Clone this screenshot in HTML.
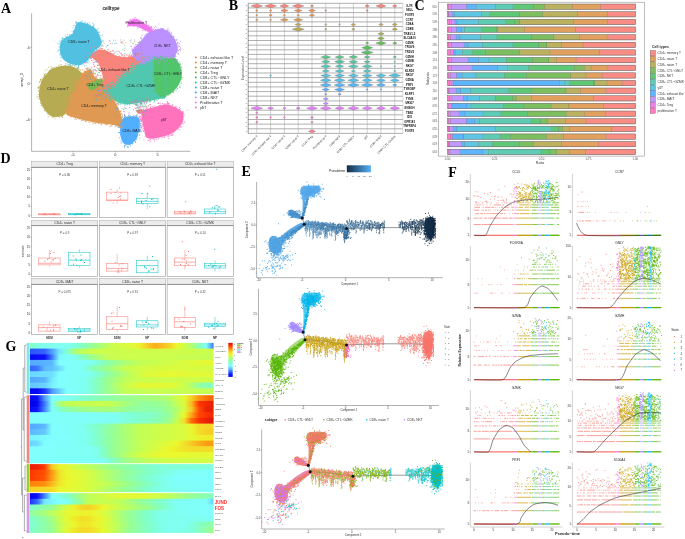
<!DOCTYPE html>
<html><head><meta charset="utf-8"><style>
html,body{margin:0;padding:0;background:#fff;width:685px;height:539px;overflow:hidden}
svg{display:block;will-change:transform}

</style></head><body>
<svg width="685" height="539" viewBox="0 0 685 539" font-family="'Liberation Sans', sans-serif" fill="#000">
<rect width="685" height="539" fill="#fff"/>
<text x="1.0" y="12.6" font-size="14" font-weight="bold" font-family="'Liberation Serif', serif">A</text>
<text x="111.0" y="10.3" font-size="4.6" text-anchor="middle" fill="#111" font-weight="bold">celltype</text>
<path d="M31.6 13.5L31.6 151.3" stroke="#555" stroke-width="0.45"/>
<path d="M31.6 151.3L190.3 151.3" stroke="#555" stroke-width="0.45"/>
<path d="M30.6 47.4L31.6 47.4" stroke="#555" stroke-width="0.4"/>
<text x="29.8" y="48.8" font-size="4" text-anchor="end" fill="#333">4</text>
<path d="M30.6 83.4L31.6 83.4" stroke="#555" stroke-width="0.4"/>
<text x="29.8" y="84.8" font-size="4" text-anchor="end" fill="#333">0</text>
<path d="M30.6 119.4L31.6 119.4" stroke="#555" stroke-width="0.4"/>
<text x="29.8" y="120.8" font-size="4" text-anchor="end" fill="#333">-4</text>
<path d="M73.0 151.3L73.0 152.3" stroke="#555" stroke-width="0.4"/>
<text x="73.0" y="156.3" font-size="3.9" text-anchor="middle" fill="#333">-5</text>
<path d="M115.3 151.3L115.3 152.3" stroke="#555" stroke-width="0.4"/>
<text x="115.3" y="156.3" font-size="3.9" text-anchor="middle" fill="#333">0</text>
<path d="M157.7 151.3L157.7 152.3" stroke="#555" stroke-width="0.4"/>
<text x="157.7" y="156.3" font-size="3.9" text-anchor="middle" fill="#333">5</text>
<text x="22.8" y="80.0" font-size="3.9" text-anchor="middle" fill="#333" transform="rotate(-90 22.8 80.0)">umap_2</text>
<path d="M65.60 113.20 C67.19 115.84 73.94 117.18 77.90 118.50 C81.86 119.82 88.03 121.20 92.00 122.00 C95.97 122.80 100.70 123.27 104.40 123.80 C108.11 124.33 114.06 124.97 116.70 125.50 C119.34 126.03 121.28 128.43 122.00 127.30 C122.72 126.17 121.77 120.11 121.50 118.00 C121.23 115.89 121.03 115.30 120.20 113.20 C119.38 111.10 117.05 106.11 116.00 104.00 C114.95 101.89 114.40 100.90 113.20 99.10 C112.00 97.30 109.32 93.59 108.00 92.00 C106.68 90.41 105.21 90.27 104.40 88.50 C103.59 86.73 103.56 81.62 102.60 80.20 C101.64 78.78 99.22 79.56 98.00 79.00 C96.78 78.44 95.33 77.47 94.50 76.50 C93.67 75.53 93.25 73.47 92.50 72.50 C91.75 71.53 90.55 70.22 89.50 70.00 C88.45 69.78 86.55 70.47 85.50 71.00 C84.45 71.53 83.11 72.99 82.50 73.50 C81.89 74.01 82.09 73.47 81.40 74.40 C80.71 75.33 79.22 77.31 77.90 79.70 C76.58 82.09 74.19 87.12 72.60 90.30 C71.01 93.48 68.35 97.47 67.30 100.90 C66.25 104.34 64.01 110.56 65.60 113.20Z" fill="#df9952"/>
<path d="M46.20 74.40 C47.62 72.77 49.38 70.33 51.50 69.10 C53.62 67.87 57.39 66.64 60.30 66.20 C63.21 65.77 68.26 65.70 70.90 66.20 C73.54 66.70 76.30 68.30 77.90 69.50 C79.51 70.70 81.58 72.48 81.60 74.20 C81.61 75.92 79.14 78.78 78.00 81.00 C76.86 83.22 75.12 86.60 74.00 89.00 C72.88 91.40 71.47 94.60 70.50 97.00 C69.53 99.40 68.23 102.84 67.50 105.00 C66.77 107.16 66.29 109.78 65.60 111.40 C64.91 113.02 64.62 114.97 62.90 115.80 C61.17 116.62 56.35 117.26 54.10 116.90 C51.85 116.54 49.62 114.99 47.90 113.40 C46.17 111.81 43.92 108.72 42.60 106.30 C41.28 103.88 39.55 100.05 39.10 97.30 C38.65 94.55 39.16 90.59 39.60 88.00 C40.04 85.41 41.01 82.04 42.00 80.00 C42.99 77.96 44.78 76.04 46.20 74.40Z" fill="#b6ab52"/>
<path d="M77.90 22.40 C79.39 21.93 82.86 22.42 85.30 23.20 C87.74 23.98 92.20 26.05 94.20 27.60 C96.20 29.15 97.53 31.46 98.60 33.50 C99.66 35.54 100.95 39.39 101.30 41.20 C101.64 43.02 101.62 44.43 100.90 45.60 C100.18 46.77 97.76 47.74 96.50 49.00 C95.24 50.26 93.55 52.58 92.50 54.00 C91.45 55.42 90.62 57.26 89.50 58.50 C88.38 59.74 86.53 61.29 85.00 62.30 C83.47 63.30 81.49 64.98 79.30 65.20 C77.11 65.42 72.84 64.73 70.40 63.80 C67.96 62.87 64.56 60.84 63.00 59.00 C61.44 57.16 60.36 53.96 60.00 51.50 C59.64 49.04 59.93 44.59 60.60 42.60 C61.27 40.61 63.03 39.31 64.50 38.20 C65.97 37.09 69.04 36.09 70.40 35.20 C71.77 34.32 72.85 33.63 73.60 32.30 C74.35 30.96 74.76 27.79 75.40 26.30 C76.05 24.82 76.42 22.86 77.90 22.40Z" fill="#52c1e1"/>
<path d="M103.00 90.00 C102.70 88.80 104.80 88.40 106.00 87.50 C107.20 86.60 109.42 85.28 111.00 84.00 C112.58 82.72 114.85 80.58 116.50 79.00 C118.15 77.42 120.42 75.08 122.00 73.50 C123.58 71.92 125.45 69.86 127.00 68.50 C128.55 67.14 130.80 65.45 132.30 64.40 C133.80 63.35 135.55 62.38 137.00 61.50 C138.45 60.62 140.35 59.10 142.00 58.50 C143.65 57.90 146.02 57.65 148.00 57.50 C149.98 57.35 152.65 57.35 155.20 57.50 C157.75 57.65 163.38 52.88 165.00 58.50 C166.62 64.12 166.56 89.05 166.00 95.00 C165.44 100.95 163.40 97.38 161.30 98.20 C159.20 99.03 154.62 99.94 152.00 100.50 C149.38 101.06 146.35 101.45 143.80 101.90 C141.25 102.35 137.62 103.17 135.00 103.50 C132.38 103.83 128.85 104.26 126.30 104.10 C123.75 103.94 120.06 103.17 118.00 102.40 C115.94 101.64 114.10 100.03 112.60 99.00 C111.10 97.97 109.44 96.85 108.00 95.50 C106.56 94.15 103.30 91.20 103.00 90.00Z" fill="#52c7b0"/>
<path d="M155.20 58.40 C156.82 57.14 162.16 57.72 165.00 57.60 C167.84 57.48 172.07 56.87 174.10 57.60 C176.12 58.34 177.44 60.64 178.50 62.50 C179.56 64.36 180.73 67.75 181.20 70.00 C181.66 72.25 181.96 75.34 181.60 77.50 C181.24 79.66 179.87 82.53 178.80 84.40 C177.74 86.28 175.97 88.48 174.50 90.00 C173.03 91.52 170.88 93.56 169.00 94.50 C167.12 95.44 163.80 96.45 162.00 96.30 C160.20 96.15 158.11 95.05 157.00 93.50 C155.89 91.95 155.08 88.59 154.60 86.00 C154.12 83.41 153.86 79.20 153.80 76.20 C153.74 73.20 153.99 68.67 154.20 66.00 C154.41 63.33 153.58 59.66 155.20 58.40Z" fill="#52c46c"/>
<path d="M90.80 56.00 C90.42 54.42 93.64 52.48 95.00 51.50 C96.36 50.52 98.40 49.68 99.90 49.50 C101.40 49.32 103.64 49.92 105.00 50.30 C106.36 50.67 107.65 51.30 109.00 52.00 C110.35 52.70 112.28 54.31 114.00 55.00 C115.72 55.69 118.70 56.27 120.50 56.60 C122.30 56.93 124.35 57.23 126.00 57.20 C127.65 57.17 130.00 56.79 131.50 56.40 C133.00 56.01 134.81 54.93 136.00 54.60 C137.19 54.27 138.40 54.05 139.40 54.20 C140.41 54.35 142.31 54.75 142.70 55.60 C143.09 56.45 142.85 58.71 142.00 59.90 C141.15 61.09 138.45 62.52 137.00 63.50 C135.55 64.47 133.80 65.35 132.30 66.40 C130.80 67.45 128.55 69.14 127.00 70.50 C125.45 71.86 123.58 73.92 122.00 75.50 C120.42 77.08 118.06 79.45 116.50 81.00 C114.94 82.55 113.17 84.60 111.60 85.80 C110.02 87.00 107.14 88.61 106.00 89.00 C104.86 89.39 104.38 89.45 104.00 88.40 C103.62 87.35 103.72 84.01 103.50 82.00 C103.28 79.99 102.95 77.10 102.50 75.00 C102.05 72.90 101.25 69.95 100.50 68.00 C99.75 66.05 98.95 63.80 97.50 62.00 C96.05 60.20 91.17 57.58 90.80 56.00Z" fill="#f9847c"/>
<path d="M147.30 33.50 C148.68 32.47 151.09 31.32 153.00 30.60 C154.91 29.88 158.12 28.82 160.00 28.70 C161.88 28.58 164.09 29.20 165.50 29.80 C166.91 30.40 168.20 31.62 169.40 32.70 C170.60 33.78 172.53 35.68 173.50 37.00 C174.47 38.32 175.30 40.08 175.90 41.50 C176.50 42.92 177.26 45.08 177.50 46.50 C177.74 47.92 177.78 49.73 177.50 51.00 C177.22 52.27 176.11 54.05 175.60 55.00 C175.09 55.95 175.69 56.91 174.10 57.30 C172.51 57.69 167.84 57.47 165.00 57.60 C162.16 57.73 157.75 57.77 155.20 58.20 C152.65 58.64 149.98 59.86 148.00 60.50 C146.02 61.14 143.57 62.50 142.00 62.50 C140.43 62.50 138.78 61.55 137.50 60.50 C136.22 59.45 134.32 56.92 133.50 55.50 C132.68 54.08 131.78 52.20 132.00 51.00 C132.22 49.80 133.88 48.77 135.00 47.50 C136.12 46.23 138.18 44.00 139.50 42.50 C140.82 41.00 142.63 38.85 143.80 37.50 C144.97 36.15 145.92 34.53 147.30 33.50Z" fill="#bb91ff"/>
<path d="M127.60 21.60 C128.02 20.79 129.69 20.54 131.00 20.20 C132.31 19.86 134.80 19.12 136.30 19.30 C137.80 19.48 139.77 20.77 141.00 21.40 C142.23 22.03 143.51 22.87 144.50 23.50 C145.49 24.13 146.59 24.90 147.60 25.60 C148.60 26.30 150.51 27.54 151.20 28.20 C151.89 28.86 152.47 29.52 152.20 30.00 C151.93 30.48 150.41 31.35 149.40 31.40 C148.40 31.45 146.55 30.68 145.50 30.30 C144.45 29.93 143.44 29.39 142.40 28.90 C141.37 28.40 139.62 27.41 138.60 27.00 C137.58 26.59 136.74 26.34 135.60 26.20 C134.46 26.06 132.11 26.19 131.00 26.10 C129.89 26.01 128.71 26.28 128.20 25.60 C127.69 24.93 127.18 22.41 127.60 21.60Z" fill="#f176ed"/>
<path d="M123.40 118.00 C124.45 117.23 126.97 116.66 128.50 116.40 C130.03 116.15 132.20 116.13 133.60 116.30 C135.00 116.47 136.90 116.87 137.80 117.50 C138.70 118.13 139.33 118.89 139.60 120.50 C139.87 122.11 139.81 126.17 139.60 128.20 C139.39 130.22 138.66 132.47 138.20 134.00 C137.73 135.53 137.16 137.20 136.50 138.40 C135.84 139.60 134.67 141.10 133.80 142.00 C132.93 142.90 131.66 144.00 130.70 144.40 C129.74 144.81 128.28 144.73 127.40 144.70 C126.52 144.67 125.55 144.68 124.80 144.20 C124.05 143.72 122.94 142.37 122.40 141.50 C121.86 140.63 121.53 139.68 121.20 138.40 C120.87 137.12 120.34 134.71 120.20 133.00 C120.06 131.29 120.11 128.72 120.30 127.00 C120.49 125.28 121.03 122.85 121.50 121.50 C121.97 120.15 122.35 118.77 123.40 118.00Z" fill="#52afff"/>
<path d="M142.30 110.70 C143.26 110.07 146.02 109.38 148.00 108.80 C149.98 108.22 153.55 107.33 155.50 106.80 C157.45 106.27 159.25 105.63 161.00 105.30 C162.75 104.97 165.40 104.42 167.20 104.60 C169.00 104.78 171.26 105.81 173.00 106.50 C174.74 107.19 177.45 108.42 178.80 109.20 C180.15 109.98 181.31 110.83 182.00 111.70 C182.69 112.57 183.24 113.83 183.40 115.00 C183.56 116.17 183.34 118.18 183.10 119.50 C182.86 120.82 182.56 122.47 181.80 123.80 C181.04 125.13 179.32 127.08 178.00 128.40 C176.68 129.72 174.57 131.56 173.00 132.60 C171.43 133.63 169.25 134.66 167.50 135.30 C165.75 135.95 163.13 136.45 161.30 136.90 C159.47 137.35 157.06 138.05 155.30 138.30 C153.55 138.56 150.92 138.75 149.60 138.60 C148.28 138.45 147.19 137.92 146.50 137.30 C145.81 136.69 145.38 135.75 145.00 134.50 C144.62 133.25 144.36 130.60 144.00 129.00 C143.64 127.39 142.93 125.60 142.60 123.80 C142.27 122.00 141.95 118.62 141.80 117.00 C141.65 115.38 141.53 113.94 141.60 113.00 C141.67 112.06 141.34 111.33 142.30 110.70Z" fill="#ff73bd"/>
<path d="M136.50 110.50 C136.72 109.90 138.63 109.45 139.50 109.50 C140.37 109.55 142.00 110.24 142.30 110.80 C142.60 111.36 142.15 112.80 141.50 113.20 C140.85 113.61 138.75 113.91 138.00 113.50 C137.25 113.09 136.28 111.10 136.50 110.50Z" fill="#f9847c"/>
<path d="M87.80 84.40 C88.40 83.61 91.47 83.07 93.00 82.50 C94.53 81.93 96.53 81.03 98.00 80.60 C99.47 80.16 102.26 79.27 102.80 79.60 C103.34 79.93 102.14 81.84 101.60 82.80 C101.06 83.76 100.12 85.17 99.20 86.00 C98.28 86.83 96.58 87.67 95.50 88.30 C94.42 88.93 92.97 90.28 92.00 90.20 C91.03 90.12 89.63 88.67 89.00 87.80 C88.37 86.93 87.20 85.20 87.80 84.40Z" fill="#74ba52"/>
<path transform="scale(.25)" d="M345 274h0m4 1h0m-19 4h0m7 7h0m1 1h0m10-7h0m0-2h0m5-1h0m6-1h0m1 5h0m0-3h0m1 1h0m2 4h0m1 0h0m2 2h0m3-5h0m-45 19h0m2-3h0m1-3h0m0 2h0m3-2h0m10-5h0m26 3h0m6 5h0m1-5h0m1 1h0m5 1h0m0 4h0m-60 4h0m62 5h0m4-3h0m1 8h0m3-2h0m3-8h0m-86 22h0m0-5h0m3 0h0m12 0h0m61-5h0m10 8h0m1-1h0m5-3h0m2-1h0m3 1h0m5-2h0m3 4h0m5 4h0m2-8h0m-128 20h0m8-8h0m6 7h0m5-7h0m102 3h0m1 0h0m3 1h0m-122 10h0m0 4h0m6-2h0m1 2h0m0-8h0m3-1h0m4 0h0m110 4h0m-130 10h0m4 5h0m5-7h0m122 1h0m3 3h0m0 1h0m0 6h0m1-9h0m5 6h0m1-7h0m-144 20h0m9-3h0m127 2h0m3-4h0m3-4h0m1 5h0m3-4h0m3 1h0m-155 14h0m5 4h0m0-5h0m2 8h0m149-11h0m1 3h0m0-3h0m1 6h0m1-5h0m3 3h0m0 2h0m6 0h0m-184 16h0m7-3h0m1-3h0m2 7h0m3-9h0m0 2h0m1 7h0m1-8h0m2-1h0m161-1h0m4 1h0m3 0h0m0 2h0m0 2h0m8-1h0m-191 17h0m1-5h0m2 1h0m1 1h0m0-7h0m4 2h0m178 1h0m5-1h0m1 5h0m3-3h0m-194 15h0m3-3h0m3 5h0m5-4h0m179-3h0m4 6h0m2-8h0m2 10h0m0-8h0m1 3h0m8 0h0m-213 15h0m6-4h0m5 2h0m197 1h0m0-7h0m2 1h0m2 9h0m-214 12h0m1-1h0m3-7h0m3 9h0m1-6h0m211 6h0m5 0h0m-230 12h0m4 0h0m7-8h0m1 4h0m0-1h0m10 4h0m203-9h0m1-1h0m1 2h0m3 8h0m1-10h0m0 11h0m1-9h0m0 3h0m-227 7h0m13 2h0m1 1h0m2-2h0m3 5h0m1-4h0m8 8h0m3-1h0m193 1h0m1-2h0m0-4h0m1 6h0m2-9h0m2-1h0m1 10h0m-204 2h0m11 1h0m5 7h0m2-6h0m1 2h0m1 0h0m2 6h0m2-10h0m3 5h0m1-2h0m5 1h0m2 4h0m5-1h0m19 2h0m138-8h0m3 2h0m2 1h0m1 5h0m4 0h0m-164 5h0m2 0h0m8 0h0m0-1h0m6 5h0m3 1h0m3-7h0m3 0h0m3 2h0m3 8h0m0-10h0m12 9h0m3-3h0m17 3h0m6-5h0m5 6h0m22 0h0m64-7h0m0 4h0m1 4h0m2-6h0m1-2h0m-118 12h0m5-3h0m5 0h0m1 2h0m10-1h0m1-1h0m5 1h0m5 6h0m2-6h0m0 5h0m14-2h0m3 1h0m4 3h0m2-2h0m2-2h0m13 4h0m1 2h0m5-3h0m3-3h0m12 6h0m8-1h0m0 2h0m1-1h0m1-1h0m0 2h0m11-1h0m-47 5h0m5-2h0m17 2h0m2-3h0m4 0h0m4 3h0m5 1h0m0 2h0m2-2h0m2-2h0m3 3h0m1 2h0m4-7h0m4 4h0m0-3h0m1 8h0" stroke="#df9952" stroke-width="3" stroke-linecap="square" fill="none"/>
<path transform="scale(.25)" d="M237 261h0m7-2h0m1 0h0m15 4h0m2-1h0m1 0h0m6-3h0m8 4h0m2-3h0m1-4h0m2 1h0m10 5h0m8 1h0m-105 6h0m9-2h0m1 7h0m2-2h0m5-1h0m5 0h0m8-4h0m11-3h0m9 10h0m17-6h0m16-1h0m9 2h0m2 5h0m1-5h0m3 1h0m0 2h0m6-1h0m6 4h0m4-1h0m1-3h0m5 3h0m0-3h0m-135 12h0m8-5h0m9 6h0m1-2h0m6 3h0m9-8h0m30-1h0m66 0h0m4 1h0m6 8h0m1-7h0m3 3h0m-145 17h0m1-2h0m3-1h0m15-7h0m2 1h0m119 5h0m0-5h0m3 0h0m4 7h0m0 2h0m1-5h0m1 0h0m-152 14h0m2-3h0m1-3h0m1 9h0m1-8h0m1 0h0m6 1h0m1-1h0m131 9h0m4-5h0m1-3h0m1-3h0m-163 23h0m0-6h0m1 1h0m2 1h0m4-7h0m3 11h0m3-10h0m137 10h0m0-8h0m1 1h0m3 0h0m2-4h0m1 0h0m-161 18h0m1-4h0m6-1h0m1 3h0m145 7h0m1-6h0m2 3h0m-158 12h0m4 1h0m136-1h0m4-1h0m5 1h0m-153 6h0m1 4h0m1-4h0m3-1h0m2 3h0m7-3h0m131 2h0m0 2h0m2 2h0m1-1h0m2-5h0m0 6h0m1-7h0m0 9h0m1-7h0m-150 12h0m2 1h0m0 4h0m2 2h0m3-1h0m4-6h0m125 8h0m1 0h0m3-10h0m0 2h0m1-1h0m3 0h0m-145 17h0m6-6h0m135 4h0m-146 13h0m4-4h0m5-1h0m2 11h0m120-11h0m1 10h0m3-10h0m6 3h0m-136 9h0m14 9h0m112 2h0m4-2h0m2-6h0m-123 13h0m2 2h0m5 1h0m100 0h0m2 1h0m2-3h0m0 4h0m1-7h0m-109 12h0m1-2h0m5 9h0m4-9h0m91 10h0m2-10h0m0 9h0m4-1h0m0-8h0m2 0h0m-97 12h0m0 11h0m0-5h0m3 4h0m0-5h0m85-4h0m0 1h0m2 8h0m4-7h0m-87 11h0m3-1h0m2 7h0m0-3h0m8 6h0m5-3h0m58-8h0m0 3h0m3 7h0m-71 5h0m6 0h0m1-1h0m5 6h0m5 3h0m17-2h0m2 1h0m2-2h0m2-2h0m1 3h0m1 1h0m12 0h0m3-8h0m1 7h0m4-8h0m1 0h0m0 1h0m3-2h0m-65 12h0m17 0h0m5 1h0m5 6h0m18-6h0m12 1h0" stroke="#b6ab52" stroke-width="3" stroke-linecap="square" fill="none"/>
<path transform="scale(.25)" d="M329 83h0m-26 5h0m1 3h0m0 2h0m2-5h0m0 3h0m7-1h0m7-1h0m2-1h0m4 4h0m1-4h0m8 5h0m5-6h0m4 4h0m6 3h0m1-1h0m6-2h0m14 2h0m-77 9h0m6 1h0m4-1h0m30-4h0m8 0h0m8-2h0m2 2h0m0 2h0m6 0h0m0 2h0m3-2h0m10 5h0m3 0h0m1-3h0m1-4h0m-84 13h0m8 8h0m1-9h0m55-1h0m15-1h0m0 3h0m1 2h0m0-5h0m4 4h0m0 5h0m5 2h0m7-1h0m4-4h0m-104 13h0m5 1h0m1-2h0m0 4h0m0-7h0m1 3h0m1 3h0m1-6h0m3-3h0m1 0h0m74 7h0m14-4h0m6 6h0m1 1h0m0-1h0m-135 14h0m9-5h0m8 2h0m2-2h0m5 0h0m101 4h0m2-6h0m2 7h0m7-5h0m6 5h0m6-2h0m-160 12h0m0-1h0m4 2h0m7 0h0m4-6h0m3 1h0m1-2h0m5-2h0m0 2h0m126 4h0m1 1h0m-163 13h0m7-2h0m1 4h0m3-4h0m1-7h0m1 0h0m5 10h0m5-7h0m136 3h0m6-3h0m2 1h0m2 5h0m2-1h0m4 1h0m1-4h0m-181 13h0m5 2h0m7-5h0m6 1h0m149 5h0m2-5h0m2-4h0m3 3h0m-169 17h0m3 0h0m3-3h0m2-4h0m2 4h0m140 6h0m1-1h0m1-1h0m5 0h0m1-4h0m2 0h0m9-1h0m5-1h0m-177 18h0m3-2h0m6-4h0m2 4h0m134 1h0m0-5h0m7 6h0m0-5h0m0 2h0m4-3h0m8 5h0m4-8h0m-171 13h0m9 10h0m1-1h0m7-7h0m7 8h0m116-8h0m0 6h0m0-1h0m1 3h0m4-6h0m5-3h0m0 3h0m2-3h0m-143 15h0m4-5h0m3 1h0m3 9h0m2-2h0m108 1h0m19-8h0m1 6h0m1 2h0m-140 5h0m7-1h0m7 5h0m1-1h0m0 4h0m7-1h0m2-1h0m86 3h0m1-6h0m5-4h0m0 2h0m3 1h0m3 4h0m1-6h0m0 4h0m-121 11h0m25-1h0m2 8h0m3-6h0m0-2h0m2-2h0m1 4h0m30 3h0m22 3h0m1-7h0m1 7h0m8-6h0m1 6h0m2-4h0m1-6h0m1 4h0m0-1h0m0 2h0m2 3h0m3-7h0m4 0h0m0 8h0m4-5h0m-93 9h0m12 4h0m6-2h0m0 7h0m1-10h0m1 8h0m3 2h0m5-5h0m8 5h0m4-10h0m1 5h0m0 2h0m10 3h0m0-1h0m4-7h0m9 0h0m1-1h0m0 2h0m0 3h0m2-7h0m5 4h0m10 7h0m-41 2h0m5 5h0m4 0h0m1-4h0m24-2h0" stroke="#52c1e1" stroke-width="3" stroke-linecap="square" fill="none"/>
<path transform="scale(.25)" d="M579 225h0m18 2h0m0-7h0m17 5h0m15-2h0m-72 12h0m6-2h0m5-4h0m1 4h0m4 1h0m2 2h0m5-3h0m0 5h0m13-7h0m0-3h0m11 3h0m7-2h0m1 1h0m6 4h0m1-4h0m1 3h0m8-3h0m11-2h0m2 0h0m3 1h0m0 4h0m6 1h0m7 3h0m1 0h0m2-1h0m-114 7h0m3 3h0m2-1h0m4-5h0m105 4h0m-145 19h0m7-1h0m8-1h0m0-6h0m4-2h0m9 2h0m110 4h0m6-5h0m2 6h0m-133 6h0m127 3h0m3-1h0m7 4h0m0-1h0m-179 14h0m5 2h0m5-8h0m3 3h0m1 1h0m9-6h0m150 10h0m3-11h0m7 8h0m-182 7h0m2 6h0m4-1h0m2-2h0m3-6h0m164 6h0m-196 10h0m4-2h0m0 7h0m4 0h0m1-2h0m3-4h0m3 0h0m11-3h0m168 7h0m3-3h0m1 1h0m0 2h0m1-3h0m-212 19h0m9-5h0m1-5h0m4 0h0m196 9h0m3-3h0m3 3h0m-229 10h0m2 1h0m1-1h0m4 3h0m0-5h0m1 0h0m2 0h0m3-4h0m0 1h0m1-1h0m1 5h0m204-7h0m4 6h0m1 3h0m3 2h0m-240 12h0m1-8h0m0 8h0m7-7h0m9 2h0m218-5h0m4 9h0m1-6h0m-246 10h0m3 2h0m2-3h0m243-1h0m3 1h0m6 5h0m-274 6h0m3 4h0m7 6h0m0-9h0m249 0h0m1 2h0m2 5h0m-244 15h0m2-10h0m2 2h0m235 1h0m1-3h0m2-1h0m4 0h0m-243 17h0m11 5h0m1-9h0m0 4h0m2 1h0m1 2h0m5-1h0m10 4h0m176-4h0m13-3h0m2 5h0m4-1h0m0 2h0m0-1h0m1 0h0m2-6h0m1-3h0m8 1h0m5 0h0m-225 11h0m2 6h0m17-1h0m47 4h0m32 1h0m28-1h0m8 0h0m0 2h0m8-8h0m17 2h0m2 4h0m15-4h0m0 4h0m3-4h0m7 1h0m6-5h0m-163 17h0m5-2h0m2-3h0m1 7h0m0-7h0m3 6h0m1 1h0m5 0h0m9 3h0m8-5h0m2 5h0m2-3h0m0-3h0m7 2h0m2 4h0m1-4h0m4 1h0m9 0h0m7 1h0m2-9h0m3 9h0m0-1h0m10-6h0m8 5h0m2-6h0m0 2h0m2 3h0m1 2h0m11 0h0m7-1h0m0-3h0m4-3h0m11-1h0m16 0h0m-143 12h0m28 0h0" stroke="#52c7b0" stroke-width="3" stroke-linecap="square" fill="none"/>
<path transform="scale(.25)" d="M624 225h0m18-1h0m6 3h0m7-1h0m6-1h0m10 0h0m8 2h0m4-1h0m9-4h0m10 2h0m-85 4h0m1 7h0m2 3h0m0-3h0m1 4h0m2-1h0m1-6h0m3 3h0m2-7h0m1 1h0m10-1h0m1 7h0m1-7h0m4 5h0m5-2h0m6 1h0m1-1h0m1 4h0m0-4h0m3 1h0m4-3h0m3 5h0m7 4h0m14-2h0m4-2h0m5-3h0m6 8h0m4-1h0m-89 4h0m0 4h0m1-1h0m5-5h0m1 10h0m76-9h0m0 4h0m1 5h0m4-9h0m11 7h0m-102 10h0m0-5h0m1 8h0m0-7h0m1-1h0m92 8h0m7-5h0m1 2h0m1-3h0m0 5h0m1-1h0m-107 5h0m1 8h0m5-1h0m2 2h0m100-6h0m4 5h0m0-3h0m-117 18h0m5-6h0m3 1h0m105-6h0m1 3h0m2 2h0m1 2h0m-114 8h0m1-1h0m-5 17h0m1-1h0m1-3h0m5 1h0m2 0h0m109 7h0m5 0h0m-116 4h0m1 8h0m102-1h0m5-8h0m4 5h0m-112 6h0m3 2h0m1 7h0m95-7h0m0 2h0m1 3h0m9-5h0m1 7h0m-103 8h0m79 3h0m1-7h0m2 3h0m1 4h0m7-8h0m1-1h0m7 4h0m-107 9h0m8 8h0m1 2h0m1-6h0m78-2h0m4 8h0m2-11h0m2 6h0m1 0h0m9-6h0m1 1h0m-102 16h0m1-1h0m2 0h0m5-3h0m52 5h0m3 1h0m11 2h0m1 0h0m0-1h0m2-7h0m4 2h0m-71 12h0m3 5h0m2-4h0m8 5h0m4 0h0m7-2h0m9 0h0m8 1h0m6 1h0m2-5h0m3-3h0m2 2h0m-43 13h0m2-4h0m0 1h0m1 0h0m0 6h0m14-6h0m1-1h0m0 4h0m0-3h0m4 0h0" stroke="#52c46c" stroke-width="3" stroke-linecap="square" fill="none"/>
<path transform="scale(.25)" d="M363 190h0m16-4h0m16 5h0m-36 3h0m15 0h0m16 7h0m4-1h0m0 2h0m5-10h0m0 3h0m3 7h0m5-1h0m1-7h0m0-1h0m0 8h0m10-2h0m2 2h0m1 1h0m10-4h0m5 2h0m14 3h0m-98 12h0m16-5h0m5 4h0m2 0h0m1-5h0m3 2h0m11-4h0m6 1h0m6 0h0m11 5h0m2-3h0m0-5h0m2-1h0m6 1h0m7 7h0m1-2h0m9-2h0m5-3h0m1 10h0m10-2h0m25 0h0m73 2h0m4-1h0m5 0h0m3-3h0m2 1h0m-209 13h0m8-4h0m1 2h0m3 0h0m1-1h0m1 1h0m2 3h0m8 0h0m57-4h0m0-1h0m7 1h0m1-5h0m2 4h0m1-5h0m2 5h0m0-5h0m1 4h0m3-4h0m4 11h0m17-3h0m1 2h0m8-5h0m0-2h0m8 5h0m10-5h0m2 1h0m5 1h0m1 6h0m1-2h0m4-2h0m0-5h0m3 5h0m2 4h0m1-1h0m2-4h0m6 5h0m0-10h0m1 6h0m7-3h0m3-1h0m0-1h0m1 3h0m0-1h0m3-4h0m3 5h0m2 2h0m1-5h0m3-2h0m11 7h0m3 4h0m1-2h0m-213 4h0m4 0h0m1 2h0m0 4h0m3-2h0m9 6h0m1-10h0m4 10h0m2-1h0m75-9h0m7 5h0m17-1h0m3 3h0m4-2h0m4 5h0m3-10h0m1 10h0m0-10h0m1 4h0m5-5h0m1 2h0m1 3h0m1-3h0m8-1h0m6-1h0m2 1h0m8 0h0m33 5h0m2-2h0m1-1h0m1 5h0m1-1h0m4 2h0m1-1h0m6-6h0m10 1h0m-216 12h0m9 2h0m4-4h0m3 8h0m4-2h0m1 0h0m3-2h0m2 3h0m75-5h0m76 5h0m3-2h0m1 3h0m2-4h0m1 4h0m1-4h0m3 1h0m1-1h0m0-1h0m0 7h0m1-6h0m5-4h0m3 10h0m1-11h0m1 7h0m3-6h0m-198 22h0m14-2h0m4-4h0m4 3h0m4-6h0m1 7h0m8-6h0m101 8h0m21-1h0m1-5h0m4 2h0m1-1h0m3-2h0m1 0h0m0 7h0m1-6h0m1-2h0m4-3h0m3 0h0m4 1h0m-180 13h0m22 4h0m14-1h0m92 6h0m2-9h0m4 9h0m1-6h0m2-1h0m10-3h0m3 5h0m5 2h0m4 2h0m1-9h0m1 2h0m1 1h0m2 4h0m-156 13h0m13-6h0m0 2h0m4 4h0m0-2h0m0-1h0m5 5h0m0-10h0m10 10h0m77-8h0m6 4h0m4-3h0m1-2h0m1 3h0m2 4h0m6 1h0m1-8h0m1 3h0m2-5h0m4 3h0m7 2h0m-120 12h0m6-1h0m7 6h0m60-7h0m2 5h0m14-7h0m2 5h0m2-4h0m1 4h0m11-2h0m4-3h0m6 0h0m11-1h0m-134 14h0m0 8h0m2-8h0m10 2h0m6-4h0m5 7h0m46 3h0m2 0h0m4-10h0m2 11h0m4-4h0m2 1h0m15-6h0m0 2h0m4 2h0m-95 11h0m1-4h0m1 4h0m0-1h0m5 5h0m13 1h0m32-5h0m5 3h0m4 0h0m1-1h0m7 2h0m1 0h0m1-4h0m14-5h0m-92 20h0m6 2h0m2-7h0m2 4h0m1 1h0m1-4h0m2-3h0m0 4h0m1 4h0m5-3h0m8 3h0m8 0h0m8-1h0m1-6h0m1 6h0m9 1h0m2-5h0m2 0h0m0-1h0m1 8h0m0-5h0m2-6h0m0 9h0m2-9h0m0 9h0m3 0h0m3-9h0m2 6h0m0-6h0m-63 14h0m2 2h0m0-1h0m1-3h0m13 11h0m6-6h0m10 2h0m6-6h0m1 10h0m2-8h0m7 4h0m0-1h0m3-1h0m0-5h0m8 0h0m-60 15h0m3 6h0m7-1h0m4 0h0m1 1h0m0-1h0m8 2h0m9-6h0m2 2h0m14-4h0m-50 17h0m14-1h0m-5 11h0m8 2h0" stroke="#f9847c" stroke-width="3" stroke-linecap="square" fill="none"/>
<path transform="scale(.25)" d="M622 106h0m13-10h0m-29 13h0m12 2h0m4 7h0m2 0h0m2-9h0m6 3h0m6 7h0m5-6h0m2 2h0m2 1h0m2-1h0m1-1h0m4 1h0m16 2h0m3-3h0m-76 14h0m1-3h0m3 6h0m1-8h0m1-1h0m3 0h0m1 1h0m4 3h0m0 2h0m9-3h0m7 3h0m13-7h0m0 1h0m8 0h0m0-1h0m20 10h0m0-9h0m1 8h0m1-3h0m1-6h0m1 2h0m1 0h0m4 6h0m2 1h0m0-5h0m7 6h0m-118 11h0m9-1h0m6-2h0m3-4h0m9-2h0m3 3h0m1 0h0m11 4h0m57-8h0m14 6h0m3-4h0m3 2h0m-126 15h0m4 2h0m0 2h0m1-3h0m11-4h0m105 3h0m7-4h0m5-1h0m1 3h0m0-5h0m-137 21h0m1 2h0m8-1h0m2-5h0m0-4h0m6 1h0m116 8h0m1-7h0m2 7h0m1-1h0m5-6h0m0 2h0m7-3h0m0 4h0m0-3h0m15 6h0m-189 8h0m17 6h0m4-9h0m5 1h0m2 0h0m4-3h0m5 4h0m135 4h0m4-1h0m2-6h0m0 2h0m0 4h0m1-2h0m6 1h0m-179 14h0m0-3h0m1 4h0m5 1h0m5-3h0m1-2h0m153 6h0m7-2h0m0-7h0m3 3h0m4 1h0m4 5h0m-194 10h0m1-5h0m0 1h0m4 0h0m2 0h0m3 4h0m0-8h0m167 8h0m1 1h0m1-8h0m2 3h0m4 5h0m1-1h0m4-3h0m2 0h0m2 5h0m1-7h0m-190 15h0m0-5h0m6 3h0m160 3h0m11 0h0m3-8h0m1 10h0m-184 12h0m3-8h0m1 0h0m9 7h0m110 0h0m9-3h0m4 2h0m6 3h0m17-11h0m8 11h0m6-1h0m10-9h0m-178 13h0m0 3h0m9 4h0m4-9h0m5 9h0m8 2h0m1-6h0m8 6h0m25-5h0m30 1h0m0-3h0m1 5h0m7-7h0m1 1h0m0-3h0m0 2h0m7 7h0m1-3h0m4-2h0m3-4h0m6 6h0m1-5h0m2-1h0m1 5h0m1-5h0m12 5h0m2-1h0m3 0h0m1-1h0m2 0h0m2-3h0m6 5h0m2-1h0m6-1h0m1-3h0m-154 13h0m8 5h0m12 2h0m1-8h0m1 5h0m0 3h0m1-2h0m1 1h0m1 1h0m1-3h0m7-1h0m5 5h0m5-1h0m6 0h0m3-6h0m0-1h0m2 1h0m0 3h0m1-1h0m4 2h0m19-6h0m14 8h0m4-7h0m5 0h0m13 4h0m11-4h0m38 3h0m-152 13h0m8-2h0m3-3h0m6 2h0m1-2h0m4 3h0m1 1h0m1-4h0m5 0h0m13 6h0m37-3h0" stroke="#bb91ff" stroke-width="3" stroke-linecap="square" fill="none"/>
<path transform="scale(.25)" d="M541 71h0m-20 9h0m0-2h0m7-2h0m3 2h0m2 2h0m3-7h0m0 6h0m1-3h0m1 1h0m5 2h0m3 0h0m0-3h0m6 3h0m5 4h0m-50 11h0m3-4h0m4 0h0m2-3h0m41-3h0m6 0h0m1 4h0m1-4h0m5 3h0m1 4h0m3-1h0m2 4h0m8-5h0m-75 11h0m1 7h0m1-4h0m2 1h0m1-1h0m3-3h0m3 1h0m0 3h0m1-2h0m2 2h0m11-2h0m2 4h0m3-3h0m6-1h0m4 4h0m37-7h0m1-3h0m6 7h0m2 1h0m0-3h0m10 6h0m-54 4h0m1 1h0m8-3h0m1 1h0m14 4h0m1 4h0m0-1h0m2 2h0m21-11h0m1 1h0m2-1h0m3 2h0m1 2h0m1-4h0m0 11h0m4-4h0m1 4h0m1-2h0m2 1h0m-45 4h0m6-1h0m6 0h0m0 2h0m7 3h0m1-5h0m2 4h0m2-3h0m1 1h0m0 2h0m3-2h0m0 2h0m1 2h0m2 0h0m1-1h0m3-1h0m3-1h0m1-2h0m0 4h0" stroke="#f176ed" stroke-width="3" stroke-linecap="square" fill="none"/>
<path transform="scale(.25)" d="M491 467h0m6-2h0m1-7h0m0 4h0m2 1h0m1 2h0m10 2h0m4-5h0m0 1h0m3 4h0m2-6h0m26 6h0m0-5h0m3 2h0m-62 10h0m2 5h0m5-4h0m4-5h0m5-1h0m0-1h0m17 0h0m4 5h0m14-1h0m10 0h0m0 1h0m1 0h0m2-3h0m3 5h0m1-1h0m1 2h0m3-7h0m-78 15h0m11-1h0m1 0h0m56 3h0m2-5h0m4-1h0m2 7h0m2-4h0m1-2h0m4 4h0m-92 15h0m9-4h0m1 1h0m2 3h0m1-3h0m76 5h0m0-5h0m2-3h0m0 9h0m2-8h0m-90 15h0m1-2h0m77-4h0m7 6h0m0 1h0m6 0h0m-84 8h0m2 3h0m6-5h0m64 3h0m4 6h0m3-2h0m0-7h0m0 6h0m3 2h0m1 0h0m-91 6h0m3-1h0m0 1h0m3-1h0m2 6h0m1 3h0m2-4h0m67-7h0m6 11h0m1-10h0m-81 22h0m6-7h0m1-3h0m2 0h0m1 10h0m53-6h0m8 1h0m0-5h0m8 0h0m-68 17h0m49 0h0m1 5h0m0-4h0m6-2h0m0 2h0m3-6h0m11-1h0m-76 12h0m2 8h0m3-3h0m6 1h0m12-2h0m9 2h0m3 4h0m11-2h0m2 2h0m11-8h0m0 4h0m-44 12h0m0 4h0m2-4h0m2-2h0m7 6h0m8-9h0m1 1h0m4 5h0m7-7h0m-31 14h0m13 0h0m3-2h0" stroke="#52afff" stroke-width="3" stroke-linecap="square" fill="none"/>
<path transform="scale(.25)" d="M669 406h0m-70 13h0m3-1h0m29-4h0m3 0h0m0-2h0m7 0h0m9 2h0m3 2h0m5 3h0m2-5h0m1 5h0m6-3h0m2-1h0m1-6h0m1 7h0m0-3h0m2-1h0m1 2h0m2 4h0m0-4h0m15 5h0m-108 8h0m19 3h0m1-5h0m7 2h0m7-3h0m4 4h0m6 2h0m3 1h0m4-6h0m4-3h0m4-2h0m7 4h0m16-2h0m1 2h0m22-3h0m2 1h0m3 9h0m4-2h0m2 2h0m2-6h0m1 6h0m1-1h0m4-3h0m10 2h0m1 1h0m-159 6h0m9 4h0m8-4h0m5 5h0m3-9h0m3 11h0m0-10h0m8 3h0m4 0h0m3-3h0m87 1h0m15-1h0m12 7h0m1-2h0m3 2h0m1-6h0m28 7h0m-189 13h0m4-6h0m8 6h0m2-10h0m12 6h0m7-4h0m115-2h0m20 8h0m1-2h0m0-4h0m1 9h0m1-8h0m1 4h0m1-3h0m1 7h0m-171 10h0m4-5h0m5-1h0m153 3h0m2 3h0m3-7h0m0 9h0m1-8h0m1-3h0m4 11h0m1-9h0m-180 21h0m1-11h0m4 10h0m0-1h0m1-4h0m1-2h0m0-3h0m2 11h0m1-2h0m1-4h0m3-2h0m1 2h0m158-2h0m2-2h0m1 10h0m-169 6h0m2-3h0m1 2h0m1 3h0m0-5h0m154 7h0m3-9h0m4 6h0m7 1h0m3 3h0m-169 9h0m135 1h0m15 1h0m0-1h0m10-7h0m2 1h0m-168 11h0m0-1h0m3 3h0m1 5h0m2-8h0m3 10h0m139-5h0m1 5h0m6-5h0m2-4h0m2 5h0m4-3h0m-157 13h0m3 2h0m1 4h0m4-6h0m0-3h0m0-1h0m1 1h0m2 3h0m94 5h0m28-4h0m8-3h0m8 1h0m-133 14h0m54 4h0m27-7h0m6 6h0m0 2h0m9-7h0m0 8h0m3-9h0m2 6h0m2-7h0m0 7h0m2-4h0m1 6h0m1-10h0m4 0h0m-117 18h0m7 3h0m18-7h0m14 2h0m3 3h0m11 2h0m12-5h0m1-4h0m2 3h0m0 3h0m4 3h0m6 1h0m1-3h0m1-5h0m9 3h0m4-4h0m1 4h0m3-2h0m9-1h0m3 0h0m-113 18h0m16 2h0m3-10h0m1 10h0m3-10h0m0 11h0m3-5h0m10-1h0m0-4h0m4 2h0m3 4h0m8-1h0m8-3h0m12-3h0m27 2h0m-71 13h0m15-3h0" stroke="#ff73bd" stroke-width="3" stroke-linecap="square" fill="none"/>
<path transform="scale(.25)" d="M544 443h0m13-2h0m0 1h0m2-2h0m6 3h0m2-3h0m6 1h0m4 1h0m-29 3h0m1 3h0m4 4h0m4 1h0m1-9h0m4 7h0m0-4h0m5-2h0m9 1h0m-27 12h0m20 0h0" stroke="#f9847c" stroke-width="3" stroke-linecap="square" fill="none"/>
<path transform="scale(.25)" d="M382 322h0m2 0h0m5-1h0m3 0h0m3-1h0m8-3h0m0 3h0m1-3h0m1 4h0m4 0h0m1 2h0m8-8h0m-56 18h0m8-6h0m1 0h0m0 1h0m9 7h0m1-9h0m2 1h0m1-2h0m1 3h0m1-4h0m0 3h0m20 0h0m0 3h0m5 2h0m3-4h0m-60 8h0m3 8h0m1 1h0m0-2h0m50-7h0m-53 16h0m16 5h0m0-1h0m8 0h0m1-3h0m9-2h0m9 3h0m-37 10h0" stroke="#74ba52" stroke-width="3" stroke-linecap="square" fill="none"/>
<path transform="scale(.25)" d="M340 231h0m42 5h0m10-8h0m-42 23h0m34-4h0m-19 22h0m13-2h0m-10 19h0m7-6h0m-38 23h0" stroke="#f8766d" stroke-width="2.8" stroke-linecap="square" fill="none"/>
<path transform="scale(.25)" d="M384 234h0m-41 18h0m1 21h0m9-2h0m34 0h0m-24 12h0m-26 19h0m26 9h0m-13 1h0m11 5h0" stroke="#db8e3f" stroke-width="2.8" stroke-linecap="square" fill="none"/>
<path transform="scale(.25)" d="M347 246h0m40 2h0m-30 29h0m18 15h0m15 7h0m-34 3h0m36-1h0m-30 16h0m20 3h0m2-2h0" stroke="#3fbade" stroke-width="2.8" stroke-linecap="square" fill="none"/>
<path transform="scale(.25)" d="M350 236h0m16 6h0m25 19h0m-24 12h0m24 1h0m-18 7h0m-18 11h0m40-2h0m-48 16h0m45 13h0" stroke="#3fc1a7" stroke-width="2.8" stroke-linecap="square" fill="none"/>
<path transform="scale(.25)" d="M342 226h0m24 5h0m13 18h0m8-4h0m-13 13h0m5 8h0m-28 14h0m28-1h0m-29 13h0m40 5h0" stroke="#b385ff" stroke-width="2.8" stroke-linecap="square" fill="none"/>
<path transform="scale(.25)" d="M363 225h0m18 0h0m-20 3h0m25 9h0m11-5h0m2 29h0m-63 19h0m46 1h0m5 1h0m10 37h0" stroke="#aea23f" stroke-width="2.8" stroke-linecap="square" fill="none"/>
<path transform="scale(.25)" d="M338 247h0m37 3h0m14-6h0m-40 28h0m12 7h0m19 0h0m-16 11h0m18 4h0m-23 13h0m-18 6h0" stroke="#3fa6ff" stroke-width="2.8" stroke-linecap="square" fill="none"/>
<path transform="scale(.25)" d="M344 230h0m26 0h0m-32 21h0m34 1h0m20 10h0m-19 24h0m25 5h0m-54 9h0m4 6h0m37 1h0" stroke="#ff63b6" stroke-width="2.8" stroke-linecap="square" fill="none"/>
<path transform="scale(.25)" d="M441 174h0m42-4h0m20 1h0m-91 13h0m154 16h0m-141 7h0m7 4h0m22-6h0m3 18h0m14-6h0" stroke="#f8766d" stroke-width="2.8" stroke-linecap="square" fill="none"/>
<path transform="scale(.25)" d="M454 161h0m66 2h0m-30 5h0m41 6h0m-123 20h0m90 7h0m-56 6h0m19 2h0m91 3h0m-142 11h0" stroke="#db8e3f" stroke-width="2.8" stroke-linecap="square" fill="none"/>
<path transform="scale(.25)" d="M439 163h0m86-3h0m-76 13h0m12 1h0m6-1h0m19-1h0m37-4h0m25 9h0m-70 31h0m44 4h0" stroke="#3fbade" stroke-width="2.8" stroke-linecap="square" fill="none"/>
<path transform="scale(.25)" d="M463 161h0m79 18h0m-134 1h0m17 8h0m74-5h0m-8 16h0m9-6h0m-14 22h0m13 8h0m44-2h0" stroke="#3fc1a7" stroke-width="2.8" stroke-linecap="square" fill="none"/>
<path transform="scale(.25)" d="M538 160h0m-14 26h0m24-5h0m-10 20h0m-108 4h0m9 9h0m5 0h0m96-1h0m-8 10h0m9-7h0" stroke="#b385ff" stroke-width="2.8" stroke-linecap="square" fill="none"/>
<path transform="scale(.25)" d="M496 161h0m43 5h0m-123 6h0m76 3h0m61-5h0m8 2h0m-133 38h0m-14 7h0m50 4h0m33-1h0" stroke="#aea23f" stroke-width="2.8" stroke-linecap="square" fill="none"/>
<path transform="scale(.25)" d="M483 160h0m-52 22h0m36 23h0m33 9h0m44-2h0m-96 4h0m79 3h0m14 1h0m11-4h0m15 2h0" stroke="#3fa6ff" stroke-width="2.8" stroke-linecap="square" fill="none"/>
<path transform="scale(.25)" d="M439 164h0m48 3h0m-57 15h0m96 4h0m11 3h0m27 2h0m-112 11h0m-11 11h0m32-7h0m17 14h0" stroke="#ff63b6" stroke-width="2.8" stroke-linecap="square" fill="none"/>
<path transform="scale(.25)" d="M547 404h0m25 3h0m-9 19h0m-89 11h0m20 8h0m69 5h0m-83 7h0m19 3h0m1 7h0m-32 4h0" stroke="#f8766d" stroke-width="2.8" stroke-linecap="square" fill="none"/>
<path transform="scale(.25)" d="M511 402h0m10 7h0m14 1h0m17 5h0m13-2h0m10 15h0m-105 36h0m20-1h0m44-1h0m6 5h0" stroke="#db8e3f" stroke-width="2.8" stroke-linecap="square" fill="none"/>
<path transform="scale(.25)" d="M486 403h0m42 0h0m-27 13h0m10 3h0m50-4h0m-95 24h0m7-4h0m31-1h0m50 1h0m23 9h0" stroke="#3fbade" stroke-width="2.8" stroke-linecap="square" fill="none"/>
<path transform="scale(.25)" d="M497 405h0m47-1h0m-74 26h0m101-8h0m-83 12h0m7 2h0m6-3h0m73 4h0m5 23h0m-90 10h0" stroke="#3fc1a7" stroke-width="2.8" stroke-linecap="square" fill="none"/>
<path transform="scale(.25)" d="M531 406h0m-63 8h0m73 4h0m11 9h0m-86 14h0m50 10h0m23 15h0m2-3h0m16 2h0m-1 3h0" stroke="#b385ff" stroke-width="2.8" stroke-linecap="square" fill="none"/>
<path transform="scale(.25)" d="M539 404h0m-66 13h0m79 5h0m-81 10h0m85 11h0m-5 1h0m-82 19h0m22-6h0m79 0h0m-56 13h0" stroke="#aea23f" stroke-width="2.8" stroke-linecap="square" fill="none"/>
<path transform="scale(.25)" d="M500 402h0m55 2h0m-37 26h0m-50 2h0m26 6h0m40 1h0m30 15h0m-103 8h0m86 2h0m28-6h0" stroke="#3fa6ff" stroke-width="2.8" stroke-linecap="square" fill="none"/>
<path transform="scale(.25)" d="M465 418h0m66-7h0m3 1h0m-35 17h0m48 14h0m0-10h0m20 4h0m-69 10h0m64 4h0m-46 5h0" stroke="#ff63b6" stroke-width="2.8" stroke-linecap="square" fill="none"/>
<path transform="scale(.25)" d="M583 394h0m-38 7h0m38 5h0m0-8h0m-42 11h0m8-1h0m11 21h0m-20 3h0m23 5h0m4 6h0" stroke="#f8766d" stroke-width="2.8" stroke-linecap="square" fill="none"/>
<path transform="scale(.25)" d="M572 395h0m22 5h0m-47 18h0m13-3h0m16-2h0m-11 14h0m30-3h0m-53 10h0m18 2h0m21 3h0" stroke="#db8e3f" stroke-width="2.8" stroke-linecap="square" fill="none"/>
<path transform="scale(.25)" d="M555 404h0m-3 13h0m13-6h0m3 3h0m-23 8h0m2 8h0m4 3h0m7 8h0m18 1h0m14-1h0" stroke="#3fbade" stroke-width="2.8" stroke-linecap="square" fill="none"/>
<path transform="scale(.25)" d="M545 403h0m25-7h0m-26 16h0m22 7h0m-20 2h0m15 1h0m10 6h0m7-2h0m-31 15h0m5 6h0" stroke="#3fc1a7" stroke-width="2.8" stroke-linecap="square" fill="none"/>
<path transform="scale(.25)" d="M555 405h0m33 1h0m-10 5h0m8 0h0m-43 10h0m8 9h0m20-4h0m17 6h0m-7 15h0" stroke="#b385ff" stroke-width="2.8" stroke-linecap="square" fill="none"/>
<path transform="scale(.25)" d="M585 393h0m12 13h0m-20 2h0m-31 13h0m26-1h0m10 1h0m4 7h0m7-6h0m-26 18h0m7 0h0" stroke="#aea23f" stroke-width="2.8" stroke-linecap="square" fill="none"/>
<path transform="scale(.25)" d="M553 395h0m-5 5h0m25-3h0m-28 20h0m16 0h0m-10 4h0m5 7h0m9 11h0m3 6h0m20 0h0" stroke="#3fa6ff" stroke-width="2.8" stroke-linecap="square" fill="none"/>
<path transform="scale(.25)" d="M596 393h0m-49 9h0m16 4h0m6-2h0m16 2h0m14-2h0m-46 24h0m5 0h0m2 1h0m29-4h0" stroke="#ff63b6" stroke-width="2.8" stroke-linecap="square" fill="none"/>
<path transform="scale(.25)" d="M388 342h0m44 0h0m-17 11h0m-21 13h0m2-3h0m51-1h0m-48 12h0m45 8h0m-22 5h0m-11 10h0" stroke="#f8766d" stroke-width="2.8" stroke-linecap="square" fill="none"/>
<path transform="scale(.25)" d="M421 343h0m20-2h0m-41 8h0m0 21h0m26-1h0m6-8h0m-23 15h0m-22 9h0m22 8h0m15 2h0" stroke="#db8e3f" stroke-width="2.8" stroke-linecap="square" fill="none"/>
<path transform="scale(.25)" d="M410 346h0m27-5h0m-25 9h0m-19 12h0m15-1h0m26 1h0m11 8h0m-41 8h0m7 6h0m-26 16h0" stroke="#3fbade" stroke-width="2.8" stroke-linecap="square" fill="none"/>
<path transform="scale(.25)" d="M426 341h0m9-1h0m1 5h0m10-1h0m-33 16h0m8 9h0m-38 24h0m16-9h0m3 14h0m41 1h0" stroke="#3fc1a7" stroke-width="2.8" stroke-linecap="square" fill="none"/>
<path transform="scale(.25)" d="M396 345h0m6 19h0m-12 9h0m16 2h0m8 1h0m13 0h0m9 6h0m10-2h0m-37 5h0m7 9h0" stroke="#b385ff" stroke-width="2.8" stroke-linecap="square" fill="none"/>
<path transform="scale(.25)" d="M410 342h0m32 11h0m-12 11h0m8-4h0m-42 20h0m11 2h0m3-10h0m-26 16h0m19 10h0m13-2h0" stroke="#aea23f" stroke-width="2.8" stroke-linecap="square" fill="none"/>
<path transform="scale(.25)" d="M446 346h0m-32 3h0m-25 12h0m5 2h0m22 5h0m-35 14h0m15-2h0m39-6h0m-11 15h0m-39 9h0" stroke="#3fa6ff" stroke-width="2.8" stroke-linecap="square" fill="none"/>
<path transform="scale(.25)" d="M415 347h0m6-2h0m-32 10h0m13 5h0m-15 19h0m4 2h0m14-1h0m-16 5h0m58 4h0" stroke="#ff63b6" stroke-width="2.8" stroke-linecap="square" fill="none"/>
<text x="79.0" y="42.6" font-size="3.5" text-anchor="middle" fill="#1a1a1a">CD8+ naive T</text>
<text x="58.0" y="89.5" font-size="3.5" text-anchor="middle" fill="#1a1a1a">CD4+ naive T</text>
<text x="94.0" y="107.0" font-size="3.5" text-anchor="middle" fill="#1a1a1a">CD4+ memory T</text>
<text x="95.0" y="86.3" font-size="3.5" text-anchor="middle" fill="#1a1a1a">CD4+ Treg</text>
<text x="114.0" y="71.3" font-size="3.5" text-anchor="middle" fill="#1a1a1a">CD4+ exhaust like T</text>
<text x="141.0" y="86.7" font-size="3.5" text-anchor="middle" fill="#1a1a1a">CD8+ CTL−GZMK</text>
<text x="168.0" y="75.4" font-size="3.5" text-anchor="middle" fill="#1a1a1a">CD8+ CTL−GNLY</text>
<text x="162.3" y="46.5" font-size="3.5" text-anchor="middle" fill="#1a1a1a">CD8+ NKT</text>
<text x="136.3" y="24.3" font-size="3.5" text-anchor="middle" fill="#1a1a1a">Proliferative T</text>
<text x="131.6" y="131.8" font-size="3.5" text-anchor="middle" fill="#1a1a1a">CD8+ MAIT</text>
<text x="164.0" y="121.1" font-size="3.5" text-anchor="middle" fill="#1a1a1a">γδT</text>
<circle cx="195.8" cy="57.40" r="0.95" fill="#f8766d"/>
<text x="200.0" y="58.7" font-size="3.7" fill="#222">CD4+ exhaust like T</text>
<circle cx="195.8" cy="62.40" r="0.95" fill="#db8e00"/>
<text x="200.0" y="63.7" font-size="3.7" fill="#222">CD4+ memory T</text>
<circle cx="195.8" cy="67.40" r="0.95" fill="#aea200"/>
<text x="200.0" y="68.7" font-size="3.7" fill="#222">CD4+ naive T</text>
<circle cx="195.8" cy="72.40" r="0.95" fill="#64b200"/>
<text x="200.0" y="73.7" font-size="3.7" fill="#222">CD4+ Treg</text>
<circle cx="195.8" cy="77.40" r="0.95" fill="#00bd5c"/>
<text x="200.0" y="78.7" font-size="3.7" fill="#222">CD8+ CTL−GNLY</text>
<circle cx="195.8" cy="82.40" r="0.95" fill="#00c1a7"/>
<text x="200.0" y="83.7" font-size="3.7" fill="#222">CD8+ CTL−GZMK</text>
<circle cx="195.8" cy="87.40" r="0.95" fill="#00bade"/>
<text x="200.0" y="88.7" font-size="3.7" fill="#222">CD8+ naive T</text>
<circle cx="195.8" cy="92.40" r="0.95" fill="#00a6ff"/>
<text x="200.0" y="93.7" font-size="3.7" fill="#222">CD8+ MAIT</text>
<circle cx="195.8" cy="97.40" r="0.95" fill="#b385ff"/>
<text x="200.0" y="98.7" font-size="3.7" fill="#222">CD8+ NKT</text>
<circle cx="195.8" cy="102.40" r="0.95" fill="#ef67eb"/>
<text x="200.0" y="103.7" font-size="3.7" fill="#222">Proliferative T</text>
<circle cx="195.8" cy="107.40" r="0.95" fill="#ff63b6"/>
<text x="200.0" y="108.7" font-size="3.7" fill="#222">γδT</text>
<text x="228.8" y="9.7" font-size="14" font-weight="bold" font-family="'Liberation Serif', serif">B</text>
<path d="M256.8 3.3L256.8 133.4" stroke="#b4b4b4" stroke-width="0.6"/>
<path d="M270.6 3.3L270.6 133.4" stroke="#b4b4b4" stroke-width="0.6"/>
<path d="M284.4 3.3L284.4 133.4" stroke="#b4b4b4" stroke-width="0.6"/>
<path d="M298.2 3.3L298.2 133.4" stroke="#b4b4b4" stroke-width="0.6"/>
<path d="M312.0 3.3L312.0 133.4" stroke="#b4b4b4" stroke-width="0.6"/>
<path d="M325.8 3.3L325.8 133.4" stroke="#b4b4b4" stroke-width="0.6"/>
<path d="M339.6 3.3L339.6 133.4" stroke="#b4b4b4" stroke-width="0.6"/>
<path d="M353.4 3.3L353.4 133.4" stroke="#b4b4b4" stroke-width="0.6"/>
<path d="M367.2 3.3L367.2 133.4" stroke="#b4b4b4" stroke-width="0.6"/>
<path d="M381.0 3.3L381.0 133.4" stroke="#b4b4b4" stroke-width="0.6"/>
<path d="M394.8 3.3L394.8 133.4" stroke="#b4b4b4" stroke-width="0.6"/>
<path d="M248.2 3.3L402.8 3.3" stroke="#8e8e8e" stroke-width="0.7"/>
<path d="M248.2 7.9L402.8 7.9" stroke="#8e8e8e" stroke-width="0.7"/>
<path d="M248.2 12.6L402.8 12.6" stroke="#8e8e8e" stroke-width="0.7"/>
<path d="M248.2 17.2L402.8 17.2" stroke="#8e8e8e" stroke-width="0.7"/>
<path d="M248.2 21.9L402.8 21.9" stroke="#8e8e8e" stroke-width="0.7"/>
<path d="M248.2 26.5L402.8 26.5" stroke="#8e8e8e" stroke-width="0.7"/>
<path d="M248.2 31.2L402.8 31.2" stroke="#8e8e8e" stroke-width="0.7"/>
<path d="M248.2 35.8L402.8 35.8" stroke="#8e8e8e" stroke-width="0.7"/>
<path d="M248.2 40.5L402.8 40.5" stroke="#8e8e8e" stroke-width="0.7"/>
<path d="M248.2 45.1L402.8 45.1" stroke="#8e8e8e" stroke-width="0.7"/>
<path d="M248.2 49.8L402.8 49.8" stroke="#8e8e8e" stroke-width="0.7"/>
<path d="M248.2 54.4L402.8 54.4" stroke="#8e8e8e" stroke-width="0.7"/>
<path d="M248.2 59.1L402.8 59.1" stroke="#8e8e8e" stroke-width="0.7"/>
<path d="M248.2 63.7L402.8 63.7" stroke="#8e8e8e" stroke-width="0.7"/>
<path d="M248.2 68.3L402.8 68.3" stroke="#8e8e8e" stroke-width="0.7"/>
<path d="M248.2 73.0L402.8 73.0" stroke="#8e8e8e" stroke-width="0.7"/>
<path d="M248.2 77.6L402.8 77.6" stroke="#8e8e8e" stroke-width="0.7"/>
<path d="M248.2 82.3L402.8 82.3" stroke="#8e8e8e" stroke-width="0.7"/>
<path d="M248.2 86.9L402.8 86.9" stroke="#8e8e8e" stroke-width="0.7"/>
<path d="M248.2 91.6L402.8 91.6" stroke="#8e8e8e" stroke-width="0.7"/>
<path d="M248.2 96.2L402.8 96.2" stroke="#8e8e8e" stroke-width="0.7"/>
<path d="M248.2 100.9L402.8 100.9" stroke="#8e8e8e" stroke-width="0.7"/>
<path d="M248.2 105.5L402.8 105.5" stroke="#8e8e8e" stroke-width="0.7"/>
<path d="M248.2 110.2L402.8 110.2" stroke="#8e8e8e" stroke-width="0.7"/>
<path d="M248.2 114.8L402.8 114.8" stroke="#8e8e8e" stroke-width="0.7"/>
<path d="M248.2 119.5L402.8 119.5" stroke="#8e8e8e" stroke-width="0.7"/>
<path d="M248.2 124.1L402.8 124.1" stroke="#8e8e8e" stroke-width="0.7"/>
<path d="M248.2 128.8L402.8 128.8" stroke="#8e8e8e" stroke-width="0.7"/>
<path d="M248.2 133.4L402.8 133.4" stroke="#8e8e8e" stroke-width="0.7"/>
<path d="M250.80 5.92Q253.80 4.92 256.80 3.92Q259.80 4.92 262.80 5.92Q259.80 6.92 256.80 7.92Q253.80 6.92 250.80 5.92Z" fill="#f9867f" stroke="#555" stroke-width="0.25"/>
<path d="M264.60 5.92Q267.60 4.92 270.60 3.92Q273.60 4.92 276.60 5.92Q273.60 6.92 270.60 7.92Q267.60 6.92 264.60 5.92Z" fill="#f9867f" stroke="#555" stroke-width="0.25"/>
<path d="M279.90 5.92Q282.15 5.02 284.40 4.12Q286.65 5.02 288.90 5.92Q286.65 6.82 284.40 7.72Q282.15 6.82 279.90 5.92Z" fill="#f9867f" stroke="#555" stroke-width="0.25"/>
<path d="M292.40 5.92Q295.30 4.92 298.20 3.92Q301.10 4.92 304.00 5.92Q301.10 6.92 298.20 7.92Q295.30 6.92 292.40 5.92Z" fill="#f9867f" stroke="#555" stroke-width="0.25"/>
<path d="M310.40 5.92Q311.20 5.31 312.00 4.70Q312.80 5.31 313.60 5.92Q312.80 6.53 312.00 7.14Q311.20 6.53 310.40 5.92Z" fill="#f9867f" stroke="#555" stroke-width="0.25"/>
<path d="M365.00 5.92Q366.10 5.25 367.20 4.58Q368.30 5.25 369.40 5.92Q368.30 6.59 367.20 7.26Q366.10 6.59 365.00 5.92Z" fill="#f9867f" stroke="#555" stroke-width="0.25"/>
<path d="M376.00 5.92Q378.50 4.97 381.00 4.02Q383.50 4.97 386.00 5.92Q383.50 6.87 381.00 7.82Q378.50 6.87 376.00 5.92Z" fill="#f9867f" stroke="#555" stroke-width="0.25"/>
<path d="M392.60 5.92Q393.70 5.25 394.80 4.58Q395.90 5.25 397.00 5.92Q395.90 6.59 394.80 7.26Q393.70 6.59 392.60 5.92Z" fill="#f9867f" stroke="#555" stroke-width="0.25"/>
<path d="M255.50 10.57Q256.15 9.99 256.80 9.41Q257.45 9.99 258.10 10.57Q257.45 11.15 256.80 11.73Q256.15 11.15 255.50 10.57Z" fill="#f18e5c" stroke="#555" stroke-width="0.25"/>
<path d="M269.30 10.57Q269.95 9.99 270.60 9.41Q271.25 9.99 271.90 10.57Q271.25 11.15 270.60 11.73Q269.95 11.15 269.30 10.57Z" fill="#f18e5c" stroke="#555" stroke-width="0.25"/>
<path d="M280.80 10.57Q282.60 9.76 284.40 8.95Q286.20 9.76 288.00 10.57Q286.20 11.38 284.40 12.19Q282.60 11.38 280.80 10.57Z" fill="#f18e5c" stroke="#555" stroke-width="0.25"/>
<path d="M294.40 10.57Q296.30 9.74 298.20 8.91Q300.10 9.74 302.00 10.57Q300.10 11.40 298.20 12.23Q296.30 11.40 294.40 10.57Z" fill="#f18e5c" stroke="#555" stroke-width="0.25"/>
<path d="M308.60 10.57Q310.30 9.78 312.00 8.99Q313.70 9.78 315.40 10.57Q313.70 11.36 312.00 12.15Q310.30 11.36 308.60 10.57Z" fill="#f18e5c" stroke="#555" stroke-width="0.25"/>
<path d="M324.80 10.57Q325.30 10.02 325.80 9.47Q326.30 10.02 326.80 10.57Q326.30 11.12 325.80 11.67Q325.30 11.12 324.80 10.57Z" fill="#f18e5c" stroke="#555" stroke-width="0.25"/>
<path d="M366.00 10.57Q366.60 10.00 367.20 9.43Q367.80 10.00 368.40 10.57Q367.80 11.14 367.20 11.71Q366.60 11.14 366.00 10.57Z" fill="#f18e5c" stroke="#555" stroke-width="0.25"/>
<path d="M255.90 15.22Q256.35 14.68 256.80 14.14Q257.25 14.68 257.70 15.22Q257.25 15.76 256.80 16.30Q256.35 15.76 255.90 15.22Z" fill="#e69756" stroke="#555" stroke-width="0.25"/>
<path d="M269.00 15.22Q269.80 14.61 270.60 14.00Q271.40 14.61 272.20 15.22Q271.40 15.83 270.60 16.44Q269.80 15.83 269.00 15.22Z" fill="#e69756" stroke="#555" stroke-width="0.25"/>
<path d="M283.30 15.22Q283.85 14.66 284.40 14.10Q284.95 14.66 285.50 15.22Q284.95 15.78 284.40 16.34Q283.85 15.78 283.30 15.22Z" fill="#e69756" stroke="#555" stroke-width="0.25"/>
<path d="M297.10 15.22Q297.65 14.66 298.20 14.10Q298.75 14.66 299.30 15.22Q298.75 15.78 298.20 16.34Q297.65 15.78 297.10 15.22Z" fill="#e69756" stroke="#555" stroke-width="0.25"/>
<path d="M309.40 15.22Q310.70 14.51 312.00 13.80Q313.30 14.51 314.60 15.22Q313.30 15.93 312.00 16.64Q310.70 15.93 309.40 15.22Z" fill="#e69756" stroke="#555" stroke-width="0.25"/>
<path d="M255.50 19.86Q256.15 19.28 256.80 18.70Q257.45 19.28 258.10 19.86Q257.45 20.44 256.80 21.02Q256.15 20.44 255.50 19.86Z" fill="#da9e56" stroke="#555" stroke-width="0.25"/>
<path d="M269.60 19.86Q270.10 19.31 270.60 18.76Q271.10 19.31 271.60 19.86Q271.10 20.41 270.60 20.96Q270.10 20.41 269.60 19.86Z" fill="#da9e56" stroke="#555" stroke-width="0.25"/>
<path d="M280.40 19.86Q282.40 19.01 284.40 18.16Q286.40 19.01 288.40 19.86Q286.40 20.71 284.40 21.56Q282.40 20.71 280.40 19.86Z" fill="#da9e56" stroke="#555" stroke-width="0.25"/>
<path d="M293.60 19.86Q295.90 18.95 298.20 18.04Q300.50 18.95 302.80 19.86Q300.50 20.77 298.20 21.68Q295.90 20.77 293.60 19.86Z" fill="#da9e56" stroke="#555" stroke-width="0.25"/>
<path d="M295.00 24.51Q296.60 23.74 298.20 22.97Q299.80 23.74 301.40 24.51Q299.80 25.28 298.20 26.05Q296.60 25.28 295.00 24.51Z" fill="#cba656" stroke="#555" stroke-width="0.25"/>
<path d="M324.70 24.51Q325.25 23.95 325.80 23.39Q326.35 23.95 326.90 24.51Q326.35 25.07 325.80 25.63Q325.25 25.07 324.70 24.51Z" fill="#cba656" stroke="#555" stroke-width="0.25"/>
<path d="M338.80 24.51Q339.20 23.98 339.60 23.45Q340.00 23.98 340.40 24.51Q340.00 25.04 339.60 25.57Q339.20 25.04 338.80 24.51Z" fill="#cba656" stroke="#555" stroke-width="0.25"/>
<path d="M351.00 24.51Q352.20 23.82 353.40 23.13Q354.60 23.82 355.80 24.51Q354.60 25.20 353.40 25.89Q352.20 25.20 351.00 24.51Z" fill="#cba656" stroke="#555" stroke-width="0.25"/>
<path d="M378.70 24.51Q379.85 23.83 381.00 23.15Q382.15 23.83 383.30 24.51Q382.15 25.19 381.00 25.87Q379.85 25.19 378.70 24.51Z" fill="#cba656" stroke="#555" stroke-width="0.25"/>
<path d="M392.30 24.51Q393.55 23.81 394.80 23.11Q396.05 23.81 397.30 24.51Q396.05 25.21 394.80 25.91Q393.55 25.21 392.30 24.51Z" fill="#cba656" stroke="#555" stroke-width="0.25"/>
<path d="M292.20 29.16Q295.20 28.16 298.20 27.16Q301.20 28.16 304.20 29.16Q301.20 30.16 298.20 31.16Q295.20 30.16 292.20 29.16Z" fill="#b9ac56" stroke="#555" stroke-width="0.25"/>
<path d="M324.80 29.16Q325.30 28.61 325.80 28.06Q326.30 28.61 326.80 29.16Q326.30 29.71 325.80 30.26Q325.30 29.71 324.80 29.16Z" fill="#b9ac56" stroke="#555" stroke-width="0.25"/>
<path d="M351.80 29.16Q352.60 28.55 353.40 27.94Q354.20 28.55 355.00 29.16Q354.20 29.77 353.40 30.38Q352.60 29.77 351.80 29.16Z" fill="#b9ac56" stroke="#555" stroke-width="0.25"/>
<path d="M392.20 29.16Q393.50 28.45 394.80 27.74Q396.10 28.45 397.40 29.16Q396.10 29.87 394.80 30.58Q393.50 29.87 392.20 29.16Z" fill="#b9ac56" stroke="#555" stroke-width="0.25"/>
<path d="M377.80 33.80Q379.40 33.03 381.00 32.26Q382.60 33.03 384.20 33.80Q382.60 34.57 381.00 35.34Q379.40 34.57 377.80 33.80Z" fill="#a5b256" stroke="#555" stroke-width="0.25"/>
<path d="M377.50 38.45Q379.25 37.65 381.00 36.85Q382.75 37.65 384.50 38.45Q382.75 39.25 381.00 40.05Q379.25 39.25 377.50 38.45Z" fill="#8cb856" stroke="#555" stroke-width="0.25"/>
<path d="M365.60 43.09Q366.40 42.48 367.20 41.87Q368.00 42.48 368.80 43.09Q368.00 43.70 367.20 44.31Q366.40 43.70 365.60 43.09Z" fill="#68bd56" stroke="#555" stroke-width="0.25"/>
<path d="M375.80 43.09Q378.40 42.12 381.00 41.15Q383.60 42.12 386.20 43.09Q383.60 44.06 381.00 45.03Q378.40 44.06 375.80 43.09Z" fill="#68bd56" stroke="#555" stroke-width="0.25"/>
<path d="M392.60 43.09Q393.70 42.42 394.80 41.75Q395.90 42.42 397.00 43.09Q395.90 43.76 394.80 44.43Q393.70 43.76 392.60 43.09Z" fill="#68bd56" stroke="#555" stroke-width="0.25"/>
<path d="M361.70 47.74Q364.45 46.74 367.20 45.74Q369.95 46.74 372.70 47.74Q369.95 48.74 367.20 49.74Q364.45 48.74 361.70 47.74Z" fill="#56c159" stroke="#555" stroke-width="0.25"/>
<path d="M361.20 52.39Q364.20 51.39 367.20 50.39Q370.20 51.39 373.20 52.39Q370.20 53.39 367.20 54.39Q364.20 53.39 361.20 52.39Z" fill="#56c46a" stroke="#555" stroke-width="0.25"/>
<path d="M320.80 57.03Q323.30 56.08 325.80 55.13Q328.30 56.08 330.80 57.03Q328.30 57.98 325.80 58.93Q323.30 57.98 320.80 57.03Z" fill="#56c787" stroke="#555" stroke-width="0.25"/>
<path d="M335.10 57.03Q337.35 56.13 339.60 55.23Q341.85 56.13 344.10 57.03Q341.85 57.93 339.60 58.83Q337.35 57.93 335.10 57.03Z" fill="#56c787" stroke="#555" stroke-width="0.25"/>
<path d="M349.20 57.03Q351.30 56.16 353.40 55.29Q355.50 56.16 357.60 57.03Q355.50 57.90 353.40 58.77Q351.30 57.90 349.20 57.03Z" fill="#56c787" stroke="#555" stroke-width="0.25"/>
<path d="M364.20 57.03Q365.70 56.28 367.20 55.53Q368.70 56.28 370.20 57.03Q368.70 57.78 367.20 58.53Q365.70 57.78 364.20 57.03Z" fill="#56c787" stroke="#555" stroke-width="0.25"/>
<path d="M393.20 57.03Q394.00 56.42 394.80 55.81Q395.60 56.42 396.40 57.03Q395.60 57.64 394.80 58.25Q394.00 57.64 393.20 57.03Z" fill="#56c787" stroke="#555" stroke-width="0.25"/>
<path d="M321.60 61.68Q323.70 60.81 325.80 59.94Q327.90 60.81 330.00 61.68Q327.90 62.55 325.80 63.42Q323.70 62.55 321.60 61.68Z" fill="#56c8a1" stroke="#555" stroke-width="0.25"/>
<path d="M334.60 61.68Q337.10 60.73 339.60 59.78Q342.10 60.73 344.60 61.68Q342.10 62.63 339.60 63.58Q337.10 62.63 334.60 61.68Z" fill="#56c8a1" stroke="#555" stroke-width="0.25"/>
<path d="M348.90 61.68Q351.15 60.78 353.40 59.88Q355.65 60.78 357.90 61.68Q355.65 62.58 353.40 63.48Q351.15 62.58 348.90 61.68Z" fill="#56c8a1" stroke="#555" stroke-width="0.25"/>
<path d="M364.20 61.68Q365.70 60.93 367.20 60.18Q368.70 60.93 370.20 61.68Q368.70 62.43 367.20 63.18Q365.70 62.43 364.20 61.68Z" fill="#56c8a1" stroke="#555" stroke-width="0.25"/>
<path d="M394.20 61.68Q394.50 61.17 394.80 60.66Q395.10 61.17 395.40 61.68Q395.10 62.19 394.80 62.70Q394.50 62.19 394.20 61.68Z" fill="#56c8a1" stroke="#555" stroke-width="0.25"/>
<path d="M320.80 66.33Q323.30 65.38 325.80 64.43Q328.30 65.38 330.80 66.33Q328.30 67.28 325.80 68.23Q323.30 67.28 320.80 66.33Z" fill="#56c8b7" stroke="#555" stroke-width="0.25"/>
<path d="M335.40 66.33Q337.50 65.46 339.60 64.59Q341.70 65.46 343.80 66.33Q341.70 67.20 339.60 68.07Q337.50 67.20 335.40 66.33Z" fill="#56c8b7" stroke="#555" stroke-width="0.25"/>
<path d="M348.40 66.33Q350.90 65.38 353.40 64.43Q355.90 65.38 358.40 66.33Q355.90 67.28 353.40 68.23Q350.90 67.28 348.40 66.33Z" fill="#56c8b7" stroke="#555" stroke-width="0.25"/>
<path d="M362.20 66.33Q364.70 65.38 367.20 64.43Q369.70 65.38 372.20 66.33Q369.70 67.28 367.20 68.23Q364.70 67.28 362.20 66.33Z" fill="#56c8b7" stroke="#555" stroke-width="0.25"/>
<path d="M380.40 66.33Q380.70 65.82 381.00 65.31Q381.30 65.82 381.60 66.33Q381.30 66.84 381.00 67.35Q380.70 66.84 380.40 66.33Z" fill="#56c8b7" stroke="#555" stroke-width="0.25"/>
<path d="M394.20 66.33Q394.50 65.82 394.80 65.31Q395.10 65.82 395.40 66.33Q395.10 66.84 394.80 67.35Q394.50 66.84 394.20 66.33Z" fill="#56c8b7" stroke="#555" stroke-width="0.25"/>
<path d="M322.20 70.97Q324.00 70.16 325.80 69.35Q327.60 70.16 329.40 70.97Q327.60 71.78 325.80 72.59Q324.00 71.78 322.20 70.97Z" fill="#56c7cb" stroke="#555" stroke-width="0.25"/>
<path d="M335.10 70.97Q337.35 70.07 339.60 69.17Q341.85 70.07 344.10 70.97Q341.85 71.87 339.60 72.77Q337.35 71.87 335.10 70.97Z" fill="#56c7cb" stroke="#555" stroke-width="0.25"/>
<path d="M351.20 70.97Q352.30 70.30 353.40 69.63Q354.50 70.30 355.60 70.97Q354.50 71.64 353.40 72.31Q352.30 71.64 351.20 70.97Z" fill="#56c7cb" stroke="#555" stroke-width="0.25"/>
<path d="M363.20 70.97Q365.20 70.12 367.20 69.27Q369.20 70.12 371.20 70.97Q369.20 71.82 367.20 72.67Q365.20 71.82 363.20 70.97Z" fill="#56c7cb" stroke="#555" stroke-width="0.25"/>
<path d="M393.80 70.97Q394.30 70.42 394.80 69.87Q395.30 70.42 395.80 70.97Q395.30 71.52 394.80 72.07Q394.30 71.52 393.80 70.97Z" fill="#56c7cb" stroke="#555" stroke-width="0.25"/>
<path d="M269.60 75.62Q270.10 75.07 270.60 74.52Q271.10 75.07 271.60 75.62Q271.10 76.17 270.60 76.72Q270.10 76.17 269.60 75.62Z" fill="#56c4de" stroke="#555" stroke-width="0.25"/>
<path d="M320.80 75.62Q323.30 74.67 325.80 73.72Q328.30 74.67 330.80 75.62Q328.30 76.57 325.80 77.52Q323.30 76.57 320.80 75.62Z" fill="#56c4de" stroke="#555" stroke-width="0.25"/>
<path d="M334.60 75.62Q337.10 74.67 339.60 73.72Q342.10 74.67 344.60 75.62Q342.10 76.57 339.60 77.52Q337.10 76.57 334.60 75.62Z" fill="#56c4de" stroke="#555" stroke-width="0.25"/>
<path d="M348.40 75.62Q350.90 74.67 353.40 73.72Q355.90 74.67 358.40 75.62Q355.90 76.57 353.40 77.52Q350.90 76.57 348.40 75.62Z" fill="#56c4de" stroke="#555" stroke-width="0.25"/>
<path d="M362.20 75.62Q364.70 74.67 367.20 73.72Q369.70 74.67 372.20 75.62Q369.70 76.57 367.20 77.52Q364.70 76.57 362.20 75.62Z" fill="#56c4de" stroke="#555" stroke-width="0.25"/>
<path d="M376.00 75.62Q378.50 74.67 381.00 73.72Q383.50 74.67 386.00 75.62Q383.50 76.57 381.00 77.52Q378.50 76.57 376.00 75.62Z" fill="#56c4de" stroke="#555" stroke-width="0.25"/>
<path d="M388.80 75.62Q391.80 74.62 394.80 73.62Q397.80 74.62 400.80 75.62Q397.80 76.62 394.80 77.62Q391.80 76.62 388.80 75.62Z" fill="#56c4de" stroke="#555" stroke-width="0.25"/>
<path d="M320.30 80.27Q323.05 79.27 325.80 78.27Q328.55 79.27 331.30 80.27Q328.55 81.27 325.80 82.27Q323.05 81.27 320.30 80.27Z" fill="#56bfed" stroke="#555" stroke-width="0.25"/>
<path d="M334.10 80.27Q336.85 79.27 339.60 78.27Q342.35 79.27 345.10 80.27Q342.35 81.27 339.60 82.27Q336.85 81.27 334.10 80.27Z" fill="#56bfed" stroke="#555" stroke-width="0.25"/>
<path d="M347.90 80.27Q350.65 79.27 353.40 78.27Q356.15 79.27 358.90 80.27Q356.15 81.27 353.40 82.27Q350.65 81.27 347.90 80.27Z" fill="#56bfed" stroke="#555" stroke-width="0.25"/>
<path d="M362.20 80.27Q364.70 79.32 367.20 78.37Q369.70 79.32 372.20 80.27Q369.70 81.22 367.20 82.17Q364.70 81.22 362.20 80.27Z" fill="#56bfed" stroke="#555" stroke-width="0.25"/>
<path d="M376.50 80.27Q378.75 79.37 381.00 78.47Q383.25 79.37 385.50 80.27Q383.25 81.17 381.00 82.07Q378.75 81.17 376.50 80.27Z" fill="#56bfed" stroke="#555" stroke-width="0.25"/>
<path d="M390.30 80.27Q392.55 79.37 394.80 78.47Q397.05 79.37 399.30 80.27Q397.05 81.17 394.80 82.07Q392.55 81.17 390.30 80.27Z" fill="#56bfed" stroke="#555" stroke-width="0.25"/>
<path d="M320.30 84.91Q323.05 83.91 325.80 82.91Q328.55 83.91 331.30 84.91Q328.55 85.91 325.80 86.91Q323.05 85.91 320.30 84.91Z" fill="#56b8fa" stroke="#555" stroke-width="0.25"/>
<path d="M334.10 84.91Q336.85 83.91 339.60 82.91Q342.35 83.91 345.10 84.91Q342.35 85.91 339.60 86.91Q336.85 85.91 334.10 84.91Z" fill="#56b8fa" stroke="#555" stroke-width="0.25"/>
<path d="M347.40 84.91Q350.40 83.91 353.40 82.91Q356.40 83.91 359.40 84.91Q356.40 85.91 353.40 86.91Q350.40 85.91 347.40 84.91Z" fill="#56b8fa" stroke="#555" stroke-width="0.25"/>
<path d="M361.20 84.91Q364.20 83.91 367.20 82.91Q370.20 83.91 373.20 84.91Q370.20 85.91 367.20 86.91Q364.20 85.91 361.20 84.91Z" fill="#56b8fa" stroke="#555" stroke-width="0.25"/>
<path d="M376.50 84.91Q378.75 84.01 381.00 83.11Q383.25 84.01 385.50 84.91Q383.25 85.81 381.00 86.71Q378.75 85.81 376.50 84.91Z" fill="#56b8fa" stroke="#555" stroke-width="0.25"/>
<path d="M392.60 84.91Q393.70 84.24 394.80 83.57Q395.90 84.24 397.00 84.91Q395.90 85.58 394.80 86.25Q393.70 85.58 392.60 84.91Z" fill="#56b8fa" stroke="#555" stroke-width="0.25"/>
<path d="M322.20 89.56Q324.00 88.75 325.80 87.94Q327.60 88.75 329.40 89.56Q327.60 90.37 325.80 91.18Q324.00 90.37 322.20 89.56Z" fill="#57afff" stroke="#555" stroke-width="0.25"/>
<path d="M334.60 89.56Q337.10 88.61 339.60 87.66Q342.10 88.61 344.60 89.56Q342.10 90.51 339.60 91.46Q337.10 90.51 334.60 89.56Z" fill="#57afff" stroke="#555" stroke-width="0.25"/>
<path d="M366.20 89.56Q366.70 89.01 367.20 88.46Q367.70 89.01 368.20 89.56Q367.70 90.11 367.20 90.66Q366.70 90.11 366.20 89.56Z" fill="#57afff" stroke="#555" stroke-width="0.25"/>
<path d="M380.20 89.56Q380.60 89.03 381.00 88.50Q381.40 89.03 381.80 89.56Q381.40 90.09 381.00 90.62Q380.60 90.09 380.20 89.56Z" fill="#57afff" stroke="#555" stroke-width="0.25"/>
<path d="M324.60 94.21Q325.20 93.64 325.80 93.07Q326.40 93.64 327.00 94.21Q326.40 94.78 325.80 95.35Q325.20 94.78 324.60 94.21Z" fill="#86a4ff" stroke="#555" stroke-width="0.25"/>
<path d="M338.00 94.21Q338.80 93.60 339.60 92.99Q340.40 93.60 341.20 94.21Q340.40 94.82 339.60 95.43Q338.80 94.82 338.00 94.21Z" fill="#86a4ff" stroke="#555" stroke-width="0.25"/>
<path d="M323.20 98.85Q324.50 98.14 325.80 97.43Q327.10 98.14 328.40 98.85Q327.10 99.56 325.80 100.27Q324.50 99.56 323.20 98.85Z" fill="#b098ff" stroke="#555" stroke-width="0.25"/>
<path d="M323.20 103.50Q324.50 102.79 325.80 102.08Q327.10 102.79 328.40 103.50Q327.10 104.21 325.80 104.92Q324.50 104.21 323.20 103.50Z" fill="#ce8cff" stroke="#555" stroke-width="0.25"/>
<path d="M250.80 108.14Q253.80 107.14 256.80 106.14Q259.80 107.14 262.80 108.14Q259.80 109.14 256.80 110.14Q253.80 109.14 250.80 108.14Z" fill="#e381f9" stroke="#555" stroke-width="0.25"/>
<path d="M267.60 108.14Q269.10 107.39 270.60 106.64Q272.10 107.39 273.60 108.14Q272.10 108.89 270.60 109.64Q269.10 108.89 267.60 108.14Z" fill="#e381f9" stroke="#555" stroke-width="0.25"/>
<path d="M282.80 108.14Q283.60 107.53 284.40 106.92Q285.20 107.53 286.00 108.14Q285.20 108.75 284.40 109.36Q283.60 108.75 282.80 108.14Z" fill="#e381f9" stroke="#555" stroke-width="0.25"/>
<path d="M296.20 108.14Q297.20 107.49 298.20 106.84Q299.20 107.49 300.20 108.14Q299.20 108.79 298.20 109.44Q297.20 108.79 296.20 108.14Z" fill="#e381f9" stroke="#555" stroke-width="0.25"/>
<path d="M306.50 108.14Q309.25 107.14 312.00 106.14Q314.75 107.14 317.50 108.14Q314.75 109.14 312.00 110.14Q309.25 109.14 306.50 108.14Z" fill="#e381f9" stroke="#555" stroke-width="0.25"/>
<path d="M320.30 108.14Q323.05 107.14 325.80 106.14Q328.55 107.14 331.30 108.14Q328.55 109.14 325.80 110.14Q323.05 109.14 320.30 108.14Z" fill="#e381f9" stroke="#555" stroke-width="0.25"/>
<path d="M335.10 108.14Q337.35 107.24 339.60 106.34Q341.85 107.24 344.10 108.14Q341.85 109.04 339.60 109.94Q337.35 109.04 335.10 108.14Z" fill="#e381f9" stroke="#555" stroke-width="0.25"/>
<path d="M347.90 108.14Q350.65 107.14 353.40 106.14Q356.15 107.14 358.90 108.14Q356.15 109.14 353.40 110.14Q350.65 109.14 347.90 108.14Z" fill="#e381f9" stroke="#555" stroke-width="0.25"/>
<path d="M362.20 108.14Q364.70 107.19 367.20 106.24Q369.70 107.19 372.20 108.14Q369.70 109.09 367.20 110.04Q364.70 109.09 362.20 108.14Z" fill="#e381f9" stroke="#555" stroke-width="0.25"/>
<path d="M376.50 108.14Q378.75 107.24 381.00 106.34Q383.25 107.24 385.50 108.14Q383.25 109.04 381.00 109.94Q378.75 109.04 376.50 108.14Z" fill="#e381f9" stroke="#555" stroke-width="0.25"/>
<path d="M389.80 108.14Q392.30 107.19 394.80 106.24Q397.30 107.19 399.80 108.14Q397.30 109.09 394.80 110.04Q392.30 109.09 389.80 108.14Z" fill="#e381f9" stroke="#555" stroke-width="0.25"/>
<path d="M255.60 112.79Q256.20 112.22 256.80 111.65Q257.40 112.22 258.00 112.79Q257.40 113.36 256.80 113.93Q256.20 113.36 255.60 112.79Z" fill="#f378ec" stroke="#555" stroke-width="0.25"/>
<path d="M255.60 117.44Q256.20 116.87 256.80 116.30Q257.40 116.87 258.00 117.44Q257.40 118.01 256.80 118.58Q256.20 118.01 255.60 117.44Z" fill="#fb74dc" stroke="#555" stroke-width="0.25"/>
<path d="M269.70 117.44Q270.15 116.90 270.60 116.36Q271.05 116.90 271.50 117.44Q271.05 117.98 270.60 118.52Q270.15 117.98 269.70 117.44Z" fill="#fb74dc" stroke="#555" stroke-width="0.25"/>
<path d="M283.50 117.44Q283.95 116.90 284.40 116.36Q284.85 116.90 285.30 117.44Q284.85 117.98 284.40 118.52Q283.95 117.98 283.50 117.44Z" fill="#fb74dc" stroke="#555" stroke-width="0.25"/>
<path d="M310.50 117.44Q311.25 116.84 312.00 116.24Q312.75 116.84 313.50 117.44Q312.75 118.04 312.00 118.64Q311.25 118.04 310.50 117.44Z" fill="#fb74dc" stroke="#555" stroke-width="0.25"/>
<path d="M255.60 122.08Q256.20 121.51 256.80 120.94Q257.40 121.51 258.00 122.08Q257.40 122.65 256.80 123.22Q256.20 122.65 255.60 122.08Z" fill="#ff75c8" stroke="#555" stroke-width="0.25"/>
<path d="M310.80 122.08Q311.40 121.51 312.00 120.94Q312.60 121.51 313.20 122.08Q312.60 122.65 312.00 123.22Q311.40 122.65 310.80 122.08Z" fill="#ff75c8" stroke="#555" stroke-width="0.25"/>
<path d="M308.40 131.38Q310.20 130.57 312.00 129.76Q313.80 130.57 315.60 131.38Q313.80 132.19 312.00 133.00Q310.20 132.19 308.40 131.38Z" fill="#fe7f9a" stroke="#555" stroke-width="0.25"/>
<path d="M248.2 3.3L248.2 133.4" stroke="#333" stroke-width="0.5"/>
<path d="M402.8 3.3L402.8 133.4" stroke="#bbb" stroke-width="0.5"/>
<text x="246.8" y="6.4" font-size="2.2" text-anchor="end" fill="#666">2</text>
<text x="409.6" y="6.6" font-size="2.8" text-anchor="middle" fill="#111" font-weight="bold">IL7R</text>
<text x="246.8" y="11.1" font-size="2.2" text-anchor="end" fill="#666">2</text>
<text x="409.6" y="11.3" font-size="2.8" text-anchor="middle" fill="#111" font-weight="bold">SELL</text>
<text x="246.8" y="15.7" font-size="2.2" text-anchor="end" fill="#666">2</text>
<text x="409.6" y="15.9" font-size="2.8" text-anchor="middle" fill="#111" font-weight="bold">FOXP3</text>
<text x="246.8" y="20.4" font-size="2.2" text-anchor="end" fill="#666">2</text>
<text x="409.6" y="20.6" font-size="2.8" text-anchor="middle" fill="#111" font-weight="bold">CCR7</text>
<text x="246.8" y="25.0" font-size="2.2" text-anchor="end" fill="#666">2</text>
<text x="409.6" y="25.2" font-size="2.8" text-anchor="middle" fill="#111" font-weight="bold">CD8A</text>
<text x="246.8" y="29.7" font-size="2.2" text-anchor="end" fill="#666">2</text>
<text x="409.6" y="29.9" font-size="2.8" text-anchor="middle" fill="#111" font-weight="bold">CD8B</text>
<text x="246.8" y="34.3" font-size="2.2" text-anchor="end" fill="#666">2</text>
<text x="409.6" y="34.5" font-size="2.8" text-anchor="middle" fill="#111" font-weight="bold">TRAV1-2</text>
<text x="246.8" y="38.9" font-size="2.2" text-anchor="end" fill="#666">2</text>
<text x="409.6" y="39.1" font-size="2.8" text-anchor="middle" fill="#111" font-weight="bold">SLC4A10</text>
<text x="246.8" y="43.6" font-size="2.2" text-anchor="end" fill="#666">2</text>
<text x="409.6" y="43.8" font-size="2.8" text-anchor="middle" fill="#111" font-weight="bold">GZMK</text>
<text x="246.8" y="48.2" font-size="2.2" text-anchor="end" fill="#666">2</text>
<text x="409.6" y="48.4" font-size="2.8" text-anchor="middle" fill="#111" font-weight="bold">TRGV9</text>
<text x="246.8" y="52.9" font-size="2.2" text-anchor="end" fill="#666">2</text>
<text x="409.6" y="53.1" font-size="2.8" text-anchor="middle" fill="#111" font-weight="bold">TRDV2</text>
<text x="246.8" y="57.5" font-size="2.2" text-anchor="end" fill="#666">2</text>
<text x="409.6" y="57.7" font-size="2.8" text-anchor="middle" fill="#111" font-weight="bold">GZMH</text>
<text x="246.8" y="62.2" font-size="2.2" text-anchor="end" fill="#666">2</text>
<text x="409.6" y="62.4" font-size="2.8" text-anchor="middle" fill="#111" font-weight="bold">GZMB</text>
<text x="246.8" y="66.8" font-size="2.2" text-anchor="end" fill="#666">2</text>
<text x="409.6" y="67.0" font-size="2.8" text-anchor="middle" fill="#111" font-weight="bold">NKG7</text>
<text x="246.8" y="71.5" font-size="2.2" text-anchor="end" fill="#666">2</text>
<text x="409.6" y="71.7" font-size="2.8" text-anchor="middle" fill="#111" font-weight="bold">KLRD1</text>
<text x="246.8" y="76.1" font-size="2.2" text-anchor="end" fill="#666">2</text>
<text x="409.6" y="76.3" font-size="2.8" text-anchor="middle" fill="#111" font-weight="bold">NKG7</text>
<text x="246.8" y="80.8" font-size="2.2" text-anchor="end" fill="#666">2</text>
<text x="409.6" y="81.0" font-size="2.8" text-anchor="middle" fill="#111" font-weight="bold">GZMA</text>
<text x="246.8" y="85.4" font-size="2.2" text-anchor="end" fill="#666">2</text>
<text x="409.6" y="85.6" font-size="2.8" text-anchor="middle" fill="#111" font-weight="bold">PRF1</text>
<text x="246.8" y="90.1" font-size="2.2" text-anchor="end" fill="#666">2</text>
<text x="409.6" y="90.3" font-size="2.8" text-anchor="middle" fill="#111" font-weight="bold">TYROBP</text>
<text x="246.8" y="94.7" font-size="2.2" text-anchor="end" fill="#666">2</text>
<text x="409.6" y="94.9" font-size="2.8" text-anchor="middle" fill="#111" font-weight="bold">KLRF1</text>
<text x="246.8" y="99.4" font-size="2.2" text-anchor="end" fill="#666">2</text>
<text x="409.6" y="99.6" font-size="2.8" text-anchor="middle" fill="#111" font-weight="bold">TYMS</text>
<text x="246.8" y="104.0" font-size="2.2" text-anchor="end" fill="#666">2</text>
<text x="409.6" y="104.2" font-size="2.8" text-anchor="middle" fill="#111" font-weight="bold">MKI67</text>
<text x="246.8" y="108.6" font-size="2.2" text-anchor="end" fill="#666">2</text>
<text x="409.6" y="108.8" font-size="2.8" text-anchor="middle" fill="#111" font-weight="bold">ENSGH</text>
<text x="246.8" y="113.3" font-size="2.2" text-anchor="end" fill="#666">2</text>
<text x="409.6" y="113.5" font-size="2.8" text-anchor="middle" fill="#111" font-weight="bold">TBN1</text>
<text x="246.8" y="117.9" font-size="2.2" text-anchor="end" fill="#666">2</text>
<text x="409.6" y="118.1" font-size="2.8" text-anchor="middle" fill="#111" font-weight="bold">IDI1</text>
<text x="246.8" y="122.6" font-size="2.2" text-anchor="end" fill="#666">2</text>
<text x="409.6" y="122.8" font-size="2.8" text-anchor="middle" fill="#111" font-weight="bold">GPR183</text>
<text x="246.8" y="127.2" font-size="2.2" text-anchor="end" fill="#666">2</text>
<text x="409.6" y="127.4" font-size="2.8" text-anchor="middle" fill="#111" font-weight="bold">TNFRSF4</text>
<text x="246.8" y="131.9" font-size="2.2" text-anchor="end" fill="#666">2</text>
<text x="409.6" y="132.1" font-size="2.8" text-anchor="middle" fill="#111" font-weight="bold">FOXP3</text>
<text x="244.2" y="68.0" font-size="3.2" text-anchor="middle" fill="#444" transform="rotate(-90 244.2 68.0)">Expression Level</text>
<text x="258.0" y="136.5" font-size="3" text-anchor="end" fill="#333" transform="rotate(-45 258.0 136.5)">CD4+ memory T</text>
<text x="271.8" y="136.5" font-size="3" text-anchor="end" fill="#333" transform="rotate(-45 271.8 136.5)">CD4+ exhaust like T</text>
<text x="285.6" y="136.5" font-size="3" text-anchor="end" fill="#333" transform="rotate(-45 285.6 136.5)">CD4+ naive T</text>
<text x="299.4" y="136.5" font-size="3" text-anchor="end" fill="#333" transform="rotate(-45 299.4 136.5)">CD8+ naive T</text>
<text x="313.2" y="136.5" font-size="3" text-anchor="end" fill="#333" transform="rotate(-45 313.2 136.5)">CD4+ Treg</text>
<text x="327.0" y="136.5" font-size="3" text-anchor="end" fill="#333" transform="rotate(-45 327.0 136.5)">Proliferative T</text>
<text x="340.8" y="136.5" font-size="3" text-anchor="end" fill="#333" transform="rotate(-45 340.8 136.5)">CD8+ NKT</text>
<text x="354.6" y="136.5" font-size="3" text-anchor="end" fill="#333" transform="rotate(-45 354.6 136.5)">CD8+ CTL−GNLY</text>
<text x="368.4" y="136.5" font-size="3" text-anchor="end" fill="#333" transform="rotate(-45 368.4 136.5)">γδT</text>
<text x="382.2" y="136.5" font-size="3" text-anchor="end" fill="#333" transform="rotate(-45 382.2 136.5)">CD8+ MAIT</text>
<text x="396.0" y="136.5" font-size="3" text-anchor="end" fill="#333" transform="rotate(-45 396.0 136.5)">CD8+ CTL−GZMK</text>
<text x="414.6" y="9.8" font-size="14" font-weight="bold" font-family="'Liberation Serif', serif">C</text>
<rect x="438.5" y="2.2" width="206.0" height="153.9" fill="none" stroke="#888" stroke-width="0.55"/>
<rect x="447.9" y="4.4" width="187.8" height="5.3" fill="#d0d0d0"/>
<rect x="447.6" y="4.0" width="1.0" height="5.3" fill="#ff7cc2"/>
<path d="M448.6 4.0L448.6 9.3" stroke="#444" stroke-width="0.4"/>
<rect x="448.6" y="4.0" width="3.0" height="5.3" fill="#f27fee"/>
<path d="M451.6 4.0L451.6 9.3" stroke="#444" stroke-width="0.4"/>
<rect x="451.6" y="4.0" width="15.0" height="5.3" fill="#bf99ff"/>
<path d="M466.6 4.0L466.6 9.3" stroke="#444" stroke-width="0.4"/>
<rect x="466.6" y="4.0" width="9.8" height="5.3" fill="#5eb4ff"/>
<path d="M476.4 4.0L476.4 9.3" stroke="#444" stroke-width="0.4"/>
<rect x="476.4" y="4.0" width="19.3" height="5.3" fill="#5ec5e3"/>
<path d="M495.7 4.0L495.7 9.3" stroke="#444" stroke-width="0.4"/>
<rect x="495.7" y="4.0" width="17.6" height="5.3" fill="#5ecbb5"/>
<path d="M513.3 4.0L513.3 9.3" stroke="#444" stroke-width="0.4"/>
<rect x="513.3" y="4.0" width="20.3" height="5.3" fill="#5ec876"/>
<path d="M533.6 4.0L533.6 9.3" stroke="#444" stroke-width="0.4"/>
<rect x="533.6" y="4.0" width="11.1" height="5.3" fill="#7dbe5e"/>
<path d="M544.7 4.0L544.7 9.3" stroke="#444" stroke-width="0.4"/>
<rect x="544.7" y="4.0" width="27.9" height="5.3" fill="#bbb15e"/>
<path d="M572.6 4.0L572.6 9.3" stroke="#444" stroke-width="0.4"/>
<rect x="572.6" y="4.0" width="28.0" height="5.3" fill="#e1a05e"/>
<path d="M600.6 4.0L600.6 9.3" stroke="#444" stroke-width="0.4"/>
<rect x="600.6" y="4.0" width="34.8" height="5.3" fill="#f98c84"/>
<rect x="447.6" y="4.0" width="187.8" height="5.3" fill="none" stroke="#555" stroke-width="0.45"/>
<rect x="447.9" y="12.0" width="187.8" height="5.3" fill="#d0d0d0"/>
<rect x="447.6" y="11.6" width="0.9" height="5.3" fill="#ff7cc2"/>
<path d="M448.5 11.6L448.5 16.9" stroke="#444" stroke-width="0.4"/>
<rect x="448.5" y="11.6" width="0.6" height="5.3" fill="#f27fee"/>
<path d="M449.1 11.6L449.1 16.9" stroke="#444" stroke-width="0.4"/>
<rect x="449.1" y="11.6" width="3.2" height="5.3" fill="#bf99ff"/>
<path d="M452.3 11.6L452.3 16.9" stroke="#444" stroke-width="0.4"/>
<rect x="452.3" y="11.6" width="2.2" height="5.3" fill="#5eb4ff"/>
<path d="M454.5 11.6L454.5 16.9" stroke="#444" stroke-width="0.4"/>
<rect x="454.5" y="11.6" width="27.0" height="5.3" fill="#5ec5e3"/>
<path d="M481.5 11.6L481.5 16.9" stroke="#444" stroke-width="0.4"/>
<rect x="481.5" y="11.6" width="8.8" height="5.3" fill="#5ecbb5"/>
<path d="M490.3 11.6L490.3 16.9" stroke="#444" stroke-width="0.4"/>
<rect x="490.3" y="11.6" width="29.4" height="5.3" fill="#5ec876"/>
<path d="M519.7 11.6L519.7 16.9" stroke="#444" stroke-width="0.4"/>
<rect x="519.7" y="11.6" width="23.0" height="5.3" fill="#7dbe5e"/>
<path d="M542.7 11.6L542.7 16.9" stroke="#444" stroke-width="0.4"/>
<rect x="542.7" y="11.6" width="34.9" height="5.3" fill="#bbb15e"/>
<path d="M577.6 11.6L577.6 16.9" stroke="#444" stroke-width="0.4"/>
<rect x="577.6" y="11.6" width="29.9" height="5.3" fill="#e1a05e"/>
<path d="M607.5 11.6L607.5 16.9" stroke="#444" stroke-width="0.4"/>
<rect x="607.5" y="11.6" width="27.9" height="5.3" fill="#f98c84"/>
<rect x="447.6" y="11.6" width="187.8" height="5.3" fill="none" stroke="#555" stroke-width="0.45"/>
<rect x="447.9" y="19.7" width="187.8" height="5.3" fill="#d0d0d0"/>
<rect x="447.6" y="19.3" width="2.0" height="5.3" fill="#ff7cc2"/>
<path d="M449.6 19.3L449.6 24.6" stroke="#444" stroke-width="0.4"/>
<rect x="449.6" y="19.3" width="2.0" height="5.3" fill="#f27fee"/>
<path d="M451.6 19.3L451.6 24.6" stroke="#444" stroke-width="0.4"/>
<rect x="451.6" y="19.3" width="3.6" height="5.3" fill="#bf99ff"/>
<path d="M455.2 19.3L455.2 24.6" stroke="#444" stroke-width="0.4"/>
<rect x="455.2" y="19.3" width="2.2" height="5.3" fill="#5eb4ff"/>
<path d="M457.4 19.3L457.4 24.6" stroke="#444" stroke-width="0.4"/>
<rect x="457.4" y="19.3" width="21.2" height="5.3" fill="#5ec5e3"/>
<path d="M478.6 19.3L478.6 24.6" stroke="#444" stroke-width="0.4"/>
<rect x="478.6" y="19.3" width="27.7" height="5.3" fill="#5ecbb5"/>
<path d="M506.3 19.3L506.3 24.6" stroke="#444" stroke-width="0.4"/>
<rect x="506.3" y="19.3" width="8.8" height="5.3" fill="#5ec876"/>
<path d="M515.1 19.3L515.1 24.6" stroke="#444" stroke-width="0.4"/>
<rect x="515.1" y="19.3" width="5.1" height="5.3" fill="#7dbe5e"/>
<path d="M520.2 19.3L520.2 24.6" stroke="#444" stroke-width="0.4"/>
<rect x="520.2" y="19.3" width="53.4" height="5.3" fill="#bbb15e"/>
<path d="M573.6 19.3L573.6 24.6" stroke="#444" stroke-width="0.4"/>
<rect x="573.6" y="19.3" width="33.9" height="5.3" fill="#e1a05e"/>
<path d="M607.5 19.3L607.5 24.6" stroke="#444" stroke-width="0.4"/>
<rect x="607.5" y="19.3" width="27.9" height="5.3" fill="#f98c84"/>
<rect x="447.6" y="19.3" width="187.8" height="5.3" fill="none" stroke="#555" stroke-width="0.45"/>
<rect x="447.9" y="27.3" width="187.8" height="5.3" fill="#d0d0d0"/>
<rect x="447.6" y="26.9" width="1.5" height="5.3" fill="#ff7cc2"/>
<path d="M449.1 26.9L449.1 32.2" stroke="#444" stroke-width="0.4"/>
<rect x="449.1" y="26.9" width="2.5" height="5.3" fill="#f27fee"/>
<path d="M451.6 26.9L451.6 32.2" stroke="#444" stroke-width="0.4"/>
<rect x="451.6" y="26.9" width="5.1" height="5.3" fill="#bf99ff"/>
<path d="M456.7 26.9L456.7 32.2" stroke="#444" stroke-width="0.4"/>
<rect x="456.7" y="26.9" width="5.5" height="5.3" fill="#5eb4ff"/>
<path d="M462.2 26.9L462.2 32.2" stroke="#444" stroke-width="0.4"/>
<rect x="462.2" y="26.9" width="2.5" height="5.3" fill="#5ec5e3"/>
<path d="M464.7 26.9L464.7 32.2" stroke="#444" stroke-width="0.4"/>
<rect x="464.7" y="26.9" width="17.5" height="5.3" fill="#5ecbb5"/>
<path d="M482.2 26.9L482.2 32.2" stroke="#444" stroke-width="0.4"/>
<rect x="482.2" y="26.9" width="14.6" height="5.3" fill="#5ec876"/>
<path d="M496.8 26.9L496.8 32.2" stroke="#444" stroke-width="0.4"/>
<rect x="496.8" y="26.9" width="0.8" height="5.3" fill="#7dbe5e"/>
<path d="M497.6 26.9L497.6 32.2" stroke="#444" stroke-width="0.4"/>
<rect x="497.6" y="26.9" width="27.0" height="5.3" fill="#bbb15e"/>
<path d="M524.6 26.9L524.6 32.2" stroke="#444" stroke-width="0.4"/>
<rect x="524.6" y="26.9" width="51.0" height="5.3" fill="#e1a05e"/>
<path d="M575.6 26.9L575.6 32.2" stroke="#444" stroke-width="0.4"/>
<rect x="575.6" y="26.9" width="59.8" height="5.3" fill="#f98c84"/>
<rect x="447.6" y="26.9" width="187.8" height="5.3" fill="none" stroke="#555" stroke-width="0.45"/>
<rect x="447.9" y="35.0" width="187.8" height="5.3" fill="#d0d0d0"/>
<rect x="447.6" y="34.6" width="1.4" height="5.3" fill="#ff7cc2"/>
<path d="M449.0 34.6L449.0 39.9" stroke="#444" stroke-width="0.4"/>
<rect x="449.0" y="34.6" width="1.8" height="5.3" fill="#f27fee"/>
<path d="M450.8 34.6L450.8 39.9" stroke="#444" stroke-width="0.4"/>
<rect x="450.8" y="34.6" width="5.6" height="5.3" fill="#bf99ff"/>
<path d="M456.4 34.6L456.4 39.9" stroke="#444" stroke-width="0.4"/>
<rect x="456.4" y="34.6" width="3.9" height="5.3" fill="#5eb4ff"/>
<path d="M460.3 34.6L460.3 39.9" stroke="#444" stroke-width="0.4"/>
<rect x="460.3" y="34.6" width="20.2" height="5.3" fill="#5ec5e3"/>
<path d="M480.5 34.6L480.5 39.9" stroke="#444" stroke-width="0.4"/>
<rect x="480.5" y="34.6" width="16.8" height="5.3" fill="#5ecbb5"/>
<path d="M497.3 34.6L497.3 39.9" stroke="#444" stroke-width="0.4"/>
<rect x="497.3" y="34.6" width="34.3" height="5.3" fill="#5ec876"/>
<path d="M531.6 34.6L531.6 39.9" stroke="#444" stroke-width="0.4"/>
<rect x="531.6" y="34.6" width="22.6" height="5.3" fill="#7dbe5e"/>
<path d="M554.2 34.6L554.2 39.9" stroke="#444" stroke-width="0.4"/>
<rect x="554.2" y="34.6" width="25.3" height="5.3" fill="#bbb15e"/>
<path d="M579.5 34.6L579.5 39.9" stroke="#444" stroke-width="0.4"/>
<rect x="579.5" y="34.6" width="28.8" height="5.3" fill="#e1a05e"/>
<path d="M608.3 34.6L608.3 39.9" stroke="#444" stroke-width="0.4"/>
<rect x="608.3" y="34.6" width="27.1" height="5.3" fill="#f98c84"/>
<rect x="447.6" y="34.6" width="187.8" height="5.3" fill="none" stroke="#555" stroke-width="0.45"/>
<rect x="447.9" y="42.6" width="187.8" height="5.3" fill="#d0d0d0"/>
<rect x="447.6" y="42.2" width="1.5" height="5.3" fill="#ff7cc2"/>
<path d="M449.1 42.2L449.1 47.5" stroke="#444" stroke-width="0.4"/>
<rect x="449.1" y="42.2" width="2.5" height="5.3" fill="#f27fee"/>
<path d="M451.6 42.2L451.6 47.5" stroke="#444" stroke-width="0.4"/>
<rect x="451.6" y="42.2" width="12.8" height="5.3" fill="#bf99ff"/>
<path d="M464.4 42.2L464.4 47.5" stroke="#444" stroke-width="0.4"/>
<rect x="464.4" y="42.2" width="4.0" height="5.3" fill="#5eb4ff"/>
<path d="M468.4 42.2L468.4 47.5" stroke="#444" stroke-width="0.4"/>
<rect x="468.4" y="42.2" width="14.3" height="5.3" fill="#5ec5e3"/>
<path d="M482.7 42.2L482.7 47.5" stroke="#444" stroke-width="0.4"/>
<rect x="482.7" y="42.2" width="30.6" height="5.3" fill="#5ecbb5"/>
<path d="M513.3 42.2L513.3 47.5" stroke="#444" stroke-width="0.4"/>
<rect x="513.3" y="42.2" width="25.5" height="5.3" fill="#5ec876"/>
<path d="M538.8 42.2L538.8 47.5" stroke="#444" stroke-width="0.4"/>
<rect x="538.8" y="42.2" width="8.2" height="5.3" fill="#7dbe5e"/>
<path d="M547.0 42.2L547.0 47.5" stroke="#444" stroke-width="0.4"/>
<rect x="547.0" y="42.2" width="14.5" height="5.3" fill="#bbb15e"/>
<path d="M561.5 42.2L561.5 47.5" stroke="#444" stroke-width="0.4"/>
<rect x="561.5" y="42.2" width="21.9" height="5.3" fill="#e1a05e"/>
<path d="M583.4 42.2L583.4 47.5" stroke="#444" stroke-width="0.4"/>
<rect x="583.4" y="42.2" width="52.0" height="5.3" fill="#f98c84"/>
<rect x="447.6" y="42.2" width="187.8" height="5.3" fill="none" stroke="#555" stroke-width="0.45"/>
<rect x="447.9" y="50.2" width="187.8" height="5.3" fill="#d0d0d0"/>
<rect x="447.6" y="49.8" width="2.9" height="5.3" fill="#ff7cc2"/>
<path d="M450.5 49.8L450.5 55.1" stroke="#444" stroke-width="0.4"/>
<rect x="450.5" y="49.8" width="3.3" height="5.3" fill="#f27fee"/>
<path d="M453.8 49.8L453.8 55.1" stroke="#444" stroke-width="0.4"/>
<rect x="453.8" y="49.8" width="1.7" height="5.3" fill="#5eb4ff"/>
<path d="M455.5 49.8L455.5 55.1" stroke="#444" stroke-width="0.4"/>
<rect x="455.5" y="49.8" width="7.0" height="5.3" fill="#5ec5e3"/>
<path d="M462.5 49.8L462.5 55.1" stroke="#444" stroke-width="0.4"/>
<rect x="462.5" y="49.8" width="9.9" height="5.3" fill="#5ecbb5"/>
<path d="M472.4 49.8L472.4 55.1" stroke="#444" stroke-width="0.4"/>
<rect x="472.4" y="49.8" width="13.2" height="5.3" fill="#5ec876"/>
<path d="M485.6 49.8L485.6 55.1" stroke="#444" stroke-width="0.4"/>
<rect x="485.6" y="49.8" width="34.1" height="5.3" fill="#7dbe5e"/>
<path d="M519.7 49.8L519.7 55.1" stroke="#444" stroke-width="0.4"/>
<rect x="519.7" y="49.8" width="30.6" height="5.3" fill="#bbb15e"/>
<path d="M550.3 49.8L550.3 55.1" stroke="#444" stroke-width="0.4"/>
<rect x="550.3" y="49.8" width="49.8" height="5.3" fill="#e1a05e"/>
<path d="M600.1 49.8L600.1 55.1" stroke="#444" stroke-width="0.4"/>
<rect x="600.1" y="49.8" width="35.3" height="5.3" fill="#f98c84"/>
<rect x="447.6" y="49.8" width="187.8" height="5.3" fill="none" stroke="#555" stroke-width="0.45"/>
<rect x="447.9" y="57.9" width="187.8" height="5.3" fill="#d0d0d0"/>
<rect x="447.6" y="57.5" width="1.7" height="5.3" fill="#ff7cc2"/>
<path d="M449.3 57.5L449.3 62.8" stroke="#444" stroke-width="0.4"/>
<rect x="449.3" y="57.5" width="2.3" height="5.3" fill="#f27fee"/>
<path d="M451.6 57.5L451.6 62.8" stroke="#444" stroke-width="0.4"/>
<rect x="451.6" y="57.5" width="16.8" height="5.3" fill="#bf99ff"/>
<path d="M468.4 57.5L468.4 62.8" stroke="#444" stroke-width="0.4"/>
<rect x="468.4" y="57.5" width="10.2" height="5.3" fill="#5eb4ff"/>
<path d="M478.6 57.5L478.6 62.8" stroke="#444" stroke-width="0.4"/>
<rect x="478.6" y="57.5" width="10.6" height="5.3" fill="#5ec5e3"/>
<path d="M489.2 57.5L489.2 62.8" stroke="#444" stroke-width="0.4"/>
<rect x="489.2" y="57.5" width="17.4" height="5.3" fill="#5ecbb5"/>
<path d="M506.6 57.5L506.6 62.8" stroke="#444" stroke-width="0.4"/>
<rect x="506.6" y="57.5" width="26.0" height="5.3" fill="#5ec876"/>
<path d="M532.6 57.5L532.6 62.8" stroke="#444" stroke-width="0.4"/>
<rect x="532.6" y="57.5" width="16.5" height="5.3" fill="#7dbe5e"/>
<path d="M549.1 57.5L549.1 62.8" stroke="#444" stroke-width="0.4"/>
<rect x="549.1" y="57.5" width="7.4" height="5.3" fill="#bbb15e"/>
<path d="M556.5 57.5L556.5 62.8" stroke="#444" stroke-width="0.4"/>
<rect x="556.5" y="57.5" width="19.9" height="5.3" fill="#e1a05e"/>
<path d="M576.4 57.5L576.4 62.8" stroke="#444" stroke-width="0.4"/>
<rect x="576.4" y="57.5" width="59.0" height="5.3" fill="#f98c84"/>
<rect x="447.6" y="57.5" width="187.8" height="5.3" fill="none" stroke="#555" stroke-width="0.45"/>
<rect x="447.9" y="65.5" width="187.8" height="5.3" fill="#d0d0d0"/>
<rect x="447.6" y="65.1" width="1.0" height="5.3" fill="#ff7cc2"/>
<path d="M448.6 65.1L448.6 70.4" stroke="#444" stroke-width="0.4"/>
<rect x="448.6" y="65.1" width="3.0" height="5.3" fill="#f27fee"/>
<path d="M451.6 65.1L451.6 70.4" stroke="#444" stroke-width="0.4"/>
<rect x="451.6" y="65.1" width="20.8" height="5.3" fill="#bf99ff"/>
<path d="M472.4 65.1L472.4 70.4" stroke="#444" stroke-width="0.4"/>
<rect x="472.4" y="65.1" width="25.2" height="5.3" fill="#5eb4ff"/>
<path d="M497.6 65.1L497.6 70.4" stroke="#444" stroke-width="0.4"/>
<rect x="497.6" y="65.1" width="9.9" height="5.3" fill="#5ec5e3"/>
<path d="M507.5 65.1L507.5 70.4" stroke="#444" stroke-width="0.4"/>
<rect x="507.5" y="65.1" width="21.1" height="5.3" fill="#5ecbb5"/>
<path d="M528.6 65.1L528.6 70.4" stroke="#444" stroke-width="0.4"/>
<rect x="528.6" y="65.1" width="45.9" height="5.3" fill="#5ec876"/>
<path d="M574.5 65.1L574.5 70.4" stroke="#444" stroke-width="0.4"/>
<rect x="574.5" y="65.1" width="10.0" height="5.3" fill="#7dbe5e"/>
<path d="M584.5 65.1L584.5 70.4" stroke="#444" stroke-width="0.4"/>
<rect x="584.5" y="65.1" width="6.9" height="5.3" fill="#bbb15e"/>
<path d="M591.4 65.1L591.4 70.4" stroke="#444" stroke-width="0.4"/>
<rect x="591.4" y="65.1" width="16.9" height="5.3" fill="#e1a05e"/>
<path d="M608.3 65.1L608.3 70.4" stroke="#444" stroke-width="0.4"/>
<rect x="608.3" y="65.1" width="27.1" height="5.3" fill="#f98c84"/>
<rect x="447.6" y="65.1" width="187.8" height="5.3" fill="none" stroke="#555" stroke-width="0.45"/>
<rect x="447.9" y="73.2" width="187.8" height="5.3" fill="#d0d0d0"/>
<rect x="447.6" y="72.8" width="1.0" height="5.3" fill="#ff7cc2"/>
<path d="M448.6 72.8L448.6 78.1" stroke="#444" stroke-width="0.4"/>
<rect x="448.6" y="72.8" width="2.2" height="5.3" fill="#f27fee"/>
<path d="M450.8 72.8L450.8 78.1" stroke="#444" stroke-width="0.4"/>
<rect x="450.8" y="72.8" width="5.9" height="5.3" fill="#bf99ff"/>
<path d="M456.7 72.8L456.7 78.1" stroke="#444" stroke-width="0.4"/>
<rect x="456.7" y="72.8" width="5.8" height="5.3" fill="#5eb4ff"/>
<path d="M462.5 72.8L462.5 78.1" stroke="#444" stroke-width="0.4"/>
<rect x="462.5" y="72.8" width="13.9" height="5.3" fill="#5ec5e3"/>
<path d="M476.4 72.8L476.4 78.1" stroke="#444" stroke-width="0.4"/>
<rect x="476.4" y="72.8" width="28.2" height="5.3" fill="#5ecbb5"/>
<path d="M504.6 72.8L504.6 78.1" stroke="#444" stroke-width="0.4"/>
<rect x="504.6" y="72.8" width="21.9" height="5.3" fill="#5ec876"/>
<path d="M526.5 72.8L526.5 78.1" stroke="#444" stroke-width="0.4"/>
<rect x="526.5" y="72.8" width="44.2" height="5.3" fill="#7dbe5e"/>
<path d="M570.7 72.8L570.7 78.1" stroke="#444" stroke-width="0.4"/>
<rect x="570.7" y="72.8" width="15.6" height="5.3" fill="#bbb15e"/>
<path d="M586.3 72.8L586.3 78.1" stroke="#444" stroke-width="0.4"/>
<rect x="586.3" y="72.8" width="16.1" height="5.3" fill="#e1a05e"/>
<path d="M602.4 72.8L602.4 78.1" stroke="#444" stroke-width="0.4"/>
<rect x="602.4" y="72.8" width="33.0" height="5.3" fill="#f98c84"/>
<rect x="447.6" y="72.8" width="187.8" height="5.3" fill="none" stroke="#555" stroke-width="0.45"/>
<rect x="447.9" y="80.8" width="187.8" height="5.3" fill="#d0d0d0"/>
<rect x="447.6" y="80.4" width="2.5" height="5.3" fill="#ff7cc2"/>
<path d="M450.1 80.4L450.1 85.7" stroke="#444" stroke-width="0.4"/>
<rect x="450.1" y="80.4" width="2.2" height="5.3" fill="#f27fee"/>
<path d="M452.3 80.4L452.3 85.7" stroke="#444" stroke-width="0.4"/>
<rect x="452.3" y="80.4" width="1.7" height="5.3" fill="#bf99ff"/>
<path d="M454.0 80.4L454.0 85.7" stroke="#444" stroke-width="0.4"/>
<rect x="454.0" y="80.4" width="105.5" height="5.3" fill="#5eb4ff"/>
<path d="M559.5 80.4L559.5 85.7" stroke="#444" stroke-width="0.4"/>
<rect x="559.5" y="80.4" width="5.7" height="5.3" fill="#5ec5e3"/>
<path d="M565.2 80.4L565.2 85.7" stroke="#444" stroke-width="0.4"/>
<rect x="565.2" y="80.4" width="5.1" height="5.3" fill="#5ecbb5"/>
<path d="M570.3 80.4L570.3 85.7" stroke="#444" stroke-width="0.4"/>
<rect x="570.3" y="80.4" width="23.4" height="5.3" fill="#5ec876"/>
<path d="M593.7 80.4L593.7 85.7" stroke="#444" stroke-width="0.4"/>
<rect x="593.7" y="80.4" width="1.5" height="5.3" fill="#7dbe5e"/>
<path d="M595.2 80.4L595.2 85.7" stroke="#444" stroke-width="0.4"/>
<rect x="595.2" y="80.4" width="12.1" height="5.3" fill="#bbb15e"/>
<path d="M607.3 80.4L607.3 85.7" stroke="#444" stroke-width="0.4"/>
<rect x="607.3" y="80.4" width="15.1" height="5.3" fill="#e1a05e"/>
<path d="M622.4 80.4L622.4 85.7" stroke="#444" stroke-width="0.4"/>
<rect x="622.4" y="80.4" width="13.0" height="5.3" fill="#f98c84"/>
<rect x="447.6" y="80.4" width="187.8" height="5.3" fill="none" stroke="#555" stroke-width="0.45"/>
<rect x="447.9" y="88.4" width="187.8" height="5.3" fill="#d0d0d0"/>
<rect x="447.6" y="88.0" width="1.0" height="5.3" fill="#ff7cc2"/>
<path d="M448.6 88.0L448.6 93.3" stroke="#444" stroke-width="0.4"/>
<rect x="448.6" y="88.0" width="0.8" height="5.3" fill="#f27fee"/>
<path d="M449.4 88.0L449.4 93.3" stroke="#444" stroke-width="0.4"/>
<rect x="449.4" y="88.0" width="7.0" height="5.3" fill="#bf99ff"/>
<path d="M456.4 88.0L456.4 93.3" stroke="#444" stroke-width="0.4"/>
<rect x="456.4" y="88.0" width="4.4" height="5.3" fill="#5eb4ff"/>
<path d="M460.8 88.0L460.8 93.3" stroke="#444" stroke-width="0.4"/>
<rect x="460.8" y="88.0" width="10.2" height="5.3" fill="#5ec5e3"/>
<path d="M471.0 88.0L471.0 93.3" stroke="#444" stroke-width="0.4"/>
<rect x="471.0" y="88.0" width="38.2" height="5.3" fill="#5ecbb5"/>
<path d="M509.2 88.0L509.2 93.3" stroke="#444" stroke-width="0.4"/>
<rect x="509.2" y="88.0" width="22.2" height="5.3" fill="#5ec876"/>
<path d="M531.4 88.0L531.4 93.3" stroke="#444" stroke-width="0.4"/>
<rect x="531.4" y="88.0" width="35.0" height="5.3" fill="#7dbe5e"/>
<path d="M566.4 88.0L566.4 93.3" stroke="#444" stroke-width="0.4"/>
<rect x="566.4" y="88.0" width="14.1" height="5.3" fill="#bbb15e"/>
<path d="M580.5 88.0L580.5 93.3" stroke="#444" stroke-width="0.4"/>
<rect x="580.5" y="88.0" width="25.8" height="5.3" fill="#e1a05e"/>
<path d="M606.3 88.0L606.3 93.3" stroke="#444" stroke-width="0.4"/>
<rect x="606.3" y="88.0" width="29.1" height="5.3" fill="#f98c84"/>
<rect x="447.6" y="88.0" width="187.8" height="5.3" fill="none" stroke="#555" stroke-width="0.45"/>
<rect x="447.9" y="96.1" width="187.8" height="5.3" fill="#d0d0d0"/>
<rect x="447.6" y="95.7" width="2.5" height="5.3" fill="#ff7cc2"/>
<path d="M450.1 95.7L450.1 101.0" stroke="#444" stroke-width="0.4"/>
<rect x="450.1" y="95.7" width="2.2" height="5.3" fill="#f27fee"/>
<path d="M452.3 95.7L452.3 101.0" stroke="#444" stroke-width="0.4"/>
<rect x="452.3" y="95.7" width="11.4" height="5.3" fill="#bf99ff"/>
<path d="M463.7 95.7L463.7 101.0" stroke="#444" stroke-width="0.4"/>
<rect x="463.7" y="95.7" width="3.9" height="5.3" fill="#5eb4ff"/>
<path d="M467.6 95.7L467.6 101.0" stroke="#444" stroke-width="0.4"/>
<rect x="467.6" y="95.7" width="12.1" height="5.3" fill="#5ec5e3"/>
<path d="M479.7 95.7L479.7 101.0" stroke="#444" stroke-width="0.4"/>
<rect x="479.7" y="95.7" width="16.1" height="5.3" fill="#5ecbb5"/>
<path d="M495.8 95.7L495.8 101.0" stroke="#444" stroke-width="0.4"/>
<rect x="495.8" y="95.7" width="16.8" height="5.3" fill="#5ec876"/>
<path d="M512.6 95.7L512.6 101.0" stroke="#444" stroke-width="0.4"/>
<rect x="512.6" y="95.7" width="3.9" height="5.3" fill="#7dbe5e"/>
<path d="M516.5 95.7L516.5 101.0" stroke="#444" stroke-width="0.4"/>
<rect x="516.5" y="95.7" width="15.1" height="5.3" fill="#bbb15e"/>
<path d="M531.6 95.7L531.6 101.0" stroke="#444" stroke-width="0.4"/>
<rect x="531.6" y="95.7" width="62.0" height="5.3" fill="#e1a05e"/>
<path d="M593.6 95.7L593.6 101.0" stroke="#444" stroke-width="0.4"/>
<rect x="593.6" y="95.7" width="41.8" height="5.3" fill="#f98c84"/>
<rect x="447.6" y="95.7" width="187.8" height="5.3" fill="none" stroke="#555" stroke-width="0.45"/>
<rect x="447.9" y="103.7" width="187.8" height="5.3" fill="#d0d0d0"/>
<rect x="447.6" y="103.3" width="1.0" height="5.3" fill="#ff7cc2"/>
<path d="M448.6 103.3L448.6 108.6" stroke="#444" stroke-width="0.4"/>
<rect x="448.6" y="103.3" width="3.4" height="5.3" fill="#f27fee"/>
<path d="M452.0 103.3L452.0 108.6" stroke="#444" stroke-width="0.4"/>
<rect x="452.0" y="103.3" width="15.3" height="5.3" fill="#5eb4ff"/>
<path d="M467.3 103.3L467.3 108.6" stroke="#444" stroke-width="0.4"/>
<rect x="467.3" y="103.3" width="4.0" height="5.3" fill="#5ec5e3"/>
<path d="M471.3 103.3L471.3 108.6" stroke="#444" stroke-width="0.4"/>
<rect x="471.3" y="103.3" width="32.8" height="5.3" fill="#5ecbb5"/>
<path d="M504.1 103.3L504.1 108.6" stroke="#444" stroke-width="0.4"/>
<rect x="504.1" y="103.3" width="20.2" height="5.3" fill="#5ec876"/>
<path d="M524.3 103.3L524.3 108.6" stroke="#444" stroke-width="0.4"/>
<rect x="524.3" y="103.3" width="27.1" height="5.3" fill="#7dbe5e"/>
<path d="M551.4 103.3L551.4 108.6" stroke="#444" stroke-width="0.4"/>
<rect x="551.4" y="103.3" width="17.6" height="5.3" fill="#bbb15e"/>
<path d="M569.0 103.3L569.0 108.6" stroke="#444" stroke-width="0.4"/>
<rect x="569.0" y="103.3" width="34.5" height="5.3" fill="#e1a05e"/>
<path d="M603.5 103.3L603.5 108.6" stroke="#444" stroke-width="0.4"/>
<rect x="603.5" y="103.3" width="31.9" height="5.3" fill="#f98c84"/>
<rect x="447.6" y="103.3" width="187.8" height="5.3" fill="none" stroke="#555" stroke-width="0.45"/>
<rect x="447.9" y="111.4" width="187.8" height="5.3" fill="#d0d0d0"/>
<rect x="447.6" y="111.0" width="1.0" height="5.3" fill="#ff7cc2"/>
<path d="M448.6 111.0L448.6 116.3" stroke="#444" stroke-width="0.4"/>
<rect x="448.6" y="111.0" width="1.9" height="5.3" fill="#f27fee"/>
<path d="M450.5 111.0L450.5 116.3" stroke="#444" stroke-width="0.4"/>
<rect x="450.5" y="111.0" width="8.8" height="5.3" fill="#bf99ff"/>
<path d="M459.3 111.0L459.3 116.3" stroke="#444" stroke-width="0.4"/>
<rect x="459.3" y="111.0" width="6.1" height="5.3" fill="#5eb4ff"/>
<path d="M465.4 111.0L465.4 116.3" stroke="#444" stroke-width="0.4"/>
<rect x="465.4" y="111.0" width="18.0" height="5.3" fill="#5ec5e3"/>
<path d="M483.4 111.0L483.4 116.3" stroke="#444" stroke-width="0.4"/>
<rect x="483.4" y="111.0" width="17.8" height="5.3" fill="#5ecbb5"/>
<path d="M501.2 111.0L501.2 116.3" stroke="#444" stroke-width="0.4"/>
<rect x="501.2" y="111.0" width="26.3" height="5.3" fill="#5ec876"/>
<path d="M527.5 111.0L527.5 116.3" stroke="#444" stroke-width="0.4"/>
<rect x="527.5" y="111.0" width="38.9" height="5.3" fill="#7dbe5e"/>
<path d="M566.4 111.0L566.4 116.3" stroke="#444" stroke-width="0.4"/>
<rect x="566.4" y="111.0" width="18.1" height="5.3" fill="#bbb15e"/>
<path d="M584.5 111.0L584.5 116.3" stroke="#444" stroke-width="0.4"/>
<rect x="584.5" y="111.0" width="21.0" height="5.3" fill="#e1a05e"/>
<path d="M605.5 111.0L605.5 116.3" stroke="#444" stroke-width="0.4"/>
<rect x="605.5" y="111.0" width="29.9" height="5.3" fill="#f98c84"/>
<rect x="447.6" y="111.0" width="187.8" height="5.3" fill="none" stroke="#555" stroke-width="0.45"/>
<rect x="447.9" y="119.0" width="187.8" height="5.3" fill="#d0d0d0"/>
<rect x="447.6" y="118.6" width="1.0" height="5.3" fill="#ff7cc2"/>
<path d="M448.6 118.6L448.6 123.9" stroke="#444" stroke-width="0.4"/>
<rect x="448.6" y="118.6" width="2.2" height="5.3" fill="#f27fee"/>
<path d="M450.8 118.6L450.8 123.9" stroke="#444" stroke-width="0.4"/>
<rect x="450.8" y="118.6" width="15.8" height="5.3" fill="#bf99ff"/>
<path d="M466.6 118.6L466.6 123.9" stroke="#444" stroke-width="0.4"/>
<rect x="466.6" y="118.6" width="8.0" height="5.3" fill="#5eb4ff"/>
<path d="M474.6 118.6L474.6 123.9" stroke="#444" stroke-width="0.4"/>
<rect x="474.6" y="118.6" width="5.0" height="5.3" fill="#5ec5e3"/>
<path d="M479.6 118.6L479.6 123.9" stroke="#444" stroke-width="0.4"/>
<rect x="479.6" y="118.6" width="51.8" height="5.3" fill="#5ecbb5"/>
<path d="M531.4 118.6L531.4 123.9" stroke="#444" stroke-width="0.4"/>
<rect x="531.4" y="118.6" width="9.4" height="5.3" fill="#5ec876"/>
<path d="M540.8 118.6L540.8 123.9" stroke="#444" stroke-width="0.4"/>
<rect x="540.8" y="118.6" width="6.8" height="5.3" fill="#7dbe5e"/>
<path d="M547.6 118.6L547.6 123.9" stroke="#444" stroke-width="0.4"/>
<rect x="547.6" y="118.6" width="18.1" height="5.3" fill="#bbb15e"/>
<path d="M565.7 118.6L565.7 123.9" stroke="#444" stroke-width="0.4"/>
<rect x="565.7" y="118.6" width="20.6" height="5.3" fill="#e1a05e"/>
<path d="M586.3 118.6L586.3 123.9" stroke="#444" stroke-width="0.4"/>
<rect x="586.3" y="118.6" width="49.1" height="5.3" fill="#f98c84"/>
<rect x="447.6" y="118.6" width="187.8" height="5.3" fill="none" stroke="#555" stroke-width="0.45"/>
<rect x="447.9" y="126.6" width="187.8" height="5.3" fill="#d0d0d0"/>
<rect x="447.6" y="126.2" width="1.4" height="5.3" fill="#ff7cc2"/>
<path d="M449.0 126.2L449.0 131.5" stroke="#444" stroke-width="0.4"/>
<rect x="449.0" y="126.2" width="0.7" height="5.3" fill="#f27fee"/>
<path d="M449.7 126.2L449.7 131.5" stroke="#444" stroke-width="0.4"/>
<rect x="449.7" y="126.2" width="3.6" height="5.3" fill="#bf99ff"/>
<path d="M453.3 126.2L453.3 131.5" stroke="#444" stroke-width="0.4"/>
<rect x="453.3" y="126.2" width="3.4" height="5.3" fill="#5eb4ff"/>
<path d="M456.7 126.2L456.7 131.5" stroke="#444" stroke-width="0.4"/>
<rect x="456.7" y="126.2" width="39.0" height="5.3" fill="#5ec5e3"/>
<path d="M495.7 126.2L495.7 131.5" stroke="#444" stroke-width="0.4"/>
<rect x="495.7" y="126.2" width="56.5" height="5.3" fill="#5ecbb5"/>
<path d="M552.2 126.2L552.2 131.5" stroke="#444" stroke-width="0.4"/>
<rect x="552.2" y="126.2" width="6.6" height="5.3" fill="#5ec876"/>
<path d="M558.8 126.2L558.8 131.5" stroke="#444" stroke-width="0.4"/>
<rect x="558.8" y="126.2" width="3.8" height="5.3" fill="#7dbe5e"/>
<path d="M562.6 126.2L562.6 131.5" stroke="#444" stroke-width="0.4"/>
<rect x="562.6" y="126.2" width="6.9" height="5.3" fill="#bbb15e"/>
<path d="M569.5 126.2L569.5 131.5" stroke="#444" stroke-width="0.4"/>
<rect x="569.5" y="126.2" width="42.1" height="5.3" fill="#e1a05e"/>
<path d="M611.6 126.2L611.6 131.5" stroke="#444" stroke-width="0.4"/>
<rect x="611.6" y="126.2" width="23.8" height="5.3" fill="#f98c84"/>
<rect x="447.6" y="126.2" width="187.8" height="5.3" fill="none" stroke="#555" stroke-width="0.45"/>
<rect x="447.9" y="134.3" width="187.8" height="5.3" fill="#d0d0d0"/>
<rect x="447.6" y="133.9" width="3.4" height="5.3" fill="#ff7cc2"/>
<path d="M451.0 133.9L451.0 139.2" stroke="#444" stroke-width="0.4"/>
<rect x="451.0" y="133.9" width="1.6" height="5.3" fill="#f27fee"/>
<path d="M452.6 133.9L452.6 139.2" stroke="#444" stroke-width="0.4"/>
<rect x="452.6" y="133.9" width="11.4" height="5.3" fill="#5eb4ff"/>
<path d="M464.0 133.9L464.0 139.2" stroke="#444" stroke-width="0.4"/>
<rect x="464.0" y="133.9" width="19.4" height="5.3" fill="#5ec5e3"/>
<path d="M483.4 133.9L483.4 139.2" stroke="#444" stroke-width="0.4"/>
<rect x="483.4" y="133.9" width="17.4" height="5.3" fill="#5ecbb5"/>
<path d="M500.8 133.9L500.8 139.2" stroke="#444" stroke-width="0.4"/>
<rect x="500.8" y="133.9" width="9.9" height="5.3" fill="#5ec876"/>
<path d="M510.7 133.9L510.7 139.2" stroke="#444" stroke-width="0.4"/>
<rect x="510.7" y="133.9" width="35.8" height="5.3" fill="#7dbe5e"/>
<path d="M546.5 133.9L546.5 139.2" stroke="#444" stroke-width="0.4"/>
<rect x="546.5" y="133.9" width="17.2" height="5.3" fill="#bbb15e"/>
<path d="M563.7 133.9L563.7 139.2" stroke="#444" stroke-width="0.4"/>
<rect x="563.7" y="133.9" width="42.6" height="5.3" fill="#e1a05e"/>
<path d="M606.3 133.9L606.3 139.2" stroke="#444" stroke-width="0.4"/>
<rect x="606.3" y="133.9" width="29.1" height="5.3" fill="#f98c84"/>
<rect x="447.6" y="133.9" width="187.8" height="5.3" fill="none" stroke="#555" stroke-width="0.45"/>
<rect x="447.9" y="141.9" width="187.8" height="5.3" fill="#d0d0d0"/>
<rect x="447.6" y="141.5" width="1.4" height="5.3" fill="#ff7cc2"/>
<path d="M449.0 141.5L449.0 146.8" stroke="#444" stroke-width="0.4"/>
<rect x="449.0" y="141.5" width="0.8" height="5.3" fill="#f27fee"/>
<path d="M449.8 141.5L449.8 146.8" stroke="#444" stroke-width="0.4"/>
<rect x="449.8" y="141.5" width="12.4" height="5.3" fill="#bf99ff"/>
<path d="M462.2 141.5L462.2 146.8" stroke="#444" stroke-width="0.4"/>
<rect x="462.2" y="141.5" width="2.5" height="5.3" fill="#5eb4ff"/>
<path d="M464.7 141.5L464.7 146.8" stroke="#444" stroke-width="0.4"/>
<rect x="464.7" y="141.5" width="13.9" height="5.3" fill="#5ec5e3"/>
<path d="M478.6 141.5L478.6 146.8" stroke="#444" stroke-width="0.4"/>
<rect x="478.6" y="141.5" width="14.1" height="5.3" fill="#5ecbb5"/>
<path d="M492.7 141.5L492.7 146.8" stroke="#444" stroke-width="0.4"/>
<rect x="492.7" y="141.5" width="27.5" height="5.3" fill="#5ec876"/>
<path d="M520.2 141.5L520.2 146.8" stroke="#444" stroke-width="0.4"/>
<rect x="520.2" y="141.5" width="13.4" height="5.3" fill="#7dbe5e"/>
<path d="M533.6 141.5L533.6 146.8" stroke="#444" stroke-width="0.4"/>
<rect x="533.6" y="141.5" width="27.9" height="5.3" fill="#bbb15e"/>
<path d="M561.5 141.5L561.5 146.8" stroke="#444" stroke-width="0.4"/>
<rect x="561.5" y="141.5" width="37.1" height="5.3" fill="#e1a05e"/>
<path d="M598.6 141.5L598.6 146.8" stroke="#444" stroke-width="0.4"/>
<rect x="598.6" y="141.5" width="36.8" height="5.3" fill="#f98c84"/>
<rect x="447.6" y="141.5" width="187.8" height="5.3" fill="none" stroke="#555" stroke-width="0.45"/>
<rect x="447.9" y="149.6" width="187.8" height="5.3" fill="#d0d0d0"/>
<rect x="447.6" y="149.2" width="1.0" height="5.3" fill="#ff7cc2"/>
<path d="M448.6 149.2L448.6 154.5" stroke="#444" stroke-width="0.4"/>
<rect x="448.6" y="149.2" width="1.8" height="5.3" fill="#f27fee"/>
<path d="M450.4 149.2L450.4 154.5" stroke="#444" stroke-width="0.4"/>
<rect x="450.4" y="149.2" width="9.9" height="5.3" fill="#bf99ff"/>
<path d="M460.3 149.2L460.3 154.5" stroke="#444" stroke-width="0.4"/>
<rect x="460.3" y="149.2" width="22.9" height="5.3" fill="#5eb4ff"/>
<path d="M483.2 149.2L483.2 154.5" stroke="#444" stroke-width="0.4"/>
<rect x="483.2" y="149.2" width="5.3" height="5.3" fill="#5ec5e3"/>
<path d="M488.5 149.2L488.5 154.5" stroke="#444" stroke-width="0.4"/>
<rect x="488.5" y="149.2" width="52.9" height="5.3" fill="#5ecbb5"/>
<path d="M541.4 149.2L541.4 154.5" stroke="#444" stroke-width="0.4"/>
<rect x="541.4" y="149.2" width="8.2" height="5.3" fill="#5ec876"/>
<path d="M549.6 149.2L549.6 154.5" stroke="#444" stroke-width="0.4"/>
<rect x="549.6" y="149.2" width="7.6" height="5.3" fill="#7dbe5e"/>
<path d="M557.2 149.2L557.2 154.5" stroke="#444" stroke-width="0.4"/>
<rect x="557.2" y="149.2" width="12.3" height="5.3" fill="#bbb15e"/>
<path d="M569.5 149.2L569.5 154.5" stroke="#444" stroke-width="0.4"/>
<rect x="569.5" y="149.2" width="16.1" height="5.3" fill="#e1a05e"/>
<path d="M585.6 149.2L585.6 154.5" stroke="#444" stroke-width="0.4"/>
<rect x="585.6" y="149.2" width="49.8" height="5.3" fill="#f98c84"/>
<rect x="447.6" y="149.2" width="187.8" height="5.3" fill="none" stroke="#555" stroke-width="0.45"/>
<text x="437.0" y="7.8" font-size="2.7" text-anchor="end" fill="#555">610</text>
<path d="M437.6 6.7L438.5 6.7" stroke="#777" stroke-width="0.35"/>
<text x="437.0" y="15.4" font-size="2.7" text-anchor="end" fill="#555">535</text>
<path d="M437.6 14.3L438.5 14.3" stroke="#777" stroke-width="0.35"/>
<text x="437.0" y="23.1" font-size="2.7" text-anchor="end" fill="#555">509</text>
<path d="M437.6 22.0L438.5 22.0" stroke="#777" stroke-width="0.35"/>
<text x="437.0" y="30.7" font-size="2.7" text-anchor="end" fill="#555">288</text>
<path d="M437.6 29.6L438.5 29.6" stroke="#777" stroke-width="0.35"/>
<text x="437.0" y="38.4" font-size="2.7" text-anchor="end" fill="#555">280</text>
<path d="M437.6 37.3L438.5 37.3" stroke="#777" stroke-width="0.35"/>
<text x="437.0" y="46.0" font-size="2.7" text-anchor="end" fill="#555">265</text>
<path d="M437.6 44.9L438.5 44.9" stroke="#777" stroke-width="0.35"/>
<text x="437.0" y="53.6" font-size="2.7" text-anchor="end" fill="#555">248</text>
<path d="M437.6 52.5L438.5 52.5" stroke="#777" stroke-width="0.35"/>
<text x="437.0" y="61.3" font-size="2.7" text-anchor="end" fill="#555">151</text>
<path d="M437.6 60.2L438.5 60.2" stroke="#777" stroke-width="0.35"/>
<text x="437.0" y="68.9" font-size="2.7" text-anchor="end" fill="#555">145</text>
<path d="M437.6 67.8L438.5 67.8" stroke="#777" stroke-width="0.35"/>
<text x="437.0" y="76.6" font-size="2.7" text-anchor="end" fill="#555">127</text>
<path d="M437.6 75.5L438.5 75.5" stroke="#777" stroke-width="0.35"/>
<text x="437.0" y="84.2" font-size="2.7" text-anchor="end" fill="#555">103</text>
<path d="M437.6 83.1L438.5 83.1" stroke="#777" stroke-width="0.35"/>
<text x="437.0" y="91.8" font-size="2.7" text-anchor="end" fill="#555">110</text>
<path d="M437.6 90.7L438.5 90.7" stroke="#777" stroke-width="0.35"/>
<text x="437.0" y="99.5" font-size="2.7" text-anchor="end" fill="#555">089</text>
<path d="M437.6 98.4L438.5 98.4" stroke="#777" stroke-width="0.35"/>
<text x="437.0" y="107.1" font-size="2.7" text-anchor="end" fill="#555">076</text>
<path d="M437.6 106.0L438.5 106.0" stroke="#777" stroke-width="0.35"/>
<text x="437.0" y="114.8" font-size="2.7" text-anchor="end" fill="#555">072</text>
<path d="M437.6 113.7L438.5 113.7" stroke="#777" stroke-width="0.35"/>
<text x="437.0" y="122.4" font-size="2.7" text-anchor="end" fill="#555">063</text>
<path d="M437.6 121.3L438.5 121.3" stroke="#777" stroke-width="0.35"/>
<text x="437.0" y="130.0" font-size="2.7" text-anchor="end" fill="#555">055</text>
<path d="M437.6 128.9L438.5 128.9" stroke="#777" stroke-width="0.35"/>
<text x="437.0" y="137.7" font-size="2.7" text-anchor="end" fill="#555">028</text>
<path d="M437.6 136.6L438.5 136.6" stroke="#777" stroke-width="0.35"/>
<text x="437.0" y="145.3" font-size="2.7" text-anchor="end" fill="#555">019</text>
<path d="M437.6 144.2L438.5 144.2" stroke="#777" stroke-width="0.35"/>
<text x="437.0" y="153.0" font-size="2.7" text-anchor="end" fill="#555">016</text>
<path d="M437.6 151.9L438.5 151.9" stroke="#777" stroke-width="0.35"/>
<text x="428.6" y="78.5" font-size="3.4" text-anchor="middle" fill="#333" transform="rotate(-90 428.6 78.5)">Subjects</text>
<path d="M447.6 156.1L447.6 157.1" stroke="#777" stroke-width="0.35"/>
<text x="447.6" y="160.3" font-size="2.9" text-anchor="middle" fill="#555">0.00</text>
<path d="M494.6 156.1L494.6 157.1" stroke="#777" stroke-width="0.35"/>
<text x="494.6" y="160.3" font-size="2.9" text-anchor="middle" fill="#555">0.25</text>
<path d="M541.5 156.1L541.5 157.1" stroke="#777" stroke-width="0.35"/>
<text x="541.5" y="160.3" font-size="2.9" text-anchor="middle" fill="#555">0.50</text>
<path d="M588.5 156.1L588.5 157.1" stroke="#777" stroke-width="0.35"/>
<text x="588.5" y="160.3" font-size="2.9" text-anchor="middle" fill="#555">0.75</text>
<path d="M635.4 156.1L635.4 157.1" stroke="#777" stroke-width="0.35"/>
<text x="635.4" y="160.3" font-size="2.9" text-anchor="middle" fill="#555">1.00</text>
<text x="540.0" y="164.4" font-size="3.6" text-anchor="middle" fill="#333">Ratio</text>
<text x="652.0" y="47.6" font-size="3.6" fill="#222" font-weight="bold">Cell types</text>
<rect x="650.2" y="50.4" width="5.3" height="5.5" fill="#f98c84" stroke="#555" stroke-width="0.3"/>
<text x="657.6" y="54.3" font-size="3.2" fill="#333">CD4+ memory T</text>
<rect x="650.2" y="56.2" width="5.3" height="5.5" fill="#e1a05e" stroke="#555" stroke-width="0.3"/>
<text x="657.6" y="60.1" font-size="3.2" fill="#333">CD4+ naive T</text>
<rect x="650.2" y="61.9" width="5.3" height="5.5" fill="#bbb15e" stroke="#555" stroke-width="0.3"/>
<text x="657.6" y="65.8" font-size="3.2" fill="#333">CD8+ naive T</text>
<rect x="650.2" y="67.7" width="5.3" height="5.5" fill="#7dbe5e" stroke="#555" stroke-width="0.3"/>
<text x="657.6" y="71.6" font-size="3.2" fill="#333">CD8+ CTL−GNLY</text>
<rect x="650.2" y="73.4" width="5.3" height="5.5" fill="#5ec876" stroke="#555" stroke-width="0.3"/>
<text x="657.6" y="77.3" font-size="3.2" fill="#333">CD8+ NKT</text>
<rect x="650.2" y="79.2" width="5.3" height="5.5" fill="#5ecbb5" stroke="#555" stroke-width="0.3"/>
<text x="657.6" y="83.1" font-size="3.2" fill="#333">CD8+ CTL−GZMK</text>
<rect x="650.2" y="85.0" width="5.3" height="5.5" fill="#5ec5e3" stroke="#555" stroke-width="0.3"/>
<text x="657.6" y="88.9" font-size="3.2" fill="#333">γδT</text>
<rect x="650.2" y="90.7" width="5.3" height="5.5" fill="#5eb4ff" stroke="#555" stroke-width="0.3"/>
<text x="657.6" y="94.6" font-size="3.2" fill="#333">CD4+ exhaust like T</text>
<rect x="650.2" y="96.5" width="5.3" height="5.5" fill="#bf99ff" stroke="#555" stroke-width="0.3"/>
<text x="657.6" y="100.4" font-size="3.2" fill="#333">CD8+ MAIT</text>
<rect x="650.2" y="102.2" width="5.3" height="5.5" fill="#f27fee" stroke="#555" stroke-width="0.3"/>
<text x="657.6" y="106.1" font-size="3.2" fill="#333">CD4+ Treg</text>
<rect x="650.2" y="108.0" width="5.3" height="5.5" fill="#ff7cc2" stroke="#555" stroke-width="0.3"/>
<text x="657.6" y="111.9" font-size="3.2" fill="#333">proliferative T</text>
<text x="0.4" y="163.4" font-size="14" font-weight="bold" font-family="'Liberation Serif', serif">D</text>
<rect x="31.6" y="161.2" width="66.1" height="6.1" fill="#ececec" stroke="#a0a0a0" stroke-width="0.45"/>
<path d="M31.6 167.3L97.7 167.3" stroke="#8a8a8a" stroke-width="0.7"/>
<text x="64.7" y="165.4" font-size="3.4" text-anchor="middle" fill="#333">CD4+ Treg</text>
<rect x="31.6" y="167.3" width="66.1" height="50.1" fill="none" stroke="#8c8c8c" stroke-width="0.55"/>
<text x="64.7" y="175.6" font-size="2.9" text-anchor="middle" fill="#444">P = 0.86</text>
<path d="M49.4 213.8L49.4 213.6" stroke="#f8766d" stroke-width="0.45"/>
<path d="M49.4 214.9L49.4 215.0" stroke="#f8766d" stroke-width="0.45"/>
<rect x="38.7" y="213.8" width="21.4" height="1.1" fill="none" stroke="#f8766d" stroke-width="0.5"/>
<path d="M38.7 214.4L60.1 214.4" stroke="#f8766d" stroke-width="0.6"/>
<path transform="scale(.25)" d="M172 859h0m6-4h0m1 0h0m4 4h0m17-1h0m11-3h0m2 1h0m6 0h0m1 1h0" stroke="#f8766d" stroke-width="4" stroke-linecap="square" fill="none"/>
<path d="M79.3 213.7L79.3 213.4" stroke="#00bfc4" stroke-width="0.45"/>
<path d="M79.3 214.8L79.3 215.0" stroke="#00bfc4" stroke-width="0.45"/>
<rect x="68.6" y="213.7" width="21.4" height="1.1" fill="none" stroke="#00bfc4" stroke-width="0.5"/>
<path d="M68.6 214.3L90.0 214.3" stroke="#00bfc4" stroke-width="0.6"/>
<path transform="scale(.25)" d="M299 859h0m4-1h0m4-3h0m2 1h0m7-1h0m7 3h0m3-1h0m1-3h0" stroke="#00bfc4" stroke-width="4" stroke-linecap="square" fill="none"/>
<path d="M30.8 215.4L31.6 215.4" stroke="#666" stroke-width="0.35"/>
<text x="30.3" y="216.5" font-size="3.1" text-anchor="end" fill="#333">0</text>
<path d="M30.8 206.2L31.6 206.2" stroke="#666" stroke-width="0.35"/>
<text x="30.3" y="207.3" font-size="3.1" text-anchor="end" fill="#333">5</text>
<path d="M30.8 197.1L31.6 197.1" stroke="#666" stroke-width="0.35"/>
<text x="30.3" y="198.2" font-size="3.1" text-anchor="end" fill="#333">10</text>
<path d="M30.8 187.9L31.6 187.9" stroke="#666" stroke-width="0.35"/>
<text x="30.3" y="189.0" font-size="3.1" text-anchor="end" fill="#333">15</text>
<path d="M30.8 178.8L31.6 178.8" stroke="#666" stroke-width="0.35"/>
<text x="30.3" y="179.9" font-size="3.1" text-anchor="end" fill="#333">20</text>
<path d="M30.8 169.6L31.6 169.6" stroke="#666" stroke-width="0.35"/>
<text x="30.3" y="170.7" font-size="3.1" text-anchor="end" fill="#333">25</text>
<rect x="99.4" y="161.2" width="66.3" height="6.1" fill="#ececec" stroke="#a0a0a0" stroke-width="0.45"/>
<path d="M99.4 167.3L165.7 167.3" stroke="#8a8a8a" stroke-width="0.7"/>
<text x="132.6" y="165.4" font-size="3.4" text-anchor="middle" fill="#333">CD4+ memory T</text>
<rect x="99.4" y="167.3" width="66.3" height="50.1" fill="none" stroke="#8c8c8c" stroke-width="0.55"/>
<text x="132.6" y="175.6" font-size="2.9" text-anchor="middle" fill="#444">P = 0.39</text>
<path d="M117.2 192.1L117.2 189.0" stroke="#f8766d" stroke-width="0.45"/>
<path d="M117.2 200.6L117.2 203.7" stroke="#f8766d" stroke-width="0.45"/>
<rect x="106.5" y="192.1" width="21.4" height="8.5" fill="none" stroke="#f8766d" stroke-width="0.5"/>
<path d="M106.5 200.0L127.9 200.0" stroke="#f8766d" stroke-width="0.6"/>
<path transform="scale(.25)" d="M478 752h0m-34 6h0m0 16h0m17-3h0m23 0h0m-11 19h0m6-4h0m4-2h0m-1 12h0m-29 16h0" stroke="#f8766d" stroke-width="4" stroke-linecap="square" fill="none"/>
<path d="M147.3 198.2L147.3 192.5" stroke="#00bfc4" stroke-width="0.45"/>
<path d="M147.3 203.3L147.3 209.2" stroke="#00bfc4" stroke-width="0.45"/>
<rect x="136.6" y="198.2" width="21.4" height="5.1" fill="none" stroke="#00bfc4" stroke-width="0.5"/>
<path d="M136.6 201.3L158.0 201.3" stroke="#00bfc4" stroke-width="0.6"/>
<path transform="scale(.25)" d="M599 744h0m-31 30h0m23 1h0m-7 27h0m22-5h0m5-1h0m-45 14h0m0-5h0m6 11h0m27 11h0" stroke="#00bfc4" stroke-width="4" stroke-linecap="square" fill="none"/>
<rect x="167.1" y="161.2" width="66.3" height="6.1" fill="#ececec" stroke="#a0a0a0" stroke-width="0.45"/>
<path d="M167.1 167.3L233.4 167.3" stroke="#8a8a8a" stroke-width="0.7"/>
<text x="200.2" y="165.4" font-size="3.4" text-anchor="middle" fill="#333">CD4+ exhaust like T</text>
<rect x="167.1" y="167.3" width="66.3" height="50.1" fill="none" stroke="#8c8c8c" stroke-width="0.55"/>
<text x="200.2" y="175.6" font-size="2.9" text-anchor="middle" fill="#444">P = 0.51</text>
<path d="M184.9 211.2L184.9 210.6" stroke="#f8766d" stroke-width="0.45"/>
<path d="M184.9 214.0L184.9 214.5" stroke="#f8766d" stroke-width="0.45"/>
<rect x="174.2" y="211.2" width="21.4" height="2.8" fill="none" stroke="#f8766d" stroke-width="0.5"/>
<path d="M174.2 213.0L195.6 213.0" stroke="#f8766d" stroke-width="0.6"/>
<path transform="scale(.25)" d="M743 807h0m-23 40h0m17-2h0m2 3h0m18 2h0m6-7h0m0 4h0m2 4h0m-43 1h0m35 2h0" stroke="#f8766d" stroke-width="4" stroke-linecap="square" fill="none"/>
<path d="M215.0 209.0L215.0 205.0" stroke="#00bfc4" stroke-width="0.45"/>
<path d="M215.0 213.8L215.0 214.3" stroke="#00bfc4" stroke-width="0.45"/>
<rect x="204.3" y="209.0" width="21.4" height="4.8" fill="none" stroke="#00bfc4" stroke-width="0.5"/>
<path d="M204.3 211.7L225.7 211.7" stroke="#00bfc4" stroke-width="0.6"/>
<path transform="scale(.25)" d="M867 677h0m1 145h0m-19 9h0m9 1h0m16-4h0m5 0h0m-40 21h0m31-9h0m3 2h0m-11 13h0" stroke="#00bfc4" stroke-width="4" stroke-linecap="square" fill="none"/>
<rect x="31.6" y="220.2" width="66.1" height="5.4" fill="#ececec" stroke="#a0a0a0" stroke-width="0.45"/>
<path d="M31.6 225.6L97.7 225.6" stroke="#8a8a8a" stroke-width="0.7"/>
<text x="64.7" y="224.1" font-size="3.4" text-anchor="middle" fill="#333">CD4+ naive T</text>
<rect x="31.6" y="225.6" width="66.1" height="50.7" fill="none" stroke="#8c8c8c" stroke-width="0.55"/>
<text x="64.7" y="233.9" font-size="2.9" text-anchor="middle" fill="#444">P = 0.9</text>
<path d="M49.4 258.0L49.4 250.0" stroke="#f8766d" stroke-width="0.45"/>
<path d="M49.4 264.8L49.4 266.5" stroke="#f8766d" stroke-width="0.45"/>
<rect x="38.7" y="258.0" width="21.4" height="6.9" fill="none" stroke="#f8766d" stroke-width="0.5"/>
<path d="M38.7 263.3L60.1 263.3" stroke="#f8766d" stroke-width="0.6"/>
<path transform="scale(.25)" d="M204 1004h0m-2 10h0m14-4h0m-26 27h0m6-3h0m13 6h0m5-1h0m7-6h0m-41 12h0m24 3h0" stroke="#f8766d" stroke-width="4" stroke-linecap="square" fill="none"/>
<path d="M79.3 252.2L79.3 249.2" stroke="#00bfc4" stroke-width="0.45"/>
<path d="M79.3 265.8L79.3 267.8" stroke="#00bfc4" stroke-width="0.45"/>
<rect x="68.6" y="252.2" width="21.4" height="13.5" fill="none" stroke="#00bfc4" stroke-width="0.5"/>
<path d="M68.6 260.2L90.0 260.2" stroke="#00bfc4" stroke-width="0.6"/>
<path transform="scale(.25)" d="M293 1024h0m31-4h0m-21 16h0m3 5h0m17 1h0m2-4h0m13 12h0m-44 7h0m14 4h0" stroke="#00bfc4" stroke-width="4" stroke-linecap="square" fill="none"/>
<path d="M30.8 274.3L31.6 274.3" stroke="#666" stroke-width="0.35"/>
<text x="30.3" y="275.4" font-size="3.1" text-anchor="end" fill="#333">0</text>
<path d="M30.8 265.0L31.6 265.0" stroke="#666" stroke-width="0.35"/>
<text x="30.3" y="266.1" font-size="3.1" text-anchor="end" fill="#333">5</text>
<path d="M30.8 255.7L31.6 255.7" stroke="#666" stroke-width="0.35"/>
<text x="30.3" y="256.8" font-size="3.1" text-anchor="end" fill="#333">10</text>
<path d="M30.8 246.5L31.6 246.5" stroke="#666" stroke-width="0.35"/>
<text x="30.3" y="247.6" font-size="3.1" text-anchor="end" fill="#333">15</text>
<path d="M30.8 237.2L31.6 237.2" stroke="#666" stroke-width="0.35"/>
<text x="30.3" y="238.3" font-size="3.1" text-anchor="end" fill="#333">20</text>
<path d="M30.8 227.9L31.6 227.9" stroke="#666" stroke-width="0.35"/>
<text x="30.3" y="229.0" font-size="3.1" text-anchor="end" fill="#333">25</text>
<rect x="99.4" y="220.2" width="66.3" height="5.4" fill="#ececec" stroke="#a0a0a0" stroke-width="0.45"/>
<path d="M99.4 225.6L165.7 225.6" stroke="#8a8a8a" stroke-width="0.7"/>
<text x="132.6" y="224.1" font-size="3.4" text-anchor="middle" fill="#333">CD8+ CTL−GNLY</text>
<rect x="99.4" y="225.6" width="66.3" height="50.7" fill="none" stroke="#8c8c8c" stroke-width="0.55"/>
<text x="132.6" y="233.9" font-size="2.9" text-anchor="middle" fill="#444">P = 0.97</text>
<path d="M117.2 263.5L117.2 253.9" stroke="#f8766d" stroke-width="0.45"/>
<path d="M117.2 271.1L117.2 272.8" stroke="#f8766d" stroke-width="0.45"/>
<rect x="106.5" y="263.5" width="21.4" height="7.6" fill="none" stroke="#f8766d" stroke-width="0.5"/>
<path d="M106.5 268.4L127.9 268.4" stroke="#f8766d" stroke-width="0.6"/>
<path transform="scale(.25)" d="M461 1050h0m24 5h0m8 0h0m-17 5h0m13 14h0m-17 9h0m2-3h0m1 9h0m11-8h0" stroke="#f8766d" stroke-width="4" stroke-linecap="square" fill="none"/>
<path d="M147.3 260.4L147.3 255.7" stroke="#00bfc4" stroke-width="0.45"/>
<path d="M147.3 272.8L147.3 273.7" stroke="#00bfc4" stroke-width="0.45"/>
<rect x="136.6" y="260.4" width="21.4" height="12.4" fill="none" stroke="#00bfc4" stroke-width="0.5"/>
<path d="M136.6 265.6L158.0 265.6" stroke="#00bfc4" stroke-width="0.6"/>
<path transform="scale(.25)" d="M610 1026h0m-32 41h0m2 4h0m6 2h0m18 4h0m9-3h0m1 4h0m-19 7h0m1-1h0" stroke="#00bfc4" stroke-width="4" stroke-linecap="square" fill="none"/>
<rect x="167.1" y="220.2" width="66.3" height="5.4" fill="#ececec" stroke="#a0a0a0" stroke-width="0.45"/>
<path d="M167.1 225.6L233.4 225.6" stroke="#8a8a8a" stroke-width="0.7"/>
<text x="200.2" y="224.1" font-size="3.4" text-anchor="middle" fill="#333">CD8+ CTL−GZMK</text>
<rect x="167.1" y="225.6" width="66.3" height="50.7" fill="none" stroke="#8c8c8c" stroke-width="0.55"/>
<text x="200.2" y="233.9" font-size="2.9" text-anchor="middle" fill="#444">P = 0.14</text>
<path d="M184.9 258.0L184.9 250.2" stroke="#f8766d" stroke-width="0.45"/>
<path d="M184.9 265.8L184.9 269.7" stroke="#f8766d" stroke-width="0.45"/>
<rect x="174.2" y="258.0" width="21.4" height="7.8" fill="none" stroke="#f8766d" stroke-width="0.5"/>
<path d="M174.2 262.2L195.6 262.2" stroke="#f8766d" stroke-width="0.6"/>
<path transform="scale(.25)" d="M729 967h0m25 39h0m-10 15h0m-13 16h0m7 0h0m7 6h0m0 11h0m-23 4h0m19 5h0m12-4h0" stroke="#f8766d" stroke-width="4" stroke-linecap="square" fill="none"/>
<path d="M215.0 263.5L215.0 260.4" stroke="#00bfc4" stroke-width="0.45"/>
<path d="M215.0 268.0L215.0 271.5" stroke="#00bfc4" stroke-width="0.45"/>
<rect x="204.3" y="263.5" width="21.4" height="4.5" fill="none" stroke="#00bfc4" stroke-width="0.5"/>
<path d="M204.3 265.8L225.7 265.8" stroke="#00bfc4" stroke-width="0.6"/>
<path transform="scale(.25)" d="M859 997h0m-24 65h0m7-6h0m7 8h0m5 1h0m5-4h0m5 3h0m17 2h0m-32 2h0m28 3h0" stroke="#00bfc4" stroke-width="4" stroke-linecap="square" fill="none"/>
<rect x="31.6" y="278.4" width="66.1" height="6.0" fill="#ececec" stroke="#a0a0a0" stroke-width="0.45"/>
<path d="M31.6 284.4L97.7 284.4" stroke="#8a8a8a" stroke-width="0.7"/>
<text x="64.7" y="282.6" font-size="3.4" text-anchor="middle" fill="#333">CD8+ MAIT</text>
<rect x="31.6" y="284.4" width="66.1" height="50.2" fill="none" stroke="#8c8c8c" stroke-width="0.55"/>
<text x="64.7" y="292.7" font-size="2.9" text-anchor="middle" fill="#444">P = 0.075</text>
<path d="M49.4 324.9L49.4 321.6" stroke="#f8766d" stroke-width="0.45"/>
<path d="M49.4 331.1L49.4 332.0" stroke="#f8766d" stroke-width="0.45"/>
<rect x="38.7" y="324.9" width="21.4" height="6.2" fill="none" stroke="#f8766d" stroke-width="0.5"/>
<path d="M38.7 327.6L60.1 327.6" stroke="#f8766d" stroke-width="0.6"/>
<path transform="scale(.25)" d="M214 1304h0m7-3h0m2-1h0m-50 8h0m16 4h0m25 7h0m-27 2h0m16 0h0m12 2h0" stroke="#f8766d" stroke-width="4" stroke-linecap="square" fill="none"/>
<path d="M79.3 328.6L79.3 326.5" stroke="#00bfc4" stroke-width="0.45"/>
<path d="M79.3 331.7L79.3 332.6" stroke="#00bfc4" stroke-width="0.45"/>
<rect x="68.6" y="328.6" width="21.4" height="3.1" fill="none" stroke="#00bfc4" stroke-width="0.5"/>
<path d="M68.6 330.0L90.0 330.0" stroke="#00bfc4" stroke-width="0.6"/>
<path transform="scale(.25)" d="M299 1314h0m0 2h0m6 3h0m6-4h0m0 13h0m10 1h0m1-6h0m2 2h0m14-5h0" stroke="#00bfc4" stroke-width="4" stroke-linecap="square" fill="none"/>
<path d="M30.8 332.6L31.6 332.6" stroke="#666" stroke-width="0.35"/>
<text x="30.3" y="333.7" font-size="3.1" text-anchor="end" fill="#333">0</text>
<path d="M30.8 323.4L31.6 323.4" stroke="#666" stroke-width="0.35"/>
<text x="30.3" y="324.5" font-size="3.1" text-anchor="end" fill="#333">5</text>
<path d="M30.8 314.2L31.6 314.2" stroke="#666" stroke-width="0.35"/>
<text x="30.3" y="315.3" font-size="3.1" text-anchor="end" fill="#333">10</text>
<path d="M30.8 305.1L31.6 305.1" stroke="#666" stroke-width="0.35"/>
<text x="30.3" y="306.2" font-size="3.1" text-anchor="end" fill="#333">15</text>
<path d="M30.8 295.9L31.6 295.9" stroke="#666" stroke-width="0.35"/>
<text x="30.3" y="297.0" font-size="3.1" text-anchor="end" fill="#333">20</text>
<path d="M30.8 286.7L31.6 286.7" stroke="#666" stroke-width="0.35"/>
<text x="30.3" y="287.8" font-size="3.1" text-anchor="end" fill="#333">25</text>
<path d="M49.4 334.6L49.4 335.4" stroke="#666" stroke-width="0.35"/>
<text x="49.4" y="339.3" font-size="3" text-anchor="middle" fill="#333" font-weight="bold">SDM</text>
<path d="M79.3 334.6L79.3 335.4" stroke="#666" stroke-width="0.35"/>
<text x="79.3" y="339.3" font-size="3" text-anchor="middle" fill="#333" font-weight="bold">NP</text>
<rect x="99.4" y="278.4" width="66.3" height="6.0" fill="#ececec" stroke="#a0a0a0" stroke-width="0.45"/>
<path d="M99.4 284.4L165.7 284.4" stroke="#8a8a8a" stroke-width="0.7"/>
<text x="132.6" y="282.6" font-size="3.4" text-anchor="middle" fill="#333">CD8+ naive T</text>
<rect x="99.4" y="284.4" width="66.3" height="50.2" fill="none" stroke="#8c8c8c" stroke-width="0.55"/>
<text x="132.6" y="292.7" font-size="2.9" text-anchor="middle" fill="#444">P = 0.91</text>
<path d="M117.2 316.8L117.2 306.2" stroke="#f8766d" stroke-width="0.45"/>
<path d="M117.2 329.5L117.2 331.7" stroke="#f8766d" stroke-width="0.45"/>
<rect x="106.5" y="316.8" width="21.4" height="12.7" fill="none" stroke="#f8766d" stroke-width="0.5"/>
<path d="M106.5 323.8L127.9 323.8" stroke="#f8766d" stroke-width="0.6"/>
<path transform="scale(.25)" d="M478 1230h0m-32 23h0m6-1h0m-4 33h0m34 20h0m2-3h0m4 4h0m-38 7h0m5-2h0" stroke="#f8766d" stroke-width="4" stroke-linecap="square" fill="none"/>
<path d="M147.3 320.8L147.3 317.0" stroke="#00bfc4" stroke-width="0.45"/>
<path d="M147.3 327.1L147.3 329.8" stroke="#00bfc4" stroke-width="0.45"/>
<rect x="136.6" y="320.8" width="21.4" height="6.2" fill="none" stroke="#00bfc4" stroke-width="0.5"/>
<path d="M136.6 324.9L158.0 324.9" stroke="#00bfc4" stroke-width="0.6"/>
<path transform="scale(.25)" d="M571 1288h0m10 0h0m3 2h0m2-2h0m8 7h0m-19 5h0m-1 18h0m32-6h0m7 1h0" stroke="#00bfc4" stroke-width="4" stroke-linecap="square" fill="none"/>
<path d="M117.2 334.6L117.2 335.4" stroke="#666" stroke-width="0.35"/>
<text x="117.2" y="339.3" font-size="3" text-anchor="middle" fill="#333" font-weight="bold">SDM</text>
<path d="M147.3 334.6L147.3 335.4" stroke="#666" stroke-width="0.35"/>
<text x="147.3" y="339.3" font-size="3" text-anchor="middle" fill="#333" font-weight="bold">NP</text>
<rect x="167.1" y="278.4" width="66.3" height="6.0" fill="#ececec" stroke="#a0a0a0" stroke-width="0.45"/>
<path d="M167.1 284.4L233.4 284.4" stroke="#8a8a8a" stroke-width="0.7"/>
<text x="200.2" y="282.6" font-size="3.4" text-anchor="middle" fill="#333">CD8+ NKT</text>
<rect x="167.1" y="284.4" width="66.3" height="50.2" fill="none" stroke="#8c8c8c" stroke-width="0.55"/>
<text x="200.2" y="292.7" font-size="2.9" text-anchor="middle" fill="#444">P = 0.32</text>
<path d="M184.9 317.7L184.9 306.2" stroke="#f8766d" stroke-width="0.45"/>
<path d="M184.9 327.6L184.9 330.8" stroke="#f8766d" stroke-width="0.45"/>
<rect x="174.2" y="317.7" width="21.4" height="9.9" fill="none" stroke="#f8766d" stroke-width="0.5"/>
<path d="M174.2 321.8L195.6 321.8" stroke="#f8766d" stroke-width="0.6"/>
<path transform="scale(.25)" d="M739 1236h0m-23 40h0m18 10h0m2 0h0m-14 21h0m5-2h0m2 2h0m33-11h0m-24 15h0" stroke="#f8766d" stroke-width="4" stroke-linecap="square" fill="none"/>
<path d="M215.0 323.2L215.0 317.0" stroke="#00bfc4" stroke-width="0.45"/>
<path d="M215.0 326.4L215.0 329.8" stroke="#00bfc4" stroke-width="0.45"/>
<rect x="204.3" y="323.2" width="21.4" height="3.1" fill="none" stroke="#00bfc4" stroke-width="0.5"/>
<path d="M204.3 324.9L225.7 324.9" stroke="#00bfc4" stroke-width="0.6"/>
<path transform="scale(.25)" d="M867 1294h0m5-9h0m-25 18h0m3-2h0m8-4h0m11 7h0m3-2h0m-37 7h0m20 6h0" stroke="#00bfc4" stroke-width="4" stroke-linecap="square" fill="none"/>
<path d="M184.9 334.6L184.9 335.4" stroke="#666" stroke-width="0.35"/>
<text x="184.9" y="339.3" font-size="3" text-anchor="middle" fill="#333" font-weight="bold">SDM</text>
<path d="M215.0 334.6L215.0 335.4" stroke="#666" stroke-width="0.35"/>
<text x="215.0" y="339.3" font-size="3" text-anchor="middle" fill="#333" font-weight="bold">NP</text>
<text x="23.9" y="251.2" font-size="3.2" text-anchor="middle" fill="#444" transform="rotate(-90 23.9 251.2)">estimate</text>
<text x="241.6" y="175.6" font-size="14" font-weight="bold" font-family="'Liberation Serif', serif">E</text>
<path d="M256.6 182.0L256.6 277.7" stroke="#555" stroke-width="0.45"/>
<path d="M256.6 277.7L442.8 277.7" stroke="#555" stroke-width="0.45"/>
<path d="M258.7 277.7L258.7 278.6" stroke="#555" stroke-width="0.35"/>
<text x="258.7" y="281.3" font-size="2.8" text-anchor="middle" fill="#444">-10</text>
<path d="M302.1 277.7L302.1 278.6" stroke="#555" stroke-width="0.35"/>
<text x="302.1" y="281.3" font-size="2.8" text-anchor="middle" fill="#444">-5</text>
<path d="M345.5 277.7L345.5 278.6" stroke="#555" stroke-width="0.35"/>
<text x="345.5" y="281.3" font-size="2.8" text-anchor="middle" fill="#444">0</text>
<path d="M388.9 277.7L388.9 278.6" stroke="#555" stroke-width="0.35"/>
<text x="388.9" y="281.3" font-size="2.8" text-anchor="middle" fill="#444">5</text>
<path d="M432.3 277.7L432.3 278.6" stroke="#555" stroke-width="0.35"/>
<text x="432.3" y="281.3" font-size="2.8" text-anchor="middle" fill="#444">10</text>
<path d="M255.7 203.2L256.6 203.2" stroke="#555" stroke-width="0.35"/>
<text x="255.2" y="204.2" font-size="2.8" text-anchor="end" fill="#444">2.5</text>
<path d="M255.7 225.0L256.6 225.0" stroke="#555" stroke-width="0.35"/>
<text x="255.2" y="226.0" font-size="2.8" text-anchor="end" fill="#444">0.0</text>
<path d="M255.7 246.8L256.6 246.8" stroke="#555" stroke-width="0.35"/>
<text x="255.2" y="247.8" font-size="2.8" text-anchor="end" fill="#444">-2.5</text>
<path d="M255.7 268.5L256.6 268.5" stroke="#555" stroke-width="0.35"/>
<text x="255.2" y="269.5" font-size="2.8" text-anchor="end" fill="#444">-5.0</text>
<text x="349.7" y="285.3" font-size="2.8" text-anchor="middle" fill="#333">Component 1</text>
<text x="247.6" y="229.8" font-size="2.8" text-anchor="middle" fill="#333" transform="rotate(-90 247.6 229.8)">Component 2</text>
<path d="M309.0 191.1L306.9 202.4" stroke="#444" stroke-width="0.55"/>
<path d="M306.9 202.4L302.3 218.0" stroke="#444" stroke-width="0.55"/>
<path d="M291.7 213.3L302.3 218.0" stroke="#444" stroke-width="0.55"/>
<path d="M302.3 218.0L304.2 224.2" stroke="#444" stroke-width="0.55"/>
<path d="M304.2 224.2L290.8 234.6" stroke="#444" stroke-width="0.55"/>
<path d="M290.8 234.6L276.1 245.0" stroke="#444" stroke-width="0.55"/>
<path d="M304.2 224.2L323.8 225.4" stroke="#444" stroke-width="0.55"/>
<path d="M323.8 225.4L346.5 228.6" stroke="#444" stroke-width="0.55"/>
<path d="M346.5 228.6L378.5 227.6" stroke="#444" stroke-width="0.55"/>
<path d="M378.5 227.6L410.6 227.6" stroke="#444" stroke-width="0.55"/>
<path d="M410.6 227.6L428.8 228.0" stroke="#444" stroke-width="0.55"/>
<path d="M301.50 187.00 C302.22 186.31 304.87 186.00 306.00 185.80 C307.13 185.60 308.80 185.53 310.00 185.50 C311.20 185.47 313.67 185.47 315.00 185.60 C316.33 185.73 319.27 185.98 320.00 186.50 C320.73 187.02 320.63 188.70 320.50 189.50 C320.37 190.30 320.13 191.77 319.00 192.50 C317.87 193.23 313.60 194.40 312.00 195.00 C310.40 195.60 307.91 196.07 307.00 197.00 C306.09 197.93 305.60 200.27 305.20 202.00 C304.80 203.73 304.27 207.87 304.00 210.00 C303.73 212.13 303.45 216.93 303.20 218.00 C302.95 219.07 302.19 219.07 302.10 218.00 C302.01 216.93 302.43 212.13 302.50 210.00 C302.57 207.87 302.72 203.87 302.60 202.00 C302.48 200.13 301.87 197.47 301.60 196.00 C301.33 194.53 300.61 192.20 300.60 191.00 C300.59 189.80 300.78 187.69 301.50 187.00Z" fill="#65b0ea"/>
<path d="M288.50 211.00 C288.63 210.33 289.53 210.00 290.00 209.80 C290.47 209.60 291.20 209.21 292.00 209.50 C292.80 209.79 295.07 211.33 296.00 212.00 C296.93 212.67 298.27 213.90 299.00 214.50 C299.73 215.10 301.03 215.97 301.50 216.50 C301.97 217.03 302.83 218.19 302.50 218.50 C302.17 218.81 300.40 218.97 299.00 218.80 C297.60 218.63 293.33 217.73 292.00 217.20 C290.67 216.67 289.47 215.63 289.00 214.80 C288.53 213.97 288.37 211.67 288.50 211.00Z" fill="#5da0d4"/>
<path d="M305.50 223.00 C306.17 223.37 306.40 224.67 305.00 226.00 C303.60 227.33 297.60 231.20 295.00 233.00 C292.40 234.80 287.17 238.10 285.50 239.50 C283.83 240.90 282.99 242.23 282.50 243.50 C282.01 244.77 282.13 247.80 281.80 249.00 C281.47 250.20 280.77 251.93 280.00 252.50 C279.23 253.07 277.07 253.30 276.00 253.30 C274.93 253.30 272.91 253.14 272.00 252.50 C271.09 251.86 269.65 249.77 269.20 248.50 C268.75 247.23 268.56 244.33 268.60 243.00 C268.64 241.67 269.05 239.39 269.50 238.50 C269.95 237.61 271.20 236.61 272.00 236.30 C272.80 235.99 274.57 236.00 275.50 236.20 C276.43 236.40 277.13 238.72 279.00 237.80 C280.87 236.88 286.70 231.25 289.50 229.30 C292.30 227.35 297.87 224.04 300.00 223.20 C302.13 222.36 304.83 222.63 305.50 223.00Z" fill="#62abe2"/>
<path d="M425.00 220.00 C425.51 219.13 427.07 217.90 428.00 217.50 C428.93 217.10 431.16 216.87 432.00 217.00 C432.84 217.13 433.93 217.70 434.30 218.50 C434.67 219.30 434.76 221.47 434.80 223.00 C434.84 224.53 434.76 228.27 434.60 230.00 C434.44 231.73 434.01 234.73 433.60 236.00 C433.19 237.27 432.11 239.10 431.50 239.50 C430.89 239.90 429.60 239.60 429.00 239.00 C428.40 238.40 427.53 236.33 427.00 235.00 C426.47 233.67 425.37 230.47 425.00 229.00 C424.63 227.53 424.20 225.20 424.20 224.00 C424.20 222.80 424.49 220.87 425.00 220.00Z" fill="#152e47"/>
<path transform="scale(.25)" d="M1714 852h0m4 9h0m-9 6h0m9 7h0m0-2h0m2-4h0m2 0h0m1 0h0m-14 8h0m2 9h0m1 0h0m1 2h0m1 0h0m1-8h0m1-1h0m1 0h0m0 6h0m1-2h0m1 0h0m1 5h0m0-3h0m2-5h0m0-1h0m0 9h0m1-9h0m0 5h0m1 1h0m0-5h0m1 3h0m0-5h0m3 8h0m1 2h0m0-10h0m0 9h0m-21 6h0m1 0h0m0 2h0m0-5h0m1 0h0m0 9h0m0-5h0m0 3h0m0-2h0m1 5h0m0-2h0m0-2h0m1 3h0m1-5h0m1 6h0m0-5h0m1 1h0m0 3h0m0-5h0m0 4h0m1-8h0m1 7h0m0-1h0m1 3h0m1-2h0m0-5h0m1 7h0m0-5h0m3-2h0m0 8h0m0-7h0m1-4h0m0 9h0m0-2h0m1 4h0m0-10h0m0 9h0m0-10h0m0 9h0m1-6h0m0 6h0m1-4h0m0-1h0m0-2h0m2 5h0m0 4h0m-20 6h0m0 4h0m1 2h0m0-1h0m0-2h0m1-6h0m0-1h0m0 3h0m0 5h0m1 0h0m0-5h0m0-1h0m0 4h0m1 1h0m0-2h0m0-5h0m0 4h0m0-1h0m1 4h0m0-1h0m0-5h0m1 8h0m0-10h0m1 7h0m0-2h0m1 1h0m0 4h0m0-5h0m0-2h0m1 5h0m1 3h0m0-10h0m0 8h0m1-3h0m0-5h0m0 9h0m0-5h0m0 4h0m0-1h0m0-5h0m0 4h0m0-5h0m1 1h0m0 3h0m1 2h0m0-1h0m0-6h0m0 9h0m0-10h0m0 4h0m1 6h0m0-6h0m1 1h0m1 1h0m0-5h0m0 4h0m0 3h0m0-5h0m1-2h0m0 8h0m0-2h0m1-4h0m0-1h0m0 4h0m0-5h0m0 3h0m1 6h0m0-5h0m0-1h0m0 3h0m1 0h0m0-7h0m0 8h0m-21 10h0m1-3h0m0 4h0m0-5h0m0 4h0m0-5h0m0-1h0m1 4h0m0-1h0m0 4h0m0 2h0m2-1h0m0 2h0m1-7h0m0 8h0m0-5h0m1 0h0m0 3h0m0-6h0m0 4h0m0-5h0m1 6h0m0-5h0m0 3h0m0-1h0m0-5h0m1 9h0m0-6h0m1 4h0m1-4h0m0 8h0m0-2h0m1-5h0m0 3h0m1-4h0m0-2h0m0 3h0m1-4h0m0 2h0m0 8h0m1 0h0m0-1h0m0-5h0m1 4h0m0 1h0m1-8h0m0 9h0m0-6h0m0-1h0m0 4h0m0-5h0m1 0h0m0 8h0m0-1h0m1 1h0m0-10h0m1 1h0m0 6h0m1-5h0m0 9h0m0-5h0m0-1h0m0-5h0m0 9h0m1-3h0m-21 17h0m0-5h0m0-5h0m1 8h0m0-1h0m0 2h0m0-5h0m1-4h0m0 9h0m0-10h0m1 11h0m0-6h0m1-1h0m0-1h0m0 4h0m1-6h0m0 4h0m0-2h0m1 5h0m0-1h0m0-5h0m0-1h0m0 4h0m1-4h0m0 4h0m0 4h0m0-5h0m0 3h0m1 1h0m0-1h0m0-1h0m1 2h0m0 3h0m1-1h0m0-2h0m0-5h0m1-2h0m0 8h0m0-5h0m1-1h0m0 4h0m0-1h0m1 4h0m0-5h0m0-1h0m0 3h0m1 4h0m0-1h0m0-1h0m1 1h0m0-6h0m0-2h0m0 9h0m0-5h0m1 0h0m0-5h0m1-1h0m0 3h0m0 4h0m0-5h0m1-2h0m0 9h0m0-5h0m0 4h0m0-5h0m0 3h0m1-4h0m1 3h0m0-5h0m0 11h0m-19 11h0m0-3h0m1 2h0m0-5h0m1 5h0m0-1h0m0-6h0m1-1h0m1 10h0m1-10h0m0 3h0m0-1h0m0-1h0m1 9h0m0-5h0m0-5h0m0 3h0m1 4h0m0-5h0m0-1h0m0 4h0m0-5h0m1 5h0m0-5h0m0 6h0m1-6h0m0 3h0m1 6h0m0-8h0m1 1h0m0-1h0m1-2h0m0 4h0m1-2h0m1-2h0m1 4h0m0 4h0m1-7h0m1 6h0m1-7h0m0 11h0m1-4h0m-18 6h0m1 2h0m1 5h0m0-1h0m1 3h0m4-3h0m0-5h0m1 2h0m1 1h0m0-1h0m2 6h0m1-5h0m0-2h0m1 2h0m0 4h0m1-7h0m1 4h0m0 4h0m2-3h0m0-6h0m-18 13h0m3 0h0m8 2h0m1-4h0m2 2h0m1 2h0m4-4h0m-17 22h0m5-10h0m3 2h0m8-2h0" stroke="#152f48" stroke-width="3.4" stroke-linecap="square" fill="none"/>
<path transform="scale(.25)" d="M1730 872h0m1-7h0m8 8h0m2 2h0m-11 7h0m2 1h0m0-3h0m3 2h0m2 0h0m0 3h0m1-4h0m1 0h0m2 0h0m0 1h0m-11 7h0m0 9h0m0 1h0m1-6h0m0 3h0m1-5h0m1 4h0m2-4h0m0-2h0m1 9h0m2-5h0m1 4h0m0 2h0m0-1h0m1-5h0m1 0h0m0 2h0m0-7h0m0 6h0m0 2h0m-12 9h0m1 0h0m0 3h0m1-8h0m0 9h0m0-6h0m1 0h0m0 2h0m0 4h0m1-9h0m0 9h0m0 1h0m1-7h0m0 8h0m1 0h0m0-3h0m0-7h0m1 5h0m1 4h0m1-9h0m2 2h0m0-3h0m1 7h0m-12 14h0m0-7h0m0 2h0m0-1h0m1 7h0m0-7h0m0 4h0m0-7h0m0 4h0m1 0h0m0 4h0m0-5h0m0 2h0m0 4h0m1 1h0m0-3h0m0-7h0m0 9h0m1-8h0m0 6h0m0 2h0m0-7h0m1 5h0m0-5h0m1 2h0m0-3h0m0 4h0m0 6h0m2-1h0m0-10h0m2 4h0m1 7h0m1-3h0m0-7h0m0 1h0m0 4h0m-12 16h0m1-10h0m0 8h0m1 0h0m0 3h0m1-11h0m0 3h0m1 0h0m2 1h0m1 3h0m1-2h0m3-5h0m1 1h0m0 9h0m0-3h0m0-5h0m-11 12h0m1 6h0m0-7h0m1 4h0m1 2h0m1 0h0m1-4h0m1 3h0m0-3h0m0 2h0m1 0h0m1-3h0m3 3h0m0-5h0m0 9h0m0-8h0m-10 11h0m2 2h0m1 3h0m5-5h0m2 0h0m0 4h0m-8 13h0" stroke="#132b43" stroke-width="3.4" stroke-linecap="square" fill="none"/>
<path transform="scale(.25)" d="M1702 854h0m-8 21h0m8 0h0m0-3h0m5 0h0m-24 9h0m1 4h0m3-5h0m0 1h0m1 4h0m3-5h0m1 4h0m1 1h0m8 0h0m2 1h0m2 1h0m0-1h0m1-10h0m1 6h0m-25 9h0m2 2h0m1-4h0m0 8h0m2-4h0m2 4h0m1-9h0m1 4h0m0 4h0m1-7h0m1 0h0m1 8h0m0-4h0m2 5h0m3-4h0m2 1h0m0-3h0m1-1h0m1 3h0m0 4h0m1 1h0m0-2h0m1-5h0m0 2h0m0 2h0m0 2h0m0-7h0m1 5h0m0-3h0m2 6h0m0-7h0m0 2h0m-24 7h0m1 8h0m1-8h0m0 4h0m1 4h0m3-9h0m3 3h0m1-2h0m3 9h0m1-5h0m0 4h0m1-6h0m1 5h0m0 2h0m1 1h0m0-8h0m1-2h0m0-1h0m0 2h0m1-2h0m0 2h0m0 2h0m1 4h0m0-5h0m0 6h0m0-7h0m1 5h0m2 2h0m1-6h0m0 4h0m0 2h0m-23 4h0m1 0h0m1 3h0m1 1h0m4-4h0m0-1h0m3 10h0m1-10h0m1 9h0m1 2h0m1-9h0m0 1h0m0 6h0m1-1h0m1 1h0m0 2h0m1-2h0m0-7h0m1 6h0m0-3h0m0-1h0m1-1h0m1 4h0m0 2h0m0-5h0m1 1h0m0 6h0m0-5h0m0 4h0m0-7h0m1-1h0m1 9h0m0-3h0m0-7h0m-16 12h0m4 6h0m0 2h0m2 0h0m0 1h0m0-7h0m1 0h0m1-3h0m1 9h0m1-7h0m1-1h0m0 10h0m2-8h0m0 6h0m0-5h0m0 2h0m1-6h0m0 9h0m1-2h0m0-5h0m1 0h0m0 3h0m-12 10h0m3-1h0m1-2h0m1 0h0m1 9h0m0-7h0m0 9h0m1-8h0m0 6h0m1-3h0m2-5h0m1 3h0m0-1h0m1 0h0m-16 17h0m5 1h0m2-1h0m1-4h0m4-3h0m1 7h0m1-7h0m1 4h0m-3 12h0m1-1h0m2 1h0m-7 10h0" stroke="#17334e" stroke-width="3.4" stroke-linecap="square" fill="none"/>
<path transform="scale(.25)" d="M1659 887h0m6-3h0m0-4h0m4 3h0m1 4h0m5-1h0m3-1h0m2-6h0m1 4h0m-22 8h0m0 4h0m0 4h0m3-9h0m1 4h0m2-2h0m4 7h0m1 0h0m2-8h0m0 4h0m3-1h0m0 4h0m1-8h0m1 3h0m0 4h0m3-8h0m1 10h0m0-4h0m6-4h0m-28 20h0m0-8h0m2-1h0m0 4h0m1 4h0m3-10h0m1 4h0m0 4h0m2-5h0m0 4h0m0 4h0m2 0h0m3-4h0m1 3h0m1-8h0m0 4h0m3 3h0m1-8h0m1 2h0m4 3h0m-25 17h0m0-4h0m1-4h0m2-1h0m0 4h0m2-6h0m0 10h0m1-6h0m0 4h0m4-5h0m0 4h0m2 4h0m0-4h0m3 3h0m1-8h0m1 4h0m2-5h0m0 4h0m7 3h0m-26 7h0m3-1h0m0 4h0m0 4h0m2-6h0m1 4h0m3-1h0m1-4h0m2 0h0m0 4h0m1 4h0m3-9h0m2 3h0m2-4h0m5 7h0m1-1h0m-25 8h0m2-1h0m0 4h0m19-4h0m-1 12h0" stroke="#193753" stroke-width="3.4" stroke-linecap="square" fill="none"/>
<path transform="scale(.25)" d="M1387 886h0m1-4h0m2 5h0m7-10h0m1 8h0m0-4h0m5 6h0m-15 3h0m2 1h0m0 8h0m1-4h0m2-2h0m3-4h0m1 6h0m2 4h0m2-4h0m1 4h0m0-4h0m2-4h0m-14 20h0m1-4h0m2-2h0m0 4h0m1-8h0m5 2h0m1 4h0m0 4h0m2-4h0m1 4h0m-13 4h0m4-2h0m0 4h0m-1 12h0m0-4h0" stroke="#316895" stroke-width="3.4" stroke-linecap="square" fill="none"/>
<path transform="scale(.25)" d="M1406 887h0m0-4h0m3 1h0m12 2h0m1-4h0m-17 9h0m1 4h0m1 4h0m1-11h0m1 8h0m3-5h0m0 4h0m2 2h0m1-4h0m0-4h0m3 7h0m3-2h0m1-4h0m1 8h0m2-2h0m1-7h0m-21 14h0m1 8h0m3-7h0m1-4h0m1 3h0m1 8h0m0-4h0m3-2h0m0 4h0m1-8h0m1 7h0m1-8h0m1 4h0m2 2h0m0 4h0m2-8h0m2-2h0m0 4h0m1 4h0m-21 11h0m1-4h0m6 4h0m0-4h0m2 2h0m2-4h0m2 3h0m0-4h0m6 8h0m-1 12h0m2-4h0m0-4h0" stroke="#2f648f" stroke-width="3.4" stroke-linecap="square" fill="none"/>
<path transform="scale(.25)" d="M1428 885h0m13 0h0m1 1h0m1-4h0m-12 16h0m0-8h0m1 4h0m1-4h0m1 8h0m4-2h0m2-7h0m1 4h0m3-3h0m0 4h0m5 3h0m1-4h0m-22 16h0m0-4h0m0-4h0m4 5h0m0 4h0m2-8h0m2 6h0m1-8h0m4 9h0m0-8h0m5 5h0m1 4h0m0-8h0m2 3h0m-9 12h0m1 4h0m0-8h0m6 5h0m1-4h0" stroke="#2d608a" stroke-width="3.4" stroke-linecap="square" fill="none"/>
<path transform="scale(.25)" d="M1452 885h0m13-1h0m6 3h0m2-4h0m-23 6h0m3 0h0m0 8h0m0-4h0m3 3h0m4 3h0m2-7h0m2 4h0m1-8h0m0 4h0m2 2h0m2-4h0m2 5h0m-21 6h0m5-1h0m1 8h0m1-4h0m1-1h0m1 4h0m1 4h0m2-7h0m1-4h0m2 0h0m0 8h0m0-4h0m3 6h0m1-4h0m0-4h0m2 5h0m0 4h0m-16 9h0m1-4h0m0-4h0m3 7h0m0-4h0m7-3h0m2 10h0m3-7h0m-16 13h0m1 4h0m1-8h0" stroke="#2b5c84" stroke-width="3.4" stroke-linecap="square" fill="none"/>
<path transform="scale(.25)" d="M1475 883h0m8 3h0m0-4h0m4 5h0m-13 8h0m1 4h0m1-8h0m2 3h0m0 4h0m3-5h0m0 4h0m3 1h0m3 1h0m0-4h0m1-4h0m1 1h0m3 4h0m1 1h0m4-6h0m-23 12h0m1 4h0m0 4h0m3-1h0m0-4h0m0-4h0m2 3h0m1-4h0m0 8h0m7-2h0m0-4h0m1 8h0m0-3h0m1-8h0m1 4h0m2 1h0m0-4h0m1 8h0m-19 6h0m3 3h0m0-4h0m3-1h0m3 6h0m2 4h0m1-8h0m1 4h0m3-7h0" stroke="#29587f" stroke-width="3.4" stroke-linecap="square" fill="none"/>
<path transform="scale(.25)" d="M1499 886h0m-2 13h0m2-9h0m1 8h0m1-4h0m2 2h0m1-4h0m4 7h0m0-4h0m0-4h0m3 1h0m2 4h0m2-7h0m1 4h0m1 4h0m2 2h0m-21 4h0m2-1h0m2 2h0m4 5h0m0-4h0m1-4h0m3 6h0m0-4h0m2 5h0m1-4h0m0-4h0m2 1h0m0 8h0m1-4h0m2-2h0m1 4h0m0 4h0m-19 3h0m2-2h0m4 1h0m0 8h0m2-6h0m4 1h0m0-4h0m3 1h0m1 4h0m2-2h0m0 4h0m1 4h0m-13 6h0m9 3h0m3-1h0m1 4h0m0-8h0" stroke="#27547a" stroke-width="3.4" stroke-linecap="square" fill="none"/>
<path transform="scale(.25)" d="M1537 884h0m-15 14h0m3 0h0m1-4h0m2 4h0m0-4h0m3-1h0m0-4h0m2 6h0m2 4h0m1-7h0m1 4h0m1-8h0m-18 22h0m2-4h0m0-4h0m2 8h0m1-8h0m2 0h0m4 7h0m0-4h0m0-4h0m4 6h0m0 4h0m2-11h0m1 8h0m0-4h0m-17 10h0m11-1h0m2 6h0m1 4h0m2-11h0m-2 19h0" stroke="#255074" stroke-width="3.4" stroke-linecap="square" fill="none"/>
<path transform="scale(.25)" d="M1607 884h0m1 2h0m-12 3h0m1 8h0m3 2h0m2-6h0m0-4h0m0 8h0m3-5h0m1 4h0m1-8h0m2 10h0m0-4h0m1-4h0m-14 11h0m1 4h0m3 6h0m0-4h0m2-2h0m0-4h0m7 1h0m1 4h0m0 4h0m-1 4h0m3-2h0m-3 20h0" stroke="#1f4364" stroke-width="3.4" stroke-linecap="square" fill="none"/>
<path transform="scale(.25)" d="M1612 892h0m0 4h0m4-2h0m0-4h0m1 8h0m1-3h0m1-4h0m0 8h0m2-7h0m1-4h0m1 10h0m1-8h0m2 4h0m2-4h0m0 8h0m3-1h0m1-4h0m3 3h0m-23 12h0m4 2h0m0-4h0m2-3h0m1 8h0m0-4h0m3 1h0m0-4h0m3-2h0m1 4h0m1-4h0m2 4h0m2 3h0m1-4h0m2-1h0m0-4h0m1 8h0m-22 12h0m0-4h0m1 2h0m2-4h0m2 5h0m2-4h0m2 1h0m2 6h0m1-4h0m1-4h0m5-1h0m3-1h0m0 8h0m1-4h0m-23 12h0m1-4h0m11 2h0" stroke="#1d3f5e" stroke-width="3.4" stroke-linecap="square" fill="none"/>
<path transform="scale(.25)" d="M1637 885h0m6-7h0m1 8h0m6 0h0m4-1h0m2-2h0m1 4h0m0-8h0m-20 18h0m0-4h0m1-4h0m2 7h0m3 2h0m1-8h0m0 4h0m3-6h0m0 8h0m1-4h0m2-2h0m0 8h0m1-4h0m1 3h0m0-4h0m0-4h0m3 6h0m1-4h0m0 8h0m-18 2h0m1 3h0m1-4h0m2 10h0m0-2h0m1-2h0m0-4h0m3 6h0m1-8h0m1 4h0m2 2h0m0 4h0m3-1h0m5-2h0m-15 7h0m1 4h0m2-6h0m0 8h0m4-4h0m2 1h0m1 4h0m-17 3h0m9 4h0m2 4h0m6-3h0m0-4h0m5 6h0m-12 5h0m1 4h0" stroke="#1b3b59" stroke-width="3.4" stroke-linecap="square" fill="none"/>
<path transform="scale(.25)" d="M1369 896h0m2 3h0m8-3h0m-10 8h0m0 4h0m0-8h0m1 7h0m2 4h0m1-2h0m1-4h0m0 4h0m1-8h0m0 4h0m1 5h0m1-4h0m2-6h0m1 9h0m1-8h0m2-1h0m0 4h0m0 4h0m2-3h0m0 4h0m1-8h0m-17 15h0m0-4h0m1 7h0m0 4h0m1-8h0m1 1h0m1-3h0m1 4h0m2 3h0m0-7h0m0 9h0m0-5h0m1 1h0m0 1h0m0-5h0m1-2h0m1 4h0m0 4h0m1-3h0m1-4h0m1 3h0m0-4h0m1 8h0m1-3h0m2 0h0m1 6h0m3-2h0m1 2h0m0-3h0m1 1h0m1-1h0m1 0h0m1 3h0m0-6h0m-30 7h0m5 3h0m1-3h0m1 1h0m1 4h0m0 4h0m1 2h0m2-9h0m2 2h0m0 2h0m0 2h0m1-8h0m1 8h0m0 2h0m0-3h0m0-3h0m1 3h0m0-6h0m1 1h0m1 1h0m1 2h0m0-5h0m1 4h0m0 3h0m1 1h0m0-8h0m0 9h0m3-3h0m0 1h0m1-7h0m0 9h0m0 2h0m0-3h0m1-6h0m1 0h0m0-1h0m0 2h0m2-2h0m3-1h0m1 8h0m2-2h0m-26 7h0m1 7h0m1 3h0m0-5h0m1 3h0m0-7h0m0 8h0m1-2h0m1 2h0m0-7h0m0 4h0m0-7h0m1 2h0m0 2h0m1-3h0m0 4h0m0 6h0m1-9h0m1 5h0m1 2h0m0-1h0m0-7h0m1 4h0m0 2h0m0 2h0m0-7h0m0 2h0m1-2h0m0 8h0m1-5h0m1 3h0m1-3h0m0-5h0m1 0h0m0 6h0m2-5h0m1 8h0m1-9h0m2 1h0m-22 14h0m2-1h0m0 8h0m2-7h0m0-3h0m0 4h0m0 2h0m1-4h0m0 2h0m0 4h0m3-5h0m1 2h0m0 1h0m1 1h0m1-6h0m0 4h0m0 2h0m0-3h0m1 3h0m0-7h0m0 1h0m0 4h0m1-4h0m0-1h0m1 5h0m1-2h0m0-1h0m0 2h0m3-3h0m2 1h0m1 2h0m0-3h0m7 5h0m2-4h0m-27 12h0m1 4h0m0 4h0m2-10h0" stroke="#336c9a" stroke-width="3.4" stroke-linecap="square" fill="none"/>
<path transform="scale(.25)" d="M1221 886h0m7-4h0m0 3h0m5 2h0m1-4h0m2 4h0m-16 3h0m1 8h0m0-4h0m1 3h0m2-4h0m0-4h0m0-1h0m1 8h0m0-4h0m1 6h0m0-4h0m3 3h0m0-4h0m2-5h0m0 8h0m1-4h0m2-1h0m0 8h0m0-4h0m1 0h0m0-4h0m0 8h0m1-3h0m2-4h0m-17 14h0m1-5h0m0 8h0m1-4h0m1-1h0m1-4h0m1 10h0m1-4h0m0-4h0m2 3h0m0-4h0m3 3h0m1 3h0m0-4h0m0 8h0m1-8h0m2 1h0m1-4h0m1 8h0m-18 6h0m1-1h0m0 9h0m0-4h0m3-2h0m0-4h0m1 8h0m2-6h0m1-1h0m2 4h0m1-1h0m0 4h0m0-8h0m6 8h0m0-4h0m1-4h0m-14 12h0m1 8h0m0-4h0m5-4h0m8 0h0m-14 12h0m1 8h0" stroke="#4084bb" stroke-width="3.4" stroke-linecap="square" fill="none"/>
<path transform="scale(.25)" d="M1241 887h0m5 0h0m4-2h0m2 2h0m7-1h0m3-2h0m-22 4h0m0 4h0m1-1h0m1 4h0m0 4h0m1-6h0m2 4h0m0 2h0m0-4h0m1 1h0m0-5h0m2 1h0m2 1h0m0 4h0m1-8h0m1 10h0m0-8h0m1 4h0m1-3h0m1 4h0m3-6h0m0 4h0m2 5h0m0-8h0m0 4h0m2-3h0m0-4h0m1 11h0m0-3h0m-23 8h0m0 4h0m1-5h0m1 6h0m1-8h0m1 4h0m2 2h0m0 4h0m0-8h0m2 5h0m1-8h0m0 9h0m1-4h0m2-2h0m0 4h0m1 4h0m1-7h0m0 4h0m0-8h0m2 2h0m0 8h0m2-4h0m1-4h0m0 8h0m3-10h0m1 4h0m0 4h0m1 3h0m-25 9h0m0-8h0m1 4h0m3-3h0m3 7h0m2-4h0m1 1h0m3 6h0m1-7h0m0-1h0m2 5h0m1-2h0m0 4h0m0-8h0m5 6h0m1-8h0m0 4h0m1-1h0m-24 13h0m1 4h0m11-1h0m0-4h0m1 8h0m1-11h0m1 4h0m0 4h0m3-6h0m0 4h0m4-2h0m1-4h0m0 8h0m2-5h0m-26 17h0m1-8h0m0 4h0m13 3h0m0 4h0m0-8h0m2-3h0m0 4h0m9 0h0m-12 15h0m2-4h0m0-3h0" stroke="#3e80b6" stroke-width="3.4" stroke-linecap="square" fill="none"/>
<path transform="scale(.25)" d="M1269 887h0m5 0h0m-10 4h0m1 4h0m1 2h0m2-6h0m1 8h0m1-1h0m0-3h0m1-5h0m1 4h0m1 1h0m0 4h0m0-8h0m1 4h0m1 4h0m1-8h0m1 1h0m0 4h0m1 0h0m3 2h0m1-4h0m1-1h0m2-3h0m1 8h0m0-4h0m4-1h0m0 4h0m-26 10h0m1-4h0m1-2h0m1 8h0m1-6h0m0 4h0m1-5h0m1 8h0m2 1h0m1-4h0m0-4h0m2 4h0m0 4h0m1-3h0m0-5h0m1 1h0m1-4h0m1 8h0m2-2h0m1 4h0m1-8h0m0-1h0m1 8h0m0-4h0m1 5h0m1-4h0m1-4h0m0 4h0m1 3h0m1-4h0m0 5h0m-24 3h0m0 6h0m1 2h0m1-4h0m2 2h0m0 4h0m1-5h0m0-3h0m2-1h0m3 1h0m0 4h0m1-3h0m2-4h0m2 8h0m0-8h0m1 6h0m1-4h0m1-1h0m0 4h0m2 1h0m0 4h0m1-8h0m2-1h0m0 1h0m1 7h0m-24 10h0m4-4h0m0 4h0m0 4h0m5 0h0m1-4h0m0-4h0m3 5h0m2-2h0m0-6h0m0 2h0m1 8h0m4-4h0m0 4h0m3-9h0m-23 14h0m3 8h0m0-4h0m1-4h0m6 0h0m0 4h0m3-7h0m2 2h0m4 0h0m-16 13h0m13-1h0" stroke="#3c7cb0" stroke-width="3.4" stroke-linecap="square" fill="none"/>
<path transform="scale(.25)" d="M1290 889h0m1 5h0m0 4h0m1-8h0m2 4h0m0 4h0m3-4h0m0 2h0m2 2h0m1-5h0m0 4h0m1-7h0m0 8h0m3-4h0m1 5h0m0-1h0m1-7h0m1 5h0m2 1h0m1-4h0m3 4h0m2 0h0m0-2h0m-25 6h0m1 5h0m1 4h0m0-8h0m1 4h0m1-2h0m0 6h0m0-10h0m3 2h0m0 4h0m2-5h0m2 9h0m1-8h0m1 0h0m3 1h0m0 4h0m1 4h0m2-3h0m0-8h0m0 9h0m2-8h0m0 4h0m1 4h0m0-4h0m2 0h0m-24 12h0m2-3h0m1 4h0m1-4h0m2-2h0m0 4h0m0 2h0m1 4h0m0-8h0m4 4h0m1-4h0m0 8h0m1-8h0m1 4h0m0 4h0m1-7h0m1 8h0m1-4h0m1-7h0m1 4h0m1 4h0m0-3h0m1-4h0m1 4h0m1 4h0m1-8h0m0 4h0m0 4h0m-19 7h0m0 4h0m0-8h0m4 1h0m1 8h0m1-4h0m1-3h0m0 4h0m0 4h0m3-7h0m1 4h0m1 4h0m1-3h0m0-8h0m1 4h0m2-3h0m2 0h0m-15 20h0m1-8h0m0 4h0m2-3h0m1 4h0m2 4h0m3-7h0m1 5h0m1-4h0m0-4h0m-9 13h0m0 4h0m8-1h0m1-4h0" stroke="#3a78ab" stroke-width="3.4" stroke-linecap="square" fill="none"/>
<path transform="scale(.25)" d="M1317 899h0m3-1h0m1-8h0m0 4h0m2 5h0m1 0h0m1-4h0m4 2h0m1-4h0m1 4h0m2 0h0m1-4h0m1 4h0m0-4h0m2 5h0m4-1h0m-25 12h0m0-6h0m1 8h0m1-11h0m1 4h0m0 4h0m1-2h0m1 4h0m1-2h0m1-5h0m2 4h0m0 4h0m0-8h0m3 5h0m0-3h0m0-5h0m1 1h0m1 8h0m1 0h0m1-4h0m0 4h0m1-8h0m2 8h0m0-8h0m0 4h0m1 1h0m1 4h0m1-6h0m0 4h0m1-8h0m1 9h0m1-8h0m-23 19h0m1-8h0m0 4h0m1 2h0m1-4h0m0 8h0m4-7h0m1 4h0m0 1h0m1-4h0m0-4h0m1 9h0m1-8h0m1 4h0m1 4h0m0-8h0m0 4h0m1-4h0m1 4h0m0 4h0m2-8h0m2 5h0m0-4h0m1 2h0m2-4h0m-22 20h0m0-8h0m8 0h0m0 4h0m5 1h0m2-4h0m5-1h0m1 4h0m1 4h0m-21 4h0m1 4h0m6-4h0m1 8h0m0-4h0m14 1h0m0 4h0m-1 16h0" stroke="#3874a5" stroke-width="3.4" stroke-linecap="square" fill="none"/>
<path transform="scale(.25)" d="M1343 899h0m8-1h0m2-1h0m1 0h0m2 2h0m1 0h0m2-4h0m3 3h0m-20 9h0m3 4h0m1-2h0m0-4h0m2-2h0m1 3h0m1-4h0m1-1h0m1 8h0m0-8h0m0 4h0m2 0h0m1-2h0m0 8h0m1-4h0m2 4h0m0-4h0m2-2h0m0 4h0m1-8h0m1 5h0m0 4h0m1-8h0m1 2h0m1-4h0m0 8h0m1-4h0m1 4h0m0-8h0m-26 13h0m0 4h0m0 4h0m3-2h0m1-6h0m0 2h0m0 2h0m1 4h0m1 2h0m0-8h0m3-1h0m1 7h0m0-8h0m1 4h0m1-4h0m1 8h0m1-6h0m2 4h0m0 4h0m1-4h0m1 4h0m0-2h0m1-8h0m0 2h0m1 7h0m1-8h0m1 4h0m2-6h0m1 8h0m1-4h0m-25 9h0m0 4h0m0 4h0m4-8h0m0 4h0m0 4h0m2-6h0m1-1h0m0 8h0m1-4h0m2-5h0m0 4h0m0 4h0m3-6h0m1 4h0m7-5h0m3 2h0m0 4h0m-23 5h0m3 0h0m5 4h0m-9 16h0m0-8h0m1 4h0" stroke="#3670a0" stroke-width="3.4" stroke-linecap="square" fill="none"/>
<path transform="scale(.25)" d="M1221 798h0m5 5h0m0-1h0m0-5h0m1 4h0m0 2h0m1-7h0m0-1h0m1-3h0m0 9h0m0-5h0m0 2h0m0-3h0m1 5h0m1-3h0m0 4h0m0-3h0m-9 9h0m2 2h0m1 3h0m0-5h0m0 2h0m1-5h0m0 4h0m1-4h0m1 3h0m0 2h0m1-1h0m0-1h0m0 2h0m1-5h0m1 9h0m0-5h0m-6 11h0m1 0h0m2 0h0m0-1h0m2-1h0m-70 29h0m6-3h0m6 8h0m9-2h0m2 0h0m7-2h0m4-3h0m-59 16h0m13-5h0m7-3h0m5 2h0m2 4h0m3-6h0m0 3h0m0 2h0m4 1h0m3 1h0m2-2h0m0-4h0m4-1h0m9 3h0m4-3h0m-8 12h0m1 5h0m12 2h0m0-5h0m4 4h0m3-1h0m2 1h0m0-1h0m1 2h0m0-4h0m2 7h0m-94 21h0m15 47h0m-32 17h0m9-1h0m12-7h0m2-1h0m1 2h0m5-1h0m4 5h0m19-6h0m-59 16h0m9-5h0m3 0h0m4 3h0m1 1h0m2 4h0m1-8h0m1 6h0m5 4h0m5-9h0m6 9h0m1-3h0m3 0h0m1-5h0m1 0h0m1 2h0m0 3h0m0-5h0m1 8h0m5-1h0m1-8h0m-49 10h0m1 1h0m1 10h0m6-1h0m4 1h0m2-1h0m3-8h0m5 3h0m2 4h0m1-5h0m1 0h0m2 0h0m2 7h0m9-7h0m2 4h0m3-8h0m-59 13h0m11-1h0m4 9h0m0-4h0m10 2h0m20-6h0m10 10h0m-47 3h0m2 8h0m2-8h0m25 4h0m1-6h0m7 0h0m-37 18h0m10-5h0m2 2h0m4 1h0m3 2h0m11 4h0m-23 12h0" stroke="#4a99d6" stroke-width="3.4" stroke-linecap="square" fill="none"/>
<path transform="scale(.25)" d="M1216 837h0m1-6h0m0 6h0m1 1h0m0-3h0m0-3h0m1-1h0m1 3h0m0 2h0m0-1h0m1-3h0m0 4h0m0 2h0m0-7h0m2-1h0m-63 17h0m9 4h0m6-1h0m1 0h0m12-5h0m12 4h0m4-2h0m11-7h0m1 7h0m1 1h0m0-7h0m0 3h0m1 3h0m0-7h0m0 8h0m1-5h0m0-1h0m1 3h0m0 2h0m0-3h0m0 4h0m-67 15h0m1-5h0m0-1h0m8 0h0m4-2h0m1 5h0m3-5h0m2 0h0m0 2h0m0-3h0m1 5h0m8-4h0m0-3h0m2 1h0m9-1h0m2 6h0m2 4h0m6-6h0m9-1h0m2 2h0m4-5h0m-51 18h0m11-5h0m12-1h0m4 0h0m3 5h0m1 0h0m2-4h0m1 9h0m4-8h0m1-2h0m2 8h0m-34 51h0m2-1h0m-26 10h0m0 2h0m2 0h0m9-7h0m2 5h0m1 3h0m1-4h0m2-5h0m0 1h0m1 8h0m0-5h0m1-6h0m1 0h0m0 11h0m0-5h0m2-2h0m1 4h0m0-6h0m1 5h0m3-6h0m5 0h0m0 9h0m-35 5h0m2 5h0m2-2h0m1 4h0m1 1h0m0-5h0m3-1h0m2 1h0m1-5h0m2 3h0m2 1h0m0-3h0m1-2h0m0 4h0m0 2h0m0-5h0m2 3h0m1 2h0m0 3h0m1-7h0m2 0h0m2 2h0m1 3h0m1-4h0m-23 19h0m4-5h0m0-3h0m3 8h0m0-5h0m0-3h0m9 2h0m3-1h0m-11 15h0" stroke="#4691cb" stroke-width="3.4" stroke-linecap="square" fill="none"/>
<path transform="scale(.25)" d="M1220 814h0m1-1h0m2 2h0m0-3h0m1 0h0m2-4h0m-8 10h0m1 3h0m1 4h0m0 1h0m1-8h0m0 8h0m1-8h0m1 0h0m0 6h0m0 2h0m1-2h0m0-5h0m0 1h0m1 2h0m0-6h0m0 2h0m-7 13h0m1 7h0m1-5h0m3 2h0m0-5h0m1 1h0m1-1h0m-76 20h0m7-6h0m0 3h0m8 1h0m6 3h0m4-3h0m1 1h0m3 1h0m3-3h0m4-4h0m-30 13h0m4 6h0m4-4h0m2 3h0m1-7h0m0 4h0m3 1h0m0 1h0m1 3h0m0-5h0m2-6h0m1 4h0m0 4h0m2-6h0m1-2h0m2 3h0m0 1h0m1-3h0m0 4h0m2 0h0m1-5h0m1 5h0m3 4h0m1 0h0m3-3h0m18-3h0m-31 9h0m9 0h0m4 4h0m5-4h0m1 0h0m1 9h0m4-7h0m1 4h0m4-4h0m0 6h0m3-3h0m1-1h0m-4 8h0m-67 58h0m16-3h0m1-5h0m5 7h0m-34 8h0m10 1h0m2 0h0m1 4h0m6 0h0m0-4h0m0 2h0m2-7h0m2 0h0m3 5h0m8 3h0m4-8h0m-56 22h0m4-8h0m17 6h0m2-5h0m2-4h0m3 3h0m1 0h0m1-3h0m2 6h0m2-6h0m2 9h0m1-7h0m2-1h0m2 6h0m1 0h0m1-3h0m2-1h0m0 4h0m9 0h0m7-6h0m-44 15h0m4-4h0m0 4h0m4 3h0m2-5h0m2 1h0m2 4h0m1-6h0m3-1h0m-1 13h0m12 0h0" stroke="#4895d1" stroke-width="3.4" stroke-linecap="square" fill="none"/>
<path transform="scale(.25)" d="M1207 874h0m1 1h0m2-6h0m0-2h0m0 3h0m1-5h0m1 6h0m0 28h0m1-1h0m1-1h0m0 2h0m1-3h0m0 1h0m1 1h0m-24 11h0m2 2h0m1-3h0m2 0h0m3-1h0m0-1h0m0 3h0m2 1h0m1-7h0m0 7h0m2-1h0m0-5h0m0 3h0m1-3h0m0 6h0m0-4h0m1-2h0m0-1h0m0 2h0m1 0h0m0-1h0m1-3h0m0 3h0m0-1h0m2-2h0m0-1h0m1 0h0m0 2h0m0-1h0m0 3h0m2-4h0m-18 16h0m1-2h0m1 4h0m0-4h0m2-2h0m0 3h0m1-2h0" stroke="#4288c0" stroke-width="3.4" stroke-linecap="square" fill="none"/>
<path transform="scale(.25)" d="M1159 842h0m3 6h0m6-5h0m13 3h0m16-5h0m2 6h0m15 3h0m-56 5h0m5 0h0m1 2h0m4 0h0m6 5h0m4-8h0m3 2h0m4 7h0m2 0h0m0-7h0m2 1h0m1-2h0m1 4h0m0-4h0m6 2h0m2 1h0m10-1h0m1 6h0m2-3h0m0-1h0m0 2h0m1-4h0m0-3h0m1 7h0m1-5h0m0 5h0m2 1h0m0-8h0m0 2h0m-56 15h0m9-1h0m0-5h0m11 0h0m17 5h0m1-5h0m4 8h0m7-7h0m2-2h0m0 4h0m1 7h0m-19 35h0m-22 11h0m3-2h0m3 2h0m3 2h0m0-3h0m1 3h0m0-7h0m1 7h0m1 0h0m2-8h0m1 1h0m0-3h0m0 9h0m3-3h0m0-3h0m1 2h0m0-6h0m0 2h0m1 3h0m0-4h0m1 8h0m1-5h0m3 1h0m-30 13h0m1-3h0m2 1h0m1-2h0m0-1h0m4 2h0m0 3h0m2 5h0m1-8h0m1 0h0m1 4h0m1-5h0m0-1h0m1-1h0m1 0h0m0 6h0m2-4h0m1-1h0m2 3h0" stroke="#448cc6" stroke-width="3.4" stroke-linecap="square" fill="none"/>
<path transform="scale(.25)" d="M1229 791h0m1 0h0m2-3h0m-4 12h0m0-7h0m3 6h0m2-1h0m1-2h0m-144 150h0m-7 13h0m1-3h0m15 1h0m2-2h0m0 2h0m5 1h0m1-4h0m8 1h0m3 0h0m11 3h0m-61 13h0m13-11h0m6 11h0m0-1h0m7-5h0m3 5h0m2 1h0m3-2h0m3 2h0m5-4h0m8 0h0m-38 12h0m15-4h0m4 7h0m2-8h0m2 9h0m1-8h0m1-1h0m4 5h0m6 3h0m7-1h0m6-5h0m1 0h0m-45 19h0m2-11h0m3 9h0m0-7h0m1 2h0m4 7h0m1-8h0m5 3h0m0-5h0m4 4h0m6 3h0m0-7h0m3 1h0m2 6h0m2-1h0m0-5h0m3 3h0m18 5h0m-60 11h0m7-6h0m4 0h0m6 0h0m4 2h0m1 5h0m0-6h0m3 5h0m17 2h0m11-2h0m-38 8h0m2 4h0m3-6h0m0 1h0m1 7h0m1-6h0m7-4h0m1 6h0m2-1h0m5 1h0m-20 9h0m2-1h0m5 8h0m14-10h0m12 1h0m-51 20h0" stroke="#4c9ddc" stroke-width="3.4" stroke-linecap="square" fill="none"/>
<path transform="scale(.25)" d="M1219 748h0m10 6h0m4-7h0m10 2h0m1 3h0m20-6h0m-42 20h0m2-7h0m0 3h0m5 1h0m1 1h0m0 2h0m1-6h0m7 6h0m2-6h0m2 2h0m1-1h0m1 4h0m2-3h0m2-3h0m5 0h0m2 7h0m1-7h0m4 6h0m2 1h0m13-7h0m6 5h0m-80 4h0m4 2h0m4 4h0m9-6h0m4 9h0m1-2h0m2-4h0m2-3h0m4 5h0m4-1h0m1-4h0m3 5h0m13-3h0m3-1h0m1 0h0m7 2h0m6-3h0m3 8h0m-69 15h0m24-2h0m1-1h0m19-7h0m1-1h0m6 6h0m4 2h0m8-4h0m-60 10h0" stroke="#56b1f7" stroke-width="3.4" stroke-linecap="square" fill="none"/>
<path transform="scale(.25)" d="M1228 729h0m47 13h0m-47 11h0m0 1h0m2 1h0m4-5h0m14 3h0m4 2h0m2 0h0m5-8h0m6 4h0m1-5h0m0 9h0m5-4h0m1-3h0m-70 12h0m7 2h0m12 3h0m7 0h0m0 1h0m2-7h0m7 4h0m1-3h0m2-3h0m1 10h0m0-7h0m1-2h0m1 7h0m2-8h0m1 0h0m0 2h0m4 8h0m0-6h0m1 2h0m1 2h0m0-5h0m1-2h0m1 9h0m0-4h0m1-5h0m0 9h0m15-1h0m-67 8h0m4-3h0m3 2h0m2 3h0m1-7h0m1 4h0m4-3h0m4 9h0m4-2h0m1-2h0m0 3h0m1-2h0m2-2h0m1 0h0m1 2h0m1 2h0m0-4h0m3-1h0m1-3h0m1 1h0m3 5h0m1-7h0m3 3h0m7-3h0m5 3h0m5 1h0m1-5h0m-43 18h0m4-5h0m10 1h0m0-1h0m1-1h0m2 5h0m4 3h0m4-5h0m7-3h0m0 6h0m4-3h0m0-1h0m-28 11h0m-122 164h0m-31 12h0m8-1h0m6-2h0m8-3h0m1 8h0m2 0h0m4 0h0m0-1h0m1-10h0m0 6h0m6 5h0m4-4h0m1 1h0m3 2h0m16-3h0m-56 8h0m6-1h0m3 1h0m0-1h0m2 1h0m1 0h0m2 5h0m8 0h0m1-7h0m6 9h0m4-8h0m1 6h0m2-4h0m3-4h0m7 4h0m2 0h0m-47 9h0m9 4h0m0 2h0m1-2h0m1-4h0m1 9h0m3-5h0m0 5h0m2-3h0m2 2h0m0-8h0m3 6h0m2 0h0m1 4h0m0-3h0m2-3h0m0 4h0m2 1h0m0-5h0m1 6h0m2-8h0m5 6h0m4-6h0m13 7h0m14-7h0m-63 13h0m4-1h0m9-1h0m2-2h0m3 1h0m2 9h0m5-5h0m1 4h0m5-7h0m0 5h0m2-6h0m1 1h0m1 5h0m4 0h0m4-7h0m-35 12h0m4 9h0m6 0h0m7 1h0m16-10h0m-34 16h0m1-1h0m14 1h0m16 4h0m-28 10h0" stroke="#4ea1e1" stroke-width="3.4" stroke-linecap="square" fill="none"/>
<path transform="scale(.25)" d="M1234 741h0m0-2h0m20-3h0m-39 12h0m7 5h0m3-4h0m14 4h0m10 2h0m1-2h0m6-8h0m2 9h0m5-1h0m7 1h0m4-5h0m15 6h0m-63 4h0m0-3h0m4 10h0m0-5h0m9 3h0m0-1h0m2-7h0m2 10h0m1-2h0m3 0h0m1 0h0m9 2h0m2-5h0m10-1h0m2 5h0m1-4h0m3-3h0m19-1h0m-80 14h0m0 7h0m6-10h0m1 2h0m1 9h0m3-10h0m1 6h0m1 4h0m4 0h0m2-11h0m1 3h0m2-3h0m1 10h0m0-1h0m3-2h0m1-3h0m5-2h0m0 4h0m1-6h0m2 0h0m2 2h0m0 8h0m1-10h0m1 5h0m1 0h0m1 0h0m1 0h0m2 5h0m1-1h0m12-7h0m1 5h0m4 2h0m4-3h0m-63 12h0m7 1h0m7-4h0m3 0h0m10 1h0m4-2h0m11 0h0m5 1h0m20 5h0m-39 4h0m53 6h0m-213 150h0m2 8h0m18 1h0m15-3h0m-61 13h0m25-3h0m3-4h0m1 5h0m1-5h0m2 9h0m0-7h0m1 5h0m0 2h0m1 1h0m2-9h0m3 2h0m1 6h0m1-3h0m8 3h0m1-4h0m11-5h0m-43 23h0m2-3h0m5-4h0m2 6h0m5-3h0m0-7h0m1 6h0m7 3h0m1-9h0m2 5h0m2 2h0m1-7h0m0 4h0m1 1h0m0 2h0m1-2h0m1 3h0m1-2h0m4-4h0m1-1h0m8-1h0m4 7h0m-49 14h0m9-9h0m3 5h0m7-3h0m7 0h0m0 8h0m1-3h0m0 2h0m2-9h0m3 4h0m0 1h0m2-5h0m3 7h0m3-7h0m0 6h0m10 2h0m-49 11h0m6 1h0m12-3h0m0 2h0m1-7h0m4 1h0m1-1h0m0 11h0m26-4h0m-62 10h0m19 5h0m18-5h0m10-4h0m2 8h0m4-7h0m-17 19h0" stroke="#52a9ec" stroke-width="3.4" stroke-linecap="square" fill="none"/>
<path transform="scale(.25)" d="M1220 745h0m3 8h0m4-1h0m6 3h0m2-3h0m1 3h0m6-1h0m1-4h0m1-2h0m13 5h0m-64 10h0m13 1h0m10 0h0m2 1h0m5 0h0m1 0h0m8-7h0m6 5h0m1 2h0m2 0h0m1-7h0m1-1h0m1 8h0m1-6h0m0 2h0m1 6h0m0-6h0m2 1h0m2 2h0m1-7h0m1 2h0m1 5h0m0-5h0m1 7h0m0-3h0m6 2h0m1 2h0m4 0h0m3-9h0m1 0h0m9 4h0m4-3h0m5 7h0m-86 10h0m9-6h0m6-1h0m8 6h0m0-5h0m3 4h0m3 0h0m1-2h0m2-3h0m0 2h0m1 4h0m1 3h0m3-8h0m0 9h0m0-8h0m2 4h0m0-3h0m0 4h0m1 0h0m2-1h0m3-3h0m0 3h0m1-3h0m4-1h0m1-2h0m0 8h0m0-7h0m1 1h0m3-3h0m1 4h0m2 1h0m-49 11h0m14 1h0m5-4h0m0 2h0m1-3h0m7 0h0m1 1h0m1 2h0m10 1h0m2 4h0m7-8h0m-24 13h0m-113 212h0m39 0h0m-76 9h0m23 5h0m3-1h0m10 1h0m2-8h0m2 3h0m28 3h0m18 2h0m12-5h0m-97 8h0m10 4h0m8 4h0m4 0h0m2-10h0m13 10h0m10-3h0m2-5h0m1 6h0m3 1h0m4-2h0m1-1h0m1-4h0m0 4h0m4-5h0m0 9h0m0-6h0m2-1h0m1 7h0m2-5h0m8-2h0m-103 20h0m31-1h0m0-7h0m8 6h0m2-7h0m4 8h0m12-6h0m2-3h0m1 7h0m0 2h0m3-7h0m5 0h0m2 2h0m3-5h0m0 9h0m4-4h0m0 5h0m1-9h0m0 1h0m1 1h0m1 0h0m4 0h0m1 1h0m7 6h0m4-5h0m5 5h0m3-2h0m10-2h0m-122 6h0m20 10h0m4-6h0m7-1h0m10 5h0m12 0h0m1-2h0m5 2h0m3-3h0m4-5h0m11 9h0m6-6h0m-93 13h0m30 6h0m14-5h0m3 4h0m0-5h0m6 5h0m1-8h0m3 7h0m5 3h0m5-1h0m1-2h0m1 1h0m2-4h0m0 2h0m8 1h0m1 2h0m0-7h0m1 4h0m19-5h0m3 1h0m23 1h0m-130 14h0m17 1h0m9-4h0m2 2h0m2-3h0m0 9h0m6-2h0m5-3h0m11-1h0m1-5h0m1 4h0m2-2h0m1-1h0m3 6h0m2 1h0m20 0h0m3-2h0m1-2h0m6 1h0m2-3h0m-85 21h0m2-9h0m3 0h0m20 5h0m19-1h0m0-5h0m10 8h0m2-8h0m1 5h0m-77 6h0m25 7h0m41-4h0m6-2h0m8 8h0" stroke="#54adf2" stroke-width="3.4" stroke-linecap="square" fill="none"/>
<path transform="scale(.25)" d="M1289 737h0m-74 7h0m1 9h0m1 2h0m10-1h0m8-1h0m11 1h0m6 0h0m6 1h0m3-5h0m1 2h0m33 1h0m-92 14h0m13-4h0m14 1h0m1 2h0m1-9h0m3 6h0m2 3h0m1-4h0m1-3h0m3 5h0m0 2h0m4-9h0m2 6h0m1 0h0m1-6h0m2 6h0m8-3h0m0 1h0m3-3h0m10 6h0m12-8h0m-71 12h0m2 0h0m6 7h0m2 1h0m1-1h0m2 2h0m1-7h0m2 5h0m0-7h0m5 6h0m2-6h0m0 4h0m1 6h0m1-4h0m1 3h0m0 1h0m0-7h0m6 0h0m1 2h0m3-4h0m2 1h0m5 4h0m11-2h0m5 7h0m5-7h0m-57 9h0m0 1h0m1 6h0m2-2h0m2-6h0m9 5h0m0 4h0m5-9h0m1 1h0m3 1h0m7 2h0m1-2h0m5 5h0m23-2h0m-187 160h0m11 0h0m-19 14h0m26-7h0m6 6h0m6-1h0m3-3h0m4-3h0m-67 12h0m17-3h0m2 1h0m0 2h0m6 8h0m1-10h0m3 6h0m1 4h0m1-9h0m2 7h0m8-2h0m4 1h0m3 0h0m4-7h0m2 2h0m-45 14h0m9-2h0m2 5h0m2 3h0m1-11h0m7 11h0m1-6h0m3-1h0m7 3h0m0-5h0m2 8h0m5-2h0m2-7h0m1 6h0m2 4h0m3-5h0m10-4h0m7 5h0m-57 8h0m0 4h0m3 4h0m4-2h0m4-6h0m5 8h0m0-1h0m1 0h0m0-3h0m11 0h0m6-7h0m2 4h0m3-2h0m4 1h0m1 3h0m16-3h0m-70 10h0m7 9h0m6-1h0m2-1h0m5-4h0m4 7h0m3-4h0m2 1h0m2 2h0m0-4h0m8-1h0m8-3h0m3 8h0m2-2h0m3-7h0m6 8h0m-60 10h0m1-3h0m15 2h0m13 0h0m7 4h0m5-9h0m0 2h0m-26 18h0m11-7h0m16 7h0m0-5h0" stroke="#50a5e7" stroke-width="3.4" stroke-linecap="square" fill="none"/>
<circle cx="302.27" cy="218.04" r="1.5" fill="#111"/>
<circle cx="304.18" cy="224.22" r="1.5" fill="#111"/>
<circle cx="346.54" cy="228.57" r="1.5" fill="#111"/>
<defs><linearGradient id="ptg" x1="0" x2="1" y1="0" y2="0"><stop offset="0" stop-color="#132b43"/><stop offset="1" stop-color="#56b1f7"/></linearGradient></defs>
<rect x="346.8" y="165.3" width="24.1" height="7.0" fill="url(#ptg)"/>
<text x="345.2" y="172.0" font-size="3" text-anchor="end" fill="#222">Pseudotime</text>
<text x="347.2" y="176.6" font-size="2.3" text-anchor="middle" fill="#333">0</text>
<text x="353.0" y="176.6" font-size="2.3" text-anchor="middle" fill="#333">5</text>
<text x="358.8" y="176.6" font-size="2.3" text-anchor="middle" fill="#333">10</text>
<text x="364.6" y="176.6" font-size="2.3" text-anchor="middle" fill="#333">15</text>
<text x="370.4" y="176.6" font-size="2.3" text-anchor="middle" fill="#333">20</text>
<path d="M258.5 288.8L258.5 405.5" stroke="#555" stroke-width="0.45"/>
<path d="M258.5 405.5L439.0 405.5" stroke="#555" stroke-width="0.45"/>
<path d="M260.5 405.5L260.5 406.4" stroke="#555" stroke-width="0.35"/>
<text x="260.5" y="409.1" font-size="2.8" text-anchor="middle" fill="#444">-10</text>
<path d="M303.0 405.5L303.0 406.4" stroke="#555" stroke-width="0.35"/>
<text x="303.0" y="409.1" font-size="2.8" text-anchor="middle" fill="#444">-5</text>
<path d="M345.5 405.5L345.5 406.4" stroke="#555" stroke-width="0.35"/>
<text x="345.5" y="409.1" font-size="2.8" text-anchor="middle" fill="#444">0</text>
<path d="M388.0 405.5L388.0 406.4" stroke="#555" stroke-width="0.35"/>
<text x="388.0" y="409.1" font-size="2.8" text-anchor="middle" fill="#444">5</text>
<path d="M430.5 405.5L430.5 406.4" stroke="#555" stroke-width="0.35"/>
<text x="430.5" y="409.1" font-size="2.8" text-anchor="middle" fill="#444">10</text>
<path d="M257.6 314.1L258.5 314.1" stroke="#555" stroke-width="0.35"/>
<text x="257.1" y="315.1" font-size="2.8" text-anchor="end" fill="#444">2.5</text>
<path d="M257.6 340.6L258.5 340.6" stroke="#555" stroke-width="0.35"/>
<text x="257.1" y="341.6" font-size="2.8" text-anchor="end" fill="#444">0.0</text>
<path d="M257.6 367.1L258.5 367.1" stroke="#555" stroke-width="0.35"/>
<text x="257.1" y="368.1" font-size="2.8" text-anchor="end" fill="#444">-2.5</text>
<path d="M257.6 393.6L258.5 393.6" stroke="#555" stroke-width="0.35"/>
<text x="257.1" y="394.6" font-size="2.8" text-anchor="end" fill="#444">-5.0</text>
<text x="348.8" y="410.5" font-size="2.8" text-anchor="middle" fill="#333">Component 1</text>
<text x="252.3" y="347.1" font-size="2.8" text-anchor="middle" fill="#333" transform="rotate(-90 252.3 347.1)">Component 2</text>
<path d="M309.8 299.3L307.7 313.0" stroke="#444" stroke-width="0.55"/>
<path d="M307.7 313.0L303.2 332.1" stroke="#444" stroke-width="0.55"/>
<path d="M292.8 326.3L303.2 332.1" stroke="#444" stroke-width="0.55"/>
<path d="M303.2 332.1L305.0 339.6" stroke="#444" stroke-width="0.55"/>
<path d="M305.0 339.6L291.9 352.3" stroke="#444" stroke-width="0.55"/>
<path d="M291.9 352.3L277.5 365.0" stroke="#444" stroke-width="0.55"/>
<path d="M305.0 339.6L324.2 341.1" stroke="#444" stroke-width="0.55"/>
<path d="M324.2 341.1L346.5 344.9" stroke="#444" stroke-width="0.55"/>
<path d="M346.5 344.9L377.8 343.8" stroke="#444" stroke-width="0.55"/>
<path d="M377.8 343.8L409.2 343.8" stroke="#444" stroke-width="0.55"/>
<path d="M409.2 343.8L427.1 344.3" stroke="#444" stroke-width="0.55"/>
<path d="M302.41 294.30 C303.12 293.46 305.71 293.08 306.82 292.84 C307.93 292.60 309.56 292.51 310.74 292.47 C311.91 292.44 314.33 292.43 315.63 292.60 C316.94 292.76 319.81 293.06 320.53 293.69 C321.25 294.33 321.15 296.37 321.02 297.35 C320.89 298.32 320.66 300.11 319.55 301.00 C318.44 301.90 314.26 303.32 312.69 304.05 C311.13 304.78 308.69 305.35 307.80 306.49 C306.91 307.62 306.43 310.47 306.04 312.58 C305.64 314.69 305.12 319.72 304.86 322.32 C304.60 324.92 304.33 330.77 304.08 332.07 C303.83 333.37 303.09 333.37 303.00 332.07 C302.91 330.77 303.33 324.92 303.39 322.32 C303.46 319.72 303.61 314.85 303.49 312.58 C303.37 310.30 302.77 307.05 302.51 305.27 C302.25 303.48 301.54 300.64 301.53 299.17 C301.52 297.71 301.71 295.15 302.41 294.30Z" fill="#4cccf1"/>
<path d="M289.68 323.54 C289.81 322.73 290.69 322.32 291.15 322.08 C291.61 321.84 292.33 321.36 293.11 321.71 C293.89 322.07 296.11 323.95 297.03 324.76 C297.94 325.57 299.25 327.08 299.96 327.81 C300.68 328.54 301.96 329.59 302.41 330.24 C302.87 330.89 303.72 332.31 303.39 332.68 C303.07 333.05 301.34 333.26 299.96 333.05 C298.59 332.83 294.42 331.75 293.11 331.10 C291.80 330.45 290.63 329.18 290.17 328.17 C289.71 327.17 289.55 324.35 289.68 323.54Z" fill="#b7a1ff"/>
<path d="M306.33 338.16 C306.98 338.62 307.21 340.19 305.84 341.82 C304.47 343.44 298.59 348.15 296.05 350.35 C293.50 352.54 288.38 356.56 286.74 358.27 C285.11 359.97 284.29 361.60 283.81 363.14 C283.32 364.68 283.45 368.38 283.12 369.84 C282.79 371.30 282.12 373.41 281.36 374.11 C280.60 374.80 278.49 375.08 277.44 375.08 C276.40 375.08 274.41 374.89 273.52 374.11 C272.64 373.33 271.23 370.78 270.78 369.23 C270.34 367.69 270.16 364.16 270.19 362.53 C270.23 360.91 270.63 358.14 271.08 357.05 C271.52 355.96 272.74 354.74 273.52 354.37 C274.31 353.99 276.04 354.00 276.95 354.25 C277.87 354.49 278.55 357.32 280.38 356.20 C282.21 355.07 287.92 348.21 290.66 345.84 C293.40 343.47 298.85 339.43 300.94 338.41 C303.03 337.38 305.68 337.71 306.33 338.16Z" fill="#a9da80"/>
<path d="M423.35 334.51 C423.85 333.45 425.38 331.95 426.29 331.46 C427.20 330.97 429.38 330.69 430.21 330.85 C431.03 331.02 432.09 331.71 432.46 332.68 C432.82 333.66 432.91 336.30 432.95 338.16 C432.99 340.03 432.91 344.58 432.75 346.69 C432.60 348.80 432.18 352.46 431.77 354.00 C431.37 355.55 430.32 357.78 429.72 358.27 C429.12 358.75 427.86 358.39 427.27 357.66 C426.68 356.93 425.83 354.41 425.31 352.78 C424.79 351.16 423.72 347.26 423.35 345.47 C422.99 343.69 422.57 340.84 422.57 339.38 C422.57 337.92 422.86 335.56 423.35 334.51Z" fill="#f9847c"/>
<path transform="scale(.25)" d="M1696 1306h0m11-2h0m4 11h0m-15 13h0m5 1h0m1-7h0m9 9h0m0-2h0m2-6h0m2 0h0m1 0h0m6 5h0m2-8h0m8 9h0m-345 11h0m9-6h0m2 5h0m7 3h0m3 1h0m13-2h0m20 0h0m22 2h0m8-1h0m2 0h0m8-1h0m52 2h0m69 0h0m35-7h0m13 6h0m1-5h0m8 6h0m0-5h0m4 3h0m11-4h0m1 5h0m1-3h0m5 0h0m0-1h0m3 0h0m2 5h0m1-11h0m9 0h0m4 1h0m1 8h0m1-8h0m6 3h0m1-1h0m1 7h0m1-1h0m0-5h0m1 4h0m1 3h0m2-6h0m0-1h0m1 0h0m0 6h0m1 0h0m1-1h0m0-6h0m3 0h0m2 6h0m1-3h0m1 3h0m2 0h0m3 0h0m0-2h0m2 0h0m2 0h0m0-7h0m0 8h0m-347 10h0m0-5h0m2 2h0m1 5h0m3 2h0m2-5h0m3-5h0m5 7h0m0-5h0m2 6h0m1-5h0m2 1h0m4 4h0m3-3h0m0 5h0m5-9h0m1 10h0m0-5h0m5-1h0m1-5h0m3 7h0m2-1h0m7 0h0m0-5h0m1 9h0m1-8h0m1 5h0m6 3h0m1-5h0m2-5h0m1 10h0m0-5h0m9 3h0m2 1h0m1-5h0m3 3h0m2-4h0m5 5h0m2 3h0m3-1h0m2-9h0m4 2h0m1 4h0m1 2h0m7-1h0m2-7h0m1 5h0m1 5h0m3-2h0m5-1h0m3 1h0m3-4h0m1 4h0m10 2h0m2 0h0m3-2h0m0-5h0m5 4h0m2-5h0m57 3h0m5-1h0m1 5h0m2-2h0m2-4h0m2-3h0m1 10h0m0-5h0m3 2h0m3 3h0m0-5h0m3 1h0m2 1h0m1-5h0m2 3h0m2 5h0m2-4h0m4 3h0m4 0h0m0-10h0m2 5h0m5 6h0m0-5h0m1-4h0m2 2h0m1 5h0m2-3h0m0-5h0m1 10h0m1-6h0m1 5h0m1-10h0m2 8h0m1-5h0m2 5h0m0-5h0m3 3h0m1 5h0m2-2h0m5-7h0m2 5h0m2-6h0m1 10h0m0-5h0m2 4h0m1-10h0m2 5h0m2 3h0m1-8h0m1 10h0m1-5h0m1 5h0m1-10h0m0 8h0m2-4h0m1 5h0m1-3h0m1-6h0m1 6h0m0-5h0m1 9h0m4 1h0m3-4h0m0-7h0m0 9h0m1-7h0m0 9h0m2-4h0m0-5h0m0 7h0m1 0h0m2 2h0m0-2h0m1-4h0m0 3h0m1 3h0m0-1h0m0-5h0m1-5h0m1 0h0m1 2h0m0 8h0m1-8h0m0 9h0m1-1h0m1-5h0m3 2h0m1-5h0m0 8h0m2-8h0m1 5h0m0 1h0m1-4h0m1 4h0m0-5h0m0 2h0m1 1h0m1 4h0m0-10h0m0 9h0m1-6h0m0-2h0m1 4h0m2 5h0m0-2h0m3 0h0m1-3h0m2 5h0m0-10h0m2 10h0m2-6h0m0 7h0m0-1h0m-345 8h0m2-5h0m2 6h0m3-6h0m2 9h0m1-5h0m2-5h0m1 5h0m0-5h0m3 11h0m1-10h0m1 5h0m1-5h0m1 10h0m0-5h0m1 4h0m1-10h0m3 3h0m1 5h0m2-2h0m0-5h0m1 10h0m4-2h0m0-5h0m2 7h0m0-5h0m1-5h0m2 6h0m3-2h0m1-5h0m2 9h0m0-5h0m2 2h0m2-5h0m3 7h0m3-8h0m3 8h0m2-6h0m1 5h0m3-4h0m2 3h0m1-4h0m0 9h0m2-1h0m1-5h0m3 1h0m0 5h0m2-4h0m0-5h0m2-2h0m2 9h0m2-9h0m3 10h0m0-10h0m2 5h0m2 3h0m0-5h0m3 5h0m0-5h0m3 1h0m3 1h0m0-5h0m1 10h0m2-3h0m1 4h0m1-4h0m0-5h0m1 0h0m4 8h0m0-5h0m2-1h0m0 4h0m2 3h0m1-9h0m4 5h0m2-2h0m0-5h0m1 10h0m3 1h0m0-5h0m0-5h0m3 6h0m1-5h0m1 8h0m1-5h0m3 4h0m0-5h0m3 5h0m0-5h0m2 5h0m1-5h0m3 3h0m2-7h0m2 5h0m1-4h0m1 10h0m0-5h0m58 2h0m1-5h0m2 2h0m2-2h0m1 5h0m4-7h0m2 3h0m1 5h0m3-8h0m4 3h0m1-4h0m0 10h0m1-5h0m3 6h0m1-7h0m2 5h0m2 0h0m1-4h0m3-2h0m3 4h0m1-5h0m1 1h0m1 5h0m2 3h0m0-5h0m1-5h0m2 8h0m1-5h0m3-2h0m1 5h0m0 4h0m2-7h0m3-1h0m3 3h0m0-5h0m3 9h0m0-5h0m0-5h0m2 9h0m4-2h0m3 3h0m1-5h0m1 0h0m2-5h0m2 9h0m1-5h0m2-1h0m2 4h0m1 3h0m1-4h0m0-5h0m3 6h0m1-4h0m1 5h0m2-5h0m2 4h0m1-5h0m2 8h0m1-7h0m0 5h0m1-4h0m4 6h0m1 0h0m1-1h0m0-2h0m0-6h0m1 10h0m0-5h0m0-2h0m0 4h0m1-5h0m0 3h0m0 4h0m1-1h0m0-6h0m1-1h0m0-2h0m2 10h0m0-5h0m2-5h0m0 4h0m0-3h0m1 6h0m0-5h0m0 9h0m0-6h0m0-5h0m0 8h0m1 3h0m0-1h0m0-6h0m1 3h0m0 4h0m1-6h0m1 4h0m0-5h0m0-1h0m0 4h0m0-6h0m2 1h0m0-1h0m0 9h0m0-10h0m1 4h0m1-3h0m0 6h0m1 3h0m0-5h0m0 4h0m0-1h0m1-1h0m0 3h0m1 1h0m0-3h0m1 3h0m0-6h0m1 5h0m0-6h0m0-1h0m0-2h0m1 1h0m0 3h0m0-2h0m0 4h0m1-4h0m0 4h0m0 4h0m1-2h0m0-1h0m0 3h0m1 0h0m1-5h0m0-1h0m0-5h0m1 5h0m0-1h0m1-2h0m0 4h0m0 4h0m1-4h0m1-6h0m1 8h0m0 2h0m2-6h0m2 4h0m1-1h0m0-5h0m0 4h0m0 4h0m0-5h0m0-1h0m2-3h0m-344 19h0m1-5h0m2 7h0m0-5h0m0-5h0m7 8h0m0-5h0m1 0h0m2 5h0m2 0h0m6 0h0m0-5h0m3 3h0m0-5h0m1 9h0m1-6h0m2 5h0m2-2h0m0-5h0m5 2h0m2 1h0m0-5h0m4 7h0m0-5h0m4 2h0m5 7h0m0-5h0m5 0h0m0-5h0m1 10h0m2-11h0m6 9h0m1-5h0m3 3h0m0-4h0m5-3h0m0 4h0m1 5h0m3-2h0m0-5h0m2 6h0m0-5h0m4 5h0m0-5h0m3-2h0m0 10h0m0-5h0m2-5h0m1 5h0m0 5h0m7-3h0m0-5h0m1 1h0m2 5h0m2-9h0m1 5h0m6 6h0m2-2h0m3 1h0m0-5h0m1-5h0m3 3h0m2 6h0m1-5h0m2 6h0m0-5h0m1-5h0m3 8h0m0-5h0m2 4h0m1-5h0m2 5h0m7-2h0m0-5h0m1 10h0m3-7h0m0 4h0m2 2h0m1-5h0m58-3h0m2 7h0m1-5h0m1-3h0m7 11h0m1-9h0m0 4h0m2 3h0m1-5h0m3 7h0m0-5h0m0-5h0m3 2h0m1 5h0m2-4h0m4-2h0m3 0h0m2 9h0m0-5h0m0-5h0m3-1h0m0 9h0m1-4h0m7-1h0m0 3h0m1-5h0m3 7h0m0-5h0m3-2h0m0 4h0m3-1h0m5-2h0m2 5h0m1-6h0m1 5h0m3 2h0m1-9h0m0 4h0m2 3h0m0-5h0m2 6h0m3-5h0m1 4h0m1-5h0m3 3h0m0 5h0m6-9h0m1 9h0m0-5h0m1-4h0m0 9h0m0-4h0m5 4h0m0-1h0m5 0h0m1-3h0m1 5h0m0-10h0m2 3h0m0 4h0m0-2h0m1 5h0m2-7h0m1 1h0m0-2h0m2 8h0m0-5h0m1 4h0m0-5h0m0-2h0m1-3h0m0 9h0m0 2h0m0-1h0m1-3h0m0-2h0m0-1h0m0 4h0m1-8h0m0 6h0m1-6h0m0 3h0m0 3h0m1-5h0m0 3h0m1 0h0m0-1h0m1 3h0m0 4h0m1-8h0m0-2h0m1 0h0m0 2h0m0 4h0m1-2h0m1 2h0m0 2h0m1-4h0m0-1h0m0 4h0m0 4h0m0-5h0m0-5h0m0 4h0m1-3h0m0 9h0m0-5h0m0 3h0m1-9h0m0 4h0m0-1h0m1 4h0m1 3h0m0-10h0m1 4h0m0 7h0m0-10h0m0-1h0m1 6h0m0 3h0m0-6h0m1-1h0m0 8h0m1-1h0m0-6h0m0 8h0m0-5h0m0-5h0m1 10h0m0-10h0m0 3h0m0 4h0m0-5h0m1 1h0m0-4h0m1 5h0m1 1h0m0-5h0m0 8h0m1-2h0m0-1h0m0 4h0m1-2h0m1-6h0m0 8h0m0-5h0m0 3h0m1 1h0m1-1h0m0-1h0m4-4h0m0 8h0m-344 2h0m3 2h0m12 3h0m1-5h0m5 5h0m0-5h0m3 2h0m3-1h0m6 5h0m1 4h0m15-2h0m0-5h0m7 0h0m8 3h0m0-5h0m3 3h0m1-5h0m9 10h0m2-9h0m4 0h0m3 3h0m6 2h0m2 4h0m1-4h0m0-5h0m18 7h0m2-7h0m4 1h0m4 1h0m2-3h0m1 10h0m0-5h0m2-5h0m13 5h0m1 5h0m76-9h0m0 10h0m0-5h0m1-2h0m4 1h0m2-4h0m2 0h0m2 8h0m1-4h0m1-5h0m8 7h0m1-5h0m8 3h0m0-5h0m3 7h0m3-5h0m3 6h0m0-5h0m6 8h0m1-5h0m0-5h0m2 4h0m0-5h0m2 9h0m1-7h0m1 5h0m3-7h0m0 5h0m2 0h0m0 5h0m3-1h0m1-9h0m1 4h0m2-1h0m7 4h0m2-4h0m0-1h0m8 7h0m1-1h0m2 0h0m0 3h0m0-10h0m1 10h0m1-5h0m1 2h0m0 3h0m1-9h0m0 2h0m0 3h0m2-1h0m0-5h0m1 9h0m0-5h0m0-5h0m0 4h0m0 4h0m1-4h0m1 3h0m0 3h0m1-4h0m0-6h0m0 4h0m1-2h0m0 4h0m0-5h0m0 4h0m1 2h0m1 2h0m1-5h0m0 3h0m0 4h0m0-10h0m1 0h0m0 4h0m0-5h0m0 4h0m0 4h0m1-5h0m0 4h0m0-6h0m0 3h0m1 4h0m0-7h0m1 5h0m0-1h0m1 3h0m0 2h0m0-10h0m1 2h0m0 3h0m1-4h0m0 1h0m1 7h0m1-8h0m0 9h0m0-2h0m0-6h0m1 4h0m0 2h0m1-8h0m0 9h0m0-2h0m0-5h0m0-1h0m0 4h0m1 6h0m0-2h0m1 0h0m1 0h0m0-4h0m1 6h0m0-1h0m0-6h0m0-1h0m1 1h0m0 4h0m0 3h0m0-10h0m0-1h0m1 1h0m0 4h0m0 4h0m0-2h0m0-5h0m1 0h0m0 4h0m0-5h0m0 2h0m1 5h0m0-1h0m0 4h0m0-5h0m0 4h0m0-10h0m1 6h0m0 2h0m1-6h0m0 4h0m0-6h0m1 3h0m0 7h0m1-1h0m3-7h0m0 9h0m1-1h0m0-5h0m1-5h0m0 7h0m-341 6h0m0 4h0m29 4h0m2-5h0m30 1h0m1-5h0m0 9h0m48-3h0m10 4h0m2-2h0m1-5h0m16 5h0m72 2h0m4-6h0m11-2h0m11-2h0m10 5h0m2 5h0m6-4h0m0-5h0m5 7h0m0-5h0m3 4h0m0-5h0m2 3h0m1 5h0m3-2h0m1-5h0m2 5h0m0-5h0m3-1h0m3 4h0m2-5h0m5 9h0m1-1h0m7-8h0m3 7h0m1 2h0m1-6h0m0 6h0m1-7h0m2 7h0m2-8h0m0-1h0m2 9h0m0-6h0m0 4h0m0-5h0m1 8h0m0-11h0m1 8h0m1-2h0m0-5h0m0 1h0m1 5h0m0 4h0m0-5h0m0 4h0m1-9h0m0-1h0m1 6h0m0-6h0m1 9h0m0-5h0m0 4h0m0-5h0m1 3h0m0-5h0m0 2h0m1 5h0m0-6h0m0 4h0m0-5h0m0-1h0m1 8h0m0 3h0m0-5h0m0-5h0m0 9h0m0-5h0m1 4h0m0-1h0m0-1h0m1 2h0m0 1h0m1-1h0m0-6h0m1 8h0m0-10h0m0 3h0m1 4h0m0-5h0m0 4h0m0-1h0m1-1h0m0-1h0m0 4h0m1 2h0m1-3h0m0-5h0m0 3h0m1-5h0m1 4h0m0 4h0m0-5h0m0-1h0m0-2h0m1 9h0m0-5h0m0 3h0m0 4h0m1-9h0m0 4h0m2 4h0m1-1h0m2-9h0m0 4h0m1-1h0m1 2h0m1 3h0m1-2h0m5-4h0m0 9h0m0-11h0m0 8h0m0-5h0m-218 10h0m124 1h0m2 5h0m12-1h0m2 4h0m0-5h0m0-5h0m10 1h0m8 3h0m16 2h0m2-6h0m1 2h0m0 3h0m1-3h0m2 3h0m0 1h0m0-5h0m1 5h0m0 3h0m3-3h0m0-1h0m0-2h0m1 5h0m0-2h0m0-5h0m2 9h0m0-10h0m1 0h0m0 7h0m0-6h0m0 4h0m2-2h0m1 2h0m0-1h0m0 4h0m0-2h0m1 3h0m0-6h0m0 4h0m1 2h0m0-5h0m0 2h0m1 5h0m0-10h0m0 8h0m0-5h0m1 3h0m0 3h0m0-10h0m0 4h0m1 1h0m1 1h0m0-1h0m1-2h0m0 4h0m0-7h0m1 0h0m0 4h0m0-3h0m1 0h0m0-1h0m0 3h0m1 4h0m1 3h0m0-6h0m2-2h0m1-1h0m0 9h0m1-5h0m0-5h0m2 2h0m0 1h0m1 6h0m0 1h0m2 1h0m1-2h0m0-2h0m0-1h0m2-1h0m0 3h0m4 0h0m0-5h0m0-1h0m0-2h0m-60 20h0m19 2h0m2-9h0m1 3h0m1 2h0m0-5h0m3 10h0m0-5h0m2-4h0m1 0h0m0 4h0m1-6h0m0 9h0m0-7h0m2 1h0m2 1h0m1-4h0m1 8h0m1 2h0m1 1h0m0-1h0m0-7h0m2 6h0m1 2h0m0-3h0m1 3h0m1-11h0m0 8h0m2-4h0m1 2h0m0-2h0m3 1h0m1-5h0m2 7h0m1 4h0m4-6h0m3 5h0m0-5h0m0-3h0m-48 13h0m5 0h0m2 0h0m5 0h0m4 7h0m3-9h0m0 8h0m0-7h0m1 3h0m4-4h0m4 4h0m0 2h0m2 2h0m0-5h0m2-3h0m0 4h0m1-4h0m2 6h0m-23 7h0m1-1h0m1 0h0m9 9h0m4-10h0m4 0h0m3 10h0m6-8h0m-32 12h0m10 8h0m8-9h0" stroke="#f8766d" stroke-width="3.4" stroke-linecap="square" fill="none"/>
<path transform="scale(.25)" d="M1365 1391h0m7-9h0m4 5h0m0-3h0m1 0h0m0 2h0m7 5h0m0-8h0m2 1h0m1 6h0m3-2h0m1 2h0m0-3h0m1 1h0m1-1h0m0-1h0m1 1h0m0 4h0m1-8h0m-23 9h0m8 4h0m0 4h0m0 2h0m1-1h0m1-7h0m1 2h0m2 0h0m0 4h0m0-3h0m1 6h0m0-1h0m0-10h0m2 9h0m1-2h0m0-7h0m0 9h0m1 1h0m0 1h0m1-9h0m1 0h0m0 2h0m0-3h0m1 0h0m3-1h0m2 9h0m2-2h0m-26 6h0m5 10h0m0-5h0m1 1h0m0-7h0m0 4h0m1 0h0m0 4h0m1-3h0m1 6h0m2-4h0m0 1h0m0 2h0m0-5h0m1 0h0m1 3h0m2-6h0m0 6h0m0-7h0m1 2h0m0 6h0m2-5h0m2-2h0m2 1h0m-22 17h0m1-8h0m1 4h0m1-3h0m1 4h0m0 4h0m1-2h0m0-5h0m2 2h0m1 5h0m1 2h0m1-10h0m1 0h0m0 9h0m0-3h0m1-2h0m0-3h0m0 9h0m0-5h0m1 0h0m0-1h0m0 6h0m1-4h0m0-7h0m1 9h0m3-3h0m1-5h0m1 7h0m1 2h0m0-4h0m9 1h0m-21 5h0m1 1h0m1 0h0m1 0h0m15 0h0" stroke="#fb61d7" stroke-width="3.4" stroke-linecap="square" fill="none"/>
<path transform="scale(.25)" d="M1231 1341h0m6 0h0m27 2h0m-41 8h0m1-5h0m3 7h0m0-6h0m0 2h0m1 3h0m3-8h0m1 10h0m2-6h0m1 5h0m1-7h0m1 5h0m1 0h0m1-5h0m2 6h0m1-4h0m1 5h0m1-1h0m0-5h0m2 7h0m3-2h0m0-5h0m2 6h0m2-8h0m0 9h0m1-3h0m0-2h0m1-3h0m2 7h0m4-7h0m0 9h0m0-4h0m1 0h0m3-3h0m0 5h0m2-2h0m3 1h0m1-5h0m2 3h0m1 5h0m2-3h0m0-5h0m2 5h0m2 0h0m4 3h0m1-1h0m2-4h0m1 5h0m4-1h0m0-5h0m1 6h0m0-5h0m2 5h0m4 0h0m3-1h0m1-4h0m4 1h0m4 3h0m11 1h0m0-5h0m9 4h0m4 0h0m1 0h0m-112 7h0m0-5h0m1 7h0m1-5h0m1 9h0m1-10h0m1-1h0m0 4h0m0 2h0m1 3h0m2-1h0m0-5h0m3-1h0m1 8h0m1-5h0m0-5h0m0 10h0m1-5h0m0-5h0m1 11h0m0-10h0m1 5h0m3 5h0m1-10h0m0 9h0m1-5h0m1 3h0m2-3h0m0-5h0m0 3h0m1-1h0m0 8h0m2-3h0m2-4h0m1 2h0m1 5h0m0-10h0m1 7h0m2-5h0m0 7h0m4-4h0m0 4h0m1-9h0m2 7h0m1-5h0m0 3h0m1 5h0m0-10h0m1 3h0m1 5h0m2 2h0m1-4h0m0-5h0m0 8h0m1-5h0m2-3h0m0 9h0m1-9h0m0 4h0m1 1h0m1 5h0m1 0h0m0-10h0m1 5h0m0-5h0m3 2h0m2 5h0m3-4h0m1 5h0m2-7h0m1 5h0m1-3h0m1 5h0m1-6h0m1 8h0m0-5h0m3-5h0m0 8h0m2-1h0m0-5h0m0 1h0m2 0h0m1 5h0m1 0h0m1-9h0m1 10h0m0-5h0m0-1h0m2-2h0m1 4h0m1-3h0m1 5h0m1-1h0m2-4h0m1 0h0m1-2h0m1 9h0m0-5h0m1 2h0m3-3h0m2 7h0m0-5h0m1-1h0m1 5h0m0-10h0m3 6h0m1 2h0m0-5h0m2 0h0m2 0h0m0 4h0m2 1h0m0-5h0m2 1h0m1 7h0m1-5h0m2-3h0m0 4h0m2-2h0m5 5h0m2-1h0m0-5h0m1 4h0m1-5h0m0 4h0m2-5h0m1 8h0m0-5h0m1 0h0m2-5h0m2 7h0m1-3h0m1 5h0m2 2h0m1 0h0m0-5h0m1 0h0m2-4h0m1 5h0m1-2h0m4 2h0m4-1h0m0-5h0m2 6h0m2 0h0m3 1h0m-162 6h0m1 8h0m0-5h0m1-5h0m1 9h0m2-2h0m1-5h0m2 9h0m0-10h0m2 9h0m1-10h0m1 7h0m0-5h0m5 2h0m0 4h0m1 1h0m1-5h0m2 2h0m1 4h0m1-9h0m1 7h0m1-5h0m1 2h0m2 1h0m1-5h0m2 2h0m1 5h0m1-3h0m0-5h0m1 11h0m1-5h0m2-4h0m1 5h0m3-2h0m0-5h0m0 9h0m1-6h0m0 4h0m2 4h0m1-5h0m2-3h0m1 4h0m2 4h0m1-3h0m0-5h0m2 5h0m1-5h0m1 1h0m1 5h0m1-5h0m1 5h0m1-8h0m1 10h0m0-5h0m1 5h0m1-5h0m0-5h0m1 6h0m1-5h0m1 0h0m1 8h0m0-5h0m1-5h0m0 7h0m2-5h0m1 5h0m1-1h0m0-5h0m1 10h0m1-2h0m2-7h0m4 4h0m1 5h0m3-8h0m1 4h0m2-2h0m0 4h0m0-5h0m2-3h0m0 9h0m1-5h0m1-5h0m1 1h0m1 10h0m1-5h0m1 2h0m2 2h0m0-5h0m0-5h0m2 2h0m0 9h0m0-5h0m1-2h0m3 4h0m0-5h0m2 6h0m1-9h0m0 4h0m1 6h0m1-5h0m1 1h0m0 4h0m1-9h0m0 9h0m0-5h0m0-5h0m3 6h0m0-5h0m0 9h0m1-8h0m1 5h0m1-3h0m2 1h0m0 4h0m1 1h0m1-7h0m2 5h0m1 3h0m1-5h0m0-5h0m3 1h0m1 8h0m1-4h0m1 4h0m0-9h0m2 7h0m0-8h0m1 3h0m2 0h0m1 5h0m1-8h0m1 10h0m0-5h0m1-3h0m0 9h0m1-5h0m2-2h0m0 4h0m2-4h0m2-4h0m0 9h0m0-5h0m1-1h0m2 5h0m1 2h0m1-5h0m0-5h0m1 0h0m1 7h0m0 3h0m1-8h0m0 9h0m1-2h0m2-4h0m1 5h0m1 0h0m1-10h0m0 5h0m2 0h0m0-5h0m-161 22h0m0-10h0m1 5h0m2 6h0m0-9h0m1 4h0m2-6h0m3 3h0m1 4h0m0-5h0m6 4h0m0-5h0m2 6h0m1-5h0m6 5h0m2-5h0m1 2h0m2 6h0m1-10h0m1 2h0m2 5h0m0 2h0m1-5h0m5 3h0m0-5h0m2-2h0m1 5h0m2 3h0m0-4h0m2 7h0m0-5h0m1-5h0m0 3h0m6-2h0m0 4h0m0-5h0m4 10h0m0-5h0m1-2h0m2 0h0m2 1h0m0 4h0m1-9h0m2 0h0m1 8h0m1-5h0m2-3h0m1 4h0m1 7h0m2-10h0m0 4h0m1-5h0m0 9h0m4-5h0m1-4h0m0 9h0m1 1h0m0-5h0m2 5h0m0-10h0m1 5h0m2-3h0m1 1h0m0 4h0m3 1h0m0-5h0m2 6h0m0-5h0m3 3h0m1-5h0m2 7h0m0-5h0m4-4h0m1 5h0m0 6h0m0-5h0m2-5h0m0 7h0m2-5h0m1 5h0m0-5h0m2 5h0m0-5h0m4-3h0m0 4h0m1-2h0m3 6h0m0-5h0m2 3h0m1-5h0m1 3h0m0 4h0m1 2h0m0-10h0m3 0h0m2 8h0m1-5h0m1 5h0m1-7h0m2 5h0m1 0h0m0 5h0m1 0h0m1-3h0m0-7h0m2 8h0m1-5h0m4 2h0m0-5h0m2 1h0m1 8h0m0-5h0m1-5h0m3 3h0m3 6h0m0-5h0m2 3h0m0-5h0m0 9h0m1-8h0m2-1h0m1 5h0m3-4h0m-158 18h0m0-5h0m5-4h0m8 0h0m1 4h0m1 5h0m10-6h0m1 5h0m2-8h0m1 10h0m0-5h0m2 2h0m0-5h0m5 8h0m0-5h0m0-5h0m2 3h0m1 5h0m4 1h0m0-5h0m6 5h0m0-5h0m4 5h0m1-2h0m1-5h0m0 9h0m4-4h0m3-6h0m7 8h0m0-5h0m4 7h0m0-10h0m2 5h0m1 1h0m0-5h0m2 1h0m2 5h0m1-8h0m0 9h0m2-4h0m1-4h0m3 0h0m4 9h0m0-10h0m9 4h0m4 2h0m2-5h0m5-1h0m1 9h0m0-5h0m2 2h0m0-5h0m1 9h0m3 1h0m0-5h0m1-5h0m1 2h0m2 0h0m1 4h0m2 4h0m0-5h0m0-5h0m3 3h0m1 4h0m6-6h0m3 7h0m0-5h0m4-1h0m3-2h0m0 9h0m0-5h0m3-3h0m2 2h0m0 3h0m1 2h0m2-9h0m3 6h0m0-6h0m-157 14h0m15 5h0m0-5h0m13 4h0m0-5h0m0 10h0m2-3h0m0-5h0m9 5h0m2-2h0m3 5h0m0-5h0m0-5h0m5 1h0m2 9h0m0-5h0m2-4h0m2 2h0m4 1h0m1-5h0m14 9h0m0-5h0m2 1h0m0-5h0m1 9h0m4-3h0m0-5h0m3 6h0m0-5h0m9 1h0m1 5h0m6-6h0m1 5h0m14 1h0m2-5h0m2 1h0m4-4h0m1 9h0m23-6h0m2 7h0m1-5h0m2-3h0m5 1h0m1 5h0m-156 4h0m12 0h0m14 3h0m1 2h0m0 3h0m14-4h0m1 5h0m12-2h0m17-5h0m1 5h0m5-5h0m4 3h0m0-5h0m0 10h0m18-10h0m14 6h0m0-5h0m1 10h0m33-4h0m1-5h0m1-2h0m0 5h0m1 5h0m6 1h0m0-5h0m0-5h0m-131 12h0m48-1h0m39 9h0m1-5h0m34 1h0m1 5h0m1-10h0m1 2h0m1 5h0m-2 13h0m0-5h0" stroke="#c49a00" stroke-width="3.4" stroke-linecap="square" fill="none"/>
<path transform="scale(.25)" d="M1231 1154h0m25 9h0m-38 9h0m6 2h0m13-6h0m0-2h0m21 7h0m9 2h0m1 0h0m9-5h0m14-6h0m-72 13h0m1 7h0m1 2h0m1-9h0m3 6h0m2 1h0m2-5h0m1 3h0m1 3h0m0-1h0m1 0h0m1 1h0m3 1h0m0-10h0m1 3h0m1 5h0m0-2h0m1 3h0m3-2h0m2 4h0m1-2h0m0-6h0m1-1h0m1 4h0m0-5h0m2 8h0m2-1h0m1 2h0m1-2h0m2 2h0m0-1h0m2 1h0m2-2h0m1 1h0m1-1h0m0-8h0m3 4h0m1 4h0m0-2h0m2-1h0m2 5h0m3-1h0m1-4h0m1-4h0m2 2h0m11 8h0m4-2h0m5-1h0m-99 12h0m9-4h0m4 4h0m3-2h0m6 2h0m1 0h0m1 2h0m3 0h0m1 1h0m1-2h0m1-6h0m1 3h0m0 4h0m1-10h0m0 2h0m3 8h0m0-1h0m0-2h0m1 1h0m0-5h0m0 8h0m0-5h0m0 3h0m1-6h0m1 8h0m0-10h0m0-1h0m4 7h0m1 0h0m0 4h0m1-4h0m0-1h0m0-2h0m1 4h0m0-6h0m0 8h0m1-10h0m0 4h0m1-1h0m0-1h0m0 7h0m1 2h0m0-5h0m0-5h0m0 8h0m1 2h0m0-1h0m0-5h0m0-5h0m1 8h0m0 2h0m0-5h0m1-4h0m0-1h0m0 4h0m0-2h0m1 1h0m0 4h0m0-6h0m1 7h0m1-2h0m0 3h0m0-2h0m0-5h0m1 6h0m0-8h0m1 5h0m0 4h0m0-2h0m1-6h0m0 7h0m1-5h0m0-1h0m0 8h0m0-6h0m1 5h0m1-2h0m0 4h0m1 0h0m0-10h0m1 2h0m1 8h0m1-6h0m1 5h0m1 0h0m0-5h0m0-1h0m1 7h0m1-9h0m5 0h0m1 2h0m1-3h0m1 10h0m0-1h0m2-1h0m0-3h0m2-3h0m0-1h0m3 4h0m3 2h0m2-6h0m4 9h0m7-11h0m-92 13h0m2-1h0m1 9h0m2-5h0m1 2h0m1-1h0m1 4h0m1-5h0m1 4h0m2-6h0m1 0h0m1 6h0m0-2h0m1-4h0m1 0h0m2 2h0m0-2h0m1-1h0m1 3h0m1 6h0m2 0h0m1 1h0m0-1h0m0-5h0m0-1h0m0-2h0m1 8h0m1-9h0m0 9h0m0-1h0m1 2h0m0-11h0m0 3h0m2 6h0m0-1h0m0-6h0m0 9h0m1-4h0m0 2h0m1 2h0m0-5h0m1-5h0m0 4h0m0 3h0m0-5h0m1 7h0m0-5h0m1 1h0m0 3h0m1-8h0m0 7h0m1-6h0m0 4h0m0-2h0m1-4h0m0 4h0m0 2h0m1 3h0m0-1h0m1-1h0m0 4h0m0-1h0m0-5h0m1-5h0m0 7h0m0 4h0m1-9h0m0-2h0m1 11h0m2-5h0m0 4h0m1-9h0m0 4h0m0-5h0m0 4h0m0 4h0m1-2h0m0 2h0m2-6h0m1 1h0m0-2h0m0 3h0m1 1h0m0-1h0m1 2h0m0-2h0m0-1h0m0-1h0m1 6h0m0-1h0m0-6h0m1 7h0m0-7h0m1 7h0m0-6h0m1 1h0m0-1h0m1 4h0m0 3h0m2-1h0m2-8h0m1 7h0m1-5h0m0 4h0m1-6h0m3 7h0m2-5h0m2 8h0m0-6h0m7 2h0m1 3h0m-77 3h0m8 9h0m3-9h0m2 2h0m3 9h0m3-5h0m1-4h0m0-1h0m1 2h0m2 7h0m0-5h0m1-4h0m0 3h0m1-3h0m0-1h0m0 3h0m2 5h0m1-3h0m0-1h0m1 4h0m0-5h0m2-2h0m1 7h0m0-2h0m1-5h0m0 9h0m0-6h0m0 3h0m2-6h0m0 4h0m0-3h0m0 9h0m1-9h0m0 3h0m0-2h0m1 5h0m1-2h0m0-5h0m0 3h0m0-2h0m3 4h0m1 2h0m1 0h0m2-3h0m1-1h0m0 3h0m1 2h0m2 1h0m0-8h0m1 4h0m0-6h0m0 4h0m2 7h0m1-4h0m1-1h0m1-4h0m1 2h0m0 2h0m1-6h0m4 8h0m3 1h0m6-9h0m0 2h0m3-1h0m4 10h0m-76 7h0m4 4h0m13-10h0m2 2h0m2-1h0m0-1h0m3 3h0m1 7h0m0-2h0m0-6h0m0 9h0m1-3h0m0-1h0m0 4h0m0-6h0m2 1h0m1-4h0m2 9h0m0-3h0m1-5h0m6-1h0m4 5h0m5-5h0m2-2h0m5 0h0m1 2h0m25 0h0m-61 13h0m4-3h0m0 9h0m0-2h0m0-6h0m0 9h0m1 0h0m0-2h0m0-2h0m1-1h0m1-5h0m0 2h0m0 4h0m1-6h0m0 9h0m0-5h0m1-1h0m0 3h0m0-5h0m2 2h0m63 0h0m-76 19h0m1-1h0m2-8h0m0 10h0m1-3h0m0-5h0m1 1h0m0 3h0m0-6h0m1 1h0m2 0h0m1 0h0m0 2h0m1-2h0m2 1h0m0 6h0m-14 5h0m1 4h0m1 4h0m1-8h0m2 1h0m1 7h0m0-5h0m0 4h0m0-5h0m0-1h0m1 0h0m0-3h0m1 3h0m0 1h0m0 4h0m2-5h0m0 1h0m2-2h0m-12 17h0m0 4h0m1-4h0m0-1h0m1 3h0m0-1h0m0 3h0m1-4h0m0-7h0m1 8h0m1-3h0m0-5h0m0 11h0m1-4h0m0-1h0m1-1h0m-9 13h0m1-4h0m0 4h0m0-5h0m0 9h0m1-7h0m0 7h0m0-5h0m1 5h0m0-2h0m1-5h0m1-2h0m0 9h0m1-10h0m0 2h0m-8 20h0m1-4h0m2-4h0m0 8h0m1-2h0m0-5h0m1-1h0m1 0h0m1-2h0m0 3h0m-12 11h0m2 8h0m1 1h0m0-5h0m0-6h0m1 2h0m0 4h0m0-2h0m1-2h0m0-1h0m1 5h0m1 1h0m0-6h0m1 7h0m1-8h0m-10 23h0m2-7h0m1-2h0m0 4h0m0-5h0m1-1h0m1 4h0m0 3h0m-4 5h0m5 1h0" stroke="#00b6eb" stroke-width="3.4" stroke-linecap="square" fill="none"/>
<path transform="scale(.25)" d="M1161 1294h0m3-2h0m7 1h0m2 0h0m16 0h0m9 1h0m2-3h0m-46 11h0m6 2h0m1-7h0m4 1h0m0 8h0m0-10h0m2 3h0m1 0h0m0 8h0m1-8h0m1 8h0m0-3h0m3-1h0m2 0h0m1-1h0m0 2h0m0 2h0m1 1h0m1-7h0m1 6h0m0-5h0m0 4h0m1-5h0m0 4h0m1-3h0m1 3h0m0 2h0m1-4h0m0 4h0m2-5h0m0-3h0m0 9h0m0-3h0m0-7h0m1 7h0m1 1h0m1-4h0m3 6h0m1-11h0m2 2h0m0 9h0m1 0h0m0-4h0m1 1h0m7-7h0m1 3h0m3-3h0m5 10h0m-72 7h0m13-6h0m5 10h0m1-9h0m0 2h0m0-3h0m4 0h0m0 8h0m3-6h0m1 1h0m1 0h0m1-3h0m0 2h0m1 1h0m0 4h0m0-7h0m0 2h0m1 4h0m2-1h0m0-4h0m1 3h0m0 2h0m0 4h0m0-7h0m0-3h0m2 1h0m1 4h0m0 1h0m0-5h0m2 1h0m0 6h0m2 3h0m1-10h0m0-1h0m1 2h0m2-2h0m0 2h0m0-1h0m1 0h0m1 10h0m0-9h0m2 7h0m1 1h0m0-4h0m1 4h0m0-3h0m0-7h0m2 10h0m0-8h0m1 2h0m1 1h0m1 6h0m2-8h0m1 7h0m1-8h0m0 6h0m0 2h0m3-7h0m3-2h0m2 9h0m-42 10h0m4-2h0m4 0h0m1-6h0m7 0h0m3 0h0m3 4h0m6 0h0m6-3h0m0 4h0m0 2h0m1 2h0m0-5h0m0 2h0m1-6h0m1 6h0m1-5h0m0 10h0m2-5h0m1-1h0m0 4h0m1-8h0m1 1h0m0 2h0m0 2h0m0 1h0m1-6h0m0 7h0m1 3h0m1-6h0m2-2h0m-4 11h0" stroke="#a58aff" stroke-width="3.4" stroke-linecap="square" fill="none"/>
<path transform="scale(.25)" d="M1119 1356h0m88 10h0m1 1h0m2-1h0m0 1h0m1 0h0m1-3h0m0 3h0m1 0h0m1-3h0m1 0h0m0-1h0m0 4h0m0-5h0m0-1h0m2 2h0m0-2h0m1 0h0m0-2h0m0-1h0m1 0h0m0 1h0m1 2h0m-29 17h0m4-1h0m0 2h0m1 0h0m0-5h0m2 2h0m0-1h0m1-3h0m2 7h0m0-7h0m3 1h0m0 4h0m0-6h0m0-1h0m1 8h0m1-3h0m1-1h0m2-1h0m0-2h0m0 4h0m1-5h0m0-2h0m1 0h0m-35 20h0m1 2h0m2-4h0m0 3h0m3-1h0m3-1h0m0 4h0m1-10h0m0 9h0m1 1h0m0-1h0m1 0h0m1 1h0m1-10h0m1 1h0m0 8h0m3-9h0m0 4h0m1-1h0m1-1h0m1 6h0m1-7h0m2 0h0m1 2h0m0-1h0m1-3h0m2 1h0m-60 22h0m10 0h0m0-2h0m6-1h0m1-5h0m4 0h0m0 7h0m1-1h0m3-1h0m1-5h0m1 3h0m0-4h0m1 5h0m1-4h0m0 4h0m0-7h0m1 5h0m1-3h0m0 3h0m0-5h0m2 10h0m0-8h0m1 6h0m1-5h0m0 4h0m1-6h0m2 2h0m1 0h0m1 5h0m1-7h0m1 1h0m0-2h0m1 0h0m0 7h0m2-5h0m1-1h0m2 3h0m-60 16h0m2 1h0m8 1h0m2 0h0m7-4h0m0 4h0m2-6h0m2-1h0m0 6h0m1-9h0m1 10h0m1-1h0m2-1h0m2 2h0m0-6h0m3 3h0m2-2h0m0 3h0m0-5h0m0 4h0m1-5h0m0-1h0m0 9h0m2 0h0m0-6h0m0 4h0m2-4h0m0-3h0m1 0h0m0 4h0m2 2h0m2 4h0m0-5h0m5-5h0m3-1h0m-94 17h0m5-2h0m3-2h0m11 0h0m7 9h0m2-2h0m4 1h0m2-2h0m1 2h0m5-1h0m4 1h0m2 1h0m2-5h0m3 3h0m1 1h0m1-5h0m1-2h0m3 3h0m3 3h0m0-6h0m0-2h0m2 6h0m0-6h0m1 8h0m2-6h0m1 1h0m0 7h0m2-3h0m0 4h0m0-2h0m2-1h0m1 3h0m4-10h0m4 1h0m1 8h0m2-2h0m2-2h0m-105 17h0m16-4h0m1 1h0m1 1h0m1-2h0m0 4h0m1-9h0m1 4h0m2 2h0m0-6h0m2 7h0m0-1h0m2 2h0m3 0h0m1-2h0m2 3h0m0-5h0m1 5h0m1-7h0m0 4h0m1-4h0m1-3h0m1 8h0m2-2h0m1-3h0m1 1h0m0-1h0m1-3h0m2 6h0m1 2h0m4-8h0m1 8h0m1-4h0m1 6h0m0-10h0m2-1h0m1 7h0m1 3h0m2-6h0m2-4h0m3 5h0m1-1h0m0 3h0m0-5h0m3 9h0m3-1h0m2 1h0m3-1h0m0-10h0m0 8h0m3 0h0m1-4h0m5-3h0m0 4h0m1-4h0m2 0h0m3 3h0m7-3h0m-102 15h0m9 5h0m6-3h0m9-5h0m0 4h0m2 6h0m1-2h0m0-1h0m1-7h0m0 8h0m1-6h0m1-1h0m1 4h0m0 4h0m1-6h0m0-1h0m0 8h0m0-5h0m1 5h0m0-2h0m0-1h0m1-6h0m2 4h0m1 2h0m1 1h0m0-2h0m1 2h0m1 0h0m0-6h0m0 8h0m2-4h0m0 4h0m1-7h0m1 5h0m0-2h0m1 2h0m0-6h0m0 7h0m1-10h0m1 2h0m0 4h0m0-5h0m1 6h0m1-5h0m0 2h0m1 4h0m0-4h0m1 0h0m0 1h0m1 6h0m2 0h0m1-6h0m1 0h0m0 4h0m2 2h0m0-7h0m1 4h0m2 2h0m4-10h0m1 8h0m1-3h0m2-5h0m2 5h0m0-5h0m2 1h0m0 4h0m0-5h0m0 4h0m1 0h0m0 4h0m1 2h0m4-6h0m0 4h0m2 3h0m16-8h0m-85 14h0m7 3h0m0-7h0m1 6h0m1-5h0m2 6h0m1-5h0m1 8h0m0-10h0m1 9h0m2-10h0m0 2h0m2 0h0m1 4h0m0-5h0m1 4h0m1 3h0m0 3h0m1-7h0m0-2h0m0 9h0m3-8h0m2 7h0m0-1h0m2-1h0m0-8h0m1 5h0m1 2h0m0 4h0m0-5h0m1-3h0m0-1h0m0-1h0m1 0h0m0 9h0m1-3h0m0-3h0m1 4h0m0-3h0m1 5h0m1-3h0m0-2h0m0-5h0m1 8h0m1-7h0m1 7h0m1-2h0m0-5h0m1 4h0m0-2h0m1 8h0m1-2h0m0-6h0m1-1h0m2 3h0m0-2h0m2 8h0m0-1h0m3-7h0m1 4h0m1-4h0m1 0h0m1 0h0m0-2h0m2 2h0m2 5h0m3-1h0m19-7h0m-77 14h0m0 9h0m1-11h0m1 9h0m1-8h0m0 4h0m6 6h0m0-10h0m2 0h0m1 2h0m0 4h0m0 2h0m1-3h0m0-1h0m0 2h0m1-4h0m1 8h0m0-5h0m3-2h0m0 3h0m1 2h0m0-6h0m1 7h0m2-8h0m1 6h0m0-7h0m2 9h0m0-1h0m1-6h0m1 7h0m0-1h0m0-2h0m1 4h0m1-11h0m1 6h0m0 3h0m0 2h0m2 0h0m0-5h0m0 1h0m0-5h0m2-1h0m1 4h0m1-2h0m0-3h0m1 9h0m0 1h0m1-10h0m0 6h0m1-3h0m0 6h0m1-8h0m0 7h0m0-5h0m2 4h0m1-3h0m1 0h0m1 4h0m0-6h0m5 9h0m11-6h0m9 0h0m-77 12h0m12-3h0m3 5h0m0-5h0m0 4h0m0 3h0m4-4h0m0-5h0m0 8h0m0-1h0m1 0h0m2-7h0m2 3h0m1-2h0m0 2h0m0 4h0m1 4h0m0-10h0m0 8h0m1-5h0m1 1h0m1-5h0m0 9h0m1-4h0m0-1h0m0 4h0m0 3h0m2-8h0m1-2h0m0 4h0m1-2h0m0-3h0m4 1h0m0 9h0m1-8h0m1 8h0m3 1h0m2-7h0m1 2h0m1-6h0m0 4h0m2 1h0m2-1h0m3 0h0m3-1h0m0 8h0m4-9h0m2-1h0m4-1h0m-66 23h0m6-8h0m1-1h0m0-2h0m4 2h0m3-1h0m2 3h0m6 0h0m0 2h0m2 2h0m1 2h0m0-10h0m1 1h0m1 10h0m0-1h0m2-7h0m0 1h0m1 7h0m1-6h0m1-3h0m2 2h0m2 3h0m3-5h0m1 5h0m0 3h0m2-3h0m3-7h0m2 4h0m1 1h0m0 3h0m1-8h0m0 2h0m1-1h0m1 8h0m1-9h0m2 6h0m4-4h0m1 1h0m29-1h0m-93 10h0m4 3h0m14-2h0m1 10h0m0-5h0m0-5h0m1 0h0m7-1h0m2 5h0m1 6h0m1-7h0m2-3h0m0 7h0m1-7h0m3 4h0m0-5h0m1 1h0m2 6h0m1 0h0m0-5h0m2 4h0m0-5h0m0 8h0m1-3h0m4-3h0m1 3h0m0-1h0m0 4h0m5-2h0m3-6h0m10 10h0m10 0h0m4-1h0m3-5h0m19 2h0m11-6h0m-95 18h0m7-6h0m0 8h0m1-9h0m2 2h0m0 2h0m2-4h0m4 10h0m1-3h0m1 1h0m4 1h0m0-8h0m4 1h0m1 5h0m9 2h0m1-3h0m6-6h0m2 11h0m2-6h0m2 1h0m3 1h0m4-1h0m1-3h0m1 1h0m3-3h0m1 7h0m2-8h0m0 9h0m2-6h0m8-3h0m-81 23h0m11-9h0m1 9h0m5-4h0m2 4h0m2-9h0m4 9h0m12-7h0m2-4h0m1 11h0m0-2h0m2-6h0m5 0h0m0-1h0m2 3h0m3 5h0m4 1h0m1-5h0m0-5h0m0-1h0m1 3h0m1 0h0m4 1h0m0-1h0m8 8h0m4-5h0m8 2h0m10-1h0m-120 7h0m8-1h0m15 5h0m7 0h0m22 5h0m0-2h0m8-1h0m4-6h0m17 4h0m26-6h0m-117 21h0m29-7h0m14 8h0m3 0h0m4-10h0m3 6h0m15-6h0m1 10h0m9-2h0m8-8h0m12 7h0m3 2h0m23 0h0m-102 14h0m4-2h0m3-5h0m17-1h0m2 4h0m3 3h0m1-1h0m0-5h0m4-2h0m4 4h0m5-1h0m2-1h0m0-2h0m3 0h0m7 0h0m2-1h0m0 3h0m9 5h0m-92 5h0m17 1h0m11-2h0m2 7h0m6-2h0m4-4h0m11-1h0m1 10h0m1-11h0m6 3h0m2 1h0m3 6h0m17-5h0m2-2h0m1-3h0m7 2h0m-82 21h0m2-11h0m3 0h0m19 6h0m19-2h0m10 4h0m3-2h0m-75 6h0m24 8h0m40-4h0m6-2h0m8 9h0" stroke="#53b400" stroke-width="3.4" stroke-linecap="square" fill="none"/>
<circle cx="303.17" cy="332.12" r="1.5" fill="#111"/>
<circle cx="305.04" cy="339.65" r="1.5" fill="#111"/>
<circle cx="346.52" cy="344.95" r="1.5" fill="#111"/>
<text x="444.0" y="327.6" font-size="2.6" fill="#333">State</text>
<circle cx="445.3" cy="332.30" r="0.55" fill="#f8766d"/>
<text x="448.0" y="333.2" font-size="2.4" fill="#444">1</text>
<circle cx="445.3" cy="337.75" r="0.55" fill="#c49a00"/>
<text x="448.0" y="338.6" font-size="2.4" fill="#444">2</text>
<circle cx="445.3" cy="343.20" r="0.55" fill="#53b400"/>
<text x="448.0" y="344.1" font-size="2.4" fill="#444">3</text>
<circle cx="445.3" cy="348.65" r="0.55" fill="#00c094"/>
<text x="448.0" y="349.6" font-size="2.4" fill="#444">4</text>
<circle cx="445.3" cy="354.10" r="0.55" fill="#00b6eb"/>
<text x="448.0" y="355.0" font-size="2.4" fill="#444">5</text>
<circle cx="445.3" cy="359.55" r="0.55" fill="#a58aff"/>
<text x="448.0" y="360.4" font-size="2.4" fill="#444">6</text>
<circle cx="445.3" cy="365.00" r="0.55" fill="#fb61d7"/>
<text x="448.0" y="365.9" font-size="2.4" fill="#444">7</text>
<path d="M261.7 429.5L261.7 529.0" stroke="#555" stroke-width="0.45"/>
<path d="M261.7 529.0L444.7 529.0" stroke="#555" stroke-width="0.45"/>
<path d="M264.4 529.0L264.4 529.9" stroke="#555" stroke-width="0.35"/>
<text x="264.4" y="532.6" font-size="2.8" text-anchor="middle" fill="#444">-10</text>
<path d="M308.1 529.0L308.1 529.9" stroke="#555" stroke-width="0.35"/>
<text x="308.1" y="532.6" font-size="2.8" text-anchor="middle" fill="#444">-5</text>
<path d="M351.8 529.0L351.8 529.9" stroke="#555" stroke-width="0.35"/>
<text x="351.8" y="532.6" font-size="2.8" text-anchor="middle" fill="#444">0</text>
<path d="M395.5 529.0L395.5 529.9" stroke="#555" stroke-width="0.35"/>
<text x="395.5" y="532.6" font-size="2.8" text-anchor="middle" fill="#444">5</text>
<path d="M439.2 529.0L439.2 529.9" stroke="#555" stroke-width="0.35"/>
<text x="439.2" y="532.6" font-size="2.8" text-anchor="middle" fill="#444">10</text>
<path d="M260.8 450.0L261.7 450.0" stroke="#555" stroke-width="0.35"/>
<text x="260.3" y="451.0" font-size="2.8" text-anchor="end" fill="#444">2.5</text>
<path d="M260.8 472.5L261.7 472.5" stroke="#555" stroke-width="0.35"/>
<text x="260.3" y="473.5" font-size="2.8" text-anchor="end" fill="#444">0.0</text>
<path d="M260.8 495.0L261.7 495.0" stroke="#555" stroke-width="0.35"/>
<text x="260.3" y="496.0" font-size="2.8" text-anchor="end" fill="#444">-2.5</text>
<path d="M260.8 517.5L261.7 517.5" stroke="#555" stroke-width="0.35"/>
<text x="260.3" y="518.5" font-size="2.8" text-anchor="end" fill="#444">-5.0</text>
<text x="353.2" y="535.5" font-size="2.8" text-anchor="middle" fill="#333">Component 1</text>
<text x="252.7" y="479.2" font-size="2.8" text-anchor="middle" fill="#333" transform="rotate(-90 252.7 479.2)">Component 2</text>
<path d="M315.1 437.4L312.9 449.1" stroke="#444" stroke-width="0.55"/>
<path d="M312.9 449.1L308.3 465.3" stroke="#444" stroke-width="0.55"/>
<path d="M297.6 460.4L308.3 465.3" stroke="#444" stroke-width="0.55"/>
<path d="M308.3 465.3L310.2 471.7" stroke="#444" stroke-width="0.55"/>
<path d="M310.2 471.7L296.7 482.4" stroke="#444" stroke-width="0.55"/>
<path d="M296.7 482.4L281.9 493.2" stroke="#444" stroke-width="0.55"/>
<path d="M310.2 471.7L329.9 472.9" stroke="#444" stroke-width="0.55"/>
<path d="M329.9 472.9L352.8 476.2" stroke="#444" stroke-width="0.55"/>
<path d="M352.8 476.2L385.0 475.2" stroke="#444" stroke-width="0.55"/>
<path d="M385.0 475.2L417.4 475.2" stroke="#444" stroke-width="0.55"/>
<path d="M417.4 475.2L435.7 475.6" stroke="#444" stroke-width="0.55"/>
<path d="M307.50 433.19 C308.22 432.47 310.89 432.16 312.03 431.95 C313.17 431.74 314.85 431.67 316.05 431.64 C317.26 431.61 319.75 431.60 321.09 431.74 C322.43 431.88 325.39 432.13 326.12 432.67 C326.86 433.21 326.76 434.95 326.63 435.78 C326.49 436.60 326.26 438.12 325.12 438.88 C323.98 439.64 319.68 440.84 318.07 441.47 C316.46 442.09 313.95 442.57 313.03 443.53 C312.12 444.50 311.62 446.91 311.22 448.71 C310.82 450.50 310.28 454.78 310.01 456.98 C309.74 459.19 309.46 464.16 309.21 465.26 C308.95 466.36 308.19 466.36 308.10 465.26 C308.01 464.16 308.44 459.19 308.50 456.98 C308.57 454.78 308.72 450.64 308.60 448.71 C308.48 446.78 307.87 444.02 307.60 442.50 C307.33 440.98 306.60 438.57 306.59 437.33 C306.58 436.09 306.77 433.91 307.50 433.19Z" fill="#ec8870"/>
<path d="M294.41 458.02 C294.54 457.33 295.45 456.98 295.92 456.78 C296.39 456.57 297.12 456.16 297.93 456.47 C298.74 456.77 301.02 458.36 301.96 459.05 C302.90 459.74 304.24 461.02 304.98 461.64 C305.72 462.26 307.03 463.16 307.50 463.71 C307.97 464.26 308.84 465.46 308.50 465.78 C308.17 466.09 306.39 466.27 304.98 466.09 C303.57 465.91 299.27 464.98 297.93 464.43 C296.59 463.88 295.38 462.80 294.91 461.95 C294.44 461.09 294.27 458.71 294.41 458.02Z" fill="#f9847c"/>
<path d="M311.52 470.43 C312.19 470.82 312.43 472.16 311.02 473.53 C309.61 474.91 303.57 478.91 300.95 480.78 C298.33 482.64 293.06 486.05 291.39 487.50 C289.71 488.95 288.86 490.33 288.36 491.64 C287.87 492.95 288.00 496.09 287.66 497.33 C287.32 498.57 286.63 500.36 285.85 500.95 C285.07 501.54 282.89 501.78 281.82 501.78 C280.75 501.78 278.70 501.61 277.79 500.95 C276.88 500.29 275.43 498.12 274.97 496.81 C274.52 495.50 274.33 492.50 274.37 491.12 C274.41 489.74 274.82 487.39 275.27 486.47 C275.73 485.54 276.99 484.51 277.79 484.19 C278.60 483.87 280.38 483.88 281.32 484.09 C282.26 484.29 282.96 486.69 284.84 485.74 C286.72 484.79 292.59 478.96 295.41 476.95 C298.23 474.93 303.84 471.51 305.99 470.64 C308.13 469.77 310.85 470.04 311.52 470.43Z" fill="#e886ae"/>
<path d="M431.85 467.33 C432.36 466.43 433.93 465.16 434.87 464.74 C435.81 464.33 438.05 464.09 438.90 464.22 C439.74 464.36 440.84 464.95 441.21 465.78 C441.59 466.60 441.68 468.84 441.72 470.43 C441.76 472.02 441.68 475.88 441.52 477.67 C441.35 479.47 440.93 482.57 440.51 483.88 C440.09 485.19 439.01 487.09 438.39 487.50 C437.78 487.91 436.48 487.60 435.88 486.98 C435.27 486.36 434.40 484.22 433.86 482.84 C433.33 481.47 432.23 478.16 431.85 476.64 C431.47 475.12 431.04 472.71 431.04 471.47 C431.04 470.22 431.34 468.22 431.85 467.33Z" fill="#26c9cd"/>
<path transform="scale(.25)" d="M1742 1840h0m4 10h0m1 6h0m3 0h0m1 0h0m7-2h0m-249 17h0m161-4h0m14 2h0m8 1h0m18 0h0m5-1h0m0 2h0m3-2h0m3-5h0m9-3h0m0 4h0m4 0h0m1-4h0m1 4h0m6 3h0m2-1h0m1 0h0m0-5h0m1 1h0m1 8h0m2-3h0m1-1h0m1 1h0m1-2h0m4 1h0m1-6h0m2 8h0m3 2h0m4-1h0m1 0h0m0-8h0m2 2h0m0 7h0m0-1h0m-348 9h0m11-2h0m20 1h0m7 2h0m37-3h0m17 0h0m12 2h0m17 3h0m15-4h0m1 4h0m4-1h0m1-8h0m1 4h0m59 2h0m6 0h0m0 4h0m3-2h0m1-8h0m1 4h0m1-2h0m1 5h0m3 1h0m6 0h0m3 0h0m1-4h0m2 3h0m4 0h0m4 3h0m5-8h0m0 8h0m1-4h0m6-3h0m0 4h0m3-2h0m1 4h0m2-7h0m0 5h0m2 3h0m0-5h0m2-4h0m2-1h0m0 8h0m1-4h0m2 0h0m0 4h0m3-1h0m3-6h0m4-2h0m3 8h0m3-4h0m1 4h0m2-6h0m0 9h0m2-5h0m2 3h0m2-7h0m1 9h0m2-2h0m0 2h0m1-8h0m2 3h0m1 4h0m1-3h0m1-5h0m0 1h0m1 4h0m8-5h0m0 8h0m0-2h0m1-4h0m2 6h0m0-6h0m0 4h0m1 2h0m0-6h0m2 6h0m0-10h0m1 6h0m0 4h0m1-3h0m0-1h0m0 3h0m1-7h0m0 8h0m1-8h0m1 2h0m1 0h0m0 7h0m1 0h0m2-5h0m1-5h0m1-1h0m0 8h0m1-4h0m0 7h0m2-7h0m1-3h0m1 8h0m0-1h0m1-3h0m0 1h0m0-5h0m1 6h0m0-7h0m0 9h0m1-1h0m0 3h0m0-1h0m1-7h0m1 2h0m0-2h0m1 3h0m1-6h0m1 10h0m0-10h0m0 9h0m3 0h0m1-3h0m2-6h0m0 2h0m0 9h0m2-1h0m2-4h0m0 5h0m-326 3h0m15-2h0m2 4h0m15-1h0m8 7h0m7-8h0m17 6h0m6-3h0m3 1h0m3-3h0m17 6h0m5-2h0m7 1h0m9-1h0m1 4h0m2-11h0m1 5h0m2 1h0m0-4h0m1 8h0m59-2h0m1-5h0m3 2h0m2-2h0m0 4h0m0 4h0m4-9h0m3 2h0m0 4h0m0-8h0m3 1h0m3-1h0m2 4h0m1 5h0m0-8h0m1 4h0m3 5h0m1-6h0m1 4h0m1-8h0m2 9h0m1-5h0m3-1h0m3 7h0m0-4h0m1-4h0m1 1h0m3 7h0m1-8h0m0 4h0m3-2h0m0 4h0m1-8h0m3 2h0m0 4h0m1 4h0m2-6h0m1-4h0m1 3h0m4 2h0m3 0h0m0 4h0m0-8h0m2 7h0m2-8h0m2 6h0m1 4h0m2-1h0m1-4h0m2 0h0m1-4h0m3-1h0m0 8h0m3-5h0m1 4h0m2-2h0m0 4h0m4-6h0m0 4h0m1 0h0m0 4h0m3-8h0m1 3h0m2-4h0m2 7h0m0-6h0m1 5h0m1-4h0m3-4h0m0 11h0m1-2h0m1 0h0m1-2h0m0-6h0m1 5h0m0 4h0m0-6h0m0 4h0m1-2h0m0-1h0m0-5h0m0 9h0m1 0h0m0-6h0m1-1h0m0-2h0m2 5h0m0-5h0m0 9h0m1 2h0m1-11h0m0 4h0m0-2h0m1-1h0m0 9h0m0-5h0m0 3h0m0-6h0m1 5h0m0 3h0m0-1h0m0-5h0m1 6h0m1-3h0m0 4h0m0-1h0m0-5h0m1-5h0m0 4h0m0 4h0m0-3h0m1-2h0m0 3h0m0-5h0m1 10h0m0-10h0m1 8h0m0-7h0m1-1h0m0 3h0m0 3h0m1 1h0m1 1h0m0-5h0m0 3h0m1 0h0m0-1h0m0 4h0m1 0h0m0-5h0m1-4h0m1 10h0m0-6h0m0 4h0m0-5h0m0-1h0m1 0h0m0 4h0m0 4h0m1-1h0m0-3h0m1 4h0m0-1h0m0-2h0m1-2h0m0-5h0m0 9h0m1 1h0m0-6h0m1 0h0m0-1h0m1 5h0m0-3h0m1 5h0m0-5h0m0-5h0m2 8h0m0-2h0m1-3h0m3 3h0m1 2h0m0-5h0m0-2h0m0 4h0m0-1h0m2-3h0m0-1h0m0-1h0m-353 18h0m3 5h0m19-6h0m29-1h0m5-4h0m0 4h0m14 1h0m46-2h0m25 0h0m1 4h0m3-6h0m0 4h0m2 1h0m1-4h0m60-2h0m2 5h0m1-4h0m8 7h0m2-8h0m2 2h0m0 8h0m3-6h0m1 4h0m0-8h0m3 1h0m1 8h0m1-7h0m1 8h0m4-10h0m3 1h0m2-1h0m0 4h0m0 4h0m3-1h0m1-4h0m0 8h0m7-9h0m0 3h0m1 4h0m3-2h0m0-5h0m4 8h0m0-10h0m0 4h0m3 7h0m0-8h0m7 7h0m1-10h0m1 5h0m0 4h0m3-2h0m0 4h0m3-6h0m0-4h0m1 8h0m2-4h0m2-4h0m2 3h0m1-4h0m2 11h0m1-8h0m0 4h0m5-7h0m1 3h0m0 4h0m1 1h0m1-4h0m0 6h0m5-3h0m0-1h0m4 0h0m2-2h0m1 6h0m0-2h0m2-4h0m0-2h0m0 4h0m1 2h0m1 3h0m1-9h0m1-1h0m0 9h0m0-7h0m1 6h0m1-5h0m0 4h0m1-7h0m0 7h0m0-5h0m1 6h0m0-2h0m0-1h0m1-4h0m0 9h0m0-5h0m0 4h0m0-2h0m0-5h0m1 3h0m0-2h0m1-1h0m0-2h0m1 9h0m0-10h0m0 4h0m1 5h0m0-7h0m1-1h0m0 8h0m0-2h0m1-6h0m0 9h0m0-6h0m1-3h0m0-1h0m1 9h0m0-5h0m1-2h0m0 2h0m1-4h0m0 4h0m0 4h0m0-5h0m0-1h0m0-1h0m0 9h0m0-5h0m1 5h0m0-5h0m0-5h0m0 8h0m0-5h0m1 1h0m0 6h0m0-10h0m1 5h0m0-3h0m0 9h0m0-10h0m1 4h0m0 2h0m1 2h0m0 1h0m1-8h0m0 6h0m1-1h0m1 0h0m0 4h0m0-10h0m1 5h0m0-5h0m0-1h0m0 4h0m0 4h0m1 0h0m0-6h0m0 4h0m0 4h0m0-10h0m0 9h0m1 2h0m0-1h0m1 1h0m0-8h0m1 6h0m0-5h0m0 2h0m1-1h0m0-1h0m0 3h0m1 4h0m0-5h0m0 3h0m1-6h0m0 4h0m0-1h0m0-5h0m1 5h0m1 0h0m0-1h0m2 6h0m2-2h0m0-1h0m0-7h0m-319 18h0m34-6h0m76 0h0m1 4h0m78 6h0m0-5h0m1-4h0m1-2h0m4 2h0m6 3h0m0 4h0m1-8h0m9 2h0m2 4h0m8-6h0m1 10h0m1-8h0m7 1h0m0 4h0m6-2h0m0 4h0m1-8h0m2 7h0m0-8h0m2 4h0m0 6h0m2-8h0m3-2h0m0 9h0m2 0h0m1-4h0m0-5h0m2 4h0m1 4h0m1-8h0m3 7h0m6-5h0m3-3h0m4 8h0m4-3h0m1-1h0m0-1h0m1 7h0m1 0h0m0-6h0m1 2h0m1-4h0m1 2h0m1-4h0m0 9h0m0-1h0m0-5h0m2 6h0m0-7h0m0 9h0m1-4h0m0-6h0m0 4h0m0-5h0m0 4h0m1 2h0m0-5h0m1 2h0m0 3h0m0 3h0m1-7h0m0-1h0m0 7h0m1 0h0m0-6h0m0-1h0m1 2h0m0 4h0m1 4h0m0-6h0m1-2h0m0 3h0m0-5h0m0 9h0m1-10h0m0 9h0m0-1h0m1 0h0m0-5h0m0-3h0m0 9h0m1-1h0m0 3h0m0-11h0m1 1h0m0 2h0m1-1h0m0 8h0m1-5h0m0-1h0m1-3h0m0 7h0m1-4h0m0 6h0m1 1h0m0-6h0m1 6h0m0-2h0m0-5h0m1 0h0m0-2h0m1-1h0m0 9h0m0-5h0m0-1h0m0 4h0m0-5h0m1 5h0m0-1h0m0 4h0m0-5h0m0 4h0m0-5h0m1 4h0m0-4h0m1 1h0m0-5h0m0 8h0m0-5h0m1 3h0m0-6h0m0 4h0m0-5h0m1 0h0m0 4h0m0 2h0m1-5h0m0 4h0m0-2h0m1-1h0m0 3h0m1 1h0m0 4h0m0-7h0m0-1h0m1 0h0m0 8h0m0-6h0m1-2h0m0 9h0m1-6h0m0-5h0m1 4h0m4-3h0m0 4h0m0 2h0m1 2h0m0-6h0m0 4h0m-208 7h0m75 1h0m37 4h0m1-4h0m6-3h0m6 2h0m1 8h0m2-9h0m0 9h0m0-5h0m3-2h0m6-1h0m1 4h0m5-6h0m4 9h0m3-6h0m1-1h0m11 2h0m0-2h0m1 9h0m1-7h0m1 1h0m1 5h0m0-3h0m1 0h0m1-3h0m1 6h0m1 1h0m0-5h0m0 4h0m1-8h0m0 2h0m1 0h0m1 4h0m0-6h0m1 9h0m0-1h0m0-10h0m1 4h0m0-1h0m0 3h0m0-5h0m0-1h0m1 5h0m1 6h0m0-5h0m0-1h0m0 4h0m1-7h0m0-2h0m1 2h0m0 6h0m1 2h0m0-10h0m1 0h0m0 8h0m0-5h0m0-1h0m0 8h0m1 1h0m0-1h0m0-10h0m0 9h0m0-7h0m1 1h0m0-2h0m1 8h0m0-6h0m0 4h0m1 4h0m0-1h0m0-5h0m0 3h0m1-4h0m0-2h0m0 8h0m1-9h0m0 9h0m0-5h0m0-5h0m0 8h0m1-2h0m1 3h0m0-5h0m0 2h0m0-1h0m1 1h0m0-5h0m0 6h0m1 4h0m0-2h0m2-8h0m0 3h0m0-1h0m1 4h0m0-1h0m0-6h0m2 6h0m0 4h0m0-6h0m1-1h0m1 5h0m0-1h0m4 4h0m0-1h0m1-10h0m1 10h0m4-2h0m0-1h0m0-5h0m0 3h0m-95 7h0m15 2h0m18 8h0m22-5h0m1 2h0m1-6h0m0 4h0m0 3h0m3 0h0m1-8h0m1 5h0m1-3h0m0 3h0m0 4h0m2 2h0m0-7h0m1 2h0m2-6h0m1 7h0m0-6h0m1 0h0m0 3h0m1-3h0m0 9h0m1-10h0m1 6h0m1-6h0m1 11h0m1-1h0m1-7h0m1 7h0m1-8h0m1 5h0m1 2h0m0-2h0m1-5h0m2 6h0m1-5h0m1-1h0m0-1h0m1 8h0m1-7h0m1-1h0m2-1h0m2 8h0m2-7h0m0 4h0m0 3h0m-49 8h0m4 0h0m3-4h0m0 4h0m5 0h0m2-3h0m3 9h0m2-7h0m0 7h0m1-4h0m4-3h0m2-3h0m1 1h0m0-1h0m2 6h0m1-5h0m1 0h0m0 9h0m0-5h0m1-3h0m1 4h0m1-3h0m2 5h0m6-7h0m7-1h0m-41 23h0m4-9h0m1-1h0m1 0h0m9 7h0m4 3h0m1-11h0m4 0h0m3 8h0m6-7h0m-23 18h0m-605 39h0m11-1h0m2-8h0m-20 19h0m4 0h0m11 3h0m13-1h0m2-5h0m2-5h0m0 6h0m1 5h0m2-4h0m4-1h0m2-1h0m0-5h0m0 4h0m4-2h0m5 2h0m8-3h0m-71 19h0m36-7h0m10 8h0m1-9h0m1 1h0m4 0h0m13 3h0m8 2h0m-82 8h0m23 3h0m5 2h0m-39 14h0m17-1h0m6 1h0m1-8h0m8 10h0m9-7h0m10 3h0m-57 10h0m24 0h0m31 3h0m10-3h0m1-4h0m-60 18h0m19-1h0m-44 6h0m52 2h0" stroke="#00bfc4" stroke-width="3.4" stroke-linecap="square" fill="none"/>
<path transform="scale(.25)" d="M1258 1725h0m-19 8h0m4-1h0m4 6h0m4 1h0m1 0h0m1-1h0m13 1h0m2-3h0m6 2h0m9-6h0m6 4h0m7-3h0m-79 15h0m9-3h0m20 6h0m2-4h0m5 1h0m1-1h0m0 2h0m3-6h0m5 5h0m0-1h0m1 4h0m1-6h0m1 5h0m0-5h0m1-2h0m1 8h0m1-9h0m0 9h0m0-5h0m1-2h0m1-2h0m4 8h0m0-1h0m1-6h0m0 5h0m2-3h0m0-1h0m1 6h0m1-2h0m3-8h0m0 11h0m2-1h0m1 0h0m0-3h0m1 4h0m9-1h0m2 0h0m5-3h0m-77 15h0m6-5h0m6-3h0m1 5h0m10 3h0m0-6h0m1 5h0m1 2h0m1-10h0m0 9h0m3-3h0m1-1h0m1-1h0m1 6h0m0-10h0m0 3h0m1 4h0m2-7h0m2 4h0m0-5h0m2 10h0m0-1h0m0-5h0m1 6h0m0-1h0m0-3h0m1-6h0m4 5h0m0 4h0m0-2h0m1-7h0m0 7h0m4-3h0m1 6h0m1-3h0m0-2h0m2-4h0m1 1h0m15-2h0m1 9h0m0-5h0m1 6h0m6-5h0m-69 13h0m10 2h0m1-4h0m1-3h0m0-1h0m2 8h0m1-1h0m2-6h0m2 4h0m5 0h0m1-1h0m1 3h0m0 4h0m2-4h0m0-6h0m2-1h0m1 3h0m0-1h0m5 3h0m1-2h0m3 3h0m1 4h0m2-8h0m1 6h0m2-4h0m1 0h0m1 5h0m1-5h0m-33 15h0m2-4h0m0 3h0m1 1h0m0-6h0m1 5h0m0 4h0m1-3h0m4-4h0m10 0h0m-21 20h0m1-6h0m0 3h0m1-5h0m1-2h0m1 5h0m1-6h0m0 6h0m1-4h0m0 4h0m2 1h0m-14 10h0m4 0h0m1-3h0m0 9h0m0-6h0m1 2h0m1 3h0m0-5h0m0-2h0m1 4h0m0-1h0m2 0h0m2-2h0m-13 15h0m1 0h0m0 3h0m2 1h0m0-10h0m0-1h0m0 9h0m0-1h0m2 3h0m1-10h0m1 5h0m-9 10h0m2 4h0m0-7h0m1 1h0m1 0h0m0 4h0m2 3h0m1-8h0m-13 20h0m2-1h0m1 3h0m1-1h0m4-10h0m1 0h0m1 0h0m487 6h0m-496 16h0m0-3h0m1-1h0m1 3h0m3-7h0m498 6h0m-500 9h0m176 6h0m9-5h0m1 4h0m24 1h0m261-2h0m-464 11h0m1-4h0m3 2h0m0 4h0m1-1h0m4 2h0m2-5h0m1 4h0m6-1h0m3-4h0m2 6h0m4-6h0m4 2h0m1 2h0m8-1h0m3-2h0m0 4h0m2-2h0m3 1h0m6-4h0m2 4h0m2 1h0m4 1h0m12 0h0m28-3h0m9 3h0m3 0h0m55-8h0m0 4h0m2-2h0m0 4h0m3 1h0m6-8h0m4 2h0m1 5h0m2-8h0m0 8h0m3-8h0m0 4h0m4 4h0m3-2h0m0 4h0m6-7h0m0 4h0m6-6h0m4 6h0m9-5h0m0 4h0m1 4h0m1-11h0m0 4h0m1 4h0m6 3h0m1-5h0m2-4h0m1 5h0m0 4h0m9-1h0m2-8h0m1 4h0m0 4h0m4-2h0m3-8h0m3 0h0m1 9h0m2 2h0m3 0h0m2-7h0m5 5h0m1 1h0m8-1h0m2-6h0m2 8h0m3-1h0m4-1h0m4 1h0m3-4h0m102 1h0m49 3h0m5-6h0m12-3h0m4 6h0m8 4h0m26-10h0m-515 21h0m1-3h0m5-3h0m7-4h0m1 7h0m1 4h0m2-9h0m1 2h0m3 7h0m0-4h0m3-5h0m2 7h0m1-8h0m2 9h0m0-5h0m5-4h0m1 6h0m3-6h0m0 4h0m0 4h0m3-2h0m1-4h0m2 2h0m0 4h0m1-8h0m1 5h0m1-4h0m0 9h0m1-3h0m3 0h0m4-3h0m3-2h0m4-2h0m3 0h0m1 8h0m3-7h0m1 8h0m3-6h0m2 3h0m4 1h0m0-8h0m3 11h0m1-4h0m1-3h0m2-1h0m4 5h0m2-4h0m2 0h0m2 5h0m1-9h0m1 9h0m4-6h0m1 4h0m1 0h0m1 4h0m1-8h0m2-2h0m1 8h0m2-3h0m4 4h0m1-5h0m1-4h0m4 10h0m4 0h0m1-8h0m2 4h0m0 4h0m2-7h0m1 6h0m1-4h0m2 1h0m2-2h0m5 4h0m6 2h0m0-8h0m1 6h0m2-4h0m3 6h0m10-5h0m1-1h0m12 6h0m7-6h0m1-4h0m3 6h0m0 4h0m3-10h0m2 8h0m1-4h0m1-4h0m2 0h0m0 4h0m3 5h0m1-9h0m1 4h0m1-3h0m1 4h0m0 4h0m1-1h0m1-8h0m3 2h0m0 8h0m1-4h0m2-1h0m1 4h0m3-10h0m1 4h0m0 4h0m2-2h0m1-4h0m0 8h0m2-3h0m1 4h0m3-7h0m2 4h0m3-2h0m1-4h0m4 5h0m3-7h0m3 8h0m2 3h0m1-4h0m3-4h0m2 3h0m1-4h0m2 7h0m2-4h0m2 5h0m1-4h0m2 0h0m0 4h0m2-10h0m2 9h0m2-8h0m3 0h0m0 8h0m1-4h0m3-1h0m0 4h0m3-5h0m3 1h0m3-3h0m1 8h0m3 1h0m1-8h0m1 5h0m0 4h0m4-6h0m1 4h0m2-5h0m0 4h0m2 2h0m1-8h0m3 9h0m1-4h0m1-6h0m1 4h0m4 1h0m0 4h0m0-8h0m3 9h0m1-8h0m1 6h0m1-4h0m4-1h0m2 0h0m0 4h0m1-8h0m2 4h0m0 4h0m0-8h0m111 7h0m17-6h0m20 3h0m6-3h0m21 7h0m10 1h0m5 2h0m15-9h0m9 4h0m-557 17h0m13-5h0m0-3h0m24 3h0m2-1h0m1-4h0m0 8h0m1-1h0m5-3h0m4 5h0m3-8h0m6-1h0m2 2h0m0 8h0m5 0h0m3-3h0m3-8h0m4 3h0m1-2h0m2 7h0m1-4h0m4 0h0m2-3h0m2 5h0m1-4h0m1 0h0m1 4h0m3 0h0m1-2h0m4-4h0m1 0h0m2 3h0m0 4h0m1 4h0m3-6h0m1-1h0m2 2h0m6-2h0m1 4h0m3 1h0m3-6h0m0-1h0m0 4h0m2 2h0m2 3h0m0-8h0m4 1h0m3-1h0m1-3h0m0 4h0m2-2h0m3 3h0m2 5h0m0-4h0m1-4h0m1 5h0m2 1h0m0-5h0m1 0h0m3 0h0m1-3h0m1 4h0m1-2h0m0 8h0m3 1h0m1-10h0m2 9h0m7-2h0m5-7h0m4 6h0m2-7h0m0 8h0m3-6h0m0 4h0m2-4h0m0 8h0m2 1h0m3 0h0m0-6h0m2-2h0m2 4h0m1 1h0m1-2h0m7-3h0m5 7h0m1-8h0m2 1h0m1 4h0m1 4h0m6-10h0m0 4h0m1-4h0m1 4h0m3 1h0m1 4h0m5-9h0m0 9h0m4-6h0m0 4h0m2-6h0m0 8h0m1-4h0m2-2h0m1-4h0m5 2h0m2 1h0m3-2h0m1 4h0m4-3h0m5 6h0m6 0h0m8 3h0m1-9h0m0 4h0m3 3h0m0-8h0m5 1h0m2 5h0m2-6h0m0 4h0m3-4h0m0 9h0m0-5h0m3-4h0m0 9h0m0-5h0m3 3h0m1-4h0m0-4h0m1 0h0m2 4h0m0 4h0m6 2h0m1-9h0m0 4h0m1-3h0m2 5h0m3-4h0m6 5h0m2-1h0m4 0h0m2 3h0m2-9h0m2 5h0m0 4h0m0-8h0m3 1h0m0 4h0m1 4h0m2-2h0m1-8h0m0 4h0m2 4h0m0-5h0m1-4h0m2 4h0m87 0h0m2 2h0m7-1h0m7 4h0m17-9h0m15 1h0m2 4h0m6-3h0m9 7h0m45 0h0m1-3h0m5-6h0m1 4h0m4 6h0m2-7h0m1 1h0m8-3h0m-577 21h0m1-3h0m2 2h0m0-2h0m6 3h0m1-6h0m3 5h0m3-4h0m4 6h0m2-10h0m31 4h0m4-3h0m5 5h0m0-7h0m1 3h0m7 4h0m1-4h0m0 8h0m8-8h0m2-3h0m2 10h0m5-5h0m0-2h0m1 6h0m5-6h0m5-3h0m2 2h0m1-1h0m5 9h0m7-10h0m1 0h0m5 8h0m9-3h0m4-4h0m3 0h0m0 4h0m1 5h0m2-9h0m3-1h0m0 11h0m1-3h0m4-8h0m4 7h0m3-2h0m5 6h0m0-5h0m2-2h0m3-4h0m0 4h0m2 0h0m4-3h0m1 6h0m1 4h0m5-9h0m1-2h0m2 10h0m4-6h0m1 4h0m2-5h0m2 7h0m1-8h0m0 4h0m2-3h0m3 2h0m3 2h0m1-5h0m4-1h0m2 6h0m1 1h0m4-3h0m0-5h0m0 2h0m0-1h0m3 6h0m0 4h0m2-2h0m2-6h0m1 8h0m1-11h0m1 6h0m3 1h0m1 2h0m0-3h0m1 3h0m0-1h0m1-6h0m1 6h0m0-5h0m1 3h0m2 1h0m9-5h0m6 0h0m3-2h0m9 3h0m2 8h0m15-11h0m0 4h0m7-4h0m8 3h0m0 8h0m2-4h0m11-2h0m9-5h0m7 2h0m2 4h0m1-4h0m19 2h0m13 2h0m0-5h0m0 9h0m181-4h0m3 0h0m12-5h0m5 10h0m13-4h0m-587 13h0m7-6h0m7 8h0m7-4h0m0-5h0m56 2h0m15 0h0m13 7h0m1-6h0m11-2h0m4 0h0m7 9h0m2-4h0m1-4h0m21 2h0m0 4h0m1-8h0m1 8h0m5-7h0m0 4h0m3 1h0m0 4h0m9-7h0m8 3h0m13-4h0m2-3h0m2 8h0m3-3h0m0-5h0m3 6h0m1-5h0m2-1h0m14 3h0m11 6h0m1-8h0m1 9h0m1-8h0m0 4h0m0 3h0m0-6h0m1 5h0m0 3h0m1-9h0m2 6h0m1-6h0m0 8h0m0-10h0m1 3h0m3-1h0m1 2h0m0 4h0m0-1h0m2 1h0m1-8h0m1 7h0m4-4h0m3-2h0m22 2h0m34 0h0m50-3h0m9 3h0m3-1h0m1 4h0m150-4h0m43 3h0m4-1h0m7-2h0m4 0h0m10 0h0m-619 21h0m5-1h0m21-8h0m5 0h0m4-2h0m2 2h0m6 0h0m63 1h0m13 1h0m13-2h0m1 9h0m2-11h0m13 7h0m31-2h0m1 4h0m9-5h0m11-4h0m7 3h0m15 6h0m33 2h0m1-7h0m1 6h0m0-3h0m1-3h0m0 2h0m1 1h0m0 4h0m1-6h0m0 4h0m0-6h0m2-3h0m0 7h0m1 4h0m1-9h0m1 2h0m1 0h0m0-4h0m1 0h0m0 9h0m0-1h0m0-3h0m1-5h0m0 8h0m1 0h0m0-5h0m1-3h0m0 11h0m2-10h0m2 3h0m2 4h0m319-3h0m6-2h0m-659 20h0m17-3h0m17 3h0m3-2h0m1-4h0m21 6h0m33-11h0m98 3h0m57-3h0m32 9h0m2-4h0m34 1h0m4 2h0m3-6h0m1 1h0m0-2h0m1 0h0m0-1h0m0 3h0m1-2h0m2 0h0m7-1h0m7 2h0m312 1h0m9 5h0m-641 4h0m26 10h0m2-7h0m5 1h0m3 2h0m14-5h0m3 7h0m4-5h0m239 3h0m-286 13h0m1-7h0m4 6h0m1 1h0m0 3h0m8-8h0m6 1h0m0 6h0m17-9h0m5 4h0m-46 10h0m11 9h0m9-9h0m10 9h0m-7 12h0m3-11h0m14 6h0m-45 14h0m1-4h0m13 5h0m11-1h0" stroke="#7cae00" stroke-width="3.4" stroke-linecap="square" fill="none"/>
<path transform="scale(.25)" d="M1252 1713h0m6 10h0m20-2h0m22 6h0m14-5h0m-75 7h0m1 9h0m4-8h0m2 8h0m4-4h0m1 3h0m2 2h0m4-7h0m1 3h0m1 2h0m1 1h0m3 0h0m4-4h0m1-1h0m2 6h0m2-1h0m5 1h0m3-10h0m1 9h0m2 1h0m3-4h0m1 3h0m0-1h0m2-6h0m1 0h0m4 8h0m1-3h0m4-2h0m20 4h0m-89 11h0m3-2h0m7 2h0m2-9h0m0 11h0m3 0h0m2-1h0m1 0h0m0-5h0m2-1h0m0-2h0m3 8h0m1 1h0m0-11h0m0 9h0m0-5h0m1 1h0m1-3h0m0 9h0m1-11h0m3 0h0m0 8h0m1 0h0m0 3h0m1-4h0m0-2h0m1 4h0m0-5h0m1-2h0m0 6h0m1-7h0m1 8h0m0-6h0m0 4h0m2 2h0m0 1h0m1-4h0m1-3h0m0 4h0m0-5h0m0 4h0m0-1h0m1 4h0m1 1h0m1-2h0m0-1h0m0-7h0m0 4h0m1-2h0m1 4h0m1 4h0m0-10h0m0 9h0m1-4h0m0-1h0m1-4h0m1 8h0m0-5h0m0 8h0m1-7h0m0 7h0m3-5h0m2 4h0m0-5h0m2-2h0m4-3h0m1 3h0m1 2h0m1-2h0m3 4h0m2-4h0m1 2h0m6 4h0m1-5h0m2-3h0m5-1h0m5 2h0m-95 11h0m3-1h0m0 8h0m2-5h0m2 1h0m2 4h0m1-5h0m0 4h0m2 3h0m2-8h0m1 3h0m1-3h0m2 1h0m0-1h0m2-1h0m1 3h0m1 4h0m0 3h0m1-2h0m2-7h0m0 2h0m1 5h0m1 0h0m0-2h0m0 4h0m1-1h0m0-10h0m0 3h0m2 6h0m0-1h0m0-6h0m1 6h0m1 1h0m1-7h0m1 5h0m0-3h0m1 1h0m0 3h0m1-7h0m1 1h0m0 9h0m0-5h0m1-1h0m0-1h0m0-1h0m1 4h0m0 1h0m1 3h0m0-5h0m1-6h0m0 9h0m1-7h0m2 7h0m1-4h0m1 0h0m0-1h0m1-3h0m0 4h0m2-3h0m1 1h0m0-2h0m1 4h0m1-1h0m0-1h0m0-1h0m1 1h0m0-1h0m0 4h0m1-5h0m0 6h0m2-4h0m0 4h0m0-6h0m1 4h0m0 2h0m0-1h0m2 5h0m1-4h0m2-7h0m0 6h0m2-4h0m0 3h0m1-5h0m3 6h0m2-4h0m7 9h0m4-4h0m6-7h0m-73 12h0m3 8h0m4-5h0m1-2h0m0 9h0m2-1h0m0-6h0m2-2h0m1 10h0m1-1h0m2-8h0m0 1h0m1-2h0m0 4h0m1 5h0m2-7h0m1-1h0m0-2h0m2 0h0m0 2h0m1 1h0m0-3h0m1 5h0m2 5h0m3-7h0m0 3h0m4-4h0m1 2h0m2-4h0m1 8h0m0-2h0m0-2h0m6-4h0m0 2h0m1 8h0m5-5h0m3 1h0m6-6h0m8 8h0m3 2h0m-82 3h0m4 4h0m15 4h0m5-2h0m2-2h0m0 6h0m0-5h0m1 2h0m0-5h0m0-1h0m0 9h0m0-5h0m2-4h0m0 7h0m2 0h0m1-3h0m64 3h0m-75 9h0m1 1h0m1 4h0m1-4h0m0-5h0m0 4h0m0-5h0m1-1h0m0 3h0m2 5h0m2-8h0m-12 20h0m1-7h0m1 4h0m0-5h0m2 2h0m0 3h0m1 2h0m0 4h0m4-4h0m4-7h0m-14 20h0m1-1h0m2 1h0m0-1h0m0-6h0m2 10h0m0-5h0m1 1h0m1-2h0m-69 18h0m0-3h0m3-2h0m7 1h0m2 0h0m13 4h0m0-1h0m4-3h0m3 2h0m6-1h0m3-3h0m2 6h0m5 0h0m12-10h0m1 7h0m0-3h0m1-1h0m1 4h0m1-8h0m0 11h0m1-3h0m-74 11h0m1-4h0m6 5h0m1-4h0m3 4h0m2-2h0m0-6h0m2 0h0m0 11h0m1-4h0m0 3h0m1-10h0m0 9h0m0-1h0m1-4h0m1 7h0m0-3h0m3 0h0m0 3h0m0-1h0m0-6h0m1 0h0m1 0h0m1 5h0m0-6h0m0 4h0m0-1h0m1-5h0m1 4h0m0 4h0m2-7h0m0 2h0m2 1h0m0-2h0m0 4h0m0-1h0m1 0h0m0 4h0m2-5h0m0 4h0m0-1h0m0-1h0m0-5h0m2 3h0m0 4h0m0-7h0m4 6h0m3-1h0m0 4h0m0-11h0m1 4h0m1 0h0m2 6h0m5 0h0m1-9h0m2 8h0m6-2h0m5 2h0m0-3h0m2-3h0m1-3h0m0 9h0m1-3h0m0-1h0m0 3h0m3-8h0m-85 13h0m18 3h0m12-2h0m1-1h0m3-1h0m0 11h0m1-5h0m0-2h0m2-3h0m0-1h0m5 5h0m0 1h0m4 0h0m2 4h0m2-7h0m1-2h0m0 4h0m0-1h0m1-2h0m2 2h0m1 5h0m1-9h0m1 5h0m4 2h0m0 3h0m2 1h0m0-5h0m2 5h0m1-4h0m1 4h0m1-1h0m1-3h0m1 4h0m0-7h0m0 4h0m1-1h0m3 3h0m1-1h0m0-5h0m0 4h0m0 3h0m2-6h0m0-4h0m2 0h0m3 2h0m-56 9h0m35 0h0m1 2h0m3 1h0m3-1h0m3 4h0m0-5h0m0-1h0m1 3h0m1 1h0m0-1h0m4-3h0m12 17h0m4-2h0m0-3h0m5 4h0m1 4h0m0-8h0m1 9h0m1-5h0m4 2h0m0 4h0m1-1h0m6 0h0m1 1h0m2 1h0m1-8h0m2 1h0m1 6h0m4-2h0m1-4h0m3-2h0m7 3h0m2 3h0m3 1h0m10 2h0m1-3h0m5 3h0m0-5h0m2 2h0m9 3h0m1-3h0m4 0h0m5 3h0m25 0h0m-223 2h0m90 8h0m2 1h0m1 0h0m1 1h0m0-1h0m0-1h0m1 2h0m1-1h0m2-3h0m0-1h0m1 1h0m0-1h0m0 4h0m0-5h0m0 3h0m2-5h0m0 3h0m0-1h0m1-3h0m1 2h0m0-1h0m5 1h0m2-1h0m1 7h0m2-4h0m0-6h0m1 8h0m2-5h0m3 8h0m1-2h0m1-4h0m0-5h0m1 5h0m1-4h0m4 9h0m1-1h0m1-4h0m2 6h0m1-8h0m2-1h0m12-2h0m1 5h0m1-4h0m2 10h0m0-5h0m1-4h0m1-2h0m0 9h0m2-2h0m2 2h0m1-4h0m0 3h0m1-4h0m1-4h0m2 5h0m1-4h0m0 4h0m1 5h0m2-4h0m1-5h0m4 7h0m3-4h0m1-4h0m3 3h0m2-3h0m1 8h0m1 2h0m1-4h0m3-5h0m0-1h0m2 8h0m0-5h0m3 5h0m3-3h0m0-1h0m2-2h0m1 4h0m3 5h0m3-8h0m2 2h0m3 6h0m1-7h0m1-4h0m3 5h0m1 4h0m3-3h0m1-3h0m0 4h0m2-4h0m1 8h0m1-4h0m2-4h0m6 0h0m9 5h0m1-1h0m0-3h0m1 3h0m0 4h0m1-8h0m3 2h0m3-4h0m2 6h0m1-3h0m1 4h0m1 2h0m1-4h0m1 4h0m1-4h0m2 4h0m0-8h0m5 9h0m1 0h0m0-4h0m4-5h0m0 4h0m2 1h0m3-1h0m2 1h0m0 4h0m-205 11h0m4 0h0m1-3h0m3 3h0m1-2h0m0-2h0m1-2h0m0 4h0m0 3h0m2-6h0m0-1h0m0 7h0m1-9h0m1 9h0m1-3h0m0-6h0m1 7h0m2-8h0m0 9h0m0-10h0m1 7h0m1-3h0m1 0h0m2-1h0m0-2h0m1 4h0m0-5h0m14 9h0m1-8h0m1 2h0m0 4h0m2 3h0m7-3h0m0 4h0m3-10h0m4 5h0m0-4h0m2 9h0m0-5h0m2-3h0m1 5h0m3-3h0m4-1h0m0-4h0m2 1h0m1 8h0m1-4h0m1-2h0m1 1h0m4 1h0m2 6h0m1-4h0m1-2h0m0 4h0m5-7h0m1 8h0m2-2h0m1-2h0m3 4h0m1 0h0m2-8h0m2-2h0m1 8h0m2-8h0m0 4h0m0 4h0m2-3h0m0 4h0m2 0h0m2-5h0m1-4h0m2 0h0m0 9h0m1-1h0m3 2h0m1-10h0m0 9h0m5 0h0m4-8h0m1 4h0m1 6h0m5-11h0m1 8h0m3-2h0m2 1h0m0 4h0m1-3h0m4-7h0m1 8h0m5-6h0m2 4h0m1 4h0m2-3h0m2 1h0m3-6h0m0 3h0m1 1h0m3-2h0m1 3h0m1-8h0m0 4h0m1 5h0m2-8h0m1 8h0m2-6h0m1 4h0m2-1h0m0 4h0m3-9h0m0 4h0m2 5h0m0-7h0m2 1h0m7 3h0m0-5h0m1-1h0m1 8h0m2-2h0m1-4h0m0 8h0m2-7h0m1-4h0m2 10h0m1 1h0m0-8h0m1 4h0m1 0h0m0 4h0m1-8h0m2 8h0m-230 10h0m4 1h0m5-1h0m1 0h0m2-2h0m1 4h0m2-8h0m0 8h0m1-3h0m1-2h0m2-4h0m0 8h0m0-5h0m0 3h0m4 1h0m1-1h0m1-5h0m0 3h0m1-1h0m0 2h0m1 0h0m0-1h0m0-1h0m1 1h0m1 2h0m2-3h0m4-5h0m2 4h0m4-4h0m24 1h0m3 6h0m1 4h0m12-9h0m15 4h0m1 1h0m1 4h0m2-11h0m5 11h0m1-4h0m2 3h0m1-9h0m2 3h0m2 2h0m0 4h0m7-8h0m4 0h0m0 4h0m1 3h0m5-8h0m0 4h0m4-2h0m3-3h0m2 6h0m1 5h0m1-10h0m3 7h0m3-3h0m0 4h0m4-3h0m1 1h0m2-4h0m4 1h0m0 4h0m1-4h0m3-1h0m3-2h0m5 0h0m1 1h0m3-2h0m4 8h0m8-4h0m1 4h0m3-4h0m1 4h0m1-2h0m2 3h0m3-9h0m6 2h0m1 4h0m4-6h0m0 9h0m3 2h0m4-5h0m0 4h0m6-1h0m0-6h0m2 8h0m1-9h0m2 6h0m2 2h0m1-3h0m1 3h0m1-3h0m4-3h0m2-1h0m1 1h0m0 6h0m1-7h0m-257 14h0m8 5h0m3-5h0m0-2h0m1 5h0m1-3h0m6 4h0m3 2h0m0-7h0m2 7h0m0-3h0m0-5h0m1 3h0m0 1h0m1-5h0m1 7h0m2-3h0m0-5h0m0 8h0m1 0h0m2 2h0m2-8h0m1 7h0m0-8h0m1-1h0m3 5h0m2-4h0m2 3h0m2-4h0m41 6h0m15 4h0m1-4h0m11-5h0m2 4h0m1 2h0m3-7h0m5 2h0m4 7h0m3 1h0m0-4h0m5 0h0m2-5h0m4-1h0m0 8h0m2-4h0m3 5h0m1-9h0m0 4h0m10-2h0m6 2h0m1-4h0m4 9h0m1-7h0m11 5h0m9 3h0m4-11h0m11 4h0m4 5h0m6-5h0m4-2h0m17-2h0m0 4h0m1 2h0m0 2h0m5-5h0m0 4h0m3 2h0m4 1h0m1-6h0m2-3h0m1 2h0m0 3h0m7 2h0m-309 10h0m4-2h0m11 0h0m9 7h0m4 0h0m2-1h0m8-10h0m1 1h0m6 7h0m2-6h0m0 8h0m1 1h0m2-4h0m0-5h0m1 3h0m3 3h0m2-3h0m1-1h0m0 6h0m2-1h0m0-5h0m1 6h0m1-9h0m1 4h0m1 1h0m1-5h0m1 8h0m0 2h0m2-1h0m5-6h0m1-4h0m3 5h0m0-5h0m1 2h0m3 9h0m1-2h0m2-6h0m80 3h0m2 2h0m9-8h0m6 3h0m0 8h0m7-8h0m6 6h0m18-8h0m3 0h0m2 5h0m4 2h0m33-8h0m0 4h0m10-3h0m26 0h0m2 2h0m5 2h0m1-3h0m0 3h0m0 4h0m1-1h0m3 1h0m3-1h0m2 2h0m10 0h0m-324 11h0m1-1h0m0 3h0m4-3h0m2 1h0m11-4h0m2-2h0m4 2h0m1 0h0m2 2h0m2 2h0m5 1h0m1-4h0m1 5h0m2-10h0m1 7h0m3-3h0m6 3h0m0-5h0m0 2h0m3-5h0m0 11h0m4-1h0m1 1h0m3-2h0m1-7h0m0 8h0m3-2h0m1-3h0m4 1h0m0-3h0m2 0h0m1-3h0m1 2h0m3 4h0m1-5h0m6 2h0m3-3h0m135 1h0m43 0h0m35 1h0m0 8h0m1-6h0m0-4h0m8 3h0m-321 17h0m11 3h0m4-7h0m3 5h0m1-2h0m1 1h0m0-7h0m0 9h0m1-8h0m3 7h0m0-6h0m1 7h0m1-4h0m4 1h0m1 1h0m0-1h0m0-1h0m1 2h0m0-5h0m1 7h0m1-1h0m2-3h0m1 5h0m0-3h0m2-7h0m0-1h0m1 5h0m1 1h0m0-5h0m1 2h0m1 4h0m4-3h0m1 4h0m3 1h0m7-9h0m1 7h0m1-3h0m3-4h0m1 4h0m1-4h0m1 4h0m0-4h0m1 3h0m0 4h0m6 0h0m2 2h0m13 1h0m3-8h0m221 0h0m-303 18h0m2-3h0m1-1h0m4-3h0m1 7h0m1 1h0m2-9h0m0 9h0m3 1h0m2-2h0m1-7h0m5 6h0m2-2h0m0 4h0m2-7h0m0 9h0m1-11h0m0 3h0m2 1h0m0 3h0m1 1h0m2-4h0m1 6h0m1-5h0m0 4h0m2 2h0m2-11h0m0 7h0m0-5h0m1 4h0m1-5h0m1-1h0m2 1h0m0 1h0m2 6h0m0-2h0m5-5h0m0 3h0m1-4h0m1 1h0m5 4h0m-55 11h0m3 4h0m4-2h0m3-2h0m0-1h0m0 8h0m1-11h0m2 2h0m3 6h0m0-1h0m0-5h0m1 5h0m0 2h0m1 1h0m3-7h0m1 6h0m2-5h0m0 6h0m1-6h0m0 4h0m1 1h0m0-5h0m0 2h0m1-1h0m2-1h0m1 3h0m0-5h0m1 6h0m3-8h0m3 10h0m1 1h0m1-8h0m0 4h0m0 3h0m2-8h0m1-2h0m1 0h0m1 3h0m2 7h0m8-2h0m2-1h0m5-7h0m-63 19h0m1-1h0m4 0h0m3-1h0m0-3h0m0 4h0m2 2h0m3-8h0m3 8h0m0 2h0m2 1h0m0-10h0m1 1h0m3 0h0m1 0h0m0 2h0m1 3h0m1 2h0m4-1h0m4-5h0m4 1h0m5 7h0m42-4h0m-95 8h0m4 2h0m14-1h0m11 3h0m2-6h0m1 6h0m1-6h0m0 3h0m2-1h0m3 1h0m2 5h0m1 0h0m4-8h0m4 7h0m1-1h0m0 4h0m9-7h0m24 7h0m-64 1h0m9 1h0m2-1h0m0 2h0m2-1h0m10 1h0m4 0h0m1 5h0m10-1h0m6-5h0m20 7h0m2-7h0m0 7h0m-101 15h0m27-2h0m12-8h0m6 4h0m4-4h0m4 8h0m13 2h0m3-4h0m0 2h0m2-7h0m18 0h0m4 1h0m7 6h0m10 0h0m13-4h0m-103 16h0m4-6h0m54 5h0m6-5h0m-94 12h0m44 1h0m3 0h0m11 3h0m9 3h0m1-2h0m1 1h0m3-2h0m8 2h0m0-7h0m21 0h0m2 1h0m24 1h0m-105 11h0m4-2h0m23-1h0m4 1h0m6 7h0m22-2h0m1-2h0m-75 10h0m53 7h0m2-8h0m0 6h0m-77 5h0m25 7h0m41-4h0m15 7h0" stroke="#f8766d" stroke-width="3.4" stroke-linecap="square" fill="none"/>
<path transform="scale(.25)" d="M1184 1834h0m-6 12h0m0-1h0m7 1h0m4 0h0m0-3h0m3 2h0m7-3h0m0-5h0m0 1h0m2 7h0m5-5h0m5 3h0m2 3h0m2-3h0m6 2h0m-39 5h0m8 9h0m3-10h0m4-1h0m1 3h0m8 2h0m13-1h0m1 1h0m0-2h0m1 7h0m1-4h0m7 4h0m2 3h0m-123 78h0m45 4h0m-49 9h0m3-4h0m1 3h0m2-3h0m2 4h0m3 2h0m3-1h0m0 1h0m3-3h0m1 4h0m3-1h0m3-2h0m1-2h0m1-4h0m5-2h0m3 3h0m3 0h0m8-1h0m3 4h0m-70 10h0m16 1h0m10 6h0m2-3h0m3-6h0m1 9h0m0-3h0m0-3h0m1-2h0m0 2h0m1 2h0m2-6h0m1 4h0m4 4h0m3-4h0m1-1h0m0 4h0m1 3h0m1-3h0m0-6h0m2-1h0m3 2h0m0 1h0m1 7h0m1-2h0m0 2h0m2-2h0m4-6h0m3 6h0m7 2h0m6-8h0m-63 11h0m5 8h0m3 0h0m1-10h0m2 5h0m3 2h0m3 4h0m1-11h0m1 3h0m1 0h0m2 2h0m2 6h0m1-10h0m6 7h0m1-4h0m0 4h0m1-7h0m1 5h0m0-5h0m2 4h0m1 2h0m0-5h0m4 3h0m3 3h0m1 3h0m1-2h0m0 2h0m5-1h0m2-10h0m-55 23h0m7-5h0m2-6h0m5 8h0m1 3h0m4-5h0m0-4h0m1 1h0m2 3h0m0 1h0m2 2h0m1-9h0m1 4h0m2 1h0m0 6h0m2-5h0m2-1h0m0 4h0m0-5h0m2-2h0m3 0h0m0 4h0m3-5h0m0 4h0m0-3h0m5 2h0m0-3h0m0 4h0m2-1h0m5 6h0m6-5h0m0 4h0m11-2h0m10-7h0m-71 17h0m7-5h0m4 1h0m7 3h0m2 1h0m3 3h0m2-2h0m4 5h0m2-8h0m2 7h0m0-3h0m6-3h0m2 4h0m1 1h0m1-4h0m0 2h0m1-1h0m2-1h0m2 5h0m3-6h0m2 3h0m-60 7h0m14 2h0m8-1h0m5-1h0m3 0h0m2 1h0m0 4h0m5-2h0m2-1h0m0 4h0m5-3h0m37 2h0m19 2h0m11-5h0m-97 15h0m7 2h0m0-7h0m3 3h0m7 5h0m0-3h0m20 2h0m-64 13h0m39-2h0m18-5h0m11-1h0m2 1h0m3 5h0m5-4h0m-45 15h0m12 0h0m9-3h0m7 16h0m-83 10h0m17 1h0m13 4h0m6-2h0m5-3h0m13-2h0m2-2h0m4 5h0m-46 7h0m39-1h0" stroke="#c77cff" stroke-width="3.4" stroke-linecap="square" fill="none"/>
<circle cx="308.27" cy="465.30" r="1.5" fill="#111"/>
<circle cx="310.20" cy="471.69" r="1.5" fill="#111"/>
<circle cx="352.85" cy="476.19" r="1.5" fill="#111"/>
<text x="264.8" y="421.0" font-size="3.3" fill="#222" font-weight="bold">subtype</text>
<circle cx="285.20" cy="419.8" r="0.75" fill="#f8766d"/>
<text x="287.8" y="421.0" font-size="3.2" fill="#333">CD8+ CTL−GNLY</text>
<circle cx="323.80" cy="419.8" r="0.75" fill="#7cae00"/>
<text x="326.4" y="421.0" font-size="3.2" fill="#333">CD8+ CTL−GZMK</text>
<circle cx="366.80" cy="419.8" r="0.75" fill="#00bfc4"/>
<text x="369.4" y="421.0" font-size="3.2" fill="#333">CD8+ naive T</text>
<circle cx="404.50" cy="419.8" r="0.75" fill="#c77cff"/>
<text x="407.1" y="421.0" font-size="3.2" fill="#333">CD8+ NKT</text>
<text x="448.2" y="176.8" font-size="14" font-weight="bold" font-family="'Liberation Serif', serif">F</text>
<path d="M470.3 173.8L470.3 237.8" stroke="#9a9a9a" stroke-width="0.45"/>
<path d="M469.4 182.3L470.3 182.3" stroke="#777" stroke-width="0.35"/>
<text x="468.8" y="183.3" font-size="3" text-anchor="end" fill="#333">20</text>
<path d="M469.4 199.2L470.3 199.2" stroke="#777" stroke-width="0.35"/>
<text x="468.8" y="200.2" font-size="3" text-anchor="end" fill="#333">10</text>
<path d="M469.4 218.5L470.3 218.5" stroke="#777" stroke-width="0.35"/>
<text x="468.8" y="219.5" font-size="3" text-anchor="end" fill="#333">3</text>
<path d="M469.4 235.3L470.3 235.3" stroke="#777" stroke-width="0.35"/>
<text x="468.8" y="236.3" font-size="3" text-anchor="end" fill="#333">1</text>
<text x="516.3" y="172.5" font-size="3.2" text-anchor="middle" fill="#222">CCL5</text>
<path d="M473.8 235.3L514.0 235.3" stroke="#f8766d" stroke-width="1.3"/>
<path d="M514.0 235.3L516.7 235.3" stroke="#fb61d7" stroke-width="1.3"/>
<path d="M516.7 235.3L532.3 235.3" stroke="#c49a00" stroke-width="1.3"/>
<path d="M532.3 235.3L537.8 235.3" stroke="#53b400" stroke-width="1.3"/>
<path d="M537.8 235.3L541.3 235.3" stroke="#a58aff" stroke-width="1.3"/>
<path d="M541.3 235.3L544.8 235.3" stroke="#53b400" stroke-width="1.3"/>
<path d="M544.8 235.3L549.5 235.3" stroke="#00b6eb" stroke-width="1.3"/>
<path d="M549.5 235.3L559.6 235.3" stroke="#53b400" stroke-width="1.3"/>
<path d="M473.6 224.5H480.8M481.7 224.5H513.6" stroke="#f98179" stroke-width="0.75" fill="none"/>
<path d="M473.6 218.1H478.4M479.3 218.1H482.4M484.1 218.1H487.2M488.1 218.1H500.8M501.7 218.1H508.0M508.9 218.1H512.8" stroke="#f98179" stroke-width="0.75" fill="none"/>
<path d="M473.6 210.1H479.2M481.7 210.1H484.0M484.9 210.1H487.2M488.1 210.1H489.6M490.5 210.1H491.2M493.7 210.1H494.4M495.3 210.1H496.0M496.9 210.1H498.4M500.1 210.1H501.6M502.5 210.1H506.4M507.3 210.1H508.8M510.5 210.1H511.2M512.1 210.1H513.6" stroke="#f98179" stroke-width="0.75" fill="none"/>
<path d="M474.4 207.3H480.0M481.7 207.3H482.4M483.3 207.3H484.0M484.9 207.3H490.4M491.3 207.3H494.4M495.3 207.3H496.0M496.9 207.3H497.6M499.3 207.3H500.0M500.9 207.3H503.2M504.9 207.3H508.8M511.3 207.3H513.6" stroke="#f98179" stroke-width="0.75" fill="none"/>
<path d="M474.4 204.9H475.2M476.1 204.9H478.4M479.3 204.9H480.8M481.7 204.9H482.4M483.3 204.9H484.0M486.5 204.9H487.2M489.7 204.9H490.4M493.7 204.9H500.8M502.5 204.9H504.0M507.3 204.9H508.8M509.7 204.9H510.4M511.3 204.9H512.0" stroke="#f98179" stroke-width="0.75" fill="none"/>
<path d="M475.2 213.6H479.2M480.1 213.6H483.2M484.1 213.6H485.6M486.5 213.6H488.8M489.7 213.6H499.2M500.1 213.6H503.2M504.1 213.6H505.6M508.9 213.6H509.6M512.1 213.6H512.8" stroke="#f98179" stroke-width="0.75" fill="none"/>
<path d="M475.2 202.8H477.6M478.5 202.8H479.2M481.7 202.8H483.2M485.7 202.8H486.4M487.3 202.8H488.0M489.7 202.8H490.4M491.3 202.8H492.0M496.1 202.8H496.8M497.7 202.8H498.4M501.7 202.8H502.4M504.1 202.8H504.8M505.7 202.8H507.2M508.9 202.8H509.6M510.5 202.8H511.2" stroke="#f98179" stroke-width="0.75" fill="none"/>
<path d="M513.7 224.5H514.4M515.3 224.5H516.8" stroke="#fb6eda" stroke-width="0.75" fill="none"/>
<path d="M513.7 218.1H516.8" stroke="#fb6eda" stroke-width="0.75" fill="none"/>
<path d="M513.7 213.6H516.8" stroke="#fb6eda" stroke-width="0.75" fill="none"/>
<path d="M513.7 210.1H514.4M515.3 210.1H516.8" stroke="#fb6eda" stroke-width="0.75" fill="none"/>
<path d="M513.7 207.3H514.4M515.3 207.3H516.8" stroke="#fb6eda" stroke-width="0.75" fill="none"/>
<path d="M513.7 204.9H514.4" stroke="#fb6eda" stroke-width="0.75" fill="none"/>
<path d="M513.7 202.8H515.2M516.1 202.8H516.8" stroke="#fb6eda" stroke-width="0.75" fill="none"/>
<path d="M516.9 224.5H531.9" stroke="#c9a214" stroke-width="0.75" fill="none"/>
<path d="M516.9 218.1H531.9" stroke="#c9a214" stroke-width="0.75" fill="none"/>
<path d="M516.9 213.6H519.2M520.1 213.6H529.5M530.4 213.6H531.9" stroke="#c9a214" stroke-width="0.75" fill="none"/>
<path d="M516.9 210.1H529.5M530.4 210.1H531.1" stroke="#c9a214" stroke-width="0.75" fill="none"/>
<path d="M516.9 207.3H517.6M518.5 207.3H523.1M524.8 207.3H528.7M529.6 207.3H531.9" stroke="#c9a214" stroke-width="0.75" fill="none"/>
<path d="M516.9 204.9H517.6M519.3 204.9H529.5M530.4 204.9H531.9" stroke="#c9a214" stroke-width="0.75" fill="none"/>
<path d="M516.9 202.8H521.6M522.4 202.8H523.9M524.8 202.8H526.3M527.2 202.8H529.5M530.4 202.8H531.1" stroke="#c9a214" stroke-width="0.75" fill="none"/>
<path d="M532.0 224.5H538.3M539.2 224.5H539.9M541.6 224.5H543.9M544.8 224.5H545.5M547.2 224.5H547.9M549.6 224.5H553.5M554.4 224.5H555.1M556.8 224.5H559.1" stroke="#61ba14" stroke-width="0.75" fill="none"/>
<path d="M532.0 218.1H538.3M539.2 218.1H539.9M541.6 218.1H543.9M544.8 218.1H545.5M546.4 218.1H547.9M549.6 218.1H554.3M556.0 218.1H559.1" stroke="#61ba14" stroke-width="0.75" fill="none"/>
<path d="M532.0 213.6H538.3M539.2 213.6H539.9M541.6 213.6H543.9M544.8 213.6H545.5M546.4 213.6H547.9M549.6 213.6H555.9M556.8 213.6H559.1" stroke="#61ba14" stroke-width="0.75" fill="none"/>
<path d="M532.0 210.1H536.7M537.6 210.1H538.3M539.2 210.1H539.9M541.6 210.1H543.9M544.8 210.1H545.5M546.4 210.1H547.9M549.6 210.1H553.5M554.4 210.1H559.1" stroke="#61ba14" stroke-width="0.75" fill="none"/>
<path d="M532.0 207.3H538.3M539.2 207.3H539.9M541.6 207.3H543.9M544.8 207.3H545.5M546.4 207.3H547.9M551.2 207.3H559.1" stroke="#61ba14" stroke-width="0.75" fill="none"/>
<path d="M532.0 204.9H538.3M539.2 204.9H539.9M541.6 204.9H543.9M544.8 204.9H545.5M546.4 204.9H547.9M549.6 204.9H553.5M554.4 204.9H558.3" stroke="#61ba14" stroke-width="0.75" fill="none"/>
<path d="M532.8 202.8H535.9M536.8 202.8H538.3M539.2 202.8H539.9M541.6 202.8H543.9M544.8 202.8H545.5M546.4 202.8H547.9M549.6 202.8H550.3M552.0 202.8H559.1" stroke="#61ba14" stroke-width="0.75" fill="none"/>
<path d="M538.4 224.5H539.1M540.0 224.5H541.5" stroke="#ac93ff" stroke-width="0.75" fill="none"/>
<path d="M538.4 218.1H539.1M540.0 218.1H541.5" stroke="#ac93ff" stroke-width="0.75" fill="none"/>
<path d="M538.4 213.6H539.1M540.0 213.6H541.5" stroke="#ac93ff" stroke-width="0.75" fill="none"/>
<path d="M538.4 210.1H539.1M540.0 210.1H541.5" stroke="#ac93ff" stroke-width="0.75" fill="none"/>
<path d="M538.4 207.3H539.1M540.0 207.3H541.5" stroke="#ac93ff" stroke-width="0.75" fill="none"/>
<path d="M538.4 204.9H539.1M540.0 204.9H541.5" stroke="#ac93ff" stroke-width="0.75" fill="none"/>
<path d="M538.4 202.8H539.1M540.0 202.8H541.5" stroke="#ac93ff" stroke-width="0.75" fill="none"/>
<path d="M544.0 224.5H544.7" stroke="#14c59d" stroke-width="0.75" fill="none"/>
<path d="M544.0 218.1H544.7" stroke="#14c59d" stroke-width="0.75" fill="none"/>
<path d="M544.0 213.6H544.7" stroke="#14c59d" stroke-width="0.75" fill="none"/>
<path d="M544.0 210.1H544.7" stroke="#14c59d" stroke-width="0.75" fill="none"/>
<path d="M544.0 207.3H544.7" stroke="#14c59d" stroke-width="0.75" fill="none"/>
<path d="M544.0 204.9H544.7" stroke="#14c59d" stroke-width="0.75" fill="none"/>
<path d="M544.0 202.8H544.7" stroke="#14c59d" stroke-width="0.75" fill="none"/>
<path d="M545.6 224.5H546.3M548.0 224.5H549.5" stroke="#14bced" stroke-width="0.75" fill="none"/>
<path d="M545.6 218.1H546.3M548.0 218.1H549.5" stroke="#14bced" stroke-width="0.75" fill="none"/>
<path d="M545.6 213.6H546.3M548.0 213.6H549.5" stroke="#14bced" stroke-width="0.75" fill="none"/>
<path d="M545.6 210.1H546.3M548.0 210.1H549.5" stroke="#14bced" stroke-width="0.75" fill="none"/>
<path d="M545.6 207.3H546.3M548.0 207.3H548.7" stroke="#14bced" stroke-width="0.75" fill="none"/>
<path d="M545.6 204.9H546.3M548.0 204.9H549.5" stroke="#14bced" stroke-width="0.75" fill="none"/>
<path d="M545.6 202.8H546.3M548.0 202.8H549.5" stroke="#14bced" stroke-width="0.75" fill="none"/>
<path transform="scale(.25)" d="M2019 745h0m-116 22h0m92-8h0m-83 9h0m26 7h0m11 1h0m13-6h0m78 6h0m7 1h0m-151 5h0m4 3h0m9-1h0m6 2h0m8 4h0m44-3h0m11-1h0m4-2h0m9 5h0m5-2h0m12 1h0m40-1h0m-87 10h0m17-1h0m14 6h0m12 0h0m6-2h0m4 1h0m12-4h0m0 4h0m-122 5h0m37 0h0m4-1h0m2 2h0m69-1h0" stroke="#f98179" stroke-width="3" stroke-linecap="square" fill="none"/>
<path transform="scale(.25)" d="M2057 737h0m3 14h0m1-1h0m2 0h0m1 1h0m3-1h0m1 5h0m-13 10h0m4-9h0m1 5h0m5 5h0m-11 12h0m5-6h0m7 3h0m-7 14h0m4 1h0m-5 12h0" stroke="#fb6eda" stroke-width="3" stroke-linecap="square" fill="none"/>
<path transform="scale(.25)" d="M2072 734h0m14 2h0m12 3h0m5-2h0m2 5h0m5-2h0m6 1h0m12-4h0m-62 9h0m1 1h0m2 6h0m2 0h0m3-5h0m3 2h0m1-4h0m4 8h0m10-4h0m2 0h0m3 4h0m10-7h0m3 4h0m0-1h0m4-2h0m1 5h0m1-9h0m0 2h0m6 4h0m4 4h0m-52 13h0m14-5h0m2-6h0m1 4h0m6 5h0m7-7h0m4-2h0m16 10h0m1-2h0m-54 15h0m0-5h0m4 3h0m3-7h0m0 3h0m2 3h0m1-7h0m0 2h0m1 4h0m6 3h0m3 1h0m8-5h0m2 4h0m2-2h0m0-6h0m2 6h0m0-5h0m4 5h0m7 3h0m0-6h0m1 5h0m2-4h0m2 3h0m1-7h0m0 5h0m-55 7h0m6 7h0m3-3h0m1-6h0m3 6h0m3 0h0m0-5h0m1 2h0m6 8h0m1-9h0m0 5h0m3 2h0m0 1h0m3-6h0m1 6h0m1-2h0m4-5h0m1 3h0m1 1h0m2-3h0m0 4h0m6-4h0m1 5h0m1-6h0m3 2h0m2 6h0m1-11h0m4 4h0m2-4h0m0 9h0m-59 5h0m1 1h0m3 8h0m7-11h0m2 5h0m2-3h0m1 6h0m2 0h0m0-7h0m0 2h0m1 1h0m0-1h0m1 3h0m5-2h0m1-4h0m2 7h0m5-1h0m1-5h0m3 1h0m2 6h0m2 1h0m1 2h0m1-7h0m1 5h0m1-9h0m3 0h0m1 2h0m4-2h0m1 10h0m1-10h0m0 11h0m1-1h0m1-4h0m0 2h0m-54 7h0m3-1h0m2 0h0m3 0h0m13 2h0m1-4h0m13 3h0" stroke="#c9a214" stroke-width="3" stroke-linecap="square" fill="none"/>
<path transform="scale(.25)" d="M2225 731h0m4-1h0m-97 11h0m4-4h0m2-3h0m11 9h0m3-4h0m0-6h0m6 7h0m8-2h0m4 5h0m4-1h0m0-10h0m16 3h0m10-2h0m1 3h0m6 0h0m2 2h0m4 3h0m22 0h0m-106 13h0m0-10h0m3 7h0m1-1h0m1 2h0m0-7h0m0 9h0m1-1h0m1-5h0m0-1h0m3 6h0m0-4h0m1 4h0m1-2h0m0 4h0m0-1h0m1 1h0m0-7h0m2-3h0m5 9h0m1-5h0m1 5h0m1-3h0m1 3h0m4-1h0m1-3h0m0 2h0m2-6h0m1-2h0m5 8h0m2-2h0m2-4h0m1 4h0m0 2h0m1-5h0m10 3h0m3 0h0m1-2h0m1 2h0m0 1h0m2-2h0m1-3h0m0 8h0m2-6h0m7 0h0m1 0h0m3 7h0m2-4h0m0 2h0m0 1h0m1-9h0m0 8h0m3-2h0m0-5h0m0 8h0m2-8h0m2-1h0m4 0h0m4 6h0m4-5h0m4 0h0m-100 17h0m2-2h0m0-5h0m2 11h0m4-8h0m2-2h0m2 5h0m1-6h0m1 2h0m1 5h0m1-3h0m0-4h0m4 5h0m0 2h0m2-1h0m8 4h0m23-7h0m10-3h0m9 5h0m1 2h0m4-5h0m3 0h0m3 5h0m0 4h0m1-5h0m0-5h0m0 1h0m3-1h0m1 6h0m14 1h0m2 0h0m1-7h0m-106 19h0m2-7h0m3 7h0m3-2h0m2-1h0m3 3h0m0-5h0m3 3h0m1 1h0m2-2h0m1 4h0m3-8h0m3-1h0m14 0h0m1 3h0m1-3h0m1 5h0m1 3h0m1-7h0m0 9h0m4-3h0m3-4h0m1 6h0m5 2h0m2-8h0m3 8h0m0-8h0m10-3h0m1 11h0m2-5h0m1 5h0m2-2h0m2-1h0m5 0h0m7-1h0m2-3h0m2 2h0m4 3h0m3-2h0m2-3h0m-102 14h0m1-4h0m2 3h0m1 3h0m0-1h0m2-2h0m7-4h0m1 8h0m0-4h0m0 2h0m3 3h0m1-1h0m8-4h0m9 3h0m1 0h0m2-1h0m2-5h0m2 2h0m1-1h0m0 8h0m4-8h0m1 8h0m1-7h0m0 6h0m2-9h0m2 1h0m5 6h0m8-4h0m2 6h0m1-4h0m3 5h0m1-8h0m1-3h0m1 0h0m3 11h0m1-6h0m5-4h0m4 1h0m1 5h0m2-5h0m2 7h0m1-8h0m1-1h0m2 3h0m6-2h0m2 3h0m-108 11h0m1-3h0m5 6h0m7 3h0m3-6h0m1 2h0m1 5h0m5-3h0m5 0h0m2 3h0m8 1h0m7-8h0m1 1h0m4 1h0m8 6h0m12-10h0m1 5h0m2-3h0m1 0h0m4 7h0m2-10h0m0 10h0m2-3h0m6-1h0m1-6h0m1 4h0m2 2h0m11-2h0m1-4h0m-104 13h0m2-1h0m11 2h0m7-2h0m1 1h0m1 3h0m8-3h0m15-1h0m0 2h0m13 0h0m4-1h0m12 2h0m11-3h0m3 2h0" stroke="#61ba14" stroke-width="3" stroke-linecap="square" fill="none"/>
<path transform="scale(.25)" d="M2179 736h0m-2 9h0m0 8h0m0 15h0m1 6h0m-2 9h0m3-3h0m-3 13h0m2 0h0m1-1h0" stroke="#14c59d" stroke-width="3" stroke-linecap="square" fill="none"/>
<path transform="scale(.25)" d="M2153 727h0m0-5h0m1 7h0m0-1h0m2-8h0m4 10h0m-7 3h0m3 6h0m5-5h0m4 6h0m1 1h0m-10 9h0m8 2h0m1-1h0m-5 9h0m1 6h0m2 0h0m1 1h0m1-2h0m-8 9h0m0-5h0m3 6h0m1 0h0m1 0h0m1-6h0m3 10h0m0-4h0m-11 10h0m0-3h0m0 2h0m1 1h0m4 6h0m0-3h0m1 0h0m2-8h0m0 3h0m1-1h0m0 9h0m-9 7h0m6 0h0m0 3h0m1 2h0m4-1h0m2-5h0m-6 11h0" stroke="#ac93ff" stroke-width="3" stroke-linecap="square" fill="none"/>
<path transform="scale(.25)" d="M2184 723h0m0 6h0m2-3h0m6 1h0m1-5h0m2 0h0m2 9h0m-14 10h0m1-7h0m1 9h0m8-3h0m1 0h0m0-1h0m0 2h0m1-8h0m3 3h0m1-3h0m-6 18h0m1-4h0m3 1h0m-13 10h0m0 9h0m1-2h0m1-3h0m9 5h0m3-2h0m1-9h0m-19 16h0m0-4h0m4 3h0m1 3h0m7-4h0m2 4h0m0 2h0m2-7h0m1 0h0m0 3h0m0 6h0m1-9h0m-17 18h0m13 1h0m2-3h0m1-2h0m0 3h0m-11 12h0m7 0h0m3 7h0" stroke="#14bced" stroke-width="3" stroke-linecap="square" fill="none"/>
<path d="M474.30 235.30 C475.23 235.30 484.19 236.08 485.50 235.30 C486.81 234.53 489.04 227.69 490.00 226.00 C490.96 224.31 495.75 216.58 497.00 215.00 C498.25 213.42 503.50 208.12 505.00 207.00 C506.50 205.88 512.92 202.12 515.00 201.50 C517.08 200.88 527.50 199.71 530.00 199.50 C532.50 199.29 542.67 199.17 545.00 199.00 C547.33 198.83 556.92 197.62 558.00 197.50" fill="none" stroke="#222" stroke-width="0.55"/>
<path d="M572.4 173.8L572.4 237.8" stroke="#9a9a9a" stroke-width="0.45"/>
<path d="M571.5 186.9L572.4 186.9" stroke="#777" stroke-width="0.35"/>
<text x="570.9" y="187.9" font-size="3" text-anchor="end" fill="#333">10</text>
<path d="M571.5 212.4L572.4 212.4" stroke="#777" stroke-width="0.35"/>
<text x="570.9" y="213.4" font-size="3" text-anchor="end" fill="#333">3</text>
<path d="M571.5 235.3L572.4 235.3" stroke="#777" stroke-width="0.35"/>
<text x="570.9" y="236.3" font-size="3" text-anchor="end" fill="#333">1</text>
<text x="619.5" y="172.5" font-size="3.2" text-anchor="middle" fill="#222">CCR7</text>
<path d="M577.0 235.3L616.4 235.3" stroke="#f8766d" stroke-width="1.3"/>
<path d="M616.4 235.3L619.1 235.3" stroke="#fb61d7" stroke-width="1.3"/>
<path d="M619.1 235.3L634.5 235.3" stroke="#c49a00" stroke-width="1.3"/>
<path d="M634.5 235.3L639.8 235.3" stroke="#53b400" stroke-width="1.3"/>
<path d="M639.8 235.3L643.3 235.3" stroke="#a58aff" stroke-width="1.3"/>
<path d="M643.3 235.3L646.7 235.3" stroke="#53b400" stroke-width="1.3"/>
<path d="M646.7 235.3L651.3 235.3" stroke="#00b6eb" stroke-width="1.3"/>
<path d="M651.3 235.3L661.3 235.3" stroke="#53b400" stroke-width="1.3"/>
<path d="M576.9 220.9H578.4M579.2 220.9H580.7M581.6 220.9H583.9M585.6 220.9H591.1M592.8 220.9H593.5M596.0 220.9H597.5M598.4 220.9H599.1M601.6 220.9H602.3M603.2 220.9H605.5M609.6 220.9H610.3M613.6 220.9H614.3M615.2 220.9H615.9" stroke="#f98179" stroke-width="0.75" fill="none"/>
<path d="M576.9 206.4H577.6M578.4 206.4H579.1M580.8 206.4H581.5M582.4 206.4H583.1M585.6 206.4H586.3M588.0 206.4H588.7" stroke="#f98179" stroke-width="0.75" fill="none"/>
<path d="M577.6 212.4H578.4M579.2 212.4H583.9M585.6 212.4H586.3M587.2 212.4H587.9M588.8 212.4H589.5M595.2 212.4H595.9M609.6 212.4H610.3M611.2 212.4H611.9M614.4 212.4H615.1" stroke="#f98179" stroke-width="0.75" fill="none"/>
<path d="M577.6 201.7H578.4M580.8 201.7H581.5M583.2 201.7H583.9M584.8 201.7H585.5M587.2 201.7H587.9" stroke="#f98179" stroke-width="0.75" fill="none"/>
<path d="M577.6 194.7H578.4" stroke="#f98179" stroke-width="0.75" fill="none"/>
<path d="M580.8 192.0H581.5M582.4 192.0H583.1" stroke="#f98179" stroke-width="0.75" fill="none"/>
<path d="M616.8 212.4H617.5" stroke="#fb6eda" stroke-width="0.75" fill="none"/>
<path d="M620.0 220.9H620.7M623.2 220.9H623.9M632.0 220.9H632.7" stroke="#c9a214" stroke-width="0.75" fill="none"/>
<path d="M625.6 212.4H626.3" stroke="#c9a214" stroke-width="0.75" fill="none"/>
<path d="M636.8 220.9H638.3M644.8 220.9H645.5M646.4 220.9H647.1M649.6 220.9H650.3M651.2 220.9H651.9M653.6 220.9H654.3M656.0 220.9H656.7" stroke="#61ba14" stroke-width="0.75" fill="none"/>
<path d="M640.0 220.9H640.7" stroke="#ac93ff" stroke-width="0.75" fill="none"/>
<path d="M640.0 212.4H640.7" stroke="#ac93ff" stroke-width="0.75" fill="none"/>
<path d="M644.8 212.4H645.5M648.8 212.4H649.5" stroke="#61ba14" stroke-width="0.75" fill="none"/>
<path d="M647.2 206.4H647.9" stroke="#14bced" stroke-width="0.75" fill="none"/>
<path d="M650.4 220.9H651.1" stroke="#14bced" stroke-width="0.75" fill="none"/>
<path d="M576.40 223.00 C577.26 224.03 579.68 234.28 586.70 235.30 C593.73 236.33 654.53 235.30 660.70 235.30" fill="none" stroke="#222" stroke-width="0.55"/>
<path d="M470.3 246.1L470.3 310.1" stroke="#9a9a9a" stroke-width="0.45"/>
<path d="M469.4 259.9L470.3 259.9" stroke="#777" stroke-width="0.35"/>
<text x="468.8" y="260.9" font-size="3" text-anchor="end" fill="#333">10</text>
<path d="M469.4 284.8L470.3 284.8" stroke="#777" stroke-width="0.35"/>
<text x="468.8" y="285.8" font-size="3" text-anchor="end" fill="#333">3</text>
<path d="M469.4 307.6L470.3 307.6" stroke="#777" stroke-width="0.35"/>
<text x="468.8" y="308.6" font-size="3" text-anchor="end" fill="#333">1</text>
<text x="516.3" y="244.4" font-size="3.2" text-anchor="middle" fill="#222">FCGR3A</text>
<path d="M473.8 307.6L514.0 307.6" stroke="#f8766d" stroke-width="1.3"/>
<path d="M514.0 307.6L516.7 307.6" stroke="#fb61d7" stroke-width="1.3"/>
<path d="M516.7 307.6L532.3 307.6" stroke="#c49a00" stroke-width="1.3"/>
<path d="M532.3 307.6L537.8 307.6" stroke="#53b400" stroke-width="1.3"/>
<path d="M537.8 307.6L541.3 307.6" stroke="#a58aff" stroke-width="1.3"/>
<path d="M541.3 307.6L544.8 307.6" stroke="#53b400" stroke-width="1.3"/>
<path d="M544.8 307.6L549.5 307.6" stroke="#00b6eb" stroke-width="1.3"/>
<path d="M549.5 307.6L559.6 307.6" stroke="#53b400" stroke-width="1.3"/>
<path d="M474.4 293.2H475.2M476.1 293.2H477.6M490.5 293.2H492.8M494.5 293.2H495.2M500.9 293.2H501.6M502.5 293.2H503.2M508.9 293.2H509.6" stroke="#f98179" stroke-width="0.75" fill="none"/>
<path d="M477.7 278.7H478.4M481.7 278.7H482.4M506.5 278.7H507.2" stroke="#f98179" stroke-width="0.75" fill="none"/>
<path d="M481.7 284.7H482.4M488.1 284.7H488.8M489.7 284.7H490.4M491.3 284.7H492.0M496.9 284.7H497.6M500.1 284.7H500.8M501.7 284.7H502.4M512.1 284.7H512.8" stroke="#f98179" stroke-width="0.75" fill="none"/>
<path d="M500.1 267.0H500.8" stroke="#f98179" stroke-width="0.75" fill="none"/>
<path d="M504.1 270.2H504.8" stroke="#f98179" stroke-width="0.75" fill="none"/>
<path d="M513.7 293.2H516.8" stroke="#fb6eda" stroke-width="0.75" fill="none"/>
<path d="M513.7 284.7H516.8" stroke="#fb6eda" stroke-width="0.75" fill="none"/>
<path d="M513.7 278.7H515.2" stroke="#fb6eda" stroke-width="0.75" fill="none"/>
<path d="M514.5 274.0H515.2" stroke="#fb6eda" stroke-width="0.75" fill="none"/>
<path d="M515.3 270.2H516.0" stroke="#fb6eda" stroke-width="0.75" fill="none"/>
<path d="M516.9 293.2H531.9" stroke="#c9a214" stroke-width="0.75" fill="none"/>
<path d="M516.9 284.7H523.1M524.0 284.7H527.1M528.0 284.7H531.9" stroke="#c9a214" stroke-width="0.75" fill="none"/>
<path d="M516.9 278.7H520.8M521.6 278.7H523.1M524.0 278.7H524.7M526.4 278.7H527.1M528.0 278.7H531.9" stroke="#c9a214" stroke-width="0.75" fill="none"/>
<path d="M516.9 264.3H517.6" stroke="#c9a214" stroke-width="0.75" fill="none"/>
<path d="M517.7 270.2H518.4M523.2 270.2H523.9M529.6 270.2H531.9" stroke="#c9a214" stroke-width="0.75" fill="none"/>
<path d="M518.5 274.0H519.2M520.1 274.0H522.4M523.2 274.0H524.7M525.6 274.0H526.3M527.2 274.0H528.7" stroke="#c9a214" stroke-width="0.75" fill="none"/>
<path d="M524.0 267.0H524.7M527.2 267.0H527.9" stroke="#c9a214" stroke-width="0.75" fill="none"/>
<path d="M532.0 293.2H537.5M538.4 293.2H539.1M540.0 293.2H540.7M542.4 293.2H545.5M546.4 293.2H559.1" stroke="#61ba14" stroke-width="0.75" fill="none"/>
<path d="M532.0 284.7H537.5M538.4 284.7H539.1M540.0 284.7H540.7M542.4 284.7H545.5M546.4 284.7H559.1" stroke="#61ba14" stroke-width="0.75" fill="none"/>
<path d="M532.0 278.7H537.5M538.4 278.7H539.1M540.0 278.7H540.7M542.4 278.7H545.5M546.4 278.7H549.5M550.4 278.7H555.1M556.0 278.7H559.1" stroke="#61ba14" stroke-width="0.75" fill="none"/>
<path d="M532.0 274.0H537.5M538.4 274.0H539.1M540.0 274.0H540.7M542.4 274.0H545.5M546.4 274.0H553.5M554.4 274.0H555.9M556.8 274.0H558.3" stroke="#61ba14" stroke-width="0.75" fill="none"/>
<path d="M532.0 270.2H533.5M534.4 270.2H535.9M538.4 270.2H539.1M540.0 270.2H540.7M542.4 270.2H543.1M544.0 270.2H544.7M546.4 270.2H555.1M556.8 270.2H557.5M558.4 270.2H559.1" stroke="#61ba14" stroke-width="0.75" fill="none"/>
<path d="M532.0 264.3H535.9M536.8 264.3H537.5M540.0 264.3H540.7M544.0 264.3H545.5M546.4 264.3H547.1M548.0 264.3H548.7M549.6 264.3H551.1M552.0 264.3H552.7M555.2 264.3H555.9" stroke="#61ba14" stroke-width="0.75" fill="none"/>
<path d="M532.8 267.0H535.1M536.0 267.0H536.7M538.4 267.0H539.1M542.4 267.0H543.9M544.8 267.0H545.5M546.4 267.0H547.9M550.4 267.0H551.1M552.0 267.0H552.7M556.8 267.0H557.5M558.4 267.0H559.1" stroke="#61ba14" stroke-width="0.75" fill="none"/>
<path d="M537.6 293.2H538.3M539.2 293.2H539.9M540.8 293.2H541.5" stroke="#ac93ff" stroke-width="0.75" fill="none"/>
<path d="M537.6 284.7H538.3M539.2 284.7H539.9M540.8 284.7H541.5" stroke="#ac93ff" stroke-width="0.75" fill="none"/>
<path d="M537.6 278.7H538.3M539.2 278.7H539.9M540.8 278.7H541.5" stroke="#ac93ff" stroke-width="0.75" fill="none"/>
<path d="M537.6 274.0H538.3M539.2 274.0H539.9M540.8 274.0H541.5" stroke="#ac93ff" stroke-width="0.75" fill="none"/>
<path d="M537.6 270.2H538.3M539.2 270.2H539.9M540.8 270.2H541.5" stroke="#ac93ff" stroke-width="0.75" fill="none"/>
<path d="M537.6 264.3H538.3M539.2 264.3H539.9" stroke="#ac93ff" stroke-width="0.75" fill="none"/>
<path d="M539.2 267.0H539.9M540.8 267.0H541.5" stroke="#ac93ff" stroke-width="0.75" fill="none"/>
<path d="M541.6 293.2H542.3" stroke="#14c59d" stroke-width="0.75" fill="none"/>
<path d="M541.6 284.7H542.3" stroke="#14c59d" stroke-width="0.75" fill="none"/>
<path d="M541.6 278.7H542.3" stroke="#14c59d" stroke-width="0.75" fill="none"/>
<path d="M541.6 274.0H542.3" stroke="#14c59d" stroke-width="0.75" fill="none"/>
<path d="M541.6 270.2H542.3" stroke="#14c59d" stroke-width="0.75" fill="none"/>
<path d="M545.6 293.2H546.3" stroke="#14bced" stroke-width="0.75" fill="none"/>
<path d="M545.6 284.7H546.3" stroke="#14bced" stroke-width="0.75" fill="none"/>
<path d="M545.6 278.7H546.3" stroke="#14bced" stroke-width="0.75" fill="none"/>
<path d="M545.6 274.0H546.3" stroke="#14bced" stroke-width="0.75" fill="none"/>
<path d="M545.6 270.2H546.3" stroke="#14bced" stroke-width="0.75" fill="none"/>
<path d="M545.6 267.0H546.3" stroke="#14bced" stroke-width="0.75" fill="none"/>
<path d="M545.6 264.3H546.3" stroke="#14bced" stroke-width="0.75" fill="none"/>
<path transform="scale(.25)" d="M2086 1031h0m31 6h0" stroke="#c9a214" stroke-width="3" stroke-linecap="square" fill="none"/>
<path transform="scale(.25)" d="M2156 992h0m-20 9h0m72 2h0m-80 8h0m16 5h0m17 3h0m11-3h0m33-2h0m4-1h0m6-5h0m-68 17h0m1-5h0m25 3h0m8 8h0m14-7h0m1-2h0m18 0h0m7 7h0m2-2h0m-90 14h0m3 0h0m0 1h0m13-2h0m8-5h0m4-3h0m14 6h0m3 1h0m13 2h0m2-1h0m17-7h0m7 2h0m6-1h0m6 9h0m-90 7h0m4 1h0m4-3h0m38 0h0m3-1h0m9 2h0m2-5h0m5 5h0" stroke="#61ba14" stroke-width="3" stroke-linecap="square" fill="none"/>
<path transform="scale(.25)" d="M2168 1030h0m-1 3h0" stroke="#14c59d" stroke-width="3" stroke-linecap="square" fill="none"/>
<path transform="scale(.25)" d="M2157 987h0m-7 13h0m15 10h0m-13 12h0m14-2h0m-15 15h0m6 2h0" stroke="#ac93ff" stroke-width="3" stroke-linecap="square" fill="none"/>
<path transform="scale(.25)" d="M2185 992h0m0 25h0m-1 13h0" stroke="#14bced" stroke-width="3" stroke-linecap="square" fill="none"/>
<path d="M474.00 307.60 C478.17 307.60 519.33 308.40 524.00 307.60 C528.67 306.80 529.00 299.47 530.00 298.00 C531.00 296.53 535.02 291.00 536.00 290.00 C536.98 289.00 540.70 286.12 541.70 286.00 C542.70 285.88 547.06 287.83 548.00 288.50 C548.94 289.17 552.18 293.00 553.00 294.00 C553.82 295.00 557.40 299.96 557.80 300.50" fill="none" stroke="#222" stroke-width="0.55"/>
<path d="M572.4 246.1L572.4 310.1" stroke="#9a9a9a" stroke-width="0.45"/>
<path d="M571.5 246.3L572.4 246.3" stroke="#777" stroke-width="0.35"/>
<text x="570.9" y="247.3" font-size="3" text-anchor="end" fill="#333">100</text>
<path d="M571.5 277.3L572.4 277.3" stroke="#777" stroke-width="0.35"/>
<text x="570.9" y="278.3" font-size="3" text-anchor="end" fill="#333">10</text>
<path d="M571.5 307.6L572.4 307.6" stroke="#777" stroke-width="0.35"/>
<text x="570.9" y="308.6" font-size="3" text-anchor="end" fill="#333">1</text>
<text x="619.5" y="244.4" font-size="3.2" text-anchor="middle" fill="#222">GNLY</text>
<path d="M577.0 307.6L616.4 307.6" stroke="#f8766d" stroke-width="1.3"/>
<path d="M616.4 307.6L619.1 307.6" stroke="#fb61d7" stroke-width="1.3"/>
<path d="M619.1 307.6L634.5 307.6" stroke="#c49a00" stroke-width="1.3"/>
<path d="M634.5 307.6L639.8 307.6" stroke="#53b400" stroke-width="1.3"/>
<path d="M639.8 307.6L643.3 307.6" stroke="#a58aff" stroke-width="1.3"/>
<path d="M643.3 307.6L646.7 307.6" stroke="#53b400" stroke-width="1.3"/>
<path d="M646.7 307.6L651.3 307.6" stroke="#00b6eb" stroke-width="1.3"/>
<path d="M651.3 307.6L661.3 307.6" stroke="#53b400" stroke-width="1.3"/>
<path d="M576.9 298.4H578.4M580.0 298.4H580.7M581.6 298.4H585.5M587.2 298.4H587.9M591.2 298.4H593.5M594.4 298.4H595.1M597.6 298.4H599.9M602.4 298.4H603.1M605.6 298.4H606.3M612.8 298.4H615.1" stroke="#f98179" stroke-width="0.75" fill="none"/>
<path d="M576.9 293.0H577.6M578.4 293.0H579.1M581.6 293.0H582.3M584.0 293.0H584.7M585.6 293.0H587.1M592.0 293.0H592.7M593.6 293.0H595.1M598.4 293.0H599.1M601.6 293.0H602.3M608.0 293.0H608.7M612.0 293.0H615.1M616.0 293.0H616.7" stroke="#f98179" stroke-width="0.75" fill="none"/>
<path d="M576.9 280.0H577.6M583.2 280.0H583.9M592.8 280.0H594.3M597.6 280.0H598.3M600.0 280.0H600.7M602.4 280.0H603.1M604.0 280.0H604.7M610.4 280.0H611.1M612.8 280.0H614.3" stroke="#f98179" stroke-width="0.75" fill="none"/>
<path d="M578.4 286.2H579.1M582.4 286.2H585.5M588.0 286.2H588.7M589.6 286.2H590.3M591.2 286.2H591.9M594.4 286.2H595.1M597.6 286.2H599.1M604.0 286.2H604.7M612.8 286.2H615.1M616.0 286.2H616.7" stroke="#f98179" stroke-width="0.75" fill="none"/>
<path d="M579.2 289.2H579.9M581.6 289.2H583.1M585.6 289.2H587.1M588.0 289.2H589.5M592.0 289.2H592.7M596.8 289.2H597.5M598.4 289.2H599.9M604.0 289.2H606.3M608.8 289.2H610.3M612.0 289.2H613.5M615.2 289.2H616.7" stroke="#f98179" stroke-width="0.75" fill="none"/>
<path d="M579.2 283.8H579.9M583.2 283.8H583.9M584.8 283.8H588.7M591.2 283.8H591.9M600.8 283.8H602.3M604.0 283.8H604.7M607.2 283.8H609.5M612.0 283.8H612.7M613.6 283.8H614.3" stroke="#f98179" stroke-width="0.75" fill="none"/>
<path d="M579.2 281.7H580.7M581.6 281.7H582.3M583.2 281.7H583.9M590.4 281.7H591.1M592.8 281.7H593.5M597.6 281.7H598.3M601.6 281.7H602.3M604.0 281.7H606.3M608.8 281.7H609.5M611.2 281.7H612.7M613.6 281.7H614.3" stroke="#f98179" stroke-width="0.75" fill="none"/>
<path d="M616.8 298.4H619.1" stroke="#fb6eda" stroke-width="0.75" fill="none"/>
<path d="M616.8 289.2H619.1" stroke="#fb6eda" stroke-width="0.75" fill="none"/>
<path d="M616.8 283.8H617.5M618.4 283.8H619.1" stroke="#fb6eda" stroke-width="0.75" fill="none"/>
<path d="M616.8 280.0H619.1" stroke="#fb6eda" stroke-width="0.75" fill="none"/>
<path d="M617.6 293.0H619.1" stroke="#fb6eda" stroke-width="0.75" fill="none"/>
<path d="M617.6 286.2H619.1" stroke="#fb6eda" stroke-width="0.75" fill="none"/>
<path d="M617.6 281.7H619.1" stroke="#fb6eda" stroke-width="0.75" fill="none"/>
<path d="M619.2 298.4H634.3" stroke="#c9a214" stroke-width="0.75" fill="none"/>
<path d="M619.2 293.0H621.5M622.4 293.0H633.5" stroke="#c9a214" stroke-width="0.75" fill="none"/>
<path d="M619.2 289.2H628.7M629.6 289.2H634.3" stroke="#c9a214" stroke-width="0.75" fill="none"/>
<path d="M619.2 286.2H622.3M623.2 286.2H632.7M633.6 286.2H634.3" stroke="#c9a214" stroke-width="0.75" fill="none"/>
<path d="M619.2 283.8H625.5M626.4 283.8H634.3" stroke="#c9a214" stroke-width="0.75" fill="none"/>
<path d="M619.2 281.7H619.9M620.8 281.7H627.1M628.0 281.7H634.3" stroke="#c9a214" stroke-width="0.75" fill="none"/>
<path d="M619.2 280.0H620.7M621.6 280.0H622.3M623.2 280.0H630.3M631.2 280.0H631.9M632.8 280.0H633.5" stroke="#c9a214" stroke-width="0.75" fill="none"/>
<path d="M634.4 298.4H635.1" stroke="#14c59d" stroke-width="0.75" fill="none"/>
<path d="M634.4 289.2H635.1" stroke="#14c59d" stroke-width="0.75" fill="none"/>
<path d="M634.4 283.8H635.1" stroke="#14c59d" stroke-width="0.75" fill="none"/>
<path d="M634.4 281.7H635.1" stroke="#14c59d" stroke-width="0.75" fill="none"/>
<path d="M634.4 280.0H635.1" stroke="#14c59d" stroke-width="0.75" fill="none"/>
<path d="M635.2 298.4H639.9M641.6 298.4H642.3M643.2 298.4H645.5M646.4 298.4H649.5M651.2 298.4H656.7M658.4 298.4H659.9" stroke="#61ba14" stroke-width="0.75" fill="none"/>
<path d="M635.2 293.0H635.9M636.8 293.0H639.9M641.6 293.0H642.3M643.2 293.0H643.9M644.8 293.0H645.5M646.4 293.0H649.5M651.2 293.0H653.5M654.4 293.0H655.1M656.0 293.0H657.5M659.2 293.0H660.7" stroke="#61ba14" stroke-width="0.75" fill="none"/>
<path d="M635.2 289.2H638.3M639.2 289.2H639.9M641.6 289.2H642.3M643.2 289.2H645.5M646.4 289.2H647.9M648.8 289.2H649.5M651.2 289.2H654.3M655.2 289.2H655.9M657.6 289.2H659.1M660.0 289.2H660.7" stroke="#61ba14" stroke-width="0.75" fill="none"/>
<path d="M635.2 286.2H636.7M637.6 286.2H639.9M641.6 286.2H642.3M643.2 286.2H647.1M648.0 286.2H649.5M651.2 286.2H651.9M652.8 286.2H654.3M655.2 286.2H656.7M659.2 286.2H660.7" stroke="#61ba14" stroke-width="0.75" fill="none"/>
<path d="M635.2 283.8H638.3M639.2 283.8H639.9M643.2 283.8H646.3M647.2 283.8H649.5M651.2 283.8H657.5M658.4 283.8H659.9" stroke="#61ba14" stroke-width="0.75" fill="none"/>
<path d="M635.2 281.7H636.7M637.6 281.7H638.3M639.2 281.7H639.9M641.6 281.7H642.3M643.2 281.7H645.5M646.4 281.7H649.5M651.2 281.7H651.9M652.8 281.7H655.1M658.4 281.7H659.1M660.0 281.7H660.7" stroke="#61ba14" stroke-width="0.75" fill="none"/>
<path d="M635.2 280.0H637.5M638.4 280.0H639.9M641.6 280.0H642.3M643.2 280.0H649.5M652.0 280.0H652.7M653.6 280.0H659.9" stroke="#61ba14" stroke-width="0.75" fill="none"/>
<path d="M640.0 298.4H641.5M642.4 298.4H643.1" stroke="#ac93ff" stroke-width="0.75" fill="none"/>
<path d="M640.0 293.0H641.5M642.4 293.0H643.1" stroke="#ac93ff" stroke-width="0.75" fill="none"/>
<path d="M640.0 289.2H640.7M642.4 289.2H643.1" stroke="#ac93ff" stroke-width="0.75" fill="none"/>
<path d="M640.0 286.2H641.5M642.4 286.2H643.1" stroke="#ac93ff" stroke-width="0.75" fill="none"/>
<path d="M640.0 283.8H641.5M642.4 283.8H643.1" stroke="#ac93ff" stroke-width="0.75" fill="none"/>
<path d="M640.0 280.0H641.5M642.4 280.0H643.1" stroke="#ac93ff" stroke-width="0.75" fill="none"/>
<path d="M640.8 281.7H641.5" stroke="#ac93ff" stroke-width="0.75" fill="none"/>
<path d="M649.6 298.4H651.1" stroke="#14bced" stroke-width="0.75" fill="none"/>
<path d="M649.6 293.0H651.1" stroke="#14bced" stroke-width="0.75" fill="none"/>
<path d="M649.6 289.2H651.1" stroke="#14bced" stroke-width="0.75" fill="none"/>
<path d="M649.6 286.2H651.1" stroke="#14bced" stroke-width="0.75" fill="none"/>
<path d="M649.6 283.8H651.1" stroke="#14bced" stroke-width="0.75" fill="none"/>
<path d="M649.6 281.7H651.1" stroke="#14bced" stroke-width="0.75" fill="none"/>
<path d="M649.6 280.0H651.1" stroke="#14bced" stroke-width="0.75" fill="none"/>
<path transform="scale(.25)" d="M2425 1017h0m-106 10h0m-12 13h0m54-4h0m-19 16h0m14-3h0m9 3h0m-23 12h0m62-3h0m38-3h0m9-2h0m0 10h0m-86 5h0m19 7h0m26-5h0m7 3h0m-82 15h0m37-4h0m13 2h0m25-8h0m4 3h0m28-2h0m-131 11h0m4 4h0m32-2h0m3 3h0m19-2h0m27 7h0m30 0h0m4-3h0m3-7h0m-108 17h0m3 5h0m25-8h0m40-1h0m45 4h0m8-4h0m10 9h0m7-1h0m4-9h0" stroke="#f98179" stroke-width="3" stroke-linecap="square" fill="none"/>
<path transform="scale(.25)" d="M2476 995h0m-9 23h0m2-4h0m0 5h0m7 9h0m-4 6h0m3 0h0m-6 20h0m3-9h0m1-1h0m1 7h0m3-6h0m-8 13h0m1 4h0m1-3h0m2 8h0m0-8h0m-6 11h0m0 2h0m2 4h0m0-4h0m1-3h0m0 2h0m6 5h0m0-7h0m-5 13h0m4 9h0m-5 4h0m5 6h0m0 5h0m1 7h0m-4 4h0m0-1h0" stroke="#fb6eda" stroke-width="3" stroke-linecap="square" fill="none"/>
<path transform="scale(.25)" d="M2493 991h0m2-4h0m3 8h0m12-3h0m14 2h0m6-1h0m0 2h0m4-6h0m-39 12h0m1 2h0m1 4h0m5-8h0m2 3h0m2-3h0m3 4h0m3 2h0m8-4h0m4-3h0m3 4h0m5 0h0m4-4h0m0-1h0m-59 11h0m2 4h0m1 2h0m1 0h0m1-1h0m2 5h0m3 1h0m2-9h0m2 7h0m3 2h0m0-1h0m4-4h0m1 3h0m5 1h0m5-1h0m2-3h0m5 5h0m8-4h0m0-5h0m1-1h0m2 7h0m6-1h0m-56 12h0m1-6h0m3 7h0m2 0h0m4-5h0m1 5h0m1-6h0m5-1h0m2 10h0m1-9h0m1 7h0m0-1h0m3-7h0m4 0h0m0 5h0m1 3h0m3 1h0m5-6h0m1-1h0m1-1h0m3 4h0m1 4h0m0-6h0m7 2h0m0-2h0m0-1h0m2-3h0m3 7h0m5-3h0m-55 14h0m0 4h0m4 0h0m1-5h0m0-2h0m3 4h0m1-3h0m0-1h0m2 8h0m2-4h0m1 3h0m5-1h0m3 0h0m0-6h0m1 1h0m2-2h0m2 7h0m7 2h0m3-5h0m6 5h0m2-9h0m4 1h0m1 5h0m1-6h0m1-2h0m1 10h0m2-3h0m-61 12h0m8 1h0m1-2h0m0-5h0m1 9h0m1-6h0m2-4h0m1 5h0m1 0h0m0-3h0m4-1h0m1 8h0m2 2h0m0-10h0m0 2h0m3 4h0m0-1h0m1 2h0m1-2h0m2-6h0m3 9h0m2-4h0m1 6h0m0-9h0m4 6h0m0 2h0m1-4h0m3 3h0m0-1h0m0-6h0m2 6h0m1-7h0m1-1h0m0 4h0m1 5h0m0-8h0m7 9h0m0-2h0m0-5h0m3 7h0m1 1h0m0-1h0m3-1h0m-61 11h0m3 3h0m4-1h0m3-3h0m0-5h0m0 3h0m1-4h0m2 7h0m0-5h0m0-3h0m1 10h0m1-1h0m3-4h0m1-2h0m2 5h0m0-3h0m2-5h0m1 2h0m1 4h0m1 4h0m1-10h0m0 8h0m1-8h0m1 4h0m1 1h0m2-5h0m1 0h0m2 3h0m4 7h0m1-5h0m1 3h0m1-1h0m0-1h0m3 0h0m1 0h0m3 4h0m0-5h0m0-5h0m1 8h0m2-6h0m0 3h0m1 4h0m2 2h0m-54 12h0m0-10h0m0 9h0m3 0h0m0-7h0m5 1h0m2-2h0m3 0h0m1 7h0m2 2h0m2-3h0m4-1h0m1-5h0m0 4h0m1-5h0m3 1h0m1 8h0m0-1h0m1 1h0m4 1h0m2-5h0m2-5h0m0 4h0m1-3h0m1 3h0m3 4h0m2-4h0m2 6h0m1-7h0m1 0h0m2 5h0m3-8h0m1 7h0m0 3h0m2 0h0m0-7h0m3 3h0m-59 16h0m0-5h0m1 5h0m2-4h0m0-3h0m1 1h0m2 6h0m0-5h0m1-6h0m5 2h0m2-1h0m2-1h0m7 0h0m5 2h0m0 3h0m1 0h0m1 6h0m1-2h0m0-9h0m2 10h0m1-7h0m2 1h0m1 3h0m0-2h0m2-4h0m2 3h0m2 3h0m2-4h0m0 2h0m3-2h0m2-1h0m1 0h0m1 3h0m5 1h0m0-5h0m2 8h0m0-1h0m-60 7h0m1 2h0m2 5h0m0-5h0m2-5h0m0 4h0m1-3h0m3 6h0m1-3h0m0 7h0m1-4h0m1-5h0m2 0h0m0-1h0m3 5h0m1-2h0m0 6h0m2-4h0m0 4h0m2-1h0m1 1h0m1-9h0m0 4h0m3 0h0m3 5h0m0-3h0m2-3h0m0-2h0m2-1h0m1 10h0m0-7h0m1 4h0m2 2h0m2-9h0m0 2h0m0 8h0m1-1h0m5-2h0m3-8h0m0 4h0m3 4h0m0-5h0m1-1h0m0 8h0m1-10h0m0 3h0m1 6h0m2-9h0m1 8h0m1-4h0m0 7h0m1-4h0m1 0h0m-57 11h0m0 4h0m0-3h0m1-5h0m2 8h0m0-7h0m1 5h0m2 1h0m4 1h0m3-9h0m2 10h0m3-4h0m2-1h0m2 4h0m0-6h0m1-2h0m0 8h0m3-3h0m1 3h0m4-4h0m0 3h0m1-4h0m0 2h0m1 3h0m1-3h0m1-5h0m2 9h0m1-9h0m1 5h0m1-7h0m1 7h0m1-1h0m1 0h0m3 4h0m4-4h0m2-6h0m-55 15h0m21-2h0m5 1h0m26-2h0m4 0h0" stroke="#c9a214" stroke-width="3" stroke-linecap="square" fill="none"/>
<path transform="scale(.25)" d="M2542 994h0m10-1h0m0 2h0m2-2h0m1 0h0m19-1h0m0 3h0m7-5h0m2-2h0m5 5h0m3-1h0m1-4h0m0 7h0m1-6h0m1 3h0m0-5h0m2 8h0m1-4h0m0-3h0m1 6h0m7-4h0m2 5h0m4-3h0m1-5h0m1 3h0m0 2h0m2-1h0m1 0h0m0 3h0m1-1h0m0 2h0m0-6h0m9 4h0m2-1h0m5 3h0m4-3h0m-96 11h0m0 2h0m2-2h0m2-5h0m0 8h0m1-2h0m1 3h0m1 0h0m1-7h0m1 1h0m0-4h0m2 6h0m0-2h0m3-2h0m2 4h0m2 4h0m0-5h0m1 1h0m1 4h0m5-3h0m1-5h0m2 5h0m0-6h0m11 7h0m1-4h0m3 1h0m0-2h0m0-1h0m2-2h0m9 10h0m2-3h0m8-1h0m2-3h0m2 6h0m0-7h0m2 4h0m2-6h0m2 1h0m0-2h0m1 2h0m4 2h0m3-4h0m3 4h0m2 2h0m0 1h0m1-2h0m7 1h0m3-1h0m2-4h0m3 7h0m-104 9h0m8 5h0m0-5h0m0 4h0m1-1h0m3 2h0m2-2h0m0-1h0m0-5h0m0 8h0m2-9h0m2 10h0m9-7h0m1-2h0m6-2h0m2 11h0m1-10h0m0 6h0m1 4h0m0-4h0m3-5h0m1 2h0m0-1h0m0 4h0m2-3h0m1 3h0m1-1h0m1 2h0m0 2h0m0-5h0m1 1h0m0-1h0m1 5h0m1-7h0m0-2h0m3 2h0m3 2h0m1 3h0m8-1h0m1 4h0m0-5h0m1 0h0m3 1h0m0-7h0m0 9h0m3 2h0m2-7h0m2-4h0m1 8h0m1-1h0m1 1h0m3-6h0m5 6h0m8 2h0m0-5h0m7-3h0m-100 10h0m3 10h0m1-10h0m1 11h0m1-5h0m0 2h0m1-7h0m0 9h0m0-6h0m2 2h0m4-5h0m1 8h0m10-4h0m8-2h0m1-1h0m5 2h0m0-1h0m3 2h0m1-5h0m4 5h0m2-3h0m4 8h0m2-2h0m9-6h0m1 7h0m2 0h0m1 2h0m2-11h0m4 1h0m1 8h0m1 2h0m1-5h0m0 4h0m1-2h0m1 2h0m0-10h0m1 8h0m3 3h0m9-7h0m0 4h0m1-1h0m0 2h0m1-5h0m2 3h0m0-7h0m5 4h0m-102 11h0m2 4h0m0-6h0m0 9h0m3-6h0m1-4h0m1 7h0m0 3h0m0-2h0m1-7h0m1 5h0m1-1h0m4-1h0m1-2h0m2 9h0m1-1h0m1-2h0m8 1h0m0 2h0m0-10h0m7 7h0m0-1h0m1 1h0m2-4h0m2 7h0m1-5h0m1-2h0m1 4h0m6-1h0m1-5h0m1 8h0m1-9h0m2 4h0m2-1h0m10 1h0m1 2h0m0 4h0m2-7h0m2-3h0m3 10h0m2-1h0m1-2h0m0 3h0m1-11h0m0 11h0m1-1h0m3-9h0m4-1h0m1 5h0m0 4h0m1 2h0m1-5h0m1 3h0m1 0h0m0-8h0m1-1h0m5 0h0m-95 14h0m0-1h0m2 10h0m0-5h0m0 4h0m3 0h0m0-6h0m1 5h0m1 1h0m2-1h0m1-8h0m0 7h0m2 0h0m0-5h0m1 7h0m3-7h0m2-1h0m8 6h0m2-7h0m3 10h0m1-11h0m1 2h0m0 3h0m2 6h0m0-3h0m0-5h0m3 8h0m1-2h0m0-2h0m0-5h0m1 2h0m0 4h0m1-3h0m1-4h0m1 8h0m1 0h0m1-1h0m1 3h0m0-6h0m0 2h0m3-6h0m2 10h0m0-10h0m1 8h0m1-1h0m0-5h0m1 5h0m1 0h0m1-5h0m8 1h0m2 1h0m2 3h0m1 3h0m2-8h0m1-3h0m0 1h0m3 1h0m1 1h0m1 1h0m0-2h0m2 6h0m0-3h0m2-5h0m2 3h0m4 7h0m0-5h0m10 1h0m4-2h0m-100 18h0m1 1h0m2-1h0m0-1h0m5-4h0m2-2h0m0 8h0m2-7h0m0-2h0m0 4h0m2-5h0m0 2h0m1 4h0m0 3h0m1 1h0m8-5h0m1 3h0m1 0h0m5-3h0m0 3h0m5-2h0m1-3h0m6-4h0m1 9h0m0-5h0m8-1h0m0-1h0m1 5h0m0 2h0m2-7h0m1-1h0m6 10h0m3-8h0m1 5h0m0 3h0m0-6h0m1-1h0m0 4h0m1-3h0m1-3h0m2 0h0m0 7h0m0-5h0m1-3h0m0 4h0m2 4h0m1-3h0m1 0h0m1-2h0m4 0h0m0-1h0m1 4h0m1-1h0m1 3h0m5 0h0m2-1h0m5 3h0m3-10h0m1 3h0m-102 18h0m1-5h0m1 4h0m2-5h0m1 3h0m3-4h0m1 6h0m2-5h0m5 0h0m2 4h0m0-2h0m0-5h0m15 3h0m0-1h0m1 3h0m1 0h0m0-6h0m4 2h0m1 1h0m1-3h0m0 3h0m5 6h0m0-6h0m1 8h0m4-4h0m0 3h0m7-2h0m6-7h0m3-1h0m1 8h0m1 2h0m3-3h0m3 1h0m2-4h0m5 6h0m9-8h0m3 8h0m-95 7h0m1 6h0m1-3h0m1-2h0m0 4h0m3 0h0m0-10h0m5 8h0m1 3h0m0-7h0m1 7h0m0-11h0m2 2h0m2-1h0m2 4h0m0 2h0m10-2h0m4 6h0m2-7h0m0 2h0m0 4h0m2-4h0m1-5h0m1 3h0m1 3h0m0-6h0m1 7h0m2-2h0m0 4h0m2-3h0m0-5h0m1-2h0m1 2h0m1 5h0m0 3h0m1-5h0m1 5h0m1-9h0m2 7h0m0-6h0m1 7h0m2 0h0m1 1h0m9-9h0m0 6h0m3 4h0m3-2h0m2-3h0m0-4h0m1 9h0m7-2h0m1-8h0m15-1h0m0 2h0m4 8h0m2 1h0m-98 11h0m3-5h0m3 5h0m3-3h0m0 4h0m1-7h0m11 4h0m1 0h0m0-1h0m0-2h0m1 2h0m0 4h0m7 0h0m1-11h0m0 3h0m2-2h0m2 2h0m5 3h0m2 2h0m1-3h0m1-1h0m0 4h0m0-2h0m0-5h0m1 10h0m4-9h0m0 7h0m1 1h0m0-3h0m1 0h0m2 2h0m8-4h0m1-4h0m0 4h0m2 2h0m3-3h0m12-1h0m0 2h0m2-1h0m5 6h0m1-2h0m1 1h0m2-2h0m1-2h0m2-2h0m4 0h0m-103 17h0m1 0h0m5-4h0m1-1h0m0 7h0m2-2h0m2-3h0m1 0h0m3-4h0m2 10h0m1-7h0m1-3h0m9 0h0m1 1h0m1-1h0m3 8h0m2-1h0m1-4h0m1-1h0m0 3h0m0-1h0m2 4h0m2-3h0m2-1h0m4 6h0m3-10h0m0 3h0m1-2h0m1 6h0m1 3h0m2 0h0m2-5h0m1 5h0m8-1h0m1-7h0m2 6h0m0-1h0m3 2h0m2-10h0m0 7h0m2 3h0m4 1h0m7-2h0m1 1h0m3 0h0m2-9h0m1 2h0m2 6h0m1-2h0m3 2h0m-91 3h0" stroke="#61ba14" stroke-width="3" stroke-linecap="square" fill="none"/>
<path transform="scale(.25)" d="M2539 995h0m-1 24h0m1-10h0m1 22h0m-1 6h0m0 5h0m1-10h0m-2 12h0m1 4h0m1-3h0m-3 19h0m1-1h0m0-5h0m1 2h0m2-4h0m-4 19h0m2 1h0m1-8h0m0 8h0m1 8h0m-1 17h0m1 14h0m0-3h0m1 1h0" stroke="#14c59d" stroke-width="3" stroke-linecap="square" fill="none"/>
<path transform="scale(.25)" d="M2560 995h0m1-3h0m2 0h0m2-3h0m0 2h0m0 2h0m0-3h0m0-3h0m5 4h0m1-2h0m0 5h0m1-2h0m0 2h0m-10 6h0m1 2h0m1-3h0m7 3h0m-10 14h0m1-5h0m0-3h0m1 8h0m2-6h0m0 6h0m1-5h0m3-2h0m2 10h0m0-5h0m0 1h0m1 4h0m-12 10h0m0-3h0m1-2h0m1-2h0m0-1h0m1-1h0m2 4h0m1-2h0m0 8h0m0-7h0m4 0h0m1-1h0m0 7h0m0 2h0m1-9h0m1-2h0m-13 20h0m4-6h0m0 2h0m1-2h0m6 1h0m2-3h0m0 8h0m-13 11h0m1-2h0m0 3h0m2-5h0m1-3h0m1 8h0m1-5h0m5-3h0m2 10h0m0-7h0m-14 19h0m2-2h0m0-5h0m1 8h0m0-3h0m1-4h0m1 7h0m0-6h0m0-5h0m1 8h0m0-1h0m0-5h0m1 5h0m4 3h0m2 1h0m0-3h0m-10 7h0m3-3h0m-4 13h0m4-1h0m2 4h0m3 4h0m1 1h0m1-6h0m-12 19h0m4 0h0m0-10h0m5 7h0m1-2h0m2 0h0m0 2h0m-12 9h0m1-1h0m1 2h0m3-4h0m0 7h0m5-4h0m1-4h0m-10 14h0m3-2h0" stroke="#ac93ff" stroke-width="3" stroke-linecap="square" fill="none"/>
<path transform="scale(.25)" d="M2597 992h0m1-3h0m0-2h0m1 8h0m1-4h0m1 3h0m1-4h0m0 5h0m0-7h0m1 6h0m1-5h0m1 2h0m-2 15h0m1-6h0m-5 12h0m2-3h0m1-1h0m0 8h0m0 3h0m0-4h0m1-4h0m0 2h0m1 4h0m2-8h0m0 2h0m-6 18h0m2-9h0m2 5h0m0 2h0m0 3h0m-5 4h0m1 6h0m0-4h0m1-2h0m1 9h0m2-11h0m-5 20h0m1 0h0m3-8h0m-5 16h0m1 2h0m1 5h0m1 0h0m4-6h0m-5 11h0m0 7h0m2 0h0m0-2h0m1-6h0m-4 11h0m0 1h0m1 6h0m1-5h0m1 0h0m2 6h0m-4 4h0m2-2h0m1 11h0m0-1h0m2-3h0m-4 13h0m0-4h0m1 5h0m2-7h0m2 5h0" stroke="#14bced" stroke-width="3" stroke-linecap="square" fill="none"/>
<path d="M576.40 307.60 C579.14 307.60 605.83 308.40 609.30 307.60 C612.77 306.80 616.61 299.55 618.00 298.00 C619.39 296.45 624.58 290.42 626.00 289.00 C627.42 287.58 633.58 281.90 635.00 281.00 C636.42 280.10 641.58 278.28 643.00 278.20 C644.42 278.12 650.52 279.52 652.00 280.00 C653.48 280.48 659.98 283.57 660.70 283.90" fill="none" stroke="#222" stroke-width="0.55"/>
<path d="M470.3 318.2L470.3 382.2" stroke="#9a9a9a" stroke-width="0.45"/>
<path d="M469.4 331.0L470.3 331.0" stroke="#777" stroke-width="0.35"/>
<text x="468.8" y="332.0" font-size="3" text-anchor="end" fill="#333">10</text>
<path d="M469.4 356.7L470.3 356.7" stroke="#777" stroke-width="0.35"/>
<text x="468.8" y="357.7" font-size="3" text-anchor="end" fill="#333">3</text>
<path d="M469.4 379.7L470.3 379.7" stroke="#777" stroke-width="0.35"/>
<text x="468.8" y="380.7" font-size="3" text-anchor="end" fill="#333">1</text>
<text x="516.3" y="316.6" font-size="3.2" text-anchor="middle" fill="#222">GZMA</text>
<path d="M473.8 379.7L514.0 379.7" stroke="#f8766d" stroke-width="1.3"/>
<path d="M514.0 379.7L516.7 379.7" stroke="#fb61d7" stroke-width="1.3"/>
<path d="M516.7 379.7L532.3 379.7" stroke="#c49a00" stroke-width="1.3"/>
<path d="M532.3 379.7L537.8 379.7" stroke="#53b400" stroke-width="1.3"/>
<path d="M537.8 379.7L541.3 379.7" stroke="#a58aff" stroke-width="1.3"/>
<path d="M541.3 379.7L544.8 379.7" stroke="#53b400" stroke-width="1.3"/>
<path d="M544.8 379.7L549.5 379.7" stroke="#00b6eb" stroke-width="1.3"/>
<path d="M549.5 379.7L559.6 379.7" stroke="#53b400" stroke-width="1.3"/>
<path d="M473.6 365.1H476.0M477.7 365.1H481.6M484.1 365.1H487.2M488.1 365.1H489.6M492.1 365.1H494.4M495.3 365.1H496.8M497.7 365.1H499.2M500.1 365.1H502.4M503.3 365.1H511.2M512.1 365.1H513.6" stroke="#f98179" stroke-width="0.75" fill="none"/>
<path d="M473.6 356.6H475.2M476.9 356.6H477.6M478.5 356.6H484.0M485.7 356.6H487.2M488.9 356.6H490.4M492.9 356.6H493.6M494.5 356.6H496.0M496.9 356.6H497.6M498.5 356.6H499.2M500.1 356.6H501.6M503.3 356.6H506.4M507.3 356.6H508.8M511.3 356.6H512.0M512.9 356.6H513.6" stroke="#f98179" stroke-width="0.75" fill="none"/>
<path d="M473.6 342.0H474.4M480.1 342.0H480.8M483.3 342.0H484.0M486.5 342.0H488.8M490.5 342.0H491.2M495.3 342.0H496.0M498.5 342.0H499.2M507.3 342.0H508.0" stroke="#f98179" stroke-width="0.75" fill="none"/>
<path d="M474.4 350.5H475.2M476.1 350.5H476.8M477.7 350.5H478.4M479.3 350.5H480.0M481.7 350.5H482.4M484.1 350.5H484.8M487.3 350.5H488.0M492.9 350.5H493.6M498.5 350.5H499.2M500.9 350.5H501.6M502.5 350.5H503.2M508.1 350.5H508.8M510.5 350.5H511.2" stroke="#f98179" stroke-width="0.75" fill="none"/>
<path d="M474.4 345.8H476.8M478.5 345.8H479.2M495.3 345.8H496.8M500.1 345.8H501.6M512.9 345.8H513.6" stroke="#f98179" stroke-width="0.75" fill="none"/>
<path d="M476.1 335.9H476.8M500.1 335.9H500.8" stroke="#f98179" stroke-width="0.75" fill="none"/>
<path d="M496.1 338.7H496.8" stroke="#f98179" stroke-width="0.75" fill="none"/>
<path d="M513.7 365.1H516.8" stroke="#fb6eda" stroke-width="0.75" fill="none"/>
<path d="M513.7 356.6H516.8" stroke="#fb6eda" stroke-width="0.75" fill="none"/>
<path d="M513.7 350.5H516.8" stroke="#fb6eda" stroke-width="0.75" fill="none"/>
<path d="M513.7 345.8H516.8" stroke="#fb6eda" stroke-width="0.75" fill="none"/>
<path d="M513.7 338.7H514.4" stroke="#fb6eda" stroke-width="0.75" fill="none"/>
<path d="M515.3 342.0H516.0" stroke="#fb6eda" stroke-width="0.75" fill="none"/>
<path d="M516.9 365.1H531.9" stroke="#c9a214" stroke-width="0.75" fill="none"/>
<path d="M516.9 350.5H518.4M519.3 350.5H522.4M523.2 350.5H524.7M525.6 350.5H531.9" stroke="#c9a214" stroke-width="0.75" fill="none"/>
<path d="M516.9 345.8H520.8M522.4 345.8H529.5M530.4 345.8H531.9" stroke="#c9a214" stroke-width="0.75" fill="none"/>
<path d="M516.9 342.0H517.6M518.5 342.0H521.6M522.4 342.0H526.3M527.2 342.0H528.7M529.6 342.0H531.9" stroke="#c9a214" stroke-width="0.75" fill="none"/>
<path d="M516.9 335.9H517.6M518.5 335.9H530.3" stroke="#c9a214" stroke-width="0.75" fill="none"/>
<path d="M517.7 356.6H531.9" stroke="#c9a214" stroke-width="0.75" fill="none"/>
<path d="M517.7 338.7H519.2M520.1 338.7H522.4M524.0 338.7H527.1M528.0 338.7H529.5M530.4 338.7H531.9" stroke="#c9a214" stroke-width="0.75" fill="none"/>
<path d="M532.0 365.1H534.3M535.2 365.1H537.5M541.6 365.1H544.7M547.2 365.1H559.1" stroke="#61ba14" stroke-width="0.75" fill="none"/>
<path d="M532.0 356.6H534.3M535.2 356.6H537.5M541.6 356.6H544.7M547.2 356.6H559.1" stroke="#61ba14" stroke-width="0.75" fill="none"/>
<path d="M532.0 350.5H534.3M535.2 350.5H537.5M541.6 350.5H542.3M543.2 350.5H544.7M547.2 350.5H547.9M548.8 350.5H553.5M554.4 350.5H555.9M556.8 350.5H559.1" stroke="#61ba14" stroke-width="0.75" fill="none"/>
<path d="M532.0 345.8H534.3M535.2 345.8H537.5M541.6 345.8H544.7M547.2 345.8H553.5M554.4 345.8H559.1" stroke="#61ba14" stroke-width="0.75" fill="none"/>
<path d="M532.0 342.0H533.5M535.2 342.0H537.5M541.6 342.0H544.7M547.2 342.0H548.7M551.2 342.0H555.1M556.0 342.0H556.7M558.4 342.0H559.1" stroke="#61ba14" stroke-width="0.75" fill="none"/>
<path d="M532.0 338.7H534.3M535.2 338.7H537.5M541.6 338.7H544.7M548.0 338.7H548.7M549.6 338.7H550.3M551.2 338.7H551.9M552.8 338.7H554.3M555.2 338.7H555.9M556.8 338.7H558.3" stroke="#61ba14" stroke-width="0.75" fill="none"/>
<path d="M532.0 335.9H534.3M535.2 335.9H536.7M541.6 335.9H544.7M548.0 335.9H549.5M550.4 335.9H555.1M556.8 335.9H559.1" stroke="#61ba14" stroke-width="0.75" fill="none"/>
<path d="M534.4 365.1H535.1" stroke="#14c59d" stroke-width="0.75" fill="none"/>
<path d="M534.4 356.6H535.1" stroke="#14c59d" stroke-width="0.75" fill="none"/>
<path d="M534.4 350.5H535.1" stroke="#14c59d" stroke-width="0.75" fill="none"/>
<path d="M534.4 345.8H535.1" stroke="#14c59d" stroke-width="0.75" fill="none"/>
<path d="M534.4 342.0H535.1" stroke="#14c59d" stroke-width="0.75" fill="none"/>
<path d="M534.4 338.7H535.1" stroke="#14c59d" stroke-width="0.75" fill="none"/>
<path d="M534.4 335.9H535.1" stroke="#14c59d" stroke-width="0.75" fill="none"/>
<path d="M537.6 365.1H541.5" stroke="#ac93ff" stroke-width="0.75" fill="none"/>
<path d="M537.6 356.6H541.5" stroke="#ac93ff" stroke-width="0.75" fill="none"/>
<path d="M537.6 350.5H541.5" stroke="#ac93ff" stroke-width="0.75" fill="none"/>
<path d="M537.6 345.8H541.5" stroke="#ac93ff" stroke-width="0.75" fill="none"/>
<path d="M537.6 342.0H541.5" stroke="#ac93ff" stroke-width="0.75" fill="none"/>
<path d="M537.6 338.7H541.5" stroke="#ac93ff" stroke-width="0.75" fill="none"/>
<path d="M537.6 335.9H541.5" stroke="#ac93ff" stroke-width="0.75" fill="none"/>
<path d="M544.8 365.1H547.1" stroke="#14bced" stroke-width="0.75" fill="none"/>
<path d="M544.8 356.6H547.1" stroke="#14bced" stroke-width="0.75" fill="none"/>
<path d="M544.8 350.5H547.1" stroke="#14bced" stroke-width="0.75" fill="none"/>
<path d="M544.8 345.8H547.1" stroke="#14bced" stroke-width="0.75" fill="none"/>
<path d="M544.8 342.0H547.1" stroke="#14bced" stroke-width="0.75" fill="none"/>
<path d="M544.8 338.7H546.3" stroke="#14bced" stroke-width="0.75" fill="none"/>
<path d="M544.8 335.9H547.1" stroke="#14bced" stroke-width="0.75" fill="none"/>
<path transform="scale(.25)" d="M2054 1327h0" stroke="#fb6eda" stroke-width="3" stroke-linecap="square" fill="none"/>
<path transform="scale(.25)" d="M2076 1281h0m0 9h0m19 5h0m28-10h0m-41 23h0m4 2h0m19 8h0m1 0h0m9-1h0m-26 8h0m7 6h0m19-10h0m4 9h0m8-4h0m-56 9h0m0-1h0m26 0h0m3 3h0m10-5h0" stroke="#c9a214" stroke-width="3" stroke-linecap="square" fill="none"/>
<path transform="scale(.25)" d="M2145 1281h0m33 1h0m13-4h0m39 4h0m-96 9h0m7-5h0m3 4h0m3 5h0m2-9h0m21 2h0m4 7h0m20-7h0m5 3h0m12-3h0m2-4h0m2 7h0m-87 12h0m17 3h0m1-9h0m5 8h0m17 1h0m30-5h0m3 5h0m3-10h0m10 1h0m11 0h0m2 2h0m6 8h0m-103 12h0m17-6h0m22-3h0m1 8h0m4-5h0m6 4h0m13-8h0m2 3h0m5 7h0m7-7h0m4-2h0m13 0h0m6 6h0m1 0h0m5 0h0m-107 15h0m1-1h0m4-4h0m1 4h0m1-6h0m6 6h0m7-8h0m17 4h0m7-4h0m0 7h0m18-2h0m1-1h0m4-2h0m1 6h0m3-5h0m5-2h0m1 5h0m3-3h0m1 6h0m2-6h0m3-2h0m7 7h0m-93 6h0m4-2h0m32-1h0m10 3h0m1 1h0m18-4h0m8 1h0m0 4h0m11-6h0m6 2h0" stroke="#61ba14" stroke-width="3" stroke-linecap="square" fill="none"/>
<path transform="scale(.25)" d="M2141 1275h0m-2 30h0m-2 23h0m3 10h0" stroke="#14c59d" stroke-width="3" stroke-linecap="square" fill="none"/>
<path transform="scale(.25)" d="M2154 1283h0m2-3h0m2-2h0m5 4h0m-13 11h0m0-5h0m16-1h0m0 6h0m-12 13h0m1-4h0m3 2h0m6-8h0m-11 18h0m4-2h0m7 7h0m2-3h0m-13 6h0m10-1h0m-8 13h0m2-2h0m2 4h0m3-1h0" stroke="#ac93ff" stroke-width="3" stroke-linecap="square" fill="none"/>
<path transform="scale(.25)" d="M2179 1288h0m7 3h0m-7 16h0m7-4h0m-6 5h0m1 3h0m1 1h0m1 1h0m3 4h0m-2 16h0m5-1h0" stroke="#14bced" stroke-width="3" stroke-linecap="square" fill="none"/>
<path d="M474.30 379.70 C476.68 379.70 499.92 380.68 502.90 379.70 C505.88 378.72 508.99 369.48 510.00 368.00 C511.01 366.52 514.00 362.83 515.00 362.00 C516.00 361.17 520.75 358.54 522.00 358.00 C523.25 357.46 528.08 355.82 530.00 355.50 C531.92 355.18 542.67 354.34 545.00 354.20 C547.33 354.06 556.92 353.83 558.00 353.80" fill="none" stroke="#222" stroke-width="0.55"/>
<path d="M572.4 318.2L572.4 382.2" stroke="#9a9a9a" stroke-width="0.45"/>
<path d="M571.5 318.4L572.4 318.4" stroke="#777" stroke-width="0.35"/>
<text x="570.9" y="319.4" font-size="3" text-anchor="end" fill="#333">20</text>
<path d="M571.5 338.5L572.4 338.5" stroke="#777" stroke-width="0.35"/>
<text x="570.9" y="339.5" font-size="3" text-anchor="end" fill="#333">10</text>
<path d="M571.5 360.0L572.4 360.0" stroke="#777" stroke-width="0.35"/>
<text x="570.9" y="361.0" font-size="3" text-anchor="end" fill="#333">5</text>
<path d="M571.5 379.7L572.4 379.7" stroke="#777" stroke-width="0.35"/>
<text x="570.9" y="380.7" font-size="3" text-anchor="end" fill="#333">1</text>
<text x="619.5" y="316.6" font-size="3.2" text-anchor="middle" fill="#222">GZMH</text>
<path d="M577.0 379.7L616.4 379.7" stroke="#f8766d" stroke-width="1.3"/>
<path d="M616.4 379.7L619.1 379.7" stroke="#fb61d7" stroke-width="1.3"/>
<path d="M619.1 379.7L634.5 379.7" stroke="#c49a00" stroke-width="1.3"/>
<path d="M634.5 379.7L639.8 379.7" stroke="#53b400" stroke-width="1.3"/>
<path d="M639.8 379.7L643.3 379.7" stroke="#a58aff" stroke-width="1.3"/>
<path d="M643.3 379.7L646.7 379.7" stroke="#53b400" stroke-width="1.3"/>
<path d="M646.7 379.7L651.3 379.7" stroke="#00b6eb" stroke-width="1.3"/>
<path d="M651.3 379.7L661.3 379.7" stroke="#53b400" stroke-width="1.3"/>
<path d="M576.9 366.8H577.6M580.8 366.8H581.5M582.4 366.8H583.1M584.0 366.8H584.7M596.0 366.8H596.7M597.6 366.8H598.3M599.2 366.8H599.9M604.0 366.8H604.7M607.2 366.8H607.9M611.2 366.8H614.3" stroke="#f98179" stroke-width="0.75" fill="none"/>
<path d="M578.4 353.8H579.1M584.0 353.8H584.7M587.2 353.8H587.9M588.8 353.8H589.5M590.4 353.8H591.1M592.0 353.8H592.7M599.2 353.8H599.9M604.0 353.8H605.5" stroke="#f98179" stroke-width="0.75" fill="none"/>
<path d="M583.2 349.6H584.7M585.6 349.6H587.1" stroke="#f98179" stroke-width="0.75" fill="none"/>
<path d="M584.0 359.2H584.7M587.2 359.2H587.9M590.4 359.2H591.1M592.8 359.2H593.5M595.2 359.2H595.9M602.4 359.2H603.1M606.4 359.2H607.1M610.4 359.2H611.1M612.0 359.2H612.7" stroke="#f98179" stroke-width="0.75" fill="none"/>
<path d="M603.2 346.2H603.9M604.8 346.2H605.5M614.4 346.2H615.1" stroke="#f98179" stroke-width="0.75" fill="none"/>
<path d="M616.8 353.8H619.1" stroke="#fb6eda" stroke-width="0.75" fill="none"/>
<path d="M616.8 349.6H619.1" stroke="#fb6eda" stroke-width="0.75" fill="none"/>
<path d="M616.8 346.2H617.5M618.4 346.2H619.1" stroke="#fb6eda" stroke-width="0.75" fill="none"/>
<path d="M616.8 340.9H618.3" stroke="#fb6eda" stroke-width="0.75" fill="none"/>
<path d="M617.6 366.8H619.1" stroke="#fb6eda" stroke-width="0.75" fill="none"/>
<path d="M617.6 359.2H619.1" stroke="#fb6eda" stroke-width="0.75" fill="none"/>
<path d="M619.2 366.8H634.3" stroke="#c9a214" stroke-width="0.75" fill="none"/>
<path d="M619.2 359.2H630.3M631.2 359.2H632.7M633.6 359.2H634.3" stroke="#c9a214" stroke-width="0.75" fill="none"/>
<path d="M619.2 353.8H631.1M632.0 353.8H634.3" stroke="#c9a214" stroke-width="0.75" fill="none"/>
<path d="M619.2 349.6H619.9M620.8 349.6H623.1M624.0 349.6H625.5M626.4 349.6H634.3" stroke="#c9a214" stroke-width="0.75" fill="none"/>
<path d="M619.2 346.2H629.5M630.4 346.2H634.3" stroke="#c9a214" stroke-width="0.75" fill="none"/>
<path d="M619.2 343.4H623.9M624.8 343.4H629.5M630.4 343.4H631.1M632.0 343.4H634.3" stroke="#c9a214" stroke-width="0.75" fill="none"/>
<path d="M619.2 340.9H620.7M621.6 340.9H622.3M623.2 340.9H623.9M625.6 340.9H626.3M627.2 340.9H628.7M629.6 340.9H630.3M631.2 340.9H631.9M632.8 340.9H634.3" stroke="#c9a214" stroke-width="0.75" fill="none"/>
<path d="M634.4 366.8H635.9M636.8 366.8H637.5M638.4 366.8H640.7M641.6 366.8H642.3M643.2 366.8H646.3M647.2 366.8H647.9M650.4 366.8H660.7" stroke="#61ba14" stroke-width="0.75" fill="none"/>
<path d="M634.4 359.2H635.9M638.4 359.2H640.7M641.6 359.2H642.3M643.2 359.2H646.3M647.2 359.2H647.9M650.4 359.2H659.9" stroke="#61ba14" stroke-width="0.75" fill="none"/>
<path d="M634.4 353.8H635.9M636.8 353.8H637.5M638.4 353.8H640.7M641.6 353.8H642.3M643.2 353.8H646.3M647.2 353.8H647.9M650.4 353.8H654.3M655.2 353.8H656.7M658.4 353.8H660.7" stroke="#61ba14" stroke-width="0.75" fill="none"/>
<path d="M634.4 349.6H635.9M636.8 349.6H637.5M638.4 349.6H640.7M641.6 349.6H642.3M643.2 349.6H643.9M644.8 349.6H646.3M647.2 349.6H647.9M651.2 349.6H654.3M655.2 349.6H656.7M657.6 349.6H660.7" stroke="#61ba14" stroke-width="0.75" fill="none"/>
<path d="M634.4 346.2H635.9M636.8 346.2H637.5M638.4 346.2H640.7M641.6 346.2H642.3M643.2 346.2H646.3M647.2 346.2H647.9M650.4 346.2H651.1M652.0 346.2H655.9M656.8 346.2H657.5M660.0 346.2H660.7" stroke="#61ba14" stroke-width="0.75" fill="none"/>
<path d="M634.4 343.4H635.9M636.8 343.4H637.5M639.2 343.4H640.7M641.6 343.4H642.3M643.2 343.4H644.7M647.2 343.4H647.9M650.4 343.4H651.1M652.0 343.4H654.3M655.2 343.4H655.9M656.8 343.4H657.5M658.4 343.4H659.1M660.0 343.4H660.7" stroke="#61ba14" stroke-width="0.75" fill="none"/>
<path d="M634.4 340.9H635.9M636.8 340.9H637.5M638.4 340.9H640.7M641.6 340.9H642.3M644.0 340.9H644.7M647.2 340.9H647.9M650.4 340.9H651.1M652.0 340.9H655.9M657.6 340.9H659.9" stroke="#61ba14" stroke-width="0.75" fill="none"/>
<path d="M636.0 366.8H636.7M637.6 366.8H638.3" stroke="#14c59d" stroke-width="0.75" fill="none"/>
<path d="M636.0 359.2H636.7M637.6 359.2H638.3" stroke="#14c59d" stroke-width="0.75" fill="none"/>
<path d="M636.0 353.8H636.7M637.6 353.8H638.3" stroke="#14c59d" stroke-width="0.75" fill="none"/>
<path d="M636.0 349.6H636.7M637.6 349.6H638.3" stroke="#14c59d" stroke-width="0.75" fill="none"/>
<path d="M636.0 346.2H636.7M637.6 346.2H638.3" stroke="#14c59d" stroke-width="0.75" fill="none"/>
<path d="M636.0 343.4H636.7M637.6 343.4H638.3" stroke="#14c59d" stroke-width="0.75" fill="none"/>
<path d="M636.0 340.9H636.7" stroke="#14c59d" stroke-width="0.75" fill="none"/>
<path d="M640.8 366.8H641.5M642.4 366.8H643.1" stroke="#ac93ff" stroke-width="0.75" fill="none"/>
<path d="M640.8 359.2H641.5M642.4 359.2H643.1" stroke="#ac93ff" stroke-width="0.75" fill="none"/>
<path d="M640.8 353.8H641.5M642.4 353.8H643.1" stroke="#ac93ff" stroke-width="0.75" fill="none"/>
<path d="M640.8 349.6H641.5M642.4 349.6H643.1" stroke="#ac93ff" stroke-width="0.75" fill="none"/>
<path d="M640.8 346.2H641.5M642.4 346.2H643.1" stroke="#ac93ff" stroke-width="0.75" fill="none"/>
<path d="M640.8 343.4H641.5M642.4 343.4H643.1" stroke="#ac93ff" stroke-width="0.75" fill="none"/>
<path d="M640.8 340.9H641.5M642.4 340.9H643.1" stroke="#ac93ff" stroke-width="0.75" fill="none"/>
<path d="M646.4 366.8H647.1M648.0 366.8H650.3" stroke="#14bced" stroke-width="0.75" fill="none"/>
<path d="M646.4 359.2H647.1M648.0 359.2H650.3" stroke="#14bced" stroke-width="0.75" fill="none"/>
<path d="M646.4 353.8H647.1M648.0 353.8H650.3" stroke="#14bced" stroke-width="0.75" fill="none"/>
<path d="M646.4 349.6H647.1M648.0 349.6H650.3" stroke="#14bced" stroke-width="0.75" fill="none"/>
<path d="M646.4 346.2H647.1M648.0 346.2H650.3" stroke="#14bced" stroke-width="0.75" fill="none"/>
<path d="M646.4 343.4H647.1M648.0 343.4H650.3" stroke="#14bced" stroke-width="0.75" fill="none"/>
<path d="M646.4 340.9H647.1M648.8 340.9H650.3" stroke="#14bced" stroke-width="0.75" fill="none"/>
<path transform="scale(.25)" d="M2343 1341h0m87 15h0" stroke="#f98179" stroke-width="3" stroke-linecap="square" fill="none"/>
<path transform="scale(.25)" d="M2477 1304h0m-10 21h0m4 30h0" stroke="#fb6eda" stroke-width="3" stroke-linecap="square" fill="none"/>
<path transform="scale(.25)" d="M2491 1299h0m9 6h0m31 1h0m-50 13h0m4-2h0m5-2h0m46 1h0m-56 5h0m1 1h0m26 1h0m8 0h0m10-3h0m-28 18h0m14 2h0m1-8h0m7 9h0m10-9h0m1 11h0m-53 6h0m8-2h0m10 7h0m2-2h0m6-5h0m0-2h0m13 5h0m4 2h0m4 1h0m4 2h0m3 0h0m7-10h0" stroke="#c9a214" stroke-width="3" stroke-linecap="square" fill="none"/>
<path transform="scale(.25)" d="M2554 1302h0m2 3h0m6 0h0m16-6h0m29 4h0m2-1h0m29 3h0m4-2h0m-105 9h0m3 5h0m1-2h0m0 4h0m1-4h0m6-7h0m1 9h0m9 1h0m1-2h0m2-2h0m1 5h0m16-5h0m0-5h0m13 9h0m12-8h0m2 6h0m7-7h0m0 8h0m3-4h0m3-4h0m0 10h0m1-8h0m12 4h0m3 3h0m-93 7h0m14 4h0m4-5h0m2 0h0m1-4h0m6 6h0m5 4h0m0-6h0m1 3h0m0-3h0m7 6h0m1-2h0m0-7h0m20 8h0m7-8h0m0 4h0m3 5h0m7-7h0m2 6h0m6 1h0m0-7h0m1 1h0m2 7h0m9-11h0m2 8h0m-97 15h0m3-4h0m8-2h0m4 3h0m20-7h0m6 3h0m0 1h0m4-4h0m0 1h0m17 2h0m9 6h0m3-9h0m28 9h0m-103 4h0m5 8h0m2-8h0m7 6h0m9-2h0m3 0h0m10-1h0m1-1h0m4 4h0m8-4h0m11 2h0m0 3h0m3-6h0m5 3h0m6 1h0m2 2h0m3-8h0m3 8h0m-56 7h0m2-3h0m35 0h0m12-1h0m16 1h0" stroke="#61ba14" stroke-width="3" stroke-linecap="square" fill="none"/>
<path transform="scale(.25)" d="M2551 1298h0m-7 12h0m1 0h0m5 7h0m-4 7h0m6 0h0m-6 9h0m2 17h0m4-6h0" stroke="#14c59d" stroke-width="3" stroke-linecap="square" fill="none"/>
<path transform="scale(.25)" d="M2565 1295h0m-2 11h0m1-9h0m6 3h0m1 4h0m1 3h0m-7 1h0m-1 12h0m0 12h0m7 3h0m1 6h0m-2 3h0m2 7h0" stroke="#ac93ff" stroke-width="3" stroke-linecap="square" fill="none"/>
<path transform="scale(.25)" d="M2588 1293h0m6-3h0m0 1h0m2-2h0m1 5h0m1-5h0m-12 10h0m0 7h0m8-4h0m0 2h0m0-1h0m5-7h0m0 2h0m2 8h0m-14 2h0m11 3h0m-12 17h0m2 3h0m4-1h0m8 1h0m-4 9h0m0-5h0m2 0h0m-10 16h0m9-4h0m1 10h0m1 3h0" stroke="#14bced" stroke-width="3" stroke-linecap="square" fill="none"/>
<path d="M576.40 379.70 C579.98 379.70 615.08 380.84 619.30 379.70 C623.52 378.56 625.69 368.06 627.00 366.00 C628.31 363.94 633.62 356.37 635.00 355.00 C636.38 353.63 642.18 349.77 643.60 349.60 C645.02 349.43 650.58 352.06 652.00 353.00 C653.42 353.94 659.98 360.24 660.70 360.90" fill="none" stroke="#222" stroke-width="0.55"/>
<path d="M470.3 390.3L470.3 454.3" stroke="#9a9a9a" stroke-width="0.45"/>
<path d="M469.4 408.9L470.3 408.9" stroke="#777" stroke-width="0.35"/>
<text x="468.8" y="409.9" font-size="3" text-anchor="end" fill="#333">10</text>
<path d="M469.4 431.4L470.3 431.4" stroke="#777" stroke-width="0.35"/>
<text x="468.8" y="432.4" font-size="3" text-anchor="end" fill="#333">3</text>
<path d="M469.4 451.8L470.3 451.8" stroke="#777" stroke-width="0.35"/>
<text x="468.8" y="452.8" font-size="3" text-anchor="end" fill="#333">1</text>
<text x="516.3" y="388.7" font-size="3.2" text-anchor="middle" fill="#222">GZMK</text>
<path d="M473.8 451.8L514.0 451.8" stroke="#f8766d" stroke-width="1.3"/>
<path d="M514.0 451.8L516.7 451.8" stroke="#fb61d7" stroke-width="1.3"/>
<path d="M516.7 451.8L532.3 451.8" stroke="#c49a00" stroke-width="1.3"/>
<path d="M532.3 451.8L537.8 451.8" stroke="#53b400" stroke-width="1.3"/>
<path d="M537.8 451.8L541.3 451.8" stroke="#a58aff" stroke-width="1.3"/>
<path d="M541.3 451.8L544.8 451.8" stroke="#53b400" stroke-width="1.3"/>
<path d="M544.8 451.8L549.5 451.8" stroke="#00b6eb" stroke-width="1.3"/>
<path d="M549.5 451.8L559.6 451.8" stroke="#53b400" stroke-width="1.3"/>
<path d="M473.6 438.9H490.4M491.3 438.9H492.0M492.9 438.9H513.6" stroke="#f98179" stroke-width="0.75" fill="none"/>
<path d="M473.6 431.3H476.8M477.7 431.3H480.8M481.7 431.3H488.8M489.7 431.3H512.0M512.9 431.3H513.6" stroke="#f98179" stroke-width="0.75" fill="none"/>
<path d="M473.6 421.7H475.2M476.1 421.7H477.6M478.5 421.7H479.2M480.9 421.7H481.6M482.5 421.7H484.0M484.9 421.7H492.0M494.5 421.7H495.2M500.1 421.7H500.8M501.7 421.7H504.8M505.7 421.7H507.2M508.9 421.7H513.6" stroke="#f98179" stroke-width="0.75" fill="none"/>
<path d="M474.4 425.9H476.8M477.7 425.9H478.4M479.3 425.9H480.8M481.7 425.9H484.0M484.9 425.9H487.2M488.9 425.9H490.4M491.3 425.9H492.0M492.9 425.9H496.0M496.9 425.9H498.4M499.3 425.9H500.0M500.9 425.9H502.4M503.3 425.9H508.0M508.9 425.9H509.6M510.5 425.9H511.2M512.1 425.9H513.6" stroke="#f98179" stroke-width="0.75" fill="none"/>
<path d="M474.4 418.3H478.4M479.3 418.3H480.0M481.7 418.3H482.4M483.3 418.3H486.4M488.1 418.3H488.8M489.7 418.3H490.4M491.3 418.3H492.0M492.9 418.3H494.4M496.9 418.3H497.6M500.1 418.3H500.8M504.1 418.3H506.4M507.3 418.3H508.0M508.9 418.3H509.6M510.5 418.3H511.2M512.1 418.3H513.6" stroke="#f98179" stroke-width="0.75" fill="none"/>
<path d="M475.2 413.0H476.8M480.9 413.0H481.6M484.9 413.0H485.6M488.9 413.0H490.4M493.7 413.0H494.4M496.9 413.0H497.6M500.1 413.0H502.4M504.1 413.0H504.8M507.3 413.0H510.4M511.3 413.0H512.0" stroke="#f98179" stroke-width="0.75" fill="none"/>
<path d="M477.7 415.5H478.4M479.3 415.5H480.8M487.3 415.5H488.0M489.7 415.5H490.4M498.5 415.5H500.0M501.7 415.5H503.2M504.1 415.5H504.8M508.1 415.5H508.8M509.7 415.5H510.4M511.3 415.5H513.6" stroke="#f98179" stroke-width="0.75" fill="none"/>
<path d="M513.7 438.9H516.8" stroke="#fb6eda" stroke-width="0.75" fill="none"/>
<path d="M513.7 431.3H516.8" stroke="#fb6eda" stroke-width="0.75" fill="none"/>
<path d="M513.7 425.9H516.8" stroke="#fb6eda" stroke-width="0.75" fill="none"/>
<path d="M514.5 421.7H516.8" stroke="#fb6eda" stroke-width="0.75" fill="none"/>
<path d="M514.5 418.3H515.2" stroke="#fb6eda" stroke-width="0.75" fill="none"/>
<path d="M514.5 415.5H516.0" stroke="#fb6eda" stroke-width="0.75" fill="none"/>
<path d="M516.9 438.9H531.9" stroke="#c9a214" stroke-width="0.75" fill="none"/>
<path d="M516.9 431.3H531.9" stroke="#c9a214" stroke-width="0.75" fill="none"/>
<path d="M516.9 425.9H531.9" stroke="#c9a214" stroke-width="0.75" fill="none"/>
<path d="M516.9 421.7H525.5M526.4 421.7H531.9" stroke="#c9a214" stroke-width="0.75" fill="none"/>
<path d="M516.9 418.3H517.6M518.5 418.3H523.1M524.0 418.3H525.5M526.4 418.3H531.1" stroke="#c9a214" stroke-width="0.75" fill="none"/>
<path d="M516.9 415.5H518.4M519.3 415.5H520.0M520.9 415.5H523.9M524.8 415.5H528.7M530.4 415.5H531.9" stroke="#c9a214" stroke-width="0.75" fill="none"/>
<path d="M516.9 413.0H517.6M518.5 413.0H520.8M522.4 413.0H523.1M524.8 413.0H525.5M529.6 413.0H530.3" stroke="#c9a214" stroke-width="0.75" fill="none"/>
<path d="M532.0 438.9H538.3M541.6 438.9H543.9M544.8 438.9H546.3M548.0 438.9H548.7M550.4 438.9H552.7M553.6 438.9H559.1" stroke="#61ba14" stroke-width="0.75" fill="none"/>
<path d="M532.0 431.3H538.3M541.6 431.3H543.9M544.8 431.3H546.3M548.0 431.3H548.7M549.6 431.3H552.7M553.6 431.3H557.5M558.4 431.3H559.1" stroke="#61ba14" stroke-width="0.75" fill="none"/>
<path d="M532.0 425.9H538.3M541.6 425.9H543.9M544.8 425.9H546.3M548.0 425.9H548.7M549.6 425.9H552.7M553.6 425.9H555.1M556.0 425.9H558.3" stroke="#61ba14" stroke-width="0.75" fill="none"/>
<path d="M532.0 421.7H538.3M541.6 421.7H543.9M544.8 421.7H545.5M549.6 421.7H550.3M551.2 421.7H552.7M556.0 421.7H556.7M558.4 421.7H559.1" stroke="#61ba14" stroke-width="0.75" fill="none"/>
<path d="M532.0 418.3H535.1M536.0 418.3H538.3M541.6 418.3H542.3M543.2 418.3H543.9M544.8 418.3H546.3M548.0 418.3H548.7M550.4 418.3H551.9M554.4 418.3H555.1M556.0 418.3H559.1" stroke="#61ba14" stroke-width="0.75" fill="none"/>
<path d="M532.0 415.5H532.7M534.4 415.5H536.7M541.6 415.5H543.9M544.8 415.5H545.5M548.0 415.5H548.7M549.6 415.5H552.7M554.4 415.5H555.9M558.4 415.5H559.1" stroke="#61ba14" stroke-width="0.75" fill="none"/>
<path d="M534.4 413.0H535.1M536.0 413.0H536.7M537.6 413.0H538.3M541.6 413.0H543.1M544.8 413.0H545.5M552.0 413.0H552.7M555.2 413.0H555.9M557.6 413.0H559.1" stroke="#61ba14" stroke-width="0.75" fill="none"/>
<path d="M538.4 438.9H541.5" stroke="#ac93ff" stroke-width="0.75" fill="none"/>
<path d="M538.4 431.3H541.5" stroke="#ac93ff" stroke-width="0.75" fill="none"/>
<path d="M538.4 425.9H541.5" stroke="#ac93ff" stroke-width="0.75" fill="none"/>
<path d="M538.4 421.7H539.1M540.0 421.7H541.5" stroke="#ac93ff" stroke-width="0.75" fill="none"/>
<path d="M538.4 418.3H539.9M540.8 418.3H541.5" stroke="#ac93ff" stroke-width="0.75" fill="none"/>
<path d="M538.4 413.0H539.1M540.0 413.0H540.7" stroke="#ac93ff" stroke-width="0.75" fill="none"/>
<path d="M540.0 415.5H540.7" stroke="#ac93ff" stroke-width="0.75" fill="none"/>
<path d="M544.0 438.9H544.7M552.8 438.9H553.5" stroke="#14c59d" stroke-width="0.75" fill="none"/>
<path d="M544.0 431.3H544.7M552.8 431.3H553.5" stroke="#14c59d" stroke-width="0.75" fill="none"/>
<path d="M544.0 425.9H544.7M552.8 425.9H553.5" stroke="#14c59d" stroke-width="0.75" fill="none"/>
<path d="M544.0 418.3H544.7" stroke="#14c59d" stroke-width="0.75" fill="none"/>
<path d="M546.4 438.9H547.9M548.8 438.9H549.5" stroke="#14bced" stroke-width="0.75" fill="none"/>
<path d="M546.4 431.3H547.9M548.8 431.3H549.5" stroke="#14bced" stroke-width="0.75" fill="none"/>
<path d="M546.4 425.9H547.9M548.8 425.9H549.5" stroke="#14bced" stroke-width="0.75" fill="none"/>
<path d="M546.4 421.7H547.9M548.8 421.7H549.5" stroke="#14bced" stroke-width="0.75" fill="none"/>
<path d="M546.4 418.3H547.9M548.8 418.3H549.5" stroke="#14bced" stroke-width="0.75" fill="none"/>
<path d="M546.4 413.0H547.1M548.8 413.0H549.5" stroke="#14bced" stroke-width="0.75" fill="none"/>
<path d="M547.2 415.5H547.9" stroke="#14bced" stroke-width="0.75" fill="none"/>
<path d="M552.8 415.5H553.5" stroke="#14c59d" stroke-width="0.75" fill="none"/>
<path d="M552.8 413.0H553.5" stroke="#14c59d" stroke-width="0.75" fill="none"/>
<path transform="scale(.25)" d="M2005 1602h0m16 12h0m2-2h0m-105 19h0m21-7h0m9 5h0m79 1h0m-125 2h0m25 6h0m125 3h0m-142 5h0m48 0h0m34 1h0m6-2h0" stroke="#f98179" stroke-width="3" stroke-linecap="square" fill="none"/>
<path transform="scale(.25)" d="M2057 1642h0m5-10h0m2 13h0" stroke="#fb6eda" stroke-width="3" stroke-linecap="square" fill="none"/>
<path transform="scale(.25)" d="M2092 1619h0m13-3h0m-19 4h0m36 2h0m-50 10h0m5 9h0m7 2h0m10-2h0m15-1h0m12-3h0m-46 10h0m8-3h0" stroke="#c9a214" stroke-width="3" stroke-linecap="square" fill="none"/>
<path transform="scale(.25)" d="M2132 1608h0m61 8h0m32 3h0m-97 10h0m40-5h0m6-2h0m6 1h0m39-1h0m11 3h0m-88 17h0m4-10h0m3 0h0m22 3h0m31-3h0m2 9h0m-65 5h0m71-1h0m22 2h0" stroke="#61ba14" stroke-width="3" stroke-linecap="square" fill="none"/>
<path transform="scale(.25)" d="M2215 1628h0" stroke="#14c59d" stroke-width="3" stroke-linecap="square" fill="none"/>
<path transform="scale(.25)" d="M2155 1598h0m3 8h0m6 12h0m-4 25h0" stroke="#ac93ff" stroke-width="3" stroke-linecap="square" fill="none"/>
<path transform="scale(.25)" d="M2185 1603h0m3 12h0m3 12h0m9 14h0" stroke="#14bced" stroke-width="3" stroke-linecap="square" fill="none"/>
<path d="M474.30 451.80 C475.50 451.80 487.14 452.78 488.70 451.80 C490.26 450.82 492.14 441.82 493.00 440.00 C493.86 438.18 497.91 431.22 499.00 430.00 C500.09 428.78 504.93 425.57 506.10 425.40 C507.27 425.23 511.93 427.12 513.00 428.00 C514.08 428.88 518.08 434.58 519.00 436.00 C519.92 437.42 523.04 443.68 524.00 445.00 C524.96 446.32 529.96 451.23 530.50 451.80" fill="none" stroke="#222" stroke-width="0.55"/>
<path d="M572.4 390.3L572.4 454.3" stroke="#9a9a9a" stroke-width="0.45"/>
<path d="M571.5 406.1L572.4 406.1" stroke="#777" stroke-width="0.35"/>
<text x="570.9" y="407.1" font-size="3" text-anchor="end" fill="#333">20</text>
<path d="M571.5 421.0L572.4 421.0" stroke="#777" stroke-width="0.35"/>
<text x="570.9" y="422.0" font-size="3" text-anchor="end" fill="#333">10</text>
<path d="M571.5 437.1L572.4 437.1" stroke="#777" stroke-width="0.35"/>
<text x="570.9" y="438.1" font-size="3" text-anchor="end" fill="#333">5</text>
<path d="M571.5 451.7L572.4 451.7" stroke="#777" stroke-width="0.35"/>
<text x="570.9" y="452.7" font-size="3" text-anchor="end" fill="#333">1</text>
<text x="619.5" y="388.7" font-size="3.2" text-anchor="middle" fill="#222">NKG7</text>
<path d="M577.0 451.8L616.4 451.8" stroke="#f8766d" stroke-width="1.3"/>
<path d="M616.4 451.8L619.1 451.8" stroke="#fb61d7" stroke-width="1.3"/>
<path d="M619.1 451.8L634.5 451.8" stroke="#c49a00" stroke-width="1.3"/>
<path d="M634.5 451.8L639.8 451.8" stroke="#53b400" stroke-width="1.3"/>
<path d="M639.8 451.8L643.3 451.8" stroke="#a58aff" stroke-width="1.3"/>
<path d="M643.3 451.8L646.7 451.8" stroke="#53b400" stroke-width="1.3"/>
<path d="M646.7 451.8L651.3 451.8" stroke="#00b6eb" stroke-width="1.3"/>
<path d="M651.3 451.8L661.3 451.8" stroke="#53b400" stroke-width="1.3"/>
<path d="M576.9 441.6H580.7M581.6 441.6H583.1M584.0 441.6H591.9M592.8 441.6H595.9M596.8 441.6H615.1M616.0 441.6H616.7" stroke="#f98179" stroke-width="0.75" fill="none"/>
<path d="M576.9 435.6H584.7M586.4 435.6H608.7M609.6 435.6H612.7M613.6 435.6H614.3M615.2 435.6H616.7" stroke="#f98179" stroke-width="0.75" fill="none"/>
<path d="M576.9 428.0H579.9M580.8 428.0H582.3M583.2 428.0H587.1M588.0 428.0H591.1M592.8 428.0H596.7M597.6 428.0H599.9M600.8 428.0H603.9M604.8 428.0H609.5M610.4 428.0H611.1M612.0 428.0H615.9" stroke="#f98179" stroke-width="0.75" fill="none"/>
<path d="M576.9 425.3H577.6M578.4 425.3H581.5M584.8 425.3H587.1M588.0 425.3H588.7M589.6 425.3H591.9M592.8 425.3H595.1M596.8 425.3H597.5M599.2 425.3H599.9M600.8 425.3H604.7M606.4 425.3H607.1M608.8 425.3H609.5M610.4 425.3H614.3" stroke="#f98179" stroke-width="0.75" fill="none"/>
<path d="M576.9 421.1H577.6M579.2 421.1H579.9M581.6 421.1H583.1M585.6 421.1H586.3M587.2 421.1H589.5M590.4 421.1H591.9M592.8 421.1H593.5M594.4 421.1H595.1M596.0 421.1H598.3M602.4 421.1H603.9M607.2 421.1H607.9M609.6 421.1H610.3M611.2 421.1H613.5M614.4 421.1H615.1" stroke="#f98179" stroke-width="0.75" fill="none"/>
<path d="M577.6 431.3H583.1M584.0 431.3H590.3M591.2 431.3H601.5M602.4 431.3H611.1M612.0 431.3H616.7" stroke="#f98179" stroke-width="0.75" fill="none"/>
<path d="M577.6 423.1H579.1M580.0 423.1H581.5M583.2 423.1H587.1M588.8 423.1H589.5M590.4 423.1H591.1M592.0 423.1H595.1M596.0 423.1H599.1M600.0 423.1H602.3M604.8 423.1H606.3M607.2 423.1H607.9M608.8 423.1H610.3M611.2 423.1H611.9M613.6 423.1H616.7" stroke="#f98179" stroke-width="0.75" fill="none"/>
<path d="M616.8 441.6H619.1" stroke="#fb6eda" stroke-width="0.75" fill="none"/>
<path d="M616.8 431.3H618.3" stroke="#fb6eda" stroke-width="0.75" fill="none"/>
<path d="M616.8 428.0H619.1" stroke="#fb6eda" stroke-width="0.75" fill="none"/>
<path d="M616.8 425.3H617.5M618.4 425.3H619.1" stroke="#fb6eda" stroke-width="0.75" fill="none"/>
<path d="M616.8 423.1H619.1" stroke="#fb6eda" stroke-width="0.75" fill="none"/>
<path d="M616.8 421.1H619.1" stroke="#fb6eda" stroke-width="0.75" fill="none"/>
<path d="M617.6 435.6H619.1" stroke="#fb6eda" stroke-width="0.75" fill="none"/>
<path d="M619.2 441.6H634.3" stroke="#c9a214" stroke-width="0.75" fill="none"/>
<path d="M619.2 435.6H634.3" stroke="#c9a214" stroke-width="0.75" fill="none"/>
<path d="M619.2 431.3H634.3" stroke="#c9a214" stroke-width="0.75" fill="none"/>
<path d="M619.2 428.0H633.5" stroke="#c9a214" stroke-width="0.75" fill="none"/>
<path d="M619.2 425.3H624.7M625.6 425.3H631.1M632.0 425.3H634.3" stroke="#c9a214" stroke-width="0.75" fill="none"/>
<path d="M619.2 423.1H619.9M620.8 423.1H634.3" stroke="#c9a214" stroke-width="0.75" fill="none"/>
<path d="M619.2 421.1H628.7M629.6 421.1H634.3" stroke="#c9a214" stroke-width="0.75" fill="none"/>
<path d="M634.4 441.6H639.9M641.6 441.6H642.3M643.2 441.6H647.9M648.8 441.6H649.5M651.2 441.6H657.5M658.4 441.6H659.1M660.0 441.6H660.7" stroke="#61ba14" stroke-width="0.75" fill="none"/>
<path d="M634.4 435.6H639.9M641.6 435.6H642.3M643.2 435.6H647.9M648.8 435.6H649.5M651.2 435.6H651.9M652.8 435.6H657.5M658.4 435.6H659.1M660.0 435.6H660.7" stroke="#61ba14" stroke-width="0.75" fill="none"/>
<path d="M634.4 431.3H639.9M641.6 431.3H642.3M643.2 431.3H647.9M648.8 431.3H649.5M651.2 431.3H652.7M653.6 431.3H657.5M658.4 431.3H659.1M660.0 431.3H660.7" stroke="#61ba14" stroke-width="0.75" fill="none"/>
<path d="M634.4 428.0H639.1M641.6 428.0H642.3M643.2 428.0H644.7M645.6 428.0H647.9M648.8 428.0H649.5M651.2 428.0H651.9M652.8 428.0H657.5M658.4 428.0H659.1M660.0 428.0H660.7" stroke="#61ba14" stroke-width="0.75" fill="none"/>
<path d="M634.4 425.3H639.1M641.6 425.3H642.3M643.2 425.3H643.9M644.8 425.3H647.9M648.8 425.3H649.5M651.2 425.3H655.1M656.8 425.3H657.5M658.4 425.3H659.1M660.0 425.3H660.7" stroke="#61ba14" stroke-width="0.75" fill="none"/>
<path d="M634.4 423.1H639.9M641.6 423.1H642.3M643.2 423.1H647.9M648.8 423.1H649.5M651.2 423.1H655.9M656.8 423.1H657.5M658.4 423.1H659.1M660.0 423.1H660.7" stroke="#61ba14" stroke-width="0.75" fill="none"/>
<path d="M634.4 421.1H639.9M641.6 421.1H642.3M643.2 421.1H647.9M648.8 421.1H649.5M651.2 421.1H657.5M658.4 421.1H659.1M660.0 421.1H660.7" stroke="#61ba14" stroke-width="0.75" fill="none"/>
<path d="M640.0 441.6H641.5M642.4 441.6H643.1" stroke="#ac93ff" stroke-width="0.75" fill="none"/>
<path d="M640.0 431.3H641.5M642.4 431.3H643.1" stroke="#ac93ff" stroke-width="0.75" fill="none"/>
<path d="M640.0 428.0H641.5M642.4 428.0H643.1" stroke="#ac93ff" stroke-width="0.75" fill="none"/>
<path d="M640.0 425.3H641.5M642.4 425.3H643.1" stroke="#ac93ff" stroke-width="0.75" fill="none"/>
<path d="M640.0 423.1H641.5M642.4 423.1H643.1" stroke="#ac93ff" stroke-width="0.75" fill="none"/>
<path d="M640.0 421.1H641.5M642.4 421.1H643.1" stroke="#ac93ff" stroke-width="0.75" fill="none"/>
<path d="M640.8 435.6H641.5M642.4 435.6H643.1" stroke="#ac93ff" stroke-width="0.75" fill="none"/>
<path d="M648.0 441.6H648.7M649.6 441.6H651.1" stroke="#14bced" stroke-width="0.75" fill="none"/>
<path d="M648.0 435.6H648.7M649.6 435.6H651.1" stroke="#14bced" stroke-width="0.75" fill="none"/>
<path d="M648.0 431.3H648.7M649.6 431.3H651.1" stroke="#14bced" stroke-width="0.75" fill="none"/>
<path d="M648.0 428.0H648.7M650.4 428.0H651.1" stroke="#14bced" stroke-width="0.75" fill="none"/>
<path d="M648.0 425.3H648.7M649.6 425.3H651.1" stroke="#14bced" stroke-width="0.75" fill="none"/>
<path d="M648.0 423.1H648.7M649.6 423.1H651.1" stroke="#14bced" stroke-width="0.75" fill="none"/>
<path d="M648.0 421.1H648.7M649.6 421.1H651.1" stroke="#14bced" stroke-width="0.75" fill="none"/>
<path d="M657.6 441.6H658.3M659.2 441.6H659.9" stroke="#14c59d" stroke-width="0.75" fill="none"/>
<path d="M657.6 431.3H658.3M659.2 431.3H659.9" stroke="#14c59d" stroke-width="0.75" fill="none"/>
<path d="M657.6 425.3H658.3M659.2 425.3H659.9" stroke="#14c59d" stroke-width="0.75" fill="none"/>
<path d="M657.6 423.1H658.3M659.2 423.1H659.9" stroke="#14c59d" stroke-width="0.75" fill="none"/>
<path d="M657.6 421.1H658.3M659.2 421.1H659.9" stroke="#14c59d" stroke-width="0.75" fill="none"/>
<path d="M659.2 435.6H659.9" stroke="#14c59d" stroke-width="0.75" fill="none"/>
<path d="M659.2 428.0H659.9" stroke="#14c59d" stroke-width="0.75" fill="none"/>
<path transform="scale(.25)" d="M2341 1616h0m1 1h0m91-1h0m-60 13h0m25-4h0m-86 14h0m19-5h0m13 8h0m8 0h0m1-3h0m6 3h0m33-3h0m9 1h0m20-4h0m38 0h0m-145 9h0m2 3h0m9 5h0m3-3h0m15 3h0m22-9h0m13 0h0m51 7h0m14 1h0m4-4h0m4 7h0m13-10h0m-154 14h0m9 2h0m4-3h0m7 2h0m33 3h0m21-7h0m6 5h0m6 6h0m1-3h0m5 3h0m7-4h0m1-6h0m21 2h0m6 0h0m17-3h0m1 10h0m-132 5h0m13 7h0m11-9h0m11 6h0m2 0h0m12-1h0m0 4h0m7-7h0m2 2h0m3 1h0m21 2h0m8-1h0m4-2h0m4 1h0m3-1h0m12 6h0m5-7h0m7-2h0m2 5h0m11-1h0" stroke="#f98179" stroke-width="3" stroke-linecap="square" fill="none"/>
<path transform="scale(.25)" d="M2477 1582h0m-9 7h0m0 6h0m5-3h0m-5 10h0m0-5h0m6 3h0m0 7h0m0 11h0m-4 10h0m4-2h0m1 4h0m-6 2h0m5 5h0m-5 12h0m0 6h0m6 0h0m1-8h0m2 5h0m-9 9h0m3 2h0m1-6h0m-4 15h0m3-2h0m1 8h0m3-1h0m-4 3h0" stroke="#fb6eda" stroke-width="3" stroke-linecap="square" fill="none"/>
<path transform="scale(.25)" d="M2504 1580h0m33 3h0m-55 12h0m2-3h0m7-8h0m1 1h0m9 6h0m3-1h0m2 0h0m5 5h0m1-8h0m1 6h0m5-6h0m6 6h0m1 0h0m-49 11h0m1-7h0m5 1h0m7 3h0m0 3h0m2 3h0m0-11h0m2 8h0m3-3h0m4 5h0m5-8h0m3 6h0m1-8h0m1 10h0m4-4h0m0 4h0m4-8h0m3 3h0m1-2h0m2-3h0m0 3h0m4 5h0m4-7h0m-50 19h0m1-1h0m2 3h0m1 1h0m2 0h0m5-1h0m7-1h0m1-8h0m0 4h0m0 4h0m0 2h0m10-5h0m0 2h0m0-3h0m5-3h0m0 6h0m3-7h0m1 7h0m2-7h0m5 9h0m5 1h0m1-8h0m1 6h0m2-3h0m0-5h0m-58 20h0m0-3h0m1-6h0m5 1h0m3 3h0m10 5h0m1-8h0m1-1h0m0 3h0m4 1h0m2 7h0m1-11h0m2 7h0m1 3h0m1-5h0m5-4h0m4 8h0m2 0h0m3-3h0m3-4h0m0 9h0m1-10h0m5 9h0m2-1h0m0-8h0m2 1h0m-60 19h0m2 0h0m0 2h0m1-7h0m2 2h0m1-5h0m0 9h0m1 0h0m1-5h0m1 2h0m1 1h0m3 0h0m1-5h0m1-2h0m0 6h0m0-7h0m0 11h0m2 0h0m3-1h0m1-8h0m0 9h0m0-10h0m1 5h0m1-6h0m5 9h0m1-5h0m1 7h0m4-4h0m0-1h0m4-5h0m1 9h0m2-2h0m1 0h0m5-4h0m3 1h0m3-1h0m0 6h0m0-3h0m0 4h0m1-11h0m1 5h0m1-2h0m1-3h0m0 2h0m2-2h0m0 2h0m-59 13h0m2-1h0m1 9h0m1-4h0m1-6h0m0 3h0m2 6h0m0-8h0m1 0h0m1-2h0m1 6h0m1-2h0m0-2h0m8 1h0m3 2h0m0 4h0m2 2h0m0-3h0m0-7h0m3 10h0m0-1h0m1-6h0m1 7h0m0-6h0m3 5h0m0-3h0m1 4h0m0-10h0m2 3h0m2 2h0m0 2h0m0 2h0m2-9h0m1 4h0m1 4h0m2-6h0m0 2h0m1 6h0m2-5h0m0 4h0m1-6h0m1-2h0m2-1h0m0 8h0m1-4h0m3 6h0m0-4h0m3-6h0m2 2h0m2 5h0m-60 5h0m3 4h0m1-3h0m1 8h0m1-4h0m3 5h0m0-4h0m1-4h0m2 8h0m2-7h0m0 4h0m0-7h0m2 6h0m1 1h0m2-2h0m0 5h0m1 0h0m0-4h0m1-1h0m3 4h0m1-7h0m5 1h0m2 2h0m0 1h0m2 3h0m1-10h0m3 11h0m1 0h0m0-9h0m2-1h0m0 1h0m1 8h0m3-6h0m1 0h0m2-1h0m1 3h0m1-3h0m0 2h0m1 0h0m0-3h0m0 2h0m4 1h0m2 3h0m2 2h0m-61 9h0m3-7h0m4 10h0m1-8h0m0-1h0m1 2h0m1-2h0m1 7h0m0-1h0m1-4h0m2 1h0m0-4h0m4 8h0m1 1h0m0-7h0m0 9h0m0-5h0m3-6h0m4 9h0m1-6h0m1-2h0m2 8h0m1-8h0m1 10h0m1-11h0m1 7h0m2-1h0m2 3h0m1 1h0m0 1h0m1 0h0m0-5h0m1-2h0m1-4h0m2 2h0m2 6h0m1-4h0m0 4h0m0-7h0m2 9h0m5-1h0m3-2h0m1-1h0m0-5h0m0-1h0m1 8h0m4 3h0m-48 1h0m3 0h0m2 0h0m18 0h0m15 1h0m4 0h0" stroke="#c9a214" stroke-width="3" stroke-linecap="square" fill="none"/>
<path transform="scale(.25)" d="M2547 1579h0m1-1h0m26 5h0m10 0h0m22-3h0m0 3h0m0-2h0m3 0h0m18 0h0m3 2h0m-91 12h0m4-1h0m1-3h0m1-1h0m0-2h0m1-2h0m3 6h0m2-4h0m0 3h0m1-1h0m1 3h0m3-4h0m1 5h0m1-8h0m9-1h0m7 0h0m0 4h0m3-3h0m1 0h0m1 3h0m3-2h0m7 6h0m1 2h0m1-9h0m5 7h0m10-6h0m2 3h0m0 3h0m2-8h0m0 4h0m5 3h0m0-6h0m2 7h0m1-3h0m3 0h0m10 4h0m4-8h0m7-1h0m-104 21h0m2-3h0m1 4h0m1-8h0m3 2h0m1-4h0m0 4h0m3-5h0m1 5h0m3-3h0m1-2h0m1 2h0m0-2h0m1 4h0m0 3h0m1-6h0m17 7h0m0-7h0m1 4h0m0 2h0m1-5h0m2 9h0m1-7h0m1 3h0m0 3h0m3 0h0m1-7h0m1 4h0m0-6h0m2-1h0m1 8h0m1-7h0m1 0h0m1 9h0m15-10h0m2 4h0m3-3h0m4 10h0m0-6h0m2 5h0m0-1h0m0-5h0m4-1h0m2-3h0m1 4h0m4-4h0m-90 16h0m1 7h0m2-2h0m1-6h0m6 3h0m10-1h0m0 2h0m1-4h0m0 2h0m20-5h0m1 8h0m3-3h0m1-4h0m0-1h0m2 3h0m1 0h0m0 4h0m1-1h0m2-2h0m3 3h0m3 1h0m1 2h0m1-1h0m0-2h0m6-6h0m4 7h0m0-7h0m2 9h0m0-3h0m2-3h0m3 5h0m2-1h0m0-1h0m5 2h0m2 2h0m2-1h0m0 1h0m2-1h0m1-9h0m1 8h0m5-2h0m2-7h0m4 7h0m0-3h0m-105 16h0m3-3h0m1 5h0m0-10h0m2 6h0m0 3h0m0-5h0m3-1h0m0-1h0m1 3h0m2 6h0m1-8h0m1 1h0m0-4h0m1 7h0m1 4h0m1-9h0m1 1h0m1 4h0m1 2h0m0-6h0m0-2h0m1 1h0m1 9h0m0-1h0m1-5h0m2-4h0m6 6h0m1-1h0m0-1h0m1 3h0m3 1h0m3 2h0m2-5h0m3 5h0m0-6h0m1 1h0m3 3h0m0-2h0m2-1h0m2-2h0m4 2h0m5-3h0m9-2h0m1 5h0m1-2h0m0 7h0m5-8h0m5 7h0m1-7h0m1-3h0m1 8h0m3-3h0m16 1h0m1-4h0m-102 19h0m0-6h0m3 3h0m1 3h0m3-8h0m1 8h0m1-6h0m1-1h0m1 7h0m1-8h0m3 6h0m5-4h0m0 8h0m9-4h0m1-2h0m4-1h0m1 4h0m0-2h0m1 1h0m2-7h0m1 0h0m0 8h0m1 1h0m2 2h0m0-6h0m5-5h0m1 7h0m1-3h0m2 6h0m2 1h0m3-3h0m1 2h0m0 1h0m10-8h0m1-2h0m3 6h0m1-4h0m2 2h0m1 1h0m2 3h0m1-5h0m1 5h0m1-4h0m6 5h0m1-6h0m9-3h0m1 6h0m0-4h0m7 2h0m-106 13h0m4 1h0m1-7h0m1 9h0m1-4h0m0 6h0m1-11h0m0 4h0m3 1h0m1 3h0m0-5h0m2 5h0m1-7h0m1 6h0m0 3h0m1-1h0m1-8h0m2 7h0m2-3h0m8 1h0m1 1h0m1 4h0m4-2h0m3-1h0m1-5h0m1-2h0m0 4h0m1 5h0m0-8h0m2 2h0m1 1h0m0 3h0m0-6h0m0 9h0m2-6h0m0-5h0m1 0h0m2 3h0m0 3h0m1 1h0m2 2h0m1-2h0m4 4h0m1-10h0m0-1h0m1 6h0m1 0h0m8-4h0m3 3h0m2-3h0m0 9h0m3-2h0m0-5h0m1 1h0m3 2h0m0-6h0m2 4h0m0 6h0m1-1h0m3-1h0m3-4h0m1-4h0m12 9h0m-102 11h0m1-4h0m1 1h0m2-1h0m0-1h0m2 6h0m1-10h0m2 6h0m2-6h0m1 10h0m1-10h0m1 0h0m0 9h0m1-4h0m2 2h0m1-4h0m1 4h0m0 2h0m1-1h0m8 3h0m1-6h0m0-5h0m1 9h0m1-5h0m6 5h0m0-8h0m2 5h0m0 4h0m4-5h0m0 3h0m1-2h0m2 4h0m1-2h0m4 0h0m2 1h0m0-7h0m5 6h0m2-1h0m0 2h0m1-6h0m7 0h0m0 5h0m2 2h0m0-10h0m1 11h0m1-1h0m0-1h0m1-5h0m1-3h0m0 8h0m1-4h0m0-4h0m1 1h0m0 9h0m0-7h0m2 5h0m3 0h0m1-2h0m2-1h0m0 2h0m2-5h0m1 2h0m10 5h0m0-10h0m0 7h0m8-7h0m-105 16h0m1-3h0m2 6h0m4-2h0m2 4h0m1 0h0m1 2h0m1-5h0m0 2h0m2-6h0m2 6h0m3 0h0m2-7h0m9 1h0m1-2h0m0 9h0m4-8h0m2 2h0m0-2h0m3 5h0m1 2h0m1-1h0m0-7h0m1 8h0m0 1h0m1-1h0m5-5h0m1 8h0m1-8h0m0 7h0m1-4h0m1-5h0m1 10h0m2-10h0m3 5h0m10-3h0m3 0h0m0 1h0m1 7h0m0-10h0m1 10h0m1-9h0m1 5h0m1 2h0m0-3h0m1-1h0m2 2h0m0-6h0m1-1h0m1 1h0m1 9h0m1-6h0m4-2h0m5 7h0m3-4h0m-90 8h0m10 0h0m26 0h0m40 0h0m23-1h0m0 2h0" stroke="#61ba14" stroke-width="3" stroke-linecap="square" fill="none"/>
<path transform="scale(.25)" d="M2634 1597h0m2 0h0m2 10h0m1-3h0m1 3h0m0-9h0m-7 21h0m-2 9h0m1 1h0m6 2h0m1-2h0m-7 17h0m0 6h0m1 3h0m8-1h0m-10 7h0m1 12h0m6-2h0" stroke="#14c59d" stroke-width="3" stroke-linecap="square" fill="none"/>
<path transform="scale(.25)" d="M2563 1570h0m11-1h0m-13 11h0m1-1h0m1-1h0m1 5h0m1-2h0m0 1h0m3-1h0m1-7h0m2 2h0m2 1h0m-13 9h0m3-2h0m1 2h0m1 2h0m0-4h0m1 5h0m3 1h0m-10 17h0m1-9h0m2 0h0m0 8h0m1-7h0m0-3h0m2 1h0m5 4h0m0-5h0m0 9h0m1 1h0m1-10h0m1 8h0m1 2h0m-14 8h0m1-2h0m2-4h0m0 9h0m2 2h0m0-7h0m0 6h0m2-8h0m5 6h0m-11 7h0m1 5h0m0 2h0m1-2h0m1-1h0m5 2h0m0-7h0m1 6h0m1-8h0m0 4h0m2 5h0m0-8h0m-10 18h0m0-6h0m2 3h0m0 4h0m0 2h0m0-8h0m2-2h0m2 2h0m2 4h0m1 2h0m-12 9h0m1 6h0m1-5h0m1 2h0m2 1h0m0-3h0m5-6h0m0 11h0m1-1h0m1-5h0m-9 14h0m1-6h0m1 10h0m0-3h0m0-7h0m6 8h0m1 0h0m-11 5h0m1 8h0m1-6h0m1 2h0m1-3h0m1 3h0m7 3h0" stroke="#ac93ff" stroke-width="3" stroke-linecap="square" fill="none"/>
<path transform="scale(.25)" d="M2591 1580h0m2-4h0m1 7h0m0-3h0m0-8h0m4 0h0m1 5h0m1 0h0m0 6h0m2 0h0m1 0h0m0-2h0m-10 6h0m2 6h0m3-3h0m0-3h0m1 1h0m0 3h0m1-4h0m0-2h0m1 3h0m2 4h0m1-5h0m-10 11h0m1 4h0m0 4h0m1-1h0m4-8h0m1 7h0m1-5h0m2 8h0m0-7h0m-11 16h0m0-7h0m1 5h0m4-5h0m1 6h0m0 2h0m1 2h0m1-7h0m3 5h0m0 2h0m-11 6h0m1-2h0m8 6h0m1-3h0m1-5h0m0 7h0m1-2h0m-11 13h0m4 0h0m2 2h0m0-5h0m3-3h0m0 9h0m1-7h0m0 4h0m0-7h0m1 3h0m-14 18h0m2-2h0m0 2h0m7-9h0m1 10h0m1-9h0m-10 17h0m1-2h0m2-3h0m5 2h0m0 4h0m1 0h0m0-7h0m4 6h0m-13 17h0m2-5h0m0-1h0m1-3h0m1 9h0m2-9h0m0 2h0m2 1h0m1 1h0m0-5h0m1 2h0m0 4h0m0-1h0m-8 6h0m10 2h0" stroke="#14bced" stroke-width="3" stroke-linecap="square" fill="none"/>
<path d="M576.40 451.70 C577.85 451.70 591.42 452.68 593.80 451.70 C596.18 450.72 603.23 441.81 605.00 440.00 C606.77 438.19 613.33 431.58 615.00 430.00 C616.67 428.42 623.33 422.25 625.00 421.00 C626.67 419.75 633.75 415.67 635.00 415.00 C636.25 414.33 637.86 413.21 640.00 413.00 C642.14 412.79 658.98 412.54 660.70 412.50" fill="none" stroke="#222" stroke-width="0.55"/>
<path d="M470.3 462.5L470.3 526.5" stroke="#9a9a9a" stroke-width="0.45"/>
<path d="M469.4 479.7L470.3 479.7" stroke="#777" stroke-width="0.35"/>
<text x="468.8" y="480.7" font-size="3" text-anchor="end" fill="#333">10</text>
<path d="M469.4 502.8L470.3 502.8" stroke="#777" stroke-width="0.35"/>
<text x="468.8" y="503.8" font-size="3" text-anchor="end" fill="#333">3</text>
<path d="M469.4 524.0L470.3 524.0" stroke="#777" stroke-width="0.35"/>
<text x="468.8" y="525.0" font-size="3" text-anchor="end" fill="#333">1</text>
<text x="516.3" y="460.6" font-size="3.2" text-anchor="middle" fill="#222">PRF1</text>
<path d="M473.8 524.0L514.0 524.0" stroke="#f8766d" stroke-width="1.3"/>
<path d="M514.0 524.0L516.7 524.0" stroke="#fb61d7" stroke-width="1.3"/>
<path d="M516.7 524.0L532.3 524.0" stroke="#c49a00" stroke-width="1.3"/>
<path d="M532.3 524.0L537.8 524.0" stroke="#53b400" stroke-width="1.3"/>
<path d="M537.8 524.0L541.3 524.0" stroke="#a58aff" stroke-width="1.3"/>
<path d="M541.3 524.0L544.8 524.0" stroke="#53b400" stroke-width="1.3"/>
<path d="M544.8 524.0L549.5 524.0" stroke="#00b6eb" stroke-width="1.3"/>
<path d="M549.5 524.0L559.6 524.0" stroke="#53b400" stroke-width="1.3"/>
<path d="M473.6 510.7H476.0M476.9 510.7H477.6M479.3 510.7H480.0M480.9 510.7H481.6M482.5 510.7H485.6M486.5 510.7H489.6M491.3 510.7H492.8M494.5 510.7H499.2M500.9 510.7H503.2M504.1 510.7H508.0M509.7 510.7H510.4M511.3 510.7H513.6" stroke="#f98179" stroke-width="0.75" fill="none"/>
<path d="M475.2 502.9H476.0M478.5 502.9H479.2M480.9 502.9H481.6M482.5 502.9H483.2M490.5 502.9H492.8M494.5 502.9H495.2M501.7 502.9H502.4M503.3 502.9H504.8M505.7 502.9H506.4M507.3 502.9H508.8M510.5 502.9H511.2M512.1 502.9H512.8" stroke="#f98179" stroke-width="0.75" fill="none"/>
<path d="M475.2 489.5H476.0M495.3 489.5H496.0" stroke="#f98179" stroke-width="0.75" fill="none"/>
<path d="M476.9 497.3H477.6M494.5 497.3H495.2M504.9 497.3H505.6M506.5 497.3H507.2M510.5 497.3H511.2" stroke="#f98179" stroke-width="0.75" fill="none"/>
<path d="M490.5 493.0H491.2M495.3 493.0H496.0" stroke="#f98179" stroke-width="0.75" fill="none"/>
<path d="M513.7 510.7H516.8" stroke="#fb6eda" stroke-width="0.75" fill="none"/>
<path d="M513.7 502.9H516.8" stroke="#fb6eda" stroke-width="0.75" fill="none"/>
<path d="M513.7 493.0H515.2M516.1 493.0H516.8" stroke="#fb6eda" stroke-width="0.75" fill="none"/>
<path d="M513.7 484.0H514.4" stroke="#fb6eda" stroke-width="0.75" fill="none"/>
<path d="M514.5 497.3H516.8" stroke="#fb6eda" stroke-width="0.75" fill="none"/>
<path d="M514.5 486.6H516.0" stroke="#fb6eda" stroke-width="0.75" fill="none"/>
<path d="M516.1 489.5H516.8" stroke="#fb6eda" stroke-width="0.75" fill="none"/>
<path d="M516.9 510.7H531.9" stroke="#c9a214" stroke-width="0.75" fill="none"/>
<path d="M516.9 502.9H527.9M528.8 502.9H529.5M530.4 502.9H531.9" stroke="#c9a214" stroke-width="0.75" fill="none"/>
<path d="M516.9 497.3H531.1" stroke="#c9a214" stroke-width="0.75" fill="none"/>
<path d="M516.9 493.0H521.6M523.2 493.0H525.5M526.4 493.0H527.9M528.8 493.0H531.9" stroke="#c9a214" stroke-width="0.75" fill="none"/>
<path d="M516.9 486.6H518.4M519.3 486.6H520.0M520.9 486.6H522.4M524.8 486.6H527.1M528.0 486.6H528.7M529.6 486.6H531.1" stroke="#c9a214" stroke-width="0.75" fill="none"/>
<path d="M516.9 484.0H519.2M520.9 484.0H522.4M524.8 484.0H525.5M527.2 484.0H528.7M530.4 484.0H531.1" stroke="#c9a214" stroke-width="0.75" fill="none"/>
<path d="M518.5 489.5H519.2M524.8 489.5H526.3M527.2 489.5H531.1" stroke="#c9a214" stroke-width="0.75" fill="none"/>
<path d="M532.0 510.7H534.3M535.2 510.7H536.7M538.4 510.7H539.9M541.6 510.7H544.7M545.6 510.7H546.3M548.0 510.7H548.7M549.6 510.7H550.3M551.2 510.7H553.5M554.4 510.7H556.7M557.6 510.7H559.1" stroke="#61ba14" stroke-width="0.75" fill="none"/>
<path d="M532.0 502.9H534.3M535.2 502.9H536.7M538.4 502.9H539.9M541.6 502.9H544.7M545.6 502.9H546.3M548.0 502.9H548.7M549.6 502.9H550.3M551.2 502.9H553.5M554.4 502.9H556.7M557.6 502.9H559.1" stroke="#61ba14" stroke-width="0.75" fill="none"/>
<path d="M532.0 497.3H534.3M535.2 497.3H536.7M538.4 497.3H539.9M541.6 497.3H544.7M545.6 497.3H546.3M548.0 497.3H548.7M549.6 497.3H550.3M551.2 497.3H553.5M554.4 497.3H556.7M557.6 497.3H559.1" stroke="#61ba14" stroke-width="0.75" fill="none"/>
<path d="M532.0 493.0H533.5M535.2 493.0H536.7M538.4 493.0H539.9M541.6 493.0H544.7M548.0 493.0H548.7M549.6 493.0H550.3M551.2 493.0H551.9M552.8 493.0H553.5M554.4 493.0H556.7M557.6 493.0H559.1" stroke="#61ba14" stroke-width="0.75" fill="none"/>
<path d="M532.0 489.5H534.3M535.2 489.5H535.9M538.4 489.5H539.1M541.6 489.5H544.7M545.6 489.5H546.3M548.0 489.5H548.7M549.6 489.5H550.3M551.2 489.5H551.9M552.8 489.5H553.5M554.4 489.5H555.9M557.6 489.5H559.1" stroke="#61ba14" stroke-width="0.75" fill="none"/>
<path d="M532.0 486.6H533.5M535.2 486.6H536.7M539.2 486.6H539.9M542.4 486.6H544.7M545.6 486.6H546.3M548.0 486.6H548.7M549.6 486.6H550.3M552.0 486.6H553.5M555.2 486.6H555.9M558.4 486.6H559.1" stroke="#61ba14" stroke-width="0.75" fill="none"/>
<path d="M532.0 484.0H532.7M533.6 484.0H534.3M535.2 484.0H536.7M538.4 484.0H539.9M541.6 484.0H543.9M548.0 484.0H548.7M549.6 484.0H550.3M552.0 484.0H553.5M555.2 484.0H556.7M557.6 484.0H558.3" stroke="#61ba14" stroke-width="0.75" fill="none"/>
<path d="M534.4 510.7H535.1M536.8 510.7H537.5M550.4 510.7H551.1M553.6 510.7H554.3M556.8 510.7H557.5" stroke="#14c59d" stroke-width="0.75" fill="none"/>
<path d="M534.4 502.9H535.1M536.8 502.9H537.5M550.4 502.9H551.1M553.6 502.9H554.3" stroke="#14c59d" stroke-width="0.75" fill="none"/>
<path d="M534.4 497.3H535.1M536.8 497.3H537.5M550.4 497.3H551.1M553.6 497.3H554.3M556.8 497.3H557.5" stroke="#14c59d" stroke-width="0.75" fill="none"/>
<path d="M534.4 493.0H535.1M536.8 493.0H537.5M550.4 493.0H551.1M553.6 493.0H554.3M556.8 493.0H557.5" stroke="#14c59d" stroke-width="0.75" fill="none"/>
<path d="M534.4 489.5H535.1M536.8 489.5H537.5M550.4 489.5H551.1M553.6 489.5H554.3M556.8 489.5H557.5" stroke="#14c59d" stroke-width="0.75" fill="none"/>
<path d="M534.4 486.6H535.1M536.8 486.6H537.5M550.4 486.6H551.1M556.8 486.6H557.5" stroke="#14c59d" stroke-width="0.75" fill="none"/>
<path d="M536.8 484.0H537.5M553.6 484.0H554.3" stroke="#14c59d" stroke-width="0.75" fill="none"/>
<path d="M537.6 510.7H538.3M540.0 510.7H541.5" stroke="#ac93ff" stroke-width="0.75" fill="none"/>
<path d="M537.6 502.9H538.3M540.0 502.9H541.5" stroke="#ac93ff" stroke-width="0.75" fill="none"/>
<path d="M537.6 497.3H538.3M540.0 497.3H541.5" stroke="#ac93ff" stroke-width="0.75" fill="none"/>
<path d="M537.6 493.0H538.3M540.0 493.0H541.5" stroke="#ac93ff" stroke-width="0.75" fill="none"/>
<path d="M537.6 489.5H538.3M540.0 489.5H541.5" stroke="#ac93ff" stroke-width="0.75" fill="none"/>
<path d="M537.6 486.6H538.3M540.0 486.6H541.5" stroke="#ac93ff" stroke-width="0.75" fill="none"/>
<path d="M537.6 484.0H538.3M540.0 484.0H541.5" stroke="#ac93ff" stroke-width="0.75" fill="none"/>
<path d="M544.8 510.7H545.5M546.4 510.7H547.9M548.8 510.7H549.5" stroke="#14bced" stroke-width="0.75" fill="none"/>
<path d="M544.8 502.9H545.5M546.4 502.9H547.9M548.8 502.9H549.5" stroke="#14bced" stroke-width="0.75" fill="none"/>
<path d="M544.8 497.3H545.5M546.4 497.3H547.9M548.8 497.3H549.5" stroke="#14bced" stroke-width="0.75" fill="none"/>
<path d="M544.8 493.0H545.5M546.4 493.0H547.9M548.8 493.0H549.5" stroke="#14bced" stroke-width="0.75" fill="none"/>
<path d="M544.8 489.5H545.5M546.4 489.5H547.9M548.8 489.5H549.5" stroke="#14bced" stroke-width="0.75" fill="none"/>
<path d="M544.8 486.6H545.5M546.4 486.6H547.9M548.8 486.6H549.5" stroke="#14bced" stroke-width="0.75" fill="none"/>
<path d="M544.8 484.0H545.5M546.4 484.0H547.9M548.8 484.0H549.5" stroke="#14bced" stroke-width="0.75" fill="none"/>
<path transform="scale(.25)" d="M2063 1930h0" stroke="#fb6eda" stroke-width="3" stroke-linecap="square" fill="none"/>
<path transform="scale(.25)" d="M2078 1881h0m-4 12h0m-2 18h0m38 3h0m2-4h0m7 2h0m-51 18h0m39-9h0m16 4h0" stroke="#c9a214" stroke-width="3" stroke-linecap="square" fill="none"/>
<path transform="scale(.25)" d="M2136 1883h0m35-1h0m13-4h0m-53 11h0m0-5h0m13 5h0m1-4h0m13 10h0m0-2h0m13-5h0m1 0h0m5 1h0m7-1h0m12 0h0m4 1h0m8 0h0m0 3h0m2-2h0m2 2h0m20-4h0m-78 12h0m3-1h0m8-1h0m4-1h0m5 4h0m22-5h0m15 8h0m1 2h0m8-3h0m8 3h0m4 1h0m-101 7h0m2-4h0m3 3h0m6-3h0m1 7h0m4-3h0m9-2h0m17 3h0m33 1h0m4 0h0m-77 4h0m2 4h0m2-4h0m8 8h0m28-7h0m5 10h0m17-2h0m5-7h0m20 8h0m5-6h0m12-1h0m-59 9h0m44 1h0" stroke="#61ba14" stroke-width="3" stroke-linecap="square" fill="none"/>
<path transform="scale(.25)" d="M2148 1870h0m57 13h0m-67 12h0m0 5h0m67-4h0m12 7h0m13-5h0m-81 15h0m1-1h0m-11 19h0m64-4h0" stroke="#14c59d" stroke-width="3" stroke-linecap="square" fill="none"/>
<path transform="scale(.25)" d="M2152 1877h0m2-2h0m8 1h0m0 18h0m2-7h0m-1 13h0m0 3h0m-13 11h0m12 3h0m3-8h0m-13 18h0m12-5h0m0 7h0" stroke="#ac93ff" stroke-width="3" stroke-linecap="square" fill="none"/>
<path transform="scale(.25)" d="M2180 1875h0m2-3h0m2 4h0m4 2h0m8 1h0m-6 15h0m7-1h0m-18 12h0m1-4h0m7-3h0m10 8h0m-16 7h0m7 5h0m1-7h0m9 5h0m-10 14h0m1-7h0" stroke="#14bced" stroke-width="3" stroke-linecap="square" fill="none"/>
<path d="M474.30 524.00 C477.85 524.00 513.01 524.50 516.90 524.00 C520.79 523.50 520.33 519.00 521.00 518.00 C521.67 517.00 524.25 512.92 525.00 512.00 C525.75 511.08 529.17 507.67 530.00 507.00 C530.83 506.33 533.82 504.38 535.00 504.00 C536.18 503.62 542.87 502.57 544.20 502.50 C545.53 502.43 549.83 502.97 551.00 503.20 C552.17 503.43 557.60 505.12 558.20 505.30" fill="none" stroke="#222" stroke-width="0.55"/>
<path d="M470.3 527.0L562.3 527.0" stroke="#9a9a9a" stroke-width="0.45"/>
<path d="M473.8 527.0L473.8 527.9" stroke="#777" stroke-width="0.35"/>
<text x="473.8" y="530.8" font-size="3" text-anchor="middle" fill="#333">0</text>
<path d="M493.3 527.0L493.3 527.9" stroke="#777" stroke-width="0.35"/>
<text x="493.3" y="530.8" font-size="3" text-anchor="middle" fill="#333">5</text>
<path d="M512.8 527.0L512.8 527.9" stroke="#777" stroke-width="0.35"/>
<text x="512.8" y="530.8" font-size="3" text-anchor="middle" fill="#333">10</text>
<path d="M532.3 527.0L532.3 527.9" stroke="#777" stroke-width="0.35"/>
<text x="532.3" y="530.8" font-size="3" text-anchor="middle" fill="#333">15</text>
<path d="M551.8 527.0L551.8 527.9" stroke="#777" stroke-width="0.35"/>
<text x="551.8" y="530.8" font-size="3" text-anchor="middle" fill="#333">20</text>
<path d="M572.4 462.5L572.4 526.5" stroke="#9a9a9a" stroke-width="0.45"/>
<path d="M571.5 468.2L572.4 468.2" stroke="#777" stroke-width="0.35"/>
<text x="570.9" y="469.2" font-size="3" text-anchor="end" fill="#333">20</text>
<path d="M571.5 486.5L572.4 486.5" stroke="#777" stroke-width="0.35"/>
<text x="570.9" y="487.5" font-size="3" text-anchor="end" fill="#333">10</text>
<path d="M571.5 506.2L572.4 506.2" stroke="#777" stroke-width="0.35"/>
<text x="570.9" y="507.2" font-size="3" text-anchor="end" fill="#333">5</text>
<path d="M571.5 524.3L572.4 524.3" stroke="#777" stroke-width="0.35"/>
<text x="570.9" y="525.3" font-size="3" text-anchor="end" fill="#333">1</text>
<text x="619.5" y="460.6" font-size="3.2" text-anchor="middle" fill="#222">S100A4</text>
<path d="M577.0 524.0L616.4 524.0" stroke="#f8766d" stroke-width="1.3"/>
<path d="M616.4 524.0L619.1 524.0" stroke="#fb61d7" stroke-width="1.3"/>
<path d="M619.1 524.0L634.5 524.0" stroke="#c49a00" stroke-width="1.3"/>
<path d="M634.5 524.0L639.8 524.0" stroke="#53b400" stroke-width="1.3"/>
<path d="M639.8 524.0L643.3 524.0" stroke="#a58aff" stroke-width="1.3"/>
<path d="M643.3 524.0L646.7 524.0" stroke="#53b400" stroke-width="1.3"/>
<path d="M646.7 524.0L651.3 524.0" stroke="#00b6eb" stroke-width="1.3"/>
<path d="M651.3 524.0L661.3 524.0" stroke="#53b400" stroke-width="1.3"/>
<path d="M576.9 512.0H585.5M586.4 512.0H593.5M594.4 512.0H597.5M598.4 512.0H616.7" stroke="#f98179" stroke-width="0.75" fill="none"/>
<path d="M576.9 504.9H577.6M578.4 504.9H583.1M584.0 504.9H585.5M586.4 504.9H590.3M591.2 504.9H595.9M596.8 504.9H610.3M611.2 504.9H616.7" stroke="#f98179" stroke-width="0.75" fill="none"/>
<path d="M576.9 499.9H583.1M584.0 499.9H591.1M592.0 499.9H597.5M598.4 499.9H599.9M600.8 499.9H601.5M602.4 499.9H610.3M611.2 499.9H616.7" stroke="#f98179" stroke-width="0.75" fill="none"/>
<path d="M576.9 496.0H580.7M581.6 496.0H582.3M583.2 496.0H584.7M587.2 496.0H591.1M592.8 496.0H595.9M596.8 496.0H597.5M598.4 496.0H602.3M603.2 496.0H603.9M605.6 496.0H607.9M608.8 496.0H609.5M610.4 496.0H611.1M612.0 496.0H615.9" stroke="#f98179" stroke-width="0.75" fill="none"/>
<path d="M576.9 492.9H578.4M580.0 492.9H580.7M583.2 492.9H584.7M587.2 492.9H588.7M589.6 492.9H590.3M591.2 492.9H591.9M592.8 492.9H594.3M595.2 492.9H595.9M596.8 492.9H597.5M599.2 492.9H600.7M601.6 492.9H603.9M604.8 492.9H605.5M606.4 492.9H607.1M608.0 492.9H610.3M611.2 492.9H615.9" stroke="#f98179" stroke-width="0.75" fill="none"/>
<path d="M577.6 490.2H578.4M580.0 490.2H582.3M583.2 490.2H585.5M587.2 490.2H595.1M597.6 490.2H598.3M599.2 490.2H599.9M600.8 490.2H601.5M603.2 490.2H603.9M604.8 490.2H606.3M607.2 490.2H608.7M609.6 490.2H610.3M614.4 490.2H615.9" stroke="#f98179" stroke-width="0.75" fill="none"/>
<path d="M578.4 487.9H579.1M583.2 487.9H584.7M586.4 487.9H587.1M590.4 487.9H591.9M592.8 487.9H593.5M595.2 487.9H595.9M596.8 487.9H598.3M607.2 487.9H611.1M612.0 487.9H612.7M613.6 487.9H614.3M616.0 487.9H616.7" stroke="#f98179" stroke-width="0.75" fill="none"/>
<path d="M616.8 512.0H619.1" stroke="#fb6eda" stroke-width="0.75" fill="none"/>
<path d="M616.8 504.9H619.1" stroke="#fb6eda" stroke-width="0.75" fill="none"/>
<path d="M616.8 499.9H619.1" stroke="#fb6eda" stroke-width="0.75" fill="none"/>
<path d="M616.8 496.0H619.1" stroke="#fb6eda" stroke-width="0.75" fill="none"/>
<path d="M616.8 492.9H619.1" stroke="#fb6eda" stroke-width="0.75" fill="none"/>
<path d="M616.8 490.2H617.5M618.4 490.2H619.1" stroke="#fb6eda" stroke-width="0.75" fill="none"/>
<path d="M617.6 487.9H619.1" stroke="#fb6eda" stroke-width="0.75" fill="none"/>
<path d="M619.2 512.0H622.3M623.2 512.0H634.3" stroke="#c9a214" stroke-width="0.75" fill="none"/>
<path d="M619.2 504.9H628.7M629.6 504.9H634.3" stroke="#c9a214" stroke-width="0.75" fill="none"/>
<path d="M619.2 499.9H631.9M632.8 499.9H634.3" stroke="#c9a214" stroke-width="0.75" fill="none"/>
<path d="M619.2 496.0H631.9M632.8 496.0H634.3" stroke="#c9a214" stroke-width="0.75" fill="none"/>
<path d="M619.2 492.9H634.3" stroke="#c9a214" stroke-width="0.75" fill="none"/>
<path d="M619.2 490.2H623.1M624.0 490.2H634.3" stroke="#c9a214" stroke-width="0.75" fill="none"/>
<path d="M620.0 487.9H630.3M631.2 487.9H634.3" stroke="#c9a214" stroke-width="0.75" fill="none"/>
<path d="M634.4 512.0H637.5M638.4 512.0H640.7M641.6 512.0H642.3M643.2 512.0H647.1M651.2 512.0H655.1M656.0 512.0H657.5M658.4 512.0H660.7" stroke="#61ba14" stroke-width="0.75" fill="none"/>
<path d="M634.4 504.9H637.5M638.4 504.9H640.7M641.6 504.9H642.3M643.2 504.9H647.1M651.2 504.9H657.5M658.4 504.9H660.7" stroke="#61ba14" stroke-width="0.75" fill="none"/>
<path d="M634.4 499.9H637.5M638.4 499.9H640.7M641.6 499.9H642.3M643.2 499.9H647.1M651.2 499.9H657.5M658.4 499.9H659.1M660.0 499.9H660.7" stroke="#61ba14" stroke-width="0.75" fill="none"/>
<path d="M634.4 496.0H637.5M638.4 496.0H640.7M641.6 496.0H642.3M643.2 496.0H647.1M651.2 496.0H657.5M658.4 496.0H659.1M660.0 496.0H660.7" stroke="#61ba14" stroke-width="0.75" fill="none"/>
<path d="M634.4 492.9H637.5M638.4 492.9H640.7M643.2 492.9H647.1M651.2 492.9H657.5M660.0 492.9H660.7" stroke="#61ba14" stroke-width="0.75" fill="none"/>
<path d="M634.4 490.2H637.5M638.4 490.2H640.7M641.6 490.2H642.3M643.2 490.2H647.1M651.2 490.2H655.9M656.8 490.2H657.5M658.4 490.2H660.7" stroke="#61ba14" stroke-width="0.75" fill="none"/>
<path d="M634.4 487.9H637.5M638.4 487.9H640.7M641.6 487.9H642.3M643.2 487.9H647.1M651.2 487.9H656.7M658.4 487.9H659.1" stroke="#61ba14" stroke-width="0.75" fill="none"/>
<path d="M637.6 512.0H638.3M657.6 512.0H658.3" stroke="#14c59d" stroke-width="0.75" fill="none"/>
<path d="M637.6 504.9H638.3M657.6 504.9H658.3" stroke="#14c59d" stroke-width="0.75" fill="none"/>
<path d="M637.6 499.9H638.3" stroke="#14c59d" stroke-width="0.75" fill="none"/>
<path d="M637.6 496.0H638.3M657.6 496.0H658.3" stroke="#14c59d" stroke-width="0.75" fill="none"/>
<path d="M637.6 492.9H638.3" stroke="#14c59d" stroke-width="0.75" fill="none"/>
<path d="M637.6 490.2H638.3M657.6 490.2H658.3" stroke="#14c59d" stroke-width="0.75" fill="none"/>
<path d="M637.6 487.9H638.3M657.6 487.9H658.3" stroke="#14c59d" stroke-width="0.75" fill="none"/>
<path d="M640.8 512.0H641.5M642.4 512.0H643.1" stroke="#ac93ff" stroke-width="0.75" fill="none"/>
<path d="M640.8 504.9H641.5M642.4 504.9H643.1" stroke="#ac93ff" stroke-width="0.75" fill="none"/>
<path d="M640.8 499.9H641.5M642.4 499.9H643.1" stroke="#ac93ff" stroke-width="0.75" fill="none"/>
<path d="M640.8 496.0H641.5M642.4 496.0H643.1" stroke="#ac93ff" stroke-width="0.75" fill="none"/>
<path d="M640.8 492.9H641.5M642.4 492.9H643.1" stroke="#ac93ff" stroke-width="0.75" fill="none"/>
<path d="M640.8 490.2H641.5M642.4 490.2H643.1" stroke="#ac93ff" stroke-width="0.75" fill="none"/>
<path d="M640.8 487.9H641.5M642.4 487.9H643.1" stroke="#ac93ff" stroke-width="0.75" fill="none"/>
<path d="M647.2 512.0H651.1" stroke="#14bced" stroke-width="0.75" fill="none"/>
<path d="M647.2 504.9H651.1" stroke="#14bced" stroke-width="0.75" fill="none"/>
<path d="M647.2 499.9H651.1" stroke="#14bced" stroke-width="0.75" fill="none"/>
<path d="M647.2 496.0H651.1" stroke="#14bced" stroke-width="0.75" fill="none"/>
<path d="M647.2 492.9H651.1" stroke="#14bced" stroke-width="0.75" fill="none"/>
<path d="M647.2 487.9H651.1" stroke="#14bced" stroke-width="0.75" fill="none"/>
<path d="M648.0 490.2H651.1" stroke="#14bced" stroke-width="0.75" fill="none"/>
<path transform="scale(.25)" d="M2316 1880h0m67 1h0m6-3h0m31 4h0m-75 5h0m11 7h0m-28 8h0m2-6h0m30 1h0m100 3h0m6-4h0m-157 12h0m4 7h0m18-3h0m13 5h0m5-9h0m24 10h0m19-4h0m20 4h0m20-7h0m-118 19h0m13-4h0m9 3h0m0-8h0m2 2h0m10 7h0m17-8h0m9 5h0m8-7h0m2 3h0m12-2h0m6 2h0m2 0h0m4 5h0m9-6h0m8 7h0m6-4h0m6 0h0m28 4h0m3 2h0m-151 12h0m6-10h0m1 5h0m16 1h0m9-6h0m4 0h0m14 8h0m3-8h0m1 7h0m5-6h0m0 9h0m4-1h0m7-1h0m15-1h0m14 2h0m18-5h0m6 6h0m5-4h0m1-1h0m3-2h0m2 5h0m8-1h0m-70 5h0m8 2h0m13-1h0m17-1h0m10 1h0m20 2h0m6-2h0" stroke="#f98179" stroke-width="3" stroke-linecap="square" fill="none"/>
<path transform="scale(.25)" d="M2470 1887h0m5 4h0m-6 10h0m1-2h0m4 5h0m-3 14h0m4-6h0m0 5h0m-7 4h0m4 8h0m1 2h0m3 9h0" stroke="#fb6eda" stroke-width="3" stroke-linecap="square" fill="none"/>
<path transform="scale(.25)" d="M2491 1869h0m24 2h0m5 0h0m-42 12h0m2-5h0m1-1h0m2-1h0m15 4h0m4 3h0m2-4h0m7-3h0m1 3h0m11 0h0m1-5h0m4 7h0m-50 9h0m0 4h0m4-5h0m1 0h0m2 6h0m3-9h0m1 4h0m2 5h0m4-8h0m0 6h0m9 2h0m8-11h0m16 6h0m4 0h0m-52 6h0m11 4h0m6 6h0m7-2h0m7 1h0m1-9h0m1 5h0m1-3h0m3 4h0m2-3h0m8-1h0m3 5h0m0-1h0m4-3h0m-56 10h0m4 5h0m5-6h0m0 9h0m0-3h0m7 5h0m5 0h0m2-3h0m5-4h0m2 4h0m7 2h0m6-3h0m2 4h0m3-1h0m1-3h0m6-3h0m3 2h0m1-5h0m-56 19h0m10-3h0m1 0h0m2-5h0m3 7h0m0-3h0m2 1h0m2 3h0m1-7h0m4 9h0m4-3h0m2-7h0m1 9h0m2-1h0m2-3h0m2 3h0m0 2h0m3-4h0m1-5h0m4 0h0m2 6h0m1 3h0m4-1h0m-56 13h0m4-10h0m2 7h0m3-5h0m9 9h0m4-3h0m3-6h0m2-2h0m1 11h0m1-7h0m9 2h0m4-1h0m5-4h0m7 8h0m1-6h0m1 1h0m2 3h0m1 4h0m-54 3h0m5-2h0m3 1h0m0-1h0m3 0h0m23 0h0m5 1h0m2 0h0m13 1h0" stroke="#c9a214" stroke-width="3" stroke-linecap="square" fill="none"/>
<path transform="scale(.25)" d="M2539 1865h0m3 2h0m2 4h0m32-3h0m0-3h0m7 0h0m29 4h0m1 2h0m4-3h0m0-4h0m1 2h0m5 0h0m1 0h0m1 2h0m-81 6h0m4 4h0m1 2h0m5 1h0m2-5h0m0 5h0m1-1h0m3-8h0m0 4h0m6 5h0m9-5h0m8 4h0m0-7h0m4 2h0m1 6h0m18-5h0m2-2h0m6 4h0m4-6h0m6 11h0m5-10h0m7-1h0m6 6h0m-105 13h0m2 4h0m1-9h0m4 9h0m2-1h0m2 0h0m1-6h0m1 6h0m4-3h0m1-2h0m3-3h0m4-1h0m6 10h0m1-5h0m6 3h0m6 2h0m2-9h0m0 2h0m21-4h0m2 0h0m4 4h0m3-1h0m1 3h0m0-5h0m14 1h0m11 2h0m4 1h0m-103 9h0m1 8h0m1-5h0m2 4h0m1-2h0m0 4h0m0-5h0m5-2h0m0 2h0m5-2h0m3 6h0m19 1h0m1-7h0m0 2h0m2-4h0m0 9h0m4-11h0m2 2h0m1 7h0m19 0h0m2 0h0m5-7h0m3-2h0m3 3h0m6 8h0m1-2h0m3 0h0m0 2h0m10-10h0m-100 14h0m3 6h0m3 1h0m2-1h0m5-3h0m1 5h0m2 0h0m6-6h0m2 0h0m4-2h0m1 4h0m0-5h0m6 6h0m2-8h0m7 9h0m2-3h0m20 1h0m1 1h0m3-7h0m3 0h0m3 6h0m2 2h0m3-2h0m10-7h0m4 5h0m7-4h0m-99 20h0m0-3h0m5 1h0m1-2h0m1 2h0m6-7h0m2 8h0m2 2h0m2-2h0m1-4h0m3 4h0m3-1h0m1 3h0m6-2h0m1 2h0m1-5h0m1 3h0m3-5h0m4-1h0m1 6h0m2-3h0m17-2h0m2-2h0m2 10h0m2-11h0m1 0h0m3 9h0m4-4h0m1-1h0m6-2h0m-87 12h0m4 3h0m0-5h0m1 2h0m13 7h0m4-6h0m1-1h0m14-2h0m0 7h0m3-7h0m1 0h0m1 1h0m3 8h0m0 2h0m2-11h0m19 8h0m4 2h0m0-5h0m1 4h0m4 2h0m2-2h0m1-5h0m0 4h0m4-6h0m2 2h0m10 3h0m7 4h0m2-7h0m-88 8h0m2 1h0m20 1h0m1-2h0m4 0h0m5 2h0m50-1h0m2 2h0m4-1h0" stroke="#61ba14" stroke-width="3" stroke-linecap="square" fill="none"/>
<path transform="scale(.25)" d="M2551 1867h0m1-5h0m-1 10h0m82 6h0m-82 23h0m82-3h0m0 9h0m-82 7h0m1 13h0m1-1h0m78-6h0m-78 12h0m2 0h0m79 7h0" stroke="#14c59d" stroke-width="3" stroke-linecap="square" fill="none"/>
<path transform="scale(.25)" d="M2565 1857h0m0 12h0m1-5h0m1 4h0m4 1h0m-6 13h0m6-7h0m2 5h0m-10 19h0m6 8h0m2-8h0m-7 10h0m7 0h0m2 1h0m-9 14h0m2 4h0m5 2h0m-7 7h0m0 3h0m1-2h0m5 3h0m1 1h0m1-8h0m0 9h0m-6 2h0m6 1h0" stroke="#ac93ff" stroke-width="3" stroke-linecap="square" fill="none"/>
<path transform="scale(.25)" d="M2591 1852h0m6 7h0m2-7h0m3 4h0m1 2h0m2-3h0m-14 11h0m1-5h0m1 1h0m6 7h0m1-8h0m3 0h0m2 4h0m0-3h0m-15 17h0m1 0h0m4-4h0m3-1h0m6 6h0m-16 12h0m1-5h0m1 7h0m2-3h0m1 4h0m6-6h0m1 4h0m0-1h0m1-4h0m3-2h0m-13 15h0m1-1h0m1 3h0m3 1h0m0-1h0m-6 7h0m4 2h0m0 5h0m3-5h0m1-3h0m1 3h0m0-4h0m1 5h0m1 1h0m2-2h0m-14 8h0m1 8h0m2-7h0m2 3h0m2 0h0m0-1h0m1 0h0m4 2h0m1 3h0m2-3h0m0 6h0m2-4h0m-17 10h0m4 5h0m1-3h0m0 3h0m0-1h0m1 0h0m1-6h0m0 5h0m2-5h0m5-2h0m2 10h0m-13 4h0m5 0h0" stroke="#14bced" stroke-width="3" stroke-linecap="square" fill="none"/>
<path d="M577.30 524.30 C577.77 523.90 581.94 520.52 583.00 519.50 C584.06 518.48 588.58 513.21 590.00 512.00 C591.42 510.79 597.92 506.17 600.00 505.00 C602.08 503.83 612.50 498.88 615.00 498.00 C617.50 497.12 627.50 495.04 630.00 494.50 C632.50 493.96 642.44 492.02 645.00 491.50 C647.56 490.98 659.39 488.57 660.70 488.30" fill="none" stroke="#222" stroke-width="0.55"/>
<path d="M572.4 527.0L664.4 527.0" stroke="#9a9a9a" stroke-width="0.45"/>
<path d="M577.0 527.0L577.0 527.9" stroke="#777" stroke-width="0.35"/>
<text x="577.0" y="530.8" font-size="3" text-anchor="middle" fill="#333">0</text>
<path d="M596.1 527.0L596.1 527.9" stroke="#777" stroke-width="0.35"/>
<text x="596.1" y="530.8" font-size="3" text-anchor="middle" fill="#333">5</text>
<path d="M615.3 527.0L615.3 527.9" stroke="#777" stroke-width="0.35"/>
<text x="615.3" y="530.8" font-size="3" text-anchor="middle" fill="#333">10</text>
<path d="M634.5 527.0L634.5 527.9" stroke="#777" stroke-width="0.35"/>
<text x="634.5" y="530.8" font-size="3" text-anchor="middle" fill="#333">15</text>
<path d="M653.6 527.0L653.6 527.9" stroke="#777" stroke-width="0.35"/>
<text x="653.6" y="530.8" font-size="3" text-anchor="middle" fill="#333">20</text>
<text x="461.4" y="350.3" font-size="3.4" text-anchor="middle" fill="#222" font-weight="bold" transform="rotate(-90 461.4 350.3)">Relative Expression</text>
<text x="567.5" y="535.3" font-size="4" text-anchor="middle" fill="#222" font-weight="bold">Pseudo−time</text>
<text x="671.2" y="331.4" font-size="3.3" fill="#333">State</text>
<circle cx="674.5" cy="336.70" r="0.6" fill="#f8766d"/>
<text x="680.4" y="337.7" font-size="2.8" fill="#444">1</text>
<circle cx="674.5" cy="342.30" r="0.6" fill="#c49a00"/>
<text x="680.4" y="343.3" font-size="2.8" fill="#444">2</text>
<circle cx="674.5" cy="347.90" r="0.6" fill="#53b400"/>
<text x="680.4" y="348.9" font-size="2.8" fill="#444">3</text>
<circle cx="674.5" cy="353.50" r="0.6" fill="#00c094"/>
<text x="680.4" y="354.5" font-size="2.8" fill="#444">4</text>
<circle cx="674.5" cy="359.10" r="0.6" fill="#00b6eb"/>
<text x="680.4" y="360.1" font-size="2.8" fill="#444">5</text>
<circle cx="674.5" cy="364.70" r="0.6" fill="#a58aff"/>
<text x="680.4" y="365.7" font-size="2.8" fill="#444">6</text>
<circle cx="674.5" cy="370.30" r="0.6" fill="#fb61d7"/>
<text x="680.4" y="371.3" font-size="2.8" fill="#444">7</text>
<text x="5.4" y="350.6" font-size="14" font-weight="bold" font-family="'Liberation Serif', serif">G</text>
<rect x="29.9" y="342.9" width="183.7" height="6.3" fill="url(#hg0)"/>
<text x="214.9" y="346.6" font-size="2.5" fill="#555">KLRG1</text>
<rect x="29.9" y="348.6" width="183.7" height="6.3" fill="url(#hg1)"/>
<text x="214.9" y="352.3" font-size="2.5" fill="#555">ACTG2NA</text>
<rect x="29.9" y="354.3" width="183.7" height="6.3" fill="url(#hg2)"/>
<text x="214.9" y="358.0" font-size="2.5" fill="#555">TLL1</text>
<rect x="29.9" y="359.9" width="183.7" height="6.3" fill="url(#hg3)"/>
<text x="214.9" y="363.7" font-size="2.5" fill="#555">HOPX</text>
<rect x="29.9" y="365.6" width="183.7" height="6.3" fill="url(#hg4)"/>
<text x="214.9" y="369.3" font-size="2.5" fill="#555">ANKRD</text>
<rect x="29.9" y="371.3" width="183.7" height="6.3" fill="url(#hg5)"/>
<text x="214.9" y="375.0" font-size="2.5" fill="#555">MALAT1NA</text>
<rect x="29.9" y="377.0" width="183.7" height="6.3" fill="url(#hg6)"/>
<text x="214.9" y="380.7" font-size="2.5" fill="#555">ZNF683</text>
<rect x="29.9" y="382.6" width="183.7" height="6.3" fill="url(#hg7)"/>
<text x="214.9" y="386.4" font-size="2.5" fill="#555">ANXA1</text>
<rect x="29.9" y="388.3" width="183.7" height="5.7" fill="url(#hg8)"/>
<text x="214.9" y="392.1" font-size="2.5" fill="#555">PLEK2</text>
<rect x="29.9" y="395.2" width="183.7" height="6.3" fill="url(#hg9)"/>
<text x="214.9" y="398.9" font-size="2.5" fill="#555">PCDH9</text>
<rect x="29.9" y="400.9" width="183.7" height="6.3" fill="url(#hg10)"/>
<text x="214.9" y="404.6" font-size="2.5" fill="#555">ADGRG1</text>
<rect x="29.9" y="406.6" width="183.7" height="6.3" fill="url(#hg11)"/>
<text x="214.9" y="410.3" font-size="2.5" fill="#555">ZEB2</text>
<rect x="29.9" y="412.2" width="183.7" height="6.3" fill="url(#hg12)"/>
<text x="214.9" y="416.0" font-size="2.5" fill="#555">LYL1</text>
<rect x="29.9" y="417.9" width="183.7" height="6.3" fill="url(#hg13)"/>
<text x="214.9" y="421.6" font-size="2.5" fill="#555">KIR2DL4</text>
<rect x="29.9" y="423.6" width="183.7" height="6.3" fill="url(#hg14)"/>
<text x="214.9" y="427.3" font-size="2.5" fill="#555">CD300A</text>
<rect x="29.9" y="429.2" width="183.7" height="6.3" fill="url(#hg15)"/>
<text x="214.9" y="433.0" font-size="2.5" fill="#555">ITGB1</text>
<rect x="29.9" y="434.9" width="183.7" height="6.3" fill="url(#hg16)"/>
<text x="214.9" y="438.7" font-size="2.5" fill="#555">S100B</text>
<rect x="29.9" y="440.6" width="183.7" height="6.3" fill="url(#hg17)"/>
<text x="214.9" y="444.3" font-size="2.5" fill="#555">KLF2</text>
<rect x="29.9" y="446.3" width="183.7" height="6.3" fill="url(#hg18)"/>
<text x="214.9" y="450.0" font-size="2.5" fill="#555">FGFBP2</text>
<rect x="29.9" y="451.9" width="183.7" height="6.3" fill="url(#hg19)"/>
<text x="214.9" y="455.7" font-size="2.5" fill="#555">SMAD7</text>
<rect x="29.9" y="457.6" width="183.7" height="5.7" fill="url(#hg20)"/>
<text x="214.9" y="461.4" font-size="2.5" fill="#555">S1PR5</text>
<rect x="29.9" y="464.1" width="183.7" height="6.2" fill="url(#hg21)"/>
<text x="214.9" y="467.8" font-size="2.5" fill="#555">PLCB2</text>
<rect x="29.9" y="469.7" width="183.7" height="6.2" fill="url(#hg22)"/>
<text x="214.9" y="473.4" font-size="2.5" fill="#555">LEF1</text>
<rect x="29.9" y="475.3" width="183.7" height="6.2" fill="url(#hg23)"/>
<text x="214.9" y="479.1" font-size="2.5" fill="#555">CCR7</text>
<rect x="29.9" y="481.0" width="183.7" height="6.2" fill="url(#hg24)"/>
<text x="214.9" y="484.7" font-size="2.5" fill="#555">SELL</text>
<rect x="29.9" y="486.6" width="183.7" height="5.6" fill="url(#hg25)"/>
<text x="214.9" y="490.3" font-size="2.5" fill="#555">TCF7</text>
<rect x="29.9" y="493.1" width="183.7" height="6.3" fill="url(#hg26)"/>
<text x="214.9" y="496.9" font-size="2.5" fill="#555">ELF1</text>
<rect x="29.9" y="498.8" width="183.7" height="6.3" fill="url(#hg27)"/>
<text x="214.8" y="504.3" font-size="4.5" fill="#ff2a2a" font-weight="bold">JUND</text>
<rect x="29.9" y="504.5" width="183.7" height="6.3" fill="url(#hg28)"/>
<text x="214.8" y="510.0" font-size="4.5" fill="#ff2a2a" font-weight="bold">FOS</text>
<rect x="29.9" y="510.2" width="183.7" height="6.3" fill="url(#hg29)"/>
<text x="214.9" y="513.9" font-size="2.5" fill="#555">DUSP1</text>
<rect x="29.9" y="515.9" width="183.7" height="6.3" fill="url(#hg30)"/>
<text x="214.9" y="519.6" font-size="2.5" fill="#555">IER2</text>
<rect x="29.9" y="521.6" width="183.7" height="6.3" fill="url(#hg31)"/>
<text x="214.9" y="525.4" font-size="2.5" fill="#555">KLF6</text>
<rect x="29.9" y="527.3" width="183.7" height="5.7" fill="url(#hg32)"/>
<text x="214.9" y="531.0" font-size="2.5" fill="#555">JUN</text>
<defs><linearGradient id="hg0"><stop offset="0.000" stop-color="#84ffc2"/><stop offset="0.040" stop-color="#80ffe3"/><stop offset="0.080" stop-color="#80ffed"/><stop offset="0.120" stop-color="#80ffef"/><stop offset="0.160" stop-color="#80fff1"/><stop offset="0.200" stop-color="#80fff4"/><stop offset="0.240" stop-color="#80ffe6"/><stop offset="0.280" stop-color="#82ffc7"/><stop offset="0.320" stop-color="#8fffa8"/><stop offset="0.360" stop-color="#9fff89"/><stop offset="0.400" stop-color="#b3ff6c"/><stop offset="0.440" stop-color="#c7fe51"/><stop offset="0.480" stop-color="#d1fd47"/><stop offset="0.520" stop-color="#d8fb40"/><stop offset="0.560" stop-color="#dffa39"/><stop offset="0.600" stop-color="#eeee2b"/><stop offset="0.640" stop-color="#f7cc24"/><stop offset="0.680" stop-color="#fbac19"/><stop offset="0.720" stop-color="#f9bc1f"/><stop offset="0.760" stop-color="#f5d225"/><stop offset="0.800" stop-color="#ebf82d"/><stop offset="0.840" stop-color="#d0fd48"/><stop offset="0.880" stop-color="#b1ff6f"/><stop offset="0.920" stop-color="#89ffb7"/><stop offset="0.960" stop-color="#80fffa"/><stop offset="1.000" stop-color="#3c78ff"/></linearGradient><linearGradient id="hg1"><stop offset="0.000" stop-color="#2c54ff"/><stop offset="0.040" stop-color="#2f5bff"/><stop offset="0.080" stop-color="#3262ff"/><stop offset="0.120" stop-color="#4f9dff"/><stop offset="0.160" stop-color="#73e6ff"/><stop offset="0.200" stop-color="#80ffd4"/><stop offset="0.240" stop-color="#a8ff7c"/><stop offset="0.280" stop-color="#bfff5a"/><stop offset="0.320" stop-color="#c6fe52"/><stop offset="0.360" stop-color="#cbfe4d"/><stop offset="0.400" stop-color="#ccfe4c"/><stop offset="0.440" stop-color="#ccfd4c"/><stop offset="0.480" stop-color="#ccfd4c"/><stop offset="0.520" stop-color="#cdfd4b"/><stop offset="0.560" stop-color="#cdfd4b"/><stop offset="0.600" stop-color="#cefd4a"/><stop offset="0.640" stop-color="#cefd4a"/><stop offset="0.680" stop-color="#cffd49"/><stop offset="0.720" stop-color="#cffd49"/><stop offset="0.760" stop-color="#cefd4a"/><stop offset="0.800" stop-color="#cefd4a"/><stop offset="0.840" stop-color="#cdfd4b"/><stop offset="0.880" stop-color="#cdfd4b"/><stop offset="0.920" stop-color="#ccfd4c"/><stop offset="0.960" stop-color="#ccfe4c"/><stop offset="1.000" stop-color="#cbfe4d"/></linearGradient><linearGradient id="hg2"><stop offset="0.000" stop-color="#080cf3"/><stop offset="0.040" stop-color="#0a0ef5"/><stop offset="0.080" stop-color="#0b11f6"/><stop offset="0.120" stop-color="#3c78ff"/><stop offset="0.160" stop-color="#7cf6ff"/><stop offset="0.200" stop-color="#80fffe"/><stop offset="0.240" stop-color="#80fff5"/><stop offset="0.280" stop-color="#83ffc6"/><stop offset="0.320" stop-color="#93ff9e"/><stop offset="0.360" stop-color="#a6ff7f"/><stop offset="0.400" stop-color="#b9ff64"/><stop offset="0.440" stop-color="#c8fe50"/><stop offset="0.480" stop-color="#cbfe4d"/><stop offset="0.520" stop-color="#cbfe4d"/><stop offset="0.560" stop-color="#cbfe4d"/><stop offset="0.600" stop-color="#cbfe4d"/><stop offset="0.640" stop-color="#cbfe4d"/><stop offset="0.680" stop-color="#cbfe4d"/><stop offset="0.720" stop-color="#cbfe4d"/><stop offset="0.760" stop-color="#cbfe4d"/><stop offset="0.800" stop-color="#c9fe4f"/><stop offset="0.840" stop-color="#c8fe50"/><stop offset="0.880" stop-color="#c7fe51"/><stop offset="0.920" stop-color="#c6ff52"/><stop offset="0.960" stop-color="#c4ff54"/><stop offset="1.000" stop-color="#c3ff55"/></linearGradient><linearGradient id="hg3"><stop offset="0.000" stop-color="#54a8ff"/><stop offset="0.040" stop-color="#56adff"/><stop offset="0.080" stop-color="#59b2ff"/><stop offset="0.120" stop-color="#5bb7ff"/><stop offset="0.160" stop-color="#80ffff"/><stop offset="0.200" stop-color="#80fffd"/><stop offset="0.240" stop-color="#80fffa"/><stop offset="0.280" stop-color="#80fff8"/><stop offset="0.320" stop-color="#80fff6"/><stop offset="0.360" stop-color="#80ffde"/><stop offset="0.400" stop-color="#86ffbd"/><stop offset="0.440" stop-color="#92ffa1"/><stop offset="0.480" stop-color="#9fff89"/><stop offset="0.520" stop-color="#adff74"/><stop offset="0.560" stop-color="#b8ff65"/><stop offset="0.600" stop-color="#c3ff55"/><stop offset="0.640" stop-color="#c6fe52"/><stop offset="0.680" stop-color="#c9fe4f"/><stop offset="0.720" stop-color="#cdfd4b"/><stop offset="0.760" stop-color="#d0fd48"/><stop offset="0.800" stop-color="#d5fc43"/><stop offset="0.840" stop-color="#dafb3e"/><stop offset="0.880" stop-color="#dffa39"/><stop offset="0.920" stop-color="#e2fa36"/><stop offset="0.960" stop-color="#e4f934"/><stop offset="1.000" stop-color="#e7f931"/></linearGradient><linearGradient id="hg4"><stop offset="0.000" stop-color="#3466ff"/><stop offset="0.040" stop-color="#3a74ff"/><stop offset="0.080" stop-color="#5cb8ff"/><stop offset="0.120" stop-color="#61c1ff"/><stop offset="0.160" stop-color="#6ddaff"/><stop offset="0.200" stop-color="#80fffd"/><stop offset="0.240" stop-color="#80fff9"/><stop offset="0.280" stop-color="#80fff5"/><stop offset="0.320" stop-color="#80ffd2"/><stop offset="0.360" stop-color="#8dffac"/><stop offset="0.400" stop-color="#95ff98"/><stop offset="0.440" stop-color="#a4ff82"/><stop offset="0.480" stop-color="#b6ff69"/><stop offset="0.520" stop-color="#c7fe51"/><stop offset="0.560" stop-color="#ccfd4c"/><stop offset="0.600" stop-color="#d1fd47"/><stop offset="0.640" stop-color="#d6fc42"/><stop offset="0.680" stop-color="#d8fb40"/><stop offset="0.720" stop-color="#d8fb40"/><stop offset="0.760" stop-color="#d9fb3f"/><stop offset="0.800" stop-color="#dafb3e"/><stop offset="0.840" stop-color="#dbfb3d"/><stop offset="0.880" stop-color="#d9fb3f"/><stop offset="0.920" stop-color="#d7fb41"/><stop offset="0.960" stop-color="#d5fc43"/><stop offset="1.000" stop-color="#d3fc45"/></linearGradient><linearGradient id="hg5"><stop offset="0.000" stop-color="#6cd8ff"/><stop offset="0.040" stop-color="#6ddaff"/><stop offset="0.080" stop-color="#6edcff"/><stop offset="0.120" stop-color="#6fdeff"/><stop offset="0.160" stop-color="#80ffff"/><stop offset="0.200" stop-color="#80fffd"/><stop offset="0.240" stop-color="#80fffa"/><stop offset="0.280" stop-color="#80fff8"/><stop offset="0.320" stop-color="#80fff6"/><stop offset="0.360" stop-color="#80ffdd"/><stop offset="0.400" stop-color="#87ffbb"/><stop offset="0.440" stop-color="#94ff9c"/><stop offset="0.480" stop-color="#a3ff83"/><stop offset="0.520" stop-color="#b6ff69"/><stop offset="0.560" stop-color="#c6fe52"/><stop offset="0.600" stop-color="#d4fc44"/><stop offset="0.640" stop-color="#ddfa3b"/><stop offset="0.680" stop-color="#e1fa37"/><stop offset="0.720" stop-color="#e4f934"/><stop offset="0.760" stop-color="#e7f931"/><stop offset="0.800" stop-color="#e5f933"/><stop offset="0.840" stop-color="#e3f935"/><stop offset="0.880" stop-color="#e2fa36"/><stop offset="0.920" stop-color="#e1fa37"/><stop offset="0.960" stop-color="#e0fa38"/><stop offset="1.000" stop-color="#dffa39"/></linearGradient><linearGradient id="hg6"><stop offset="0.000" stop-color="#54a8ff"/><stop offset="0.040" stop-color="#57aeff"/><stop offset="0.080" stop-color="#5ab5ff"/><stop offset="0.120" stop-color="#75e9ff"/><stop offset="0.160" stop-color="#80fffd"/><stop offset="0.200" stop-color="#80fffb"/><stop offset="0.240" stop-color="#80fff9"/><stop offset="0.280" stop-color="#80fff6"/><stop offset="0.320" stop-color="#80ffe5"/><stop offset="0.360" stop-color="#84ffc4"/><stop offset="0.400" stop-color="#92ffa1"/><stop offset="0.440" stop-color="#9fff89"/><stop offset="0.480" stop-color="#b1ff6f"/><stop offset="0.520" stop-color="#beff5d"/><stop offset="0.560" stop-color="#c5ff53"/><stop offset="0.600" stop-color="#cbfe4d"/><stop offset="0.640" stop-color="#cbfe4d"/><stop offset="0.680" stop-color="#ccfd4c"/><stop offset="0.720" stop-color="#ccfd4c"/><stop offset="0.760" stop-color="#cdfd4b"/><stop offset="0.800" stop-color="#cdfd4b"/><stop offset="0.840" stop-color="#cdfd4b"/><stop offset="0.880" stop-color="#cefd4a"/><stop offset="0.920" stop-color="#cefd4a"/><stop offset="0.960" stop-color="#cffd49"/><stop offset="1.000" stop-color="#cffd49"/></linearGradient><linearGradient id="hg7"><stop offset="0.000" stop-color="#64c8ff"/><stop offset="0.040" stop-color="#66ccff"/><stop offset="0.080" stop-color="#68d1ff"/><stop offset="0.120" stop-color="#79f0ff"/><stop offset="0.160" stop-color="#80fffd"/><stop offset="0.200" stop-color="#80fffb"/><stop offset="0.240" stop-color="#80fff9"/><stop offset="0.280" stop-color="#80fff6"/><stop offset="0.320" stop-color="#80ffe5"/><stop offset="0.360" stop-color="#84ffc4"/><stop offset="0.400" stop-color="#92ffa1"/><stop offset="0.440" stop-color="#a3ff84"/><stop offset="0.480" stop-color="#b8ff65"/><stop offset="0.520" stop-color="#c9fe4f"/><stop offset="0.560" stop-color="#d6fc42"/><stop offset="0.600" stop-color="#e3f935"/><stop offset="0.640" stop-color="#e3f935"/><stop offset="0.680" stop-color="#e3f935"/><stop offset="0.720" stop-color="#e3f935"/><stop offset="0.760" stop-color="#e3f935"/><stop offset="0.800" stop-color="#dbfb3d"/><stop offset="0.840" stop-color="#cbfe4d"/><stop offset="0.880" stop-color="#b1ff6f"/><stop offset="0.920" stop-color="#92ffa1"/><stop offset="0.960" stop-color="#89ffb5"/><stop offset="1.000" stop-color="#84ffc2"/></linearGradient><linearGradient id="hg8"><stop offset="0.000" stop-color="#0406ef"/><stop offset="0.040" stop-color="#0609f1"/><stop offset="0.080" stop-color="#1c30ff"/><stop offset="0.120" stop-color="#4c98ff"/><stop offset="0.160" stop-color="#67ceff"/><stop offset="0.200" stop-color="#80fffe"/><stop offset="0.240" stop-color="#80fffa"/><stop offset="0.280" stop-color="#80fff7"/><stop offset="0.320" stop-color="#80ffe5"/><stop offset="0.360" stop-color="#84ffc4"/><stop offset="0.400" stop-color="#92ffa1"/><stop offset="0.440" stop-color="#9fff89"/><stop offset="0.480" stop-color="#b1ff6f"/><stop offset="0.520" stop-color="#c3ff55"/><stop offset="0.560" stop-color="#c4ff54"/><stop offset="0.600" stop-color="#c5ff53"/><stop offset="0.640" stop-color="#c6ff52"/><stop offset="0.680" stop-color="#c7fe51"/><stop offset="0.720" stop-color="#c7fe51"/><stop offset="0.760" stop-color="#c6fe52"/><stop offset="0.800" stop-color="#c6ff52"/><stop offset="0.840" stop-color="#c5ff53"/><stop offset="0.880" stop-color="#c5ff53"/><stop offset="0.920" stop-color="#c4ff54"/><stop offset="0.960" stop-color="#c4ff54"/><stop offset="1.000" stop-color="#c3ff55"/></linearGradient><linearGradient id="hg9"><stop offset="0.000" stop-color="#0406ef"/><stop offset="0.040" stop-color="#0a10f5"/><stop offset="0.080" stop-color="#4c98ff"/><stop offset="0.120" stop-color="#80fffe"/><stop offset="0.160" stop-color="#80fff9"/><stop offset="0.200" stop-color="#80fff5"/><stop offset="0.240" stop-color="#80ffe5"/><stop offset="0.280" stop-color="#80ffd5"/><stop offset="0.320" stop-color="#82ffc8"/><stop offset="0.360" stop-color="#87ffbc"/><stop offset="0.400" stop-color="#8bffb2"/><stop offset="0.440" stop-color="#8fffa6"/><stop offset="0.480" stop-color="#94ff9c"/><stop offset="0.520" stop-color="#98ff93"/><stop offset="0.560" stop-color="#9cff8d"/><stop offset="0.600" stop-color="#a1ff86"/><stop offset="0.640" stop-color="#a5ff80"/><stop offset="0.680" stop-color="#a9ff7a"/><stop offset="0.720" stop-color="#aeff74"/><stop offset="0.760" stop-color="#b7ff66"/><stop offset="0.800" stop-color="#cefd4a"/><stop offset="0.840" stop-color="#e3f935"/><stop offset="0.880" stop-color="#f6ce24"/><stop offset="0.920" stop-color="#fd9611"/><stop offset="0.960" stop-color="#ff7008"/><stop offset="1.000" stop-color="#ff6406"/></linearGradient><linearGradient id="hg10"><stop offset="0.000" stop-color="#0000eb"/><stop offset="0.040" stop-color="#0508f0"/><stop offset="0.080" stop-color="#3c78ff"/><stop offset="0.120" stop-color="#80ffff"/><stop offset="0.160" stop-color="#a8ff7c"/><stop offset="0.200" stop-color="#c3ff55"/><stop offset="0.240" stop-color="#c4ff54"/><stop offset="0.280" stop-color="#c6fe52"/><stop offset="0.320" stop-color="#c7fe51"/><stop offset="0.360" stop-color="#c9fe4f"/><stop offset="0.400" stop-color="#cafe4e"/><stop offset="0.440" stop-color="#c5ff53"/><stop offset="0.480" stop-color="#b6ff67"/><stop offset="0.520" stop-color="#a8ff7c"/><stop offset="0.560" stop-color="#9dff8c"/><stop offset="0.600" stop-color="#94ff9a"/><stop offset="0.640" stop-color="#93ff9e"/><stop offset="0.680" stop-color="#96ff97"/><stop offset="0.720" stop-color="#9bff8f"/><stop offset="0.760" stop-color="#a6ff7f"/><stop offset="0.800" stop-color="#c2ff56"/><stop offset="0.840" stop-color="#dbfb3d"/><stop offset="0.880" stop-color="#f9ba1e"/><stop offset="0.920" stop-color="#ff3700"/><stop offset="0.960" stop-color="#f32a03"/><stop offset="1.000" stop-color="#e71c06"/></linearGradient><linearGradient id="hg11"><stop offset="0.000" stop-color="#080cf3"/><stop offset="0.040" stop-color="#0d14f8"/><stop offset="0.080" stop-color="#4183ff"/><stop offset="0.120" stop-color="#80ffff"/><stop offset="0.160" stop-color="#80ffd0"/><stop offset="0.200" stop-color="#8cffb0"/><stop offset="0.240" stop-color="#92ffa1"/><stop offset="0.280" stop-color="#99ff92"/><stop offset="0.320" stop-color="#a0ff87"/><stop offset="0.360" stop-color="#a3ff84"/><stop offset="0.400" stop-color="#a5ff80"/><stop offset="0.440" stop-color="#a7ff7d"/><stop offset="0.480" stop-color="#a0ff88"/><stop offset="0.520" stop-color="#96ff97"/><stop offset="0.560" stop-color="#91ffa2"/><stop offset="0.600" stop-color="#90ffa5"/><stop offset="0.640" stop-color="#8fffa8"/><stop offset="0.680" stop-color="#8effab"/><stop offset="0.720" stop-color="#92ffa1"/><stop offset="0.760" stop-color="#9fff89"/><stop offset="0.800" stop-color="#b1ff6f"/><stop offset="0.840" stop-color="#d8fb40"/><stop offset="0.880" stop-color="#f8c823"/><stop offset="0.920" stop-color="#ff4d03"/><stop offset="0.960" stop-color="#ec2205"/><stop offset="1.000" stop-color="#e71c06"/></linearGradient><linearGradient id="hg12"><stop offset="0.000" stop-color="#80ffff"/><stop offset="0.040" stop-color="#80fffe"/><stop offset="0.080" stop-color="#80fffd"/><stop offset="0.120" stop-color="#80fffc"/><stop offset="0.160" stop-color="#80fffb"/><stop offset="0.200" stop-color="#80fffb"/><stop offset="0.240" stop-color="#80fffa"/><stop offset="0.280" stop-color="#80fff9"/><stop offset="0.320" stop-color="#80fff8"/><stop offset="0.360" stop-color="#80fff7"/><stop offset="0.400" stop-color="#80fff6"/><stop offset="0.440" stop-color="#80fff5"/><stop offset="0.480" stop-color="#80ffec"/><stop offset="0.520" stop-color="#80ffe0"/><stop offset="0.560" stop-color="#80ffd5"/><stop offset="0.600" stop-color="#80ffcf"/><stop offset="0.640" stop-color="#82ffc9"/><stop offset="0.680" stop-color="#84ffc2"/><stop offset="0.720" stop-color="#8cffaf"/><stop offset="0.760" stop-color="#96ff96"/><stop offset="0.800" stop-color="#baff62"/><stop offset="0.840" stop-color="#ebf82d"/><stop offset="0.880" stop-color="#fca416"/><stop offset="0.920" stop-color="#ff4602"/><stop offset="0.960" stop-color="#fb3301"/><stop offset="1.000" stop-color="#ef2504"/></linearGradient><linearGradient id="hg13"><stop offset="0.000" stop-color="#80ffff"/><stop offset="0.040" stop-color="#80fffe"/><stop offset="0.080" stop-color="#80fffd"/><stop offset="0.120" stop-color="#80fffc"/><stop offset="0.160" stop-color="#80fffb"/><stop offset="0.200" stop-color="#80fffb"/><stop offset="0.240" stop-color="#80fffa"/><stop offset="0.280" stop-color="#80fff9"/><stop offset="0.320" stop-color="#80fff8"/><stop offset="0.360" stop-color="#80fff7"/><stop offset="0.400" stop-color="#80fff6"/><stop offset="0.440" stop-color="#80fff5"/><stop offset="0.480" stop-color="#80ffec"/><stop offset="0.520" stop-color="#80ffe0"/><stop offset="0.560" stop-color="#80ffd5"/><stop offset="0.600" stop-color="#81ffcb"/><stop offset="0.640" stop-color="#85ffc1"/><stop offset="0.680" stop-color="#89ffb7"/><stop offset="0.720" stop-color="#90ffa4"/><stop offset="0.760" stop-color="#9fff89"/><stop offset="0.800" stop-color="#c3ff55"/><stop offset="0.840" stop-color="#f2e028"/><stop offset="0.880" stop-color="#ff6c07"/><stop offset="0.920" stop-color="#f93002"/><stop offset="0.960" stop-color="#ec2105"/><stop offset="1.000" stop-color="#df1308"/></linearGradient><linearGradient id="hg14"><stop offset="0.000" stop-color="#54a8ff"/><stop offset="0.040" stop-color="#58b0ff"/><stop offset="0.080" stop-color="#5cb8ff"/><stop offset="0.120" stop-color="#80fffe"/><stop offset="0.160" stop-color="#80fffc"/><stop offset="0.200" stop-color="#80fff9"/><stop offset="0.240" stop-color="#80fff7"/><stop offset="0.280" stop-color="#80fff0"/><stop offset="0.320" stop-color="#80ffde"/><stop offset="0.360" stop-color="#81ffcb"/><stop offset="0.400" stop-color="#89ffb7"/><stop offset="0.440" stop-color="#92ffa1"/><stop offset="0.480" stop-color="#9fff89"/><stop offset="0.520" stop-color="#adff74"/><stop offset="0.560" stop-color="#b8ff65"/><stop offset="0.600" stop-color="#c3ff55"/><stop offset="0.640" stop-color="#c7fe51"/><stop offset="0.680" stop-color="#cbfe4d"/><stop offset="0.720" stop-color="#cffd49"/><stop offset="0.760" stop-color="#d2fc46"/><stop offset="0.800" stop-color="#d6fc42"/><stop offset="0.840" stop-color="#dafb3e"/><stop offset="0.880" stop-color="#ebf72d"/><stop offset="0.920" stop-color="#f3db27"/><stop offset="0.960" stop-color="#f3d926"/><stop offset="1.000" stop-color="#f4d626"/></linearGradient><linearGradient id="hg15"><stop offset="0.000" stop-color="#5cb8ff"/><stop offset="0.040" stop-color="#60c0ff"/><stop offset="0.080" stop-color="#64c8ff"/><stop offset="0.120" stop-color="#80fffe"/><stop offset="0.160" stop-color="#80fffc"/><stop offset="0.200" stop-color="#80fffa"/><stop offset="0.240" stop-color="#80fff8"/><stop offset="0.280" stop-color="#80fff6"/><stop offset="0.320" stop-color="#80ffe8"/><stop offset="0.360" stop-color="#80ffcd"/><stop offset="0.400" stop-color="#8cffb0"/><stop offset="0.440" stop-color="#95ff99"/><stop offset="0.480" stop-color="#a1ff86"/><stop offset="0.520" stop-color="#adff74"/><stop offset="0.560" stop-color="#b8ff65"/><stop offset="0.600" stop-color="#c3ff55"/><stop offset="0.640" stop-color="#c7fe51"/><stop offset="0.680" stop-color="#cbfe4d"/><stop offset="0.720" stop-color="#cffd49"/><stop offset="0.760" stop-color="#d2fc46"/><stop offset="0.800" stop-color="#d6fc42"/><stop offset="0.840" stop-color="#dafb3e"/><stop offset="0.880" stop-color="#ebf82d"/><stop offset="0.920" stop-color="#f2de28"/><stop offset="0.960" stop-color="#f6d025"/><stop offset="1.000" stop-color="#f7cd24"/></linearGradient><linearGradient id="hg16"><stop offset="0.000" stop-color="#7af4ff"/><stop offset="0.040" stop-color="#7cf7ff"/><stop offset="0.080" stop-color="#7dfaff"/><stop offset="0.120" stop-color="#7ffdff"/><stop offset="0.160" stop-color="#80fffe"/><stop offset="0.200" stop-color="#80fffc"/><stop offset="0.240" stop-color="#80fff9"/><stop offset="0.280" stop-color="#80fff6"/><stop offset="0.320" stop-color="#80ffe9"/><stop offset="0.360" stop-color="#80ffd1"/><stop offset="0.400" stop-color="#89ffb7"/><stop offset="0.440" stop-color="#93ff9d"/><stop offset="0.480" stop-color="#9fff89"/><stop offset="0.520" stop-color="#abff78"/><stop offset="0.560" stop-color="#b7ff66"/><stop offset="0.600" stop-color="#c3ff55"/><stop offset="0.640" stop-color="#c7fe51"/><stop offset="0.680" stop-color="#cbfe4d"/><stop offset="0.720" stop-color="#cffd49"/><stop offset="0.760" stop-color="#d2fc46"/><stop offset="0.800" stop-color="#d6fc42"/><stop offset="0.840" stop-color="#dafb3e"/><stop offset="0.880" stop-color="#e4f934"/><stop offset="0.920" stop-color="#edf22c"/><stop offset="0.960" stop-color="#eeec2b"/><stop offset="1.000" stop-color="#efea2a"/></linearGradient><linearGradient id="hg17"><stop offset="0.000" stop-color="#6ad3ff"/><stop offset="0.040" stop-color="#6edcff"/><stop offset="0.080" stop-color="#80ffff"/><stop offset="0.120" stop-color="#80fffd"/><stop offset="0.160" stop-color="#80fffb"/><stop offset="0.200" stop-color="#80fffa"/><stop offset="0.240" stop-color="#80fff8"/><stop offset="0.280" stop-color="#80fff6"/><stop offset="0.320" stop-color="#80ffe9"/><stop offset="0.360" stop-color="#80ffd1"/><stop offset="0.400" stop-color="#89ffb7"/><stop offset="0.440" stop-color="#93ff9d"/><stop offset="0.480" stop-color="#9fff89"/><stop offset="0.520" stop-color="#abff78"/><stop offset="0.560" stop-color="#b7ff66"/><stop offset="0.600" stop-color="#c3ff55"/><stop offset="0.640" stop-color="#cbfe4d"/><stop offset="0.680" stop-color="#d3fc45"/><stop offset="0.720" stop-color="#dbfb3d"/><stop offset="0.760" stop-color="#e3f935"/><stop offset="0.800" stop-color="#ebf82d"/><stop offset="0.840" stop-color="#f1e128"/><stop offset="0.880" stop-color="#f7ca23"/><stop offset="0.920" stop-color="#fab11b"/><stop offset="0.960" stop-color="#fc9e14"/><stop offset="1.000" stop-color="#fc9e14"/></linearGradient><linearGradient id="hg18"><stop offset="0.000" stop-color="#80ffff"/><stop offset="0.040" stop-color="#80fffe"/><stop offset="0.080" stop-color="#80fffd"/><stop offset="0.120" stop-color="#80fffc"/><stop offset="0.160" stop-color="#80fffa"/><stop offset="0.200" stop-color="#80fff9"/><stop offset="0.240" stop-color="#80fff8"/><stop offset="0.280" stop-color="#80fff7"/><stop offset="0.320" stop-color="#80fff6"/><stop offset="0.360" stop-color="#80ffec"/><stop offset="0.400" stop-color="#82ffc7"/><stop offset="0.440" stop-color="#92ffa0"/><stop offset="0.480" stop-color="#9fff89"/><stop offset="0.520" stop-color="#abff78"/><stop offset="0.560" stop-color="#b7ff66"/><stop offset="0.600" stop-color="#c3ff55"/><stop offset="0.640" stop-color="#cefd4a"/><stop offset="0.680" stop-color="#d8fb40"/><stop offset="0.720" stop-color="#e3f935"/><stop offset="0.760" stop-color="#ecf62c"/><stop offset="0.800" stop-color="#eeec2a"/><stop offset="0.840" stop-color="#f1e329"/><stop offset="0.880" stop-color="#f2de28"/><stop offset="0.920" stop-color="#f3db27"/><stop offset="0.960" stop-color="#f3db27"/><stop offset="1.000" stop-color="#f3db27"/></linearGradient><linearGradient id="hg19"><stop offset="0.000" stop-color="#80ffff"/><stop offset="0.040" stop-color="#80fffe"/><stop offset="0.080" stop-color="#80fffd"/><stop offset="0.120" stop-color="#80fffc"/><stop offset="0.160" stop-color="#80fffa"/><stop offset="0.200" stop-color="#80fff9"/><stop offset="0.240" stop-color="#80fff8"/><stop offset="0.280" stop-color="#80fff7"/><stop offset="0.320" stop-color="#80fff6"/><stop offset="0.360" stop-color="#80ffec"/><stop offset="0.400" stop-color="#82ffc7"/><stop offset="0.440" stop-color="#92ffa0"/><stop offset="0.480" stop-color="#a3ff84"/><stop offset="0.520" stop-color="#b3ff6c"/><stop offset="0.560" stop-color="#c4ff54"/><stop offset="0.600" stop-color="#d3fc45"/><stop offset="0.640" stop-color="#dbfb3d"/><stop offset="0.680" stop-color="#e3f935"/><stop offset="0.720" stop-color="#ebf82d"/><stop offset="0.760" stop-color="#ebf82d"/><stop offset="0.800" stop-color="#ebf82d"/><stop offset="0.840" stop-color="#e8f930"/><stop offset="0.880" stop-color="#e5f933"/><stop offset="0.920" stop-color="#e4f934"/><stop offset="0.960" stop-color="#e5f933"/><stop offset="1.000" stop-color="#e7f931"/></linearGradient><linearGradient id="hg20"><stop offset="0.000" stop-color="#80ffff"/><stop offset="0.040" stop-color="#80fffe"/><stop offset="0.080" stop-color="#80fffd"/><stop offset="0.120" stop-color="#80fffc"/><stop offset="0.160" stop-color="#80fffb"/><stop offset="0.200" stop-color="#80fffa"/><stop offset="0.240" stop-color="#80fff9"/><stop offset="0.280" stop-color="#80fff8"/><stop offset="0.320" stop-color="#80fff7"/><stop offset="0.360" stop-color="#80fff6"/><stop offset="0.400" stop-color="#80fff5"/><stop offset="0.440" stop-color="#80ffd1"/><stop offset="0.480" stop-color="#8effaa"/><stop offset="0.520" stop-color="#9cff8d"/><stop offset="0.560" stop-color="#a8ff7c"/><stop offset="0.600" stop-color="#b4ff6b"/><stop offset="0.640" stop-color="#c0ff59"/><stop offset="0.680" stop-color="#c6fe52"/><stop offset="0.720" stop-color="#cafe4e"/><stop offset="0.760" stop-color="#cffd49"/><stop offset="0.800" stop-color="#d3fc45"/><stop offset="0.840" stop-color="#d3fc45"/><stop offset="0.880" stop-color="#d3fc45"/><stop offset="0.920" stop-color="#d3fc45"/><stop offset="0.960" stop-color="#d3fc45"/><stop offset="1.000" stop-color="#d3fc45"/></linearGradient><linearGradient id="hg21"><stop offset="0.000" stop-color="#e71c06"/><stop offset="0.040" stop-color="#ec2105"/><stop offset="0.080" stop-color="#ff3c01"/><stop offset="0.120" stop-color="#f7cb24"/><stop offset="0.160" stop-color="#edf12c"/><stop offset="0.200" stop-color="#e3f935"/><stop offset="0.240" stop-color="#d6fc42"/><stop offset="0.280" stop-color="#c9fe4f"/><stop offset="0.320" stop-color="#beff5d"/><stop offset="0.360" stop-color="#b3ff6c"/><stop offset="0.400" stop-color="#a8ff7c"/><stop offset="0.440" stop-color="#9dff8c"/><stop offset="0.480" stop-color="#94ff9a"/><stop offset="0.520" stop-color="#8fffa6"/><stop offset="0.560" stop-color="#8bffb2"/><stop offset="0.600" stop-color="#87ffbc"/><stop offset="0.640" stop-color="#82ffc8"/><stop offset="0.680" stop-color="#80ffd2"/><stop offset="0.720" stop-color="#80ffd8"/><stop offset="0.760" stop-color="#80ffd9"/><stop offset="0.800" stop-color="#80ffda"/><stop offset="0.840" stop-color="#80ffdc"/><stop offset="0.880" stop-color="#80ffdd"/><stop offset="0.920" stop-color="#80ffde"/><stop offset="0.960" stop-color="#80ffe0"/><stop offset="1.000" stop-color="#80ffe1"/></linearGradient><linearGradient id="hg22"><stop offset="0.000" stop-color="#ff3700"/><stop offset="0.040" stop-color="#ff4302"/><stop offset="0.080" stop-color="#ff4f03"/><stop offset="0.120" stop-color="#fd9912"/><stop offset="0.160" stop-color="#f1e128"/><stop offset="0.200" stop-color="#e8f830"/><stop offset="0.240" stop-color="#e3f935"/><stop offset="0.280" stop-color="#defa3a"/><stop offset="0.320" stop-color="#d5fc43"/><stop offset="0.360" stop-color="#c8fe50"/><stop offset="0.400" stop-color="#baff62"/><stop offset="0.440" stop-color="#adff74"/><stop offset="0.480" stop-color="#a1ff86"/><stop offset="0.520" stop-color="#95ff98"/><stop offset="0.560" stop-color="#8fffa8"/><stop offset="0.600" stop-color="#89ffb7"/><stop offset="0.640" stop-color="#84ffc4"/><stop offset="0.680" stop-color="#80ffd1"/><stop offset="0.720" stop-color="#80ffdd"/><stop offset="0.760" stop-color="#80ffe9"/><stop offset="0.800" stop-color="#80fff5"/><stop offset="0.840" stop-color="#80fff7"/><stop offset="0.880" stop-color="#80fff9"/><stop offset="0.920" stop-color="#80fffb"/><stop offset="0.960" stop-color="#80fffd"/><stop offset="1.000" stop-color="#80ffff"/></linearGradient><linearGradient id="hg23"><stop offset="0.000" stop-color="#ff3700"/><stop offset="0.040" stop-color="#ff4602"/><stop offset="0.080" stop-color="#ff5504"/><stop offset="0.120" stop-color="#fc9e14"/><stop offset="0.160" stop-color="#f1e128"/><stop offset="0.200" stop-color="#ecf52c"/><stop offset="0.240" stop-color="#e6f932"/><stop offset="0.280" stop-color="#dffa39"/><stop offset="0.320" stop-color="#d5fc43"/><stop offset="0.360" stop-color="#c8fe50"/><stop offset="0.400" stop-color="#baff62"/><stop offset="0.440" stop-color="#acff77"/><stop offset="0.480" stop-color="#9dff8c"/><stop offset="0.520" stop-color="#92ff9f"/><stop offset="0.560" stop-color="#8bffb0"/><stop offset="0.600" stop-color="#84ffc2"/><stop offset="0.640" stop-color="#80ffd3"/><stop offset="0.680" stop-color="#80ffdf"/><stop offset="0.720" stop-color="#80ffea"/><stop offset="0.760" stop-color="#80fff4"/><stop offset="0.800" stop-color="#80ffff"/><stop offset="0.840" stop-color="#80ffff"/><stop offset="0.880" stop-color="#80ffff"/><stop offset="0.920" stop-color="#80ffff"/><stop offset="0.960" stop-color="#80ffff"/><stop offset="1.000" stop-color="#80ffff"/></linearGradient><linearGradient id="hg24"><stop offset="0.000" stop-color="#ff820a"/><stop offset="0.040" stop-color="#fe880c"/><stop offset="0.080" stop-color="#fe8d0e"/><stop offset="0.120" stop-color="#f9ba1e"/><stop offset="0.160" stop-color="#f0e529"/><stop offset="0.200" stop-color="#ebf82d"/><stop offset="0.240" stop-color="#e5f933"/><stop offset="0.280" stop-color="#defa3a"/><stop offset="0.320" stop-color="#d7fc41"/><stop offset="0.360" stop-color="#cefd4a"/><stop offset="0.400" stop-color="#c6ff52"/><stop offset="0.440" stop-color="#bcff5f"/><stop offset="0.480" stop-color="#afff72"/><stop offset="0.520" stop-color="#a1ff86"/><stop offset="0.560" stop-color="#94ff9a"/><stop offset="0.600" stop-color="#8dffac"/><stop offset="0.640" stop-color="#85ffc1"/><stop offset="0.680" stop-color="#80ffd4"/><stop offset="0.720" stop-color="#80ffe7"/><stop offset="0.760" stop-color="#80fff5"/><stop offset="0.800" stop-color="#80fff7"/><stop offset="0.840" stop-color="#80fff9"/><stop offset="0.880" stop-color="#80fffa"/><stop offset="0.920" stop-color="#80fffc"/><stop offset="0.960" stop-color="#80fffd"/><stop offset="1.000" stop-color="#80ffff"/></linearGradient><linearGradient id="hg25"><stop offset="0.000" stop-color="#f5d225"/><stop offset="0.040" stop-color="#f5d526"/><stop offset="0.080" stop-color="#f4d826"/><stop offset="0.120" stop-color="#f3db27"/><stop offset="0.160" stop-color="#ebf82d"/><stop offset="0.200" stop-color="#e6f932"/><stop offset="0.240" stop-color="#e2fa36"/><stop offset="0.280" stop-color="#ddfa3b"/><stop offset="0.320" stop-color="#d5fc43"/><stop offset="0.360" stop-color="#c8fe50"/><stop offset="0.400" stop-color="#baff62"/><stop offset="0.440" stop-color="#aeff73"/><stop offset="0.480" stop-color="#a2ff85"/><stop offset="0.520" stop-color="#96ff96"/><stop offset="0.560" stop-color="#90ffa6"/><stop offset="0.600" stop-color="#87ffbb"/><stop offset="0.640" stop-color="#80ffcf"/><stop offset="0.680" stop-color="#80ffe2"/><stop offset="0.720" stop-color="#80ffec"/><stop offset="0.760" stop-color="#80ffef"/><stop offset="0.800" stop-color="#80fff2"/><stop offset="0.840" stop-color="#80fff4"/><stop offset="0.880" stop-color="#80fff7"/><stop offset="0.920" stop-color="#80fffa"/><stop offset="0.960" stop-color="#80fffc"/><stop offset="1.000" stop-color="#80ffff"/></linearGradient><linearGradient id="hg26"><stop offset="0.000" stop-color="#0000eb"/><stop offset="0.040" stop-color="#0b10f6"/><stop offset="0.080" stop-color="#4183ff"/><stop offset="0.120" stop-color="#80ffff"/><stop offset="0.160" stop-color="#80ffe6"/><stop offset="0.200" stop-color="#80ffcd"/><stop offset="0.240" stop-color="#90ffa5"/><stop offset="0.280" stop-color="#aaff79"/><stop offset="0.320" stop-color="#beff5c"/><stop offset="0.360" stop-color="#c7fe51"/><stop offset="0.400" stop-color="#cffd49"/><stop offset="0.440" stop-color="#d7fc41"/><stop offset="0.480" stop-color="#dffa39"/><stop offset="0.520" stop-color="#e3f935"/><stop offset="0.560" stop-color="#e3f935"/><stop offset="0.600" stop-color="#e3f935"/><stop offset="0.640" stop-color="#dbfb3d"/><stop offset="0.680" stop-color="#d3fc45"/><stop offset="0.720" stop-color="#cbfe4d"/><stop offset="0.760" stop-color="#beff5c"/><stop offset="0.800" stop-color="#b0ff70"/><stop offset="0.840" stop-color="#a2ff84"/><stop offset="0.880" stop-color="#96ff96"/><stop offset="0.920" stop-color="#90ffa5"/><stop offset="0.960" stop-color="#8affb3"/><stop offset="1.000" stop-color="#84ffc2"/></linearGradient><linearGradient id="hg27"><stop offset="0.000" stop-color="#1c30ff"/><stop offset="0.040" stop-color="#366aff"/><stop offset="0.080" stop-color="#75e9ff"/><stop offset="0.120" stop-color="#7af4ff"/><stop offset="0.160" stop-color="#80ffff"/><stop offset="0.200" stop-color="#80fff5"/><stop offset="0.240" stop-color="#84ffc4"/><stop offset="0.280" stop-color="#9aff90"/><stop offset="0.320" stop-color="#c3ff55"/><stop offset="0.360" stop-color="#c5ff53"/><stop offset="0.400" stop-color="#c8fe50"/><stop offset="0.440" stop-color="#cafe4e"/><stop offset="0.480" stop-color="#c1ff58"/><stop offset="0.520" stop-color="#b3ff6c"/><stop offset="0.560" stop-color="#a4ff81"/><stop offset="0.600" stop-color="#96ff96"/><stop offset="0.640" stop-color="#8effaa"/><stop offset="0.680" stop-color="#86ffbe"/><stop offset="0.720" stop-color="#80ffd1"/><stop offset="0.760" stop-color="#80ffe3"/><stop offset="0.800" stop-color="#80fff5"/><stop offset="0.840" stop-color="#80fff7"/><stop offset="0.880" stop-color="#80fff9"/><stop offset="0.920" stop-color="#80fffc"/><stop offset="0.960" stop-color="#80fffe"/><stop offset="1.000" stop-color="#6ad3ff"/></linearGradient><linearGradient id="hg28"><stop offset="0.000" stop-color="#80ffcd"/><stop offset="0.040" stop-color="#87ffbb"/><stop offset="0.080" stop-color="#8fffa8"/><stop offset="0.120" stop-color="#96ff96"/><stop offset="0.160" stop-color="#b6ff67"/><stop offset="0.200" stop-color="#d5fc43"/><stop offset="0.240" stop-color="#edf22c"/><stop offset="0.280" stop-color="#f3da27"/><stop offset="0.320" stop-color="#f5d325"/><stop offset="0.360" stop-color="#f1e228"/><stop offset="0.400" stop-color="#ebf82d"/><stop offset="0.440" stop-color="#dbfb3d"/><stop offset="0.480" stop-color="#cbfe4d"/><stop offset="0.520" stop-color="#bdff5e"/><stop offset="0.560" stop-color="#b1ff6f"/><stop offset="0.600" stop-color="#a5ff80"/><stop offset="0.640" stop-color="#99ff92"/><stop offset="0.680" stop-color="#8effaa"/><stop offset="0.720" stop-color="#84ffc4"/><stop offset="0.760" stop-color="#80ffdd"/><stop offset="0.800" stop-color="#80fff5"/><stop offset="0.840" stop-color="#80fff7"/><stop offset="0.880" stop-color="#80fff9"/><stop offset="0.920" stop-color="#80fffb"/><stop offset="0.960" stop-color="#80fffd"/><stop offset="1.000" stop-color="#80ffff"/></linearGradient><linearGradient id="hg29"><stop offset="0.000" stop-color="#92ffa1"/><stop offset="0.040" stop-color="#9bff8e"/><stop offset="0.080" stop-color="#aaff79"/><stop offset="0.120" stop-color="#bcff5f"/><stop offset="0.160" stop-color="#d0fd48"/><stop offset="0.200" stop-color="#e3f935"/><stop offset="0.240" stop-color="#e9f82f"/><stop offset="0.280" stop-color="#edf22c"/><stop offset="0.320" stop-color="#ecf32c"/><stop offset="0.360" stop-color="#e7f931"/><stop offset="0.400" stop-color="#dafb3e"/><stop offset="0.440" stop-color="#c7fe51"/><stop offset="0.480" stop-color="#b3ff6d"/><stop offset="0.520" stop-color="#9fff89"/><stop offset="0.560" stop-color="#92ffa1"/><stop offset="0.600" stop-color="#89ffb7"/><stop offset="0.640" stop-color="#80ffcd"/><stop offset="0.680" stop-color="#80ffe1"/><stop offset="0.720" stop-color="#80ffec"/><stop offset="0.760" stop-color="#80ffef"/><stop offset="0.800" stop-color="#80fff2"/><stop offset="0.840" stop-color="#80fff4"/><stop offset="0.880" stop-color="#80fff7"/><stop offset="0.920" stop-color="#80fffa"/><stop offset="0.960" stop-color="#80fffc"/><stop offset="1.000" stop-color="#80ffff"/></linearGradient><linearGradient id="hg30"><stop offset="0.000" stop-color="#80ffcd"/><stop offset="0.040" stop-color="#89ffb7"/><stop offset="0.080" stop-color="#92ffa1"/><stop offset="0.120" stop-color="#a6ff7f"/><stop offset="0.160" stop-color="#c6fe52"/><stop offset="0.200" stop-color="#e3f935"/><stop offset="0.240" stop-color="#eeec2a"/><stop offset="0.280" stop-color="#f2dd27"/><stop offset="0.320" stop-color="#f1e329"/><stop offset="0.360" stop-color="#edf12c"/><stop offset="0.400" stop-color="#e3f935"/><stop offset="0.440" stop-color="#cdfd4b"/><stop offset="0.480" stop-color="#b5ff6a"/><stop offset="0.520" stop-color="#9fff89"/><stop offset="0.560" stop-color="#92ffa1"/><stop offset="0.600" stop-color="#89ffb7"/><stop offset="0.640" stop-color="#80ffcd"/><stop offset="0.680" stop-color="#80ffe1"/><stop offset="0.720" stop-color="#80ffec"/><stop offset="0.760" stop-color="#80ffed"/><stop offset="0.800" stop-color="#80ffee"/><stop offset="0.840" stop-color="#80fff0"/><stop offset="0.880" stop-color="#80fff1"/><stop offset="0.920" stop-color="#80fff2"/><stop offset="0.960" stop-color="#80fff4"/><stop offset="1.000" stop-color="#80fff5"/></linearGradient><linearGradient id="hg31"><stop offset="0.000" stop-color="#80ffd7"/><stop offset="0.040" stop-color="#84ffc2"/><stop offset="0.080" stop-color="#8dffac"/><stop offset="0.120" stop-color="#9dff8c"/><stop offset="0.160" stop-color="#beff5d"/><stop offset="0.200" stop-color="#dbfb3d"/><stop offset="0.240" stop-color="#ebf82d"/><stop offset="0.280" stop-color="#f0e529"/><stop offset="0.320" stop-color="#efea2a"/><stop offset="0.360" stop-color="#ecf32c"/><stop offset="0.400" stop-color="#dffa39"/><stop offset="0.440" stop-color="#cffd49"/><stop offset="0.480" stop-color="#bcff5f"/><stop offset="0.520" stop-color="#a6ff7f"/><stop offset="0.560" stop-color="#94ff9b"/><stop offset="0.600" stop-color="#8cffb0"/><stop offset="0.640" stop-color="#83ffc5"/><stop offset="0.680" stop-color="#80ffd8"/><stop offset="0.720" stop-color="#80ffeb"/><stop offset="0.760" stop-color="#80ffee"/><stop offset="0.800" stop-color="#80fff1"/><stop offset="0.840" stop-color="#80fff4"/><stop offset="0.880" stop-color="#80ffe2"/><stop offset="0.920" stop-color="#82ffc9"/><stop offset="0.960" stop-color="#8affb4"/><stop offset="1.000" stop-color="#92ffa1"/></linearGradient><linearGradient id="hg32"><stop offset="0.000" stop-color="#80ffcd"/><stop offset="0.040" stop-color="#87ffbb"/><stop offset="0.080" stop-color="#8fffa8"/><stop offset="0.120" stop-color="#96ff96"/><stop offset="0.160" stop-color="#beff5c"/><stop offset="0.200" stop-color="#e3f935"/><stop offset="0.240" stop-color="#efe82a"/><stop offset="0.280" stop-color="#f3db27"/><stop offset="0.320" stop-color="#f3db27"/><stop offset="0.360" stop-color="#f0e729"/><stop offset="0.400" stop-color="#e5f933"/><stop offset="0.440" stop-color="#d0fd48"/><stop offset="0.480" stop-color="#b8ff65"/><stop offset="0.520" stop-color="#9fff89"/><stop offset="0.560" stop-color="#93ff9e"/><stop offset="0.600" stop-color="#8bffb1"/><stop offset="0.640" stop-color="#83ffc4"/><stop offset="0.680" stop-color="#80ffd7"/><stop offset="0.720" stop-color="#80ffe8"/><stop offset="0.760" stop-color="#80fff3"/><stop offset="0.800" stop-color="#80ffed"/><stop offset="0.840" stop-color="#80ffe7"/><stop offset="0.880" stop-color="#80ffe1"/><stop offset="0.920" stop-color="#84ffc4"/><stop offset="0.960" stop-color="#90ffa5"/><stop offset="1.000" stop-color="#9fff89"/></linearGradient><linearGradient id="cbar" x1="0" x2="0" y1="1" y2="0"><stop offset="0.000" stop-color="#0000eb"/><stop offset="0.042" stop-color="#0a0ff5"/><stop offset="0.083" stop-color="#141eff"/><stop offset="0.125" stop-color="#284bff"/><stop offset="0.167" stop-color="#3c78ff"/><stop offset="0.208" stop-color="#50a0ff"/><stop offset="0.250" stop-color="#64c8ff"/><stop offset="0.292" stop-color="#72e4ff"/><stop offset="0.333" stop-color="#80ffff"/><stop offset="0.375" stop-color="#80ffe6"/><stop offset="0.417" stop-color="#80ffcd"/><stop offset="0.458" stop-color="#8bffb2"/><stop offset="0.500" stop-color="#96ff96"/><stop offset="0.542" stop-color="#acff76"/><stop offset="0.583" stop-color="#c3ff55"/><stop offset="0.625" stop-color="#d7fc41"/><stop offset="0.667" stop-color="#ebf82d"/><stop offset="0.708" stop-color="#f2e028"/><stop offset="0.750" stop-color="#f8c823"/><stop offset="0.792" stop-color="#fca516"/><stop offset="0.833" stop-color="#ff820a"/><stop offset="0.875" stop-color="#ff5c05"/><stop offset="0.917" stop-color="#ff3700"/><stop offset="0.958" stop-color="#eb2005"/><stop offset="1.000" stop-color="#d70a0a"/></linearGradient></defs>
<rect x="26.7" y="342.9" width="2.8" height="51.1" fill="#7fe6e6"/>
<rect x="26.7" y="395.2" width="2.8" height="68.1" fill="#f08a80"/>
<rect x="26.7" y="464.1" width="2.8" height="28.1" fill="#9acd32"/>
<rect x="26.7" y="493.1" width="2.8" height="39.9" fill="#d89ae8"/>
<path d="M24.8 345.0L24.8 392.0" stroke="#333" stroke-width="0.4"/>
<path d="M24.8 345.0L26.7 345.0" stroke="#333" stroke-width="0.3"/>
<path d="M24.8 392.0L26.7 392.0" stroke="#333" stroke-width="0.3"/>
<path d="M24.2 397.0L24.2 461.0" stroke="#333" stroke-width="0.4"/>
<path d="M24.2 397.0L26.7 397.0" stroke="#333" stroke-width="0.3"/>
<path d="M24.2 461.0L26.7 461.0" stroke="#333" stroke-width="0.3"/>
<path d="M23.2 368.0L23.2 430.0" stroke="#333" stroke-width="0.4"/>
<path d="M23.2 368.0L24.8 368.0" stroke="#333" stroke-width="0.3"/>
<path d="M23.2 430.0L24.2 430.0" stroke="#333" stroke-width="0.3"/>
<path d="M25.0 466.0L25.0 490.0" stroke="#333" stroke-width="0.4"/>
<path d="M25.0 466.0L26.7 466.0" stroke="#333" stroke-width="0.3"/>
<path d="M25.0 490.0L26.7 490.0" stroke="#333" stroke-width="0.3"/>
<path d="M24.4 495.0L24.4 531.0" stroke="#333" stroke-width="0.4"/>
<path d="M24.4 495.0L26.7 495.0" stroke="#333" stroke-width="0.3"/>
<path d="M24.4 531.0L26.7 531.0" stroke="#333" stroke-width="0.3"/>
<path d="M22.6 478.0L22.6 512.0" stroke="#333" stroke-width="0.4"/>
<path d="M22.6 478.0L25.0 478.0" stroke="#333" stroke-width="0.3"/>
<path d="M22.6 512.0L24.4 512.0" stroke="#333" stroke-width="0.3"/>
<path d="M21.6 399.0L21.6 495.0" stroke="#333" stroke-width="0.4"/>
<path d="M21.6 399.0L23.2 399.0" stroke="#333" stroke-width="0.3"/>
<path d="M21.6 495.0L22.6 495.0" stroke="#333" stroke-width="0.3"/>
<path d="M20.6 447.0L21.6 447.0" stroke="#333" stroke-width="0.3"/>
<text x="22.0" y="537.5" font-size="2.4" fill="#555">E</text>
<rect x="228.3" y="342.9" width="4.4" height="34.0" fill="url(#cbar)"/>
<text x="234.0" y="344.6" font-size="2" fill="#444">3</text>
<text x="234.0" y="350.2" font-size="2" fill="#444">2</text>
<text x="234.0" y="355.7" font-size="2" fill="#444">1</text>
<text x="234.0" y="361.2" font-size="2" fill="#444">0</text>
<text x="234.0" y="366.8" font-size="2" fill="#444">-1</text>
<text x="234.0" y="372.4" font-size="2" fill="#444">-2</text>
<text x="234.0" y="377.9" font-size="2" fill="#444">-3</text>
<text x="237.1" y="343.6" font-size="1.9" fill="#333" font-weight="bold">Cluster</text>
<rect x="237.1" y="344.3" width="3.4" height="2.0" fill="#9acd32"/>
<text x="241.0" y="345.9" font-size="1.6" fill="#444">1</text>
<rect x="237.1" y="346.6" width="3.4" height="2.0" fill="#f08a80"/>
<text x="241.0" y="348.1" font-size="1.6" fill="#444">2</text>
<rect x="237.1" y="348.8" width="3.4" height="2.0" fill="#7fe6e6"/>
<text x="241.0" y="350.4" font-size="1.6" fill="#444">3</text>
<rect x="237.1" y="351.1" width="3.4" height="2.0" fill="#d89ae8"/>
<text x="241.0" y="352.6" font-size="1.6" fill="#444">4</text>
</svg></body></html>
